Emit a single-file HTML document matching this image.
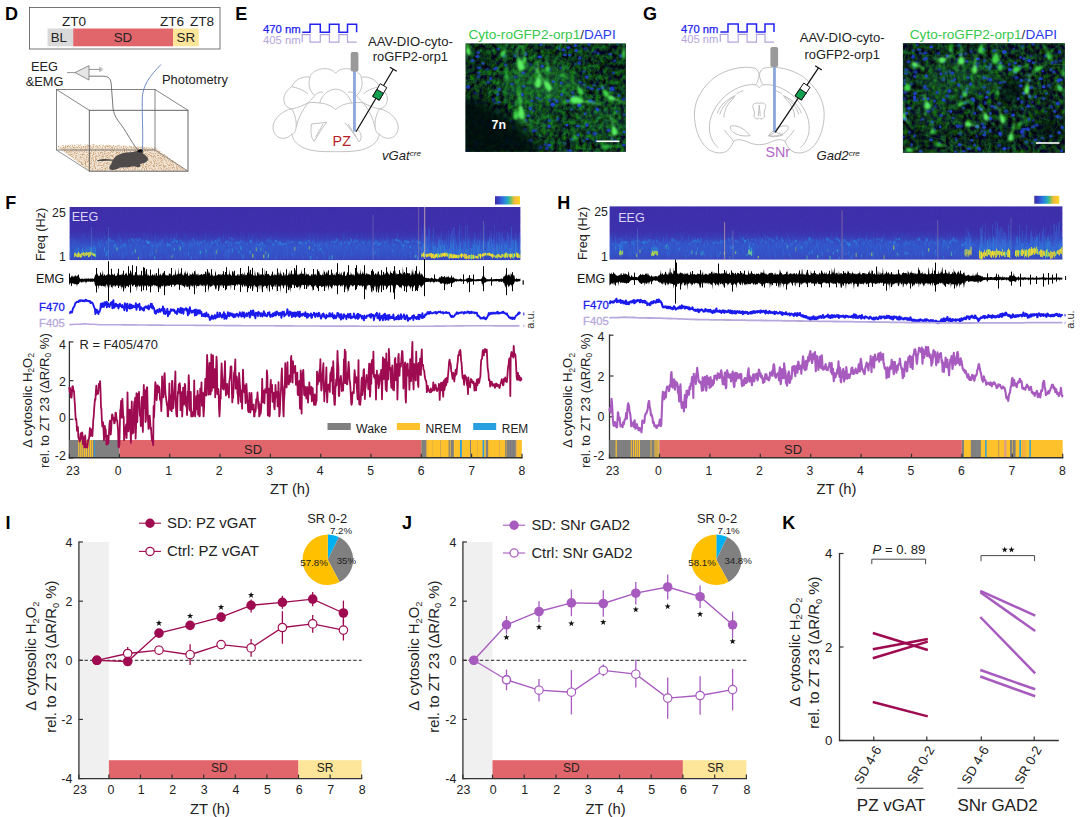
<!DOCTYPE html>
<html><head><meta charset="utf-8"><title>Figure</title>
<style>
html,body{margin:0;padding:0;background:#fff;}
body{width:1080px;height:817px;overflow:hidden;font-family:"Liberation Sans",sans-serif;}
svg{display:block;font-family:"Liberation Sans",sans-serif;}
</style></head><body>
<svg width="1080" height="817" viewBox="0 0 1080 817">
<defs>
<filter id="bedN" x="0" y="0" width="100%" height="100%" color-interpolation-filters="sRGB"><feTurbulence type="fractalNoise" baseFrequency="0.9" numOctaves="2" seed="4"/><feColorMatrix type="matrix" values="0 0 0 0 0.78  0 0 0 0 0.62  0 0 0 0 0.45  0 0 0 3.2 -1.35"/><feComposite in2="SourceGraphic" operator="in"/></filter>
<clipPath id="clipE"><rect x="465.6" y="43.5" width="160.2" height="108.3"/></clipPath>
<filter id="gnE" x="0" y="0" width="100%" height="100%" color-interpolation-filters="sRGB"><feTurbulence type="fractalNoise" baseFrequency="0.24 0.2" numOctaves="3" seed="11"/><feColorMatrix type="matrix" values="0.10 0 0 0 0.0  0.9 0 0 0 -0.24  0 0.30 0 0 -0.04  0 0 0 0 1"/></filter>
<filter id="b1E" x="-30%" y="-30%" width="160%" height="160%"><feGaussianBlur stdDeviation="0.9"/></filter>
<filter id="b2E" x="-30%" y="-30%" width="160%" height="160%"><feGaussianBlur stdDeviation="0.75"/></filter>
<filter id="b3E" x="-30%" y="-30%" width="160%" height="160%"><feGaussianBlur stdDeviation="6"/></filter>
<clipPath id="clipG"><rect x="902.9" y="43.3" width="161.9" height="109.5"/></clipPath>
<filter id="gnG" x="0" y="0" width="100%" height="100%" color-interpolation-filters="sRGB"><feTurbulence type="fractalNoise" baseFrequency="0.24 0.2" numOctaves="3" seed="23"/><feColorMatrix type="matrix" values="0.10 0 0 0 0.0  0.8 0 0 0 -0.23  0 0.30 0 0 -0.04  0 0 0 0 1"/></filter>
<filter id="b1G" x="-30%" y="-30%" width="160%" height="160%"><feGaussianBlur stdDeviation="0.9"/></filter>
<filter id="b2G" x="-30%" y="-30%" width="160%" height="160%"><feGaussianBlur stdDeviation="0.75"/></filter>
<filter id="b3G" x="-30%" y="-30%" width="160%" height="160%"><feGaussianBlur stdDeviation="6"/></filter>
<clipPath id="scF"><rect x="69.4" y="207" width="451.2" height="53.2"/></clipPath>
<linearGradient id="sgF" x1="0" y1="0" x2="0" y2="1"><stop offset="0" stop-color="#3e2ea8"/><stop offset="0.45" stop-color="#3d30ac"/><stop offset="0.56" stop-color="#3b38b2"/><stop offset="0.66" stop-color="#364cc2"/><stop offset="0.74" stop-color="#3358cc"/><stop offset="0.88" stop-color="#3454c8"/><stop offset="0.96" stop-color="#384cc0"/><stop offset="1" stop-color="#3b42b8"/></linearGradient>
<filter id="snF" x="0" y="0" width="100%" height="100%" color-interpolation-filters="sRGB"><feTurbulence type="fractalNoise" baseFrequency="0.6 0.10" numOctaves="2" seed="3"/><feColorMatrix type="matrix" values="0 0 0 0 0.18  0 0 0 0 0.44  0 0 0 0 0.85  2.0 0 0 0 -1.02"/></filter>
<filter id="sn2F" x="0" y="0" width="100%" height="100%" color-interpolation-filters="sRGB"><feTurbulence type="fractalNoise" baseFrequency="0.8 0.3" numOctaves="1" seed="8"/><feColorMatrix type="matrix" values="0 0 0 0 0.27  0 0 0 0 0.24  0 0 0 0 0.74  1.6 0 0 0 -0.62"/></filter>
<linearGradient id="smF" x1="0" y1="0" x2="0" y2="1"><stop offset="0" stop-color="#fff" stop-opacity="0"/><stop offset="0.46" stop-color="#fff" stop-opacity="0"/><stop offset="0.64" stop-color="#fff" stop-opacity="1"/><stop offset="1" stop-color="#fff" stop-opacity="0.8"/></linearGradient><mask id="mkF" maskUnits="userSpaceOnUse" x="69.4" y="207" width="451.2" height="53.2"><rect x="69.4" y="207" width="451.2" height="53.2" fill="url(#smF)"/></mask>
<filter id="sbF" x="-10%" y="-40%" width="120%" height="180%"><feGaussianBlur stdDeviation="0.55 0.7"/></filter>
<linearGradient id="cbF" x1="0" y1="0" x2="1" y2="0"><stop offset="0" stop-color="#3b2ea4"/><stop offset="0.15" stop-color="#3a42c6"/><stop offset="0.35" stop-color="#2a7ce0"/><stop offset="0.5" stop-color="#22a6c2"/><stop offset="0.62" stop-color="#5cc070"/><stop offset="0.72" stop-color="#c6c040"/><stop offset="0.8" stop-color="#f8ba3c"/><stop offset="1" stop-color="#f9d821"/></linearGradient>
<clipPath id="scH"><rect x="609.4" y="206.2" width="453.2" height="53.5"/></clipPath>
<linearGradient id="sgH" x1="0" y1="0" x2="0" y2="1"><stop offset="0" stop-color="#3e2ea8"/><stop offset="0.45" stop-color="#3d30ac"/><stop offset="0.56" stop-color="#3b38b2"/><stop offset="0.66" stop-color="#364cc2"/><stop offset="0.74" stop-color="#3358cc"/><stop offset="0.88" stop-color="#3454c8"/><stop offset="0.96" stop-color="#384cc0"/><stop offset="1" stop-color="#3b42b8"/></linearGradient>
<filter id="snH" x="0" y="0" width="100%" height="100%" color-interpolation-filters="sRGB"><feTurbulence type="fractalNoise" baseFrequency="0.6 0.10" numOctaves="2" seed="9"/><feColorMatrix type="matrix" values="0 0 0 0 0.18  0 0 0 0 0.44  0 0 0 0 0.85  2.0 0 0 0 -1.02"/></filter>
<filter id="sn2H" x="0" y="0" width="100%" height="100%" color-interpolation-filters="sRGB"><feTurbulence type="fractalNoise" baseFrequency="0.8 0.3" numOctaves="1" seed="14"/><feColorMatrix type="matrix" values="0 0 0 0 0.27  0 0 0 0 0.24  0 0 0 0 0.74  1.6 0 0 0 -0.62"/></filter>
<linearGradient id="smH" x1="0" y1="0" x2="0" y2="1"><stop offset="0" stop-color="#fff" stop-opacity="0"/><stop offset="0.46" stop-color="#fff" stop-opacity="0"/><stop offset="0.64" stop-color="#fff" stop-opacity="1"/><stop offset="1" stop-color="#fff" stop-opacity="0.8"/></linearGradient><mask id="mkH" maskUnits="userSpaceOnUse" x="609.4" y="206.2" width="453.2" height="53.5"><rect x="609.4" y="206.2" width="453.2" height="53.5" fill="url(#smH)"/></mask>
<filter id="sbH" x="-10%" y="-40%" width="120%" height="180%"><feGaussianBlur stdDeviation="0.55 0.7"/></filter>
<linearGradient id="cbH" x1="0" y1="0" x2="1" y2="0"><stop offset="0" stop-color="#3b2ea4"/><stop offset="0.15" stop-color="#3a42c6"/><stop offset="0.35" stop-color="#2a7ce0"/><stop offset="0.5" stop-color="#22a6c2"/><stop offset="0.62" stop-color="#5cc070"/><stop offset="0.72" stop-color="#c6c040"/><stop offset="0.8" stop-color="#f8ba3c"/><stop offset="1" stop-color="#f9d821"/></linearGradient>
</defs>
<rect x="0" y="0" width="1080" height="817" fill="#fff"/>
<g id="panelD">
<text x="5" y="20" font-size="18" fill="#000" font-weight="bold">D</text>
<rect x="29.5" y="7.5" width="190.5" height="41.5" fill="none" stroke="#555" stroke-width="0.8"/>
<rect x="47.5" y="28.5" width="25.7" height="17.8" fill="#d9d9d9"/>
<rect x="73.2" y="28.5" width="99.8" height="17.8" fill="#e1666b"/>
<rect x="173" y="28.5" width="25.8" height="17.8" fill="#fde59a"/>
<text x="62" y="25.6" font-size="13.6" fill="#222">ZT0</text>
<text x="160" y="25.6" font-size="13.6" fill="#222">ZT6</text>
<text x="190" y="25.6" font-size="13.6" fill="#222">ZT8</text>
<text x="58.8" y="42.3" font-size="13.3" fill="#222" text-anchor="middle">BL</text>
<text x="123" y="42.3" font-size="13.3" fill="#222" text-anchor="middle">SD</text>
<text x="185.8" y="42.3" font-size="13.3" fill="#222" text-anchor="middle">SR</text>
<text x="44.5" y="71" font-size="12.8" fill="#222" text-anchor="middle">EEG</text>
<text x="44.5" y="85.6" font-size="12.8" fill="#222" text-anchor="middle">&amp;EMG</text>
<text x="162" y="84" font-size="12.9" fill="#222">Photometry</text>
<line x1="67" y1="72.6" x2="75" y2="72.6" stroke="#777" stroke-width="0.8"/>
<path d="M75 72.6 L89 65.6 L89 80 Z" fill="#e6e6e6" stroke="#777" stroke-width="0.8"/>
<line x1="89" y1="69.4" x2="100" y2="69.4" stroke="#777" stroke-width="0.8"/>
<line x1="100" y1="66.8" x2="100" y2="72" stroke="#777" stroke-width="0.8"/>
<line x1="101.3" y1="67.8" x2="101.3" y2="71" stroke="#888" stroke-width="0.6"/>
<line x1="102.4" y1="68.6" x2="102.4" y2="70.2" stroke="#999" stroke-width="0.6"/>
<path d="M57 147 C80 144 120 146 155 148 L188 171 L89.5 171 Z" fill="#f3e6d6" stroke="none" stroke-width="0"/>
<path d="M57 146 C80 143 120 145 155 147.5 L188 171 L89.5 171 Z" fill="#c9a077" stroke="none" stroke-width="0" filter="url(#bedN)"/>
<rect x="56.5" y="89.5" width="98.5" height="60.5" fill="none" stroke="#666" stroke-width="0.8"/>
<rect x="89.3" y="110.3" width="98.7" height="60.9" fill="none" stroke="#555" stroke-width="0.9"/>
<line x1="56.5" y1="89.5" x2="89.3" y2="110.3" stroke="#666" stroke-width="0.8"/>
<line x1="155" y1="89.5" x2="188" y2="110.3" stroke="#666" stroke-width="0.8"/>
<line x1="56.5" y1="150" x2="89.3" y2="171.2" stroke="#777" stroke-width="0.8"/>
<line x1="155" y1="150" x2="188" y2="171.2" stroke="#777" stroke-width="0.8"/>
<path d="M89 76.2 L103 76.2 C109 76.2 111 79 111.3 85 L113 108 C114 118 120 122 126 132 C131 140 134 146 138.5 150.5" fill="none" stroke="#555" stroke-width="0.8"/>
<path d="M161 64.5 C150 76 143.5 84 142.3 97 C141.8 115 143.5 135 142.3 151" fill="none" stroke="#5f7fc0" stroke-width="0.9"/>
<path d="M97 160.5 C103 158.5 108 159 113 159.8 C116 155 122 152.5 130 152.3 C134 152.2 136.5 151 138.5 150.2 C141 149.5 143.5 151 143 153.4 C146 155 148.5 158 148 160 C147 162.5 143 163.5 140 164 C141.5 166 140 167.6 137.5 167 L133 166.3 C129 167.5 124 167.3 120 167.6 C117.5 169.5 113 170.4 110 169.6 C108.5 168 109.5 165.5 111.5 164 C111.5 162.5 112 161.5 112.8 160.8 C108 160.6 102 161 97 161.2 Z" fill="#4f4b4b" stroke="none" stroke-width="0"/>
<path d="M137.2 151.3 C138.5 149 141.5 148.6 142.8 150.6 C142.6 152.6 139.5 153.3 137.2 151.3 Z" fill="#111" stroke="none" stroke-width="0"/>
</g>
<g id="panelE">
<text x="235.3" y="20.3" font-size="18" fill="#000" font-weight="bold">E</text>
<text x="263" y="33.2" font-size="11.3" fill="#2222f2" stroke="#2222f2" stroke-width="0.25">470 nm</text>
<text x="263" y="43.6" font-size="11.3" fill="#b4a4dc">405 nm</text>
<path d="M302.2 32.2 L302.2 32.2 L310 32.2 L310 24.2 L320.3 24.2 L320.3 32.2 L329.4 32.2 L329.4 24.2 L338.9 24.2 L338.9 32.2 L347.5 32.2 L347.5 24.2 L356.6 24.2 L356.6 32.2" fill="none" stroke="#2222f2" stroke-width="1.5"/>
<path d="M302.2 42.2 L302.2 34.6 L310 34.6 L310 42.2 L320.3 42.2 L320.3 34.6 L329.4 34.6 L329.4 42.2 L338.9 42.2 L338.9 34.6 L347.5 34.6 L347.5 42.2 L356.6 42.2" fill="none" stroke="#b4a4dc" stroke-width="1.2"/>
<g transform="translate(262 55) scale(0.13889)" fill="none" stroke="#bebebe" stroke-width="6.8" stroke-linejoin="round">
<path d="M530 132 C510 104 470 94 430 100 C390 106 352 128 345 160 C295 150 232 178 215 228 C172 255 148 300 160 338 C166 366 188 384 214 388 C150 400 88 452 80 510 C74 562 108 600 150 600 C184 600 200 584 214 570 C224 610 240 630 262 646 C330 698 430 696 530 696 M530 132 C550 104 590 94 630 100 C670 106 708 128 715 160 C765 150 828 178 845 228 C888 255 912 300 900 338 C894 366 872 384 846 388 C910 400 972 452 980 510 C986 562 952 600 910 600 C876 600 860 584 846 570 C836 610 820 630 798 646 C730 698 630 696 530 696"/>
<path d="M345 160 C330 215 345 265 380 292 C360 320 340 335 330 345 M214 388 C260 380 300 360 330 345 C360 340 390 342 415 346 M415 346 C430 290 480 246 530 246 M415 346 C455 348 495 362 530 392 M380 292 C395 270 420 262 440 268 M214 388 C235 420 250 470 246 520 C240 560 226 572 214 570 M330 345 C290 400 262 450 246 520 M215 228 C250 236 300 250 330 280 M715 160 C730 215 715 265 680 292 C700 320 720 335 730 345 M846 388 C800 380 760 360 730 345 C700 340 670 342 645 346 M645 346 C630 290 580 246 530 246 M645 346 C605 348 565 362 530 392 M680 292 C665 270 640 262 620 268 M846 388 C825 420 810 470 814 520 C820 560 834 572 846 570 M730 345 C770 400 798 450 814 520 M845 228 C810 236 760 250 730 280"/>
<path d="M356 497 L466 485 C430 530 400 580 376 622 C350 600 350 540 356 497 Z M440 497 C420 530 400 565 386 592"/>
<path d="M595 487 C630 520 660 570 700 626 C722 600 716 560 690 540 M620 497 C640 530 660 560 680 590"/>
</g>
<rect x="353" y="70" width="2.9" height="61.5" fill="#8ea9dc"/>
<rect x="350.7" y="52" width="7.7" height="19.6" rx="1.8" fill="#9a9a9a"/>
<line x1="356" y1="131.8" x2="393.3" y2="69.3" stroke="#111" stroke-width="1.25"/>
<line x1="389.9" y1="67.3" x2="396.7" y2="71.3" stroke="#111" stroke-width="1.25"/>
<polygon points="372.7,96.4 379.3,100.2 386.8,87.6 380.3,83.7" fill="#fff" stroke="#111" stroke-width="1"/>
<polygon points="372.7,96.4 379.3,100.2 383.4,93.3 376.9,89.4" fill="#12a150" stroke="#111" stroke-width="1"/>
<text x="410.4" y="45.6" font-size="13.1" fill="#222" text-anchor="middle">AAV-DIO-cyto-</text>
<text x="410.4" y="61.1" font-size="12.9" fill="#222" text-anchor="middle">roGFP2-orp1</text>
<text x="332.6" y="146.2" font-size="14.3" fill="#b5202a">PZ</text>
<text x="382" y="160" font-size="13.1" fill="#222" font-style="italic">vGat<tspan font-size="8.1" dy="-4.2">cre</tspan></text>
</g>
<g id="panelG">
<text x="643" y="20.4" font-size="18" fill="#000" font-weight="bold">G</text>
<text x="681" y="32.6" font-size="11.2" fill="#2222f2" stroke="#2222f2" stroke-width="0.25">470 nm</text>
<text x="681" y="43" font-size="11.2" fill="#b4a4dc">405 nm</text>
<path d="M720.3 32 L720.3 32 L728 32 L728 24.1 L738.2 24.1 L738.2 32 L747.1 32 L747.1 24.1 L756.5 24.1 L756.5 32 L765 32 L765 24.1 L774 24.1 L774 32" fill="none" stroke="#2222f2" stroke-width="1.5"/>
<path d="M720.3 42.1 L720.3 34.4 L728 34.4 L728 42.1 L738.2 42.1 L738.2 34.4 L747.1 34.4 L747.1 42.1 L756.5 42.1 L756.5 34.4 L765 34.4 L765 42.1 L774 42.1" fill="none" stroke="#b4a4dc" stroke-width="1.2"/>
<g transform="translate(685 55) scale(0.13889)" fill="none" stroke="#bcbcbc" stroke-width="6.8" stroke-linejoin="round">
<path d="M535 142 C528 112 515 98 498 94 C420 76 300 100 215 160 C130 225 70 320 68 420 C66 520 100 620 160 672 C200 706 262 716 300 692 C322 676 338 650 350 622 C380 600 420 612 450 626 C480 640 510 646 535 646 M535 142 C542 112 555 98 572 94 C650 76 770 100 855 160 C940 225 1000 320 1002 420 C1004 520 970 620 910 672 C870 706 808 716 770 692 C748 676 732 650 720 622 C690 600 650 612 620 626 C590 640 560 646 535 646"/>
<path d="M535 142 C528 180 520 205 505 215 M535 236 C525 222 515 216 505 215 C440 205 350 240 285 300 C215 365 170 450 176 540 C180 590 205 640 240 668 M420 258 C400 262 385 270 372 282 M362 292 C300 318 250 365 232 420 M352 300 C300 335 265 380 250 428 M362 292 C355 300 350 305 345 318 C305 350 282 400 280 450 M350 622 C330 590 300 570 285 540 M330 512 C370 500 430 530 468 580 C420 590 360 575 335 545 C325 532 324 520 330 512 M535 348 C505 340 482 352 490 380 C498 402 505 420 496 440 C505 462 525 466 535 452 M535 360 L528 440 M535 142 C542 180 550 205 565 215 M535 236 C545 222 555 216 565 215 C630 205 720 240 785 300 C855 365 900 450 894 540 C890 590 865 640 830 668 M650 258 C670 262 685 270 698 282 M708 292 C770 318 820 365 838 420 M718 300 C770 335 805 380 820 428 M708 292 C715 300 720 305 725 318 C765 350 788 400 790 450 M720 622 C740 590 770 570 785 540 M740 512 C700 500 640 530 602 580 C650 590 710 575 735 545 C745 532 746 520 740 512 M535 348 C565 340 588 352 580 380 C572 402 565 420 574 440 C565 462 545 466 535 452 M535 360 L542 440"/>
<path d="M600 582 L652 555 L706 575 C670 590 630 592 600 582 Z"/>
</g>
<rect x="773" y="66" width="2.9" height="66" fill="#8ea9dc"/>
<rect x="770.4" y="47" width="7.7" height="20" rx="1.8" fill="#9a9a9a"/>
<line x1="775.2" y1="132.4" x2="818.5" y2="67.9" stroke="#111" stroke-width="1.25"/>
<line x1="815.2" y1="65.7" x2="821.8" y2="70.1" stroke="#111" stroke-width="1.25"/>
<polygon points="795.1,95.9 801.4,100.1 810.1,87.3 803.7,83.1" fill="#fff" stroke="#111" stroke-width="1"/>
<polygon points="795.1,95.9 801.4,100.1 806.2,93.1 799.9,88.8" fill="#12a150" stroke="#111" stroke-width="1"/>
<text x="842.2" y="42.2" font-size="13.1" fill="#222" text-anchor="middle">AAV-DIO-cyto-</text>
<text x="842.2" y="58.6" font-size="12.9" fill="#222" text-anchor="middle">roGFP2-orp1</text>
<text x="765.5" y="157.2" font-size="14.3" fill="#b266c8">SNr</text>
<text x="816.6" y="160.2" font-size="13.1" fill="#222" font-style="italic">Gad2<tspan font-size="8.1" dy="-4.2">cre</tspan></text>
</g>
<g clip-path="url(#clipE)">
<rect x="465.6" y="43.5" width="160.2" height="108.3" fill="#0a2a12"/>
<rect x="465.6" y="43.5" width="160.2" height="108.3" fill="#0a2a12" filter="url(#gnE)"/>
<ellipse cx="540" cy="85" rx="40" ry="22" fill="#2fb84a" opacity="0.3" filter="url(#b3E)"/>
<ellipse cx="600" cy="120" rx="30" ry="20" fill="#2fb84a" opacity="0.18" filter="url(#b3E)"/>
<ellipse cx="535" cy="125" rx="22" ry="14" fill="#2fb84a" opacity="0.2" filter="url(#b3E)"/>
<ellipse cx="475" cy="60" rx="14" ry="12" fill="#03100c" opacity="0.35" filter="url(#b3E)"/>
<ellipse cx="615" cy="60" rx="14" ry="10" fill="#03100c" opacity="0.3" filter="url(#b3E)"/>
<g stroke="#2fae3c" stroke-width="0.7" opacity="0.4" fill="none" filter="url(#b2E)">
<path d="M538.1 104.1 q0.1 0.7 -13.1 3.2"/>
<path d="M495.2 98.9 q-3.2 -1.6 -7.4 17.2"/>
<path d="M480.1 131.2 q3.9 3.7 -3.8 5.5"/>
<path d="M570.4 110.2 q0.2 -3.5 5.5 3"/>
<path d="M496.1 69.7 q-0.5 2.7 13.4 1.3"/>
<path d="M548.8 112.8 q-0.3 -1.8 0 16.6"/>
<path d="M625.4 151.3 q-1.5 -2.2 -15.2 8.3"/>
<path d="M511.9 51.1 q2.8 -0.9 -9.2 8.3"/>
<path d="M619.1 135.3 q3.3 -0.2 9.4 0"/>
<path d="M622.7 86.5 q2.2 -1.8 15.7 3.7"/>
<path d="M479.6 79.5 q-3.1 -2 -18 2"/>
<path d="M481.8 50 q0.5 -0.4 -7.1 5.3"/>
<path d="M496.1 122.8 q-3.1 -0.6 14.9 6.5"/>
<path d="M499.7 72.7 q-1.6 3.1 -18.8 1.7"/>
<path d="M499.4 86.2 q-3.2 3.9 -14.6 7.2"/>
<path d="M499.8 71.5 q-1.6 -3.4 -8.5 7.4"/>
<path d="M480 106.6 q-1 -0.4 11.3 10.8"/>
<path d="M619.3 95.9 q-2.5 -2.8 -4.6 19.3"/>
<path d="M611.1 132.1 q1.9 3.5 6.4 6.4"/>
<path d="M497.1 146.4 q-0.6 -3.2 -14.6 5.7"/>
<path d="M471.8 147.8 q-1.9 2.6 12.7 11.8"/>
<path d="M561.2 75.3 q-3.4 -2.2 14.9 9.2"/>
<path d="M555.2 135.8 q3.3 -2.4 -3.7 9.8"/>
<path d="M468.3 72.7 q-2.6 -1 1.2 6.9"/>
<path d="M557.3 57.7 q3.8 1.3 8.5 18.4"/>
<path d="M576.3 106.8 q-3.9 3.3 5.9 2.8"/>
<path d="M577.9 147.8 q-0.1 1.8 16.1 1.1"/>
<path d="M516.7 151.7 q1.9 3.2 14.3 3.5"/>
<path d="M583.7 119.7 q-1.2 1.5 -16.4 12.5"/>
<path d="M609.9 137.8 q2.9 0.6 4.8 18"/>
<path d="M565.7 84.9 q-3.4 1.1 -4 15.2"/>
<path d="M624.7 138.8 q1.9 0.6 -8 9.2"/>
<path d="M536.2 134.3 q-3.8 0.8 17.4 4.7"/>
<path d="M542.6 68.4 q0.9 3.4 -8.1 11.3"/>
<path d="M506.6 44.7 q-2.4 -2.6 9.9 13.7"/>
<path d="M610.7 115 q-1.4 1.3 3.7 19.9"/>
<path d="M497.4 90.2 q3 -0.9 -16.9 11.8"/>
<path d="M559 77.8 q2.7 2.8 12.7 5.8"/>
<path d="M579.5 146.4 q-0.4 -1.8 5.6 6.7"/>
<path d="M499.9 88.3 q-1.5 2.7 -5.3 12.8"/>
<path d="M622.9 92.5 q3 -3.7 6.3 1.5"/>
<path d="M579.1 105.3 q-3.8 -2.9 10.5 15.4"/>
<path d="M538.5 46.2 q-2.9 -3.6 -8.4 5"/>
<path d="M566.4 91.9 q2.5 3.7 -6.5 15.1"/>
<path d="M575.3 65.1 q-3.9 -0.2 0.7 8.8"/>
<path d="M580 62.9 q1.6 0.2 7.6 8.7"/>
<path d="M564 125.4 q3.2 -3.3 6.1 17.6"/>
<path d="M615 121.7 q1 3.3 12.2 5.3"/>
<path d="M526 105.1 q3.6 -0.3 -17.4 6.9"/>
<path d="M569.9 65.7 q1.1 1.7 -12.3 14.6"/>
<path d="M499.8 141 q0.3 2.3 -21.6 1.3"/>
<path d="M516.9 142.1 q-3.3 -0.5 -10.4 5.1"/>
<path d="M553.8 126.7 q2.5 -3.5 0.3 6.4"/>
<path d="M593.7 62.2 q-2.9 -2.8 9.2 16.2"/>
<path d="M548.3 121.9 q3.6 -0.1 -14.9 8.2"/>
<path d="M617.7 52.8 q-1.7 1.8 11.1 9.2"/>
<path d="M567.9 100.1 q-1.5 -1 -13.2 7.1"/>
<path d="M601 141 q3.7 0.2 15.6 11.9"/>
<path d="M557.4 65.3 q0.8 -3.8 -1.6 14"/>
<path d="M620.9 99.4 q0.5 -0.1 5.8 17.9"/>
</g>
<g fill="#2243dc" filter="url(#b2E)">
<ellipse cx="576.3" cy="50.6" rx="1.8" ry="1.5" opacity="0.9"/>
<ellipse cx="613.5" cy="72.7" rx="1.8" ry="1.3" opacity="0.6"/>
<ellipse cx="596.3" cy="141" rx="1.8" ry="1.5" opacity="0.5"/>
<ellipse cx="564.6" cy="143.7" rx="1.4" ry="1.8" opacity="0.4"/>
<ellipse cx="496.7" cy="68.1" rx="2" ry="1.5" opacity="0.6"/>
<ellipse cx="564.9" cy="54.9" rx="2" ry="1.3" opacity="0.7"/>
<ellipse cx="505.7" cy="64.9" rx="1.8" ry="1.5" opacity="0.6"/>
<ellipse cx="531.8" cy="100.8" rx="1.5" ry="1.4" opacity="0.7"/>
<ellipse cx="567.9" cy="100.9" rx="2.2" ry="1.7" opacity="0.8"/>
<ellipse cx="502.9" cy="123.7" rx="2.1" ry="1.9" opacity="0.6"/>
<ellipse cx="516.1" cy="143.4" rx="1.5" ry="2" opacity="0.8"/>
<ellipse cx="487.1" cy="69.4" rx="2" ry="1.4" opacity="0.4"/>
<ellipse cx="598.9" cy="89.2" rx="2.1" ry="1.3" opacity="0.6"/>
<ellipse cx="575.4" cy="45.4" rx="1.5" ry="1.7" opacity="0.9"/>
<ellipse cx="620.7" cy="56" rx="1.8" ry="1.8" opacity="0.7"/>
<ellipse cx="575.4" cy="64" rx="1.4" ry="1.3" opacity="0.4"/>
<ellipse cx="554" cy="99.3" rx="1.9" ry="1.3" opacity="0.5"/>
<ellipse cx="498.3" cy="134.5" rx="2.3" ry="1.9" opacity="0.4"/>
<ellipse cx="475.5" cy="146.5" rx="1.8" ry="1.8" opacity="0.6"/>
<ellipse cx="540.4" cy="99.3" rx="1.7" ry="1.7" opacity="0.4"/>
<ellipse cx="577.9" cy="134.9" rx="1.5" ry="1.6" opacity="0.8"/>
<ellipse cx="530.5" cy="64.6" rx="1.5" ry="1.6" opacity="0.4"/>
<ellipse cx="608.7" cy="130.3" rx="2" ry="1.9" opacity="0.7"/>
<ellipse cx="530.4" cy="108.4" rx="1.8" ry="2" opacity="0.8"/>
<ellipse cx="507" cy="142.2" rx="2" ry="1.8" opacity="0.8"/>
<ellipse cx="530.6" cy="140.6" rx="2.2" ry="1.8" opacity="0.8"/>
<ellipse cx="588.2" cy="87.4" rx="2" ry="1.3" opacity="0.6"/>
<ellipse cx="540.7" cy="44.6" rx="1.7" ry="1.7" opacity="0.7"/>
<ellipse cx="502.8" cy="145.8" rx="2" ry="1.5" opacity="0.7"/>
<ellipse cx="556.8" cy="101.2" rx="1.7" ry="2" opacity="0.7"/>
<ellipse cx="577.9" cy="126" rx="2.3" ry="1.2" opacity="0.7"/>
<ellipse cx="584" cy="71.3" rx="1.7" ry="1.2" opacity="0.5"/>
<ellipse cx="525.8" cy="54.2" rx="1.6" ry="1.9" opacity="0.7"/>
<ellipse cx="547" cy="148.2" rx="1.9" ry="2" opacity="0.7"/>
<ellipse cx="595.3" cy="51.8" rx="1.9" ry="1.8" opacity="0.4"/>
<ellipse cx="614.6" cy="60.8" rx="1.8" ry="1.3" opacity="0.6"/>
<ellipse cx="563.5" cy="49.8" rx="2.2" ry="1.5" opacity="0.7"/>
<ellipse cx="561.4" cy="83.1" rx="1.6" ry="1.7" opacity="0.7"/>
<ellipse cx="511" cy="121.1" rx="1.6" ry="1.2" opacity="0.5"/>
<ellipse cx="472.5" cy="60.5" rx="2.1" ry="1.5" opacity="0.8"/>
<ellipse cx="585.5" cy="48.9" rx="2.3" ry="2" opacity="0.4"/>
<ellipse cx="610.7" cy="90" rx="1.8" ry="2" opacity="0.5"/>
<ellipse cx="549.4" cy="145" rx="2" ry="1.6" opacity="0.9"/>
<ellipse cx="596.4" cy="108.9" rx="1.4" ry="1.7" opacity="0.6"/>
<ellipse cx="498.2" cy="49.1" rx="1.8" ry="1.3" opacity="0.6"/>
<ellipse cx="572.6" cy="92.8" rx="1.6" ry="1.7" opacity="0.6"/>
<ellipse cx="590.2" cy="101" rx="2.3" ry="2" opacity="0.8"/>
<ellipse cx="503.8" cy="55.8" rx="2.2" ry="1.8" opacity="0.7"/>
<ellipse cx="523.1" cy="72.9" rx="2" ry="1.7" opacity="0.7"/>
<ellipse cx="567" cy="125.1" rx="1.5" ry="1.4" opacity="0.9"/>
<ellipse cx="612.3" cy="138.7" rx="1.3" ry="1.2" opacity="0.5"/>
<ellipse cx="533.7" cy="111" rx="1.4" ry="1.6" opacity="0.4"/>
<ellipse cx="479.4" cy="116.7" rx="1.9" ry="1.7" opacity="0.6"/>
<ellipse cx="542.3" cy="66.3" rx="1.6" ry="1.8" opacity="0.8"/>
<ellipse cx="477.5" cy="56.5" rx="2.1" ry="1.7" opacity="0.8"/>
<ellipse cx="499.7" cy="89.5" rx="1.6" ry="1.8" opacity="0.6"/>
<ellipse cx="570.3" cy="150.6" rx="1.6" ry="1.6" opacity="0.8"/>
<ellipse cx="613.1" cy="89.8" rx="1.7" ry="1.3" opacity="0.8"/>
<ellipse cx="478.2" cy="52.5" rx="1.9" ry="1.6" opacity="0.7"/>
<ellipse cx="513.5" cy="127.5" rx="1.4" ry="1.4" opacity="0.7"/>
<ellipse cx="478.7" cy="76.4" rx="2" ry="1.8" opacity="0.5"/>
<ellipse cx="488.5" cy="82.2" rx="2" ry="1.5" opacity="0.5"/>
<ellipse cx="579.2" cy="105.2" rx="2.2" ry="2" opacity="0.9"/>
<ellipse cx="535.8" cy="130.5" rx="1.6" ry="1.5" opacity="0.6"/>
<ellipse cx="615.3" cy="140.4" rx="1.5" ry="1.5" opacity="0.6"/>
<ellipse cx="523.8" cy="86.3" rx="1.7" ry="1.4" opacity="0.7"/>
<ellipse cx="593.3" cy="102" rx="2.1" ry="1.7" opacity="0.5"/>
<ellipse cx="587.2" cy="138.9" rx="1.6" ry="1.2" opacity="0.7"/>
<ellipse cx="552.8" cy="105" rx="2.3" ry="1.7" opacity="0.8"/>
<ellipse cx="475.9" cy="102.7" rx="2.1" ry="1.3" opacity="0.4"/>
<ellipse cx="583.7" cy="140.9" rx="1.4" ry="1.7" opacity="0.5"/>
<ellipse cx="585.1" cy="113.8" rx="1.5" ry="1.4" opacity="0.8"/>
<ellipse cx="549.2" cy="126.3" rx="1.7" ry="1.5" opacity="0.9"/>
<ellipse cx="573.3" cy="97" rx="1.8" ry="1.8" opacity="0.8"/>
<ellipse cx="612.2" cy="88" rx="2.1" ry="1.7" opacity="0.8"/>
<ellipse cx="594.7" cy="133.8" rx="2.2" ry="2" opacity="0.7"/>
<ellipse cx="549.5" cy="120.4" rx="2.1" ry="1.5" opacity="0.6"/>
<ellipse cx="489" cy="123.8" rx="2.3" ry="1.5" opacity="0.5"/>
<ellipse cx="498.3" cy="89.5" rx="1.6" ry="2" opacity="0.4"/>
<ellipse cx="515" cy="55.9" rx="1.9" ry="1.8" opacity="0.5"/>
<ellipse cx="475.6" cy="93.2" rx="1.9" ry="1.9" opacity="0.4"/>
<ellipse cx="483" cy="63.5" rx="1.5" ry="1.4" opacity="0.8"/>
<ellipse cx="560.9" cy="67.8" rx="1.5" ry="1.4" opacity="0.5"/>
<ellipse cx="587" cy="77.3" rx="1.8" ry="1.9" opacity="0.6"/>
<ellipse cx="507.3" cy="139.6" rx="2.2" ry="1.5" opacity="0.7"/>
<ellipse cx="618.9" cy="95.8" rx="1.5" ry="1.2" opacity="0.9"/>
<ellipse cx="594" cy="85.2" rx="1.8" ry="1.6" opacity="0.5"/>
<ellipse cx="624.2" cy="114.7" rx="1.5" ry="1.2" opacity="0.6"/>
<ellipse cx="525.1" cy="129.8" rx="2" ry="1.7" opacity="0.5"/>
<ellipse cx="490.7" cy="78.4" rx="1.6" ry="1.9" opacity="0.7"/>
<ellipse cx="567.6" cy="151.1" rx="1.6" ry="1.6" opacity="0.5"/>
<ellipse cx="589" cy="43.6" rx="2.1" ry="1.9" opacity="0.8"/>
<ellipse cx="478.8" cy="72.7" rx="2" ry="1.3" opacity="0.6"/>
<ellipse cx="540.7" cy="147" rx="1.9" ry="1.9" opacity="0.6"/>
<ellipse cx="592" cy="88.7" rx="2.2" ry="1.3" opacity="0.8"/>
<ellipse cx="499" cy="102.3" rx="1.8" ry="1.3" opacity="0.8"/>
<ellipse cx="515.5" cy="77.2" rx="1.4" ry="1.4" opacity="0.6"/>
<ellipse cx="580.2" cy="82.5" rx="2" ry="1.3" opacity="0.6"/>
<ellipse cx="539.6" cy="148.2" rx="2.1" ry="1.7" opacity="0.4"/>
<ellipse cx="526" cy="120.4" rx="1.5" ry="1.7" opacity="0.6"/>
<ellipse cx="467.3" cy="150.9" rx="2.1" ry="1.4" opacity="0.7"/>
<ellipse cx="512.1" cy="84.2" rx="1.8" ry="1.4" opacity="0.6"/>
<ellipse cx="528.4" cy="115.7" rx="1.6" ry="1.4" opacity="0.8"/>
<ellipse cx="518.4" cy="145.8" rx="1.9" ry="1.8" opacity="0.6"/>
<ellipse cx="598.1" cy="53.5" rx="1.4" ry="1.3" opacity="0.7"/>
<ellipse cx="579.1" cy="63" rx="1.7" ry="1.9" opacity="0.7"/>
<ellipse cx="480" cy="68" rx="1.5" ry="1.3" opacity="0.6"/>
<ellipse cx="477.2" cy="143.2" rx="1.7" ry="1.6" opacity="0.7"/>
<ellipse cx="588.5" cy="132.4" rx="1.7" ry="1.5" opacity="0.6"/>
<ellipse cx="468.1" cy="86.9" rx="2" ry="2" opacity="0.8"/>
<ellipse cx="571.4" cy="109.4" rx="1.3" ry="1.5" opacity="0.6"/>
<ellipse cx="569.8" cy="55" rx="1.7" ry="1.6" opacity="0.8"/>
<ellipse cx="597.8" cy="109.7" rx="1.5" ry="1.8" opacity="0.9"/>
<ellipse cx="553.4" cy="81.7" rx="1.8" ry="1.3" opacity="0.8"/>
<ellipse cx="623.7" cy="99.4" rx="2" ry="1.9" opacity="0.5"/>
<ellipse cx="617" cy="111.4" rx="1.5" ry="1.3" opacity="0.5"/>
<ellipse cx="558" cy="119" rx="1.6" ry="1.9" opacity="0.6"/>
<ellipse cx="539.8" cy="56.9" rx="2.3" ry="1.3" opacity="0.9"/>
<ellipse cx="552.7" cy="104.2" rx="1.9" ry="1.4" opacity="0.9"/>
<ellipse cx="624.5" cy="132" rx="1.9" ry="1.3" opacity="0.8"/>
<ellipse cx="511.8" cy="140.6" rx="1.5" ry="1.7" opacity="0.8"/>
<ellipse cx="495.3" cy="102.8" rx="1.4" ry="1.2" opacity="0.5"/>
<ellipse cx="623.7" cy="145.2" rx="2" ry="1.4" opacity="0.7"/>
<ellipse cx="583.8" cy="84.8" rx="1.9" ry="1.8" opacity="0.4"/>
<ellipse cx="497.6" cy="94.2" rx="1.4" ry="1.5" opacity="0.7"/>
<ellipse cx="493.4" cy="99.8" rx="1.6" ry="1.7" opacity="0.6"/>
<ellipse cx="568.4" cy="47.6" rx="2" ry="1.3" opacity="0.9"/>
<ellipse cx="561.7" cy="94.4" rx="1.7" ry="1.7" opacity="0.7"/>
<ellipse cx="587" cy="124.9" rx="1.8" ry="2" opacity="0.8"/>
<ellipse cx="602.6" cy="87.8" rx="1.7" ry="1.7" opacity="0.9"/>
<ellipse cx="549.9" cy="100.4" rx="1.7" ry="1.9" opacity="0.6"/>
<ellipse cx="474.4" cy="122.1" rx="2.2" ry="1.8" opacity="0.7"/>
<ellipse cx="586.1" cy="76.5" rx="1.9" ry="1.3" opacity="0.5"/>
<ellipse cx="537.2" cy="97.9" rx="1.7" ry="1.2" opacity="0.7"/>
<ellipse cx="549.9" cy="69.4" rx="1.6" ry="1.5" opacity="0.5"/>
<ellipse cx="476.6" cy="142.2" rx="2.3" ry="1.7" opacity="0.8"/>
<ellipse cx="533.1" cy="130.7" rx="1.5" ry="1.8" opacity="0.7"/>
<ellipse cx="610.3" cy="54.2" rx="2.1" ry="1.3" opacity="0.7"/>
<ellipse cx="617.9" cy="43.6" rx="1.5" ry="1.4" opacity="0.6"/>
<ellipse cx="475.6" cy="140.4" rx="2.1" ry="1.5" opacity="0.6"/>
<ellipse cx="559.4" cy="48.5" rx="1.3" ry="1.9" opacity="0.6"/>
<ellipse cx="545.4" cy="144.6" rx="2.3" ry="1.6" opacity="0.5"/>
<ellipse cx="512.9" cy="143.4" rx="2.2" ry="1.4" opacity="0.8"/>
<ellipse cx="522.3" cy="94.7" rx="1.5" ry="1.9" opacity="0.9"/>
<ellipse cx="498" cy="112" rx="1.5" ry="1.9" opacity="0.4"/>
<ellipse cx="482.6" cy="122.1" rx="1.6" ry="1.9" opacity="0.8"/>
<ellipse cx="579.8" cy="58.1" rx="2" ry="2" opacity="0.6"/>
<ellipse cx="478.3" cy="67.7" rx="1.6" ry="1.8" opacity="0.5"/>
<ellipse cx="494.6" cy="69" rx="2" ry="1.8" opacity="0.6"/>
<ellipse cx="571.7" cy="139.3" rx="1.9" ry="1.4" opacity="0.6"/>
</g>
<path d="M455 92 C490 100 520 118 548 160 L455 160 Z" fill="#020a0c" opacity="0.9" filter="url(#b3E)"/>
<g filter="url(#b1E)">
<g transform="translate(468.4 51.2) rotate(-15)" fill="#5af060" stroke="#5af060">
<path d="M0 -5 C1.1 -4 2.3 -1.2 2.2 1.4 C2.1 3.2 0.9 4 0 4.2 C-0.9 4 -2.1 3.2 -2.2 1.4 C-2.3 -1.2 -1.1 -4 0 -5 Z" stroke="none"/>
<path d="M0 -4.4 q0.5 -5.8 -1.3 -11.6" fill="none" stroke-width="1.4" opacity="0.8"/>
<path d="M-1.3 2.8 q-1.5 2.2 -2.8 4.4" fill="none" stroke-width="1.1" opacity="0.7"/>
</g>
<g transform="translate(503.3 53.1) rotate(30)" fill="#3fd648" stroke="#3fd648">
<path d="M0 -4.2 C1.3 -3.4 2.7 -1 2.6 1.2 C2.5 2.7 1 3.4 0 3.6 C-1 3.4 -2.5 2.7 -2.6 1.2 C-2.7 -1 -1.3 -3.4 0 -4.2 Z" stroke="none"/>
<path d="M0 -3.7 q0.1 -4 -2.7 -8" fill="none" stroke-width="1.2" opacity="0.8"/>
<path d="M1.6 2.4 q1.5 2.3 2.7 4.6" fill="none" stroke-width="1" opacity="0.7"/>
</g>
<g transform="translate(520.4 65) rotate(-15)" fill="#5af060" stroke="#5af060">
<path d="M0 -7 C1.8 -5.6 3.8 -1.7 3.6 2 C3.4 4.5 1.4 5.6 0 5.9 C-1.4 5.6 -3.4 4.5 -3.6 2 C-3.8 -1.7 -1.8 -5.6 0 -7 Z" stroke="none"/>
<path d="M0 -6.2 q-1 -6.7 2.9 -13.4" fill="none" stroke-width="1.4" opacity="0.8"/>
<path d="M-2.2 3.9 q-1.5 3.4 -1.7 6.8" fill="none" stroke-width="1.1" opacity="0.7"/>
</g>
<g transform="translate(524.4 59.5) rotate(0)" fill="#3fd648" stroke="#3fd648">
<path d="M0 -4.5 C1 -3.6 2.1 -1.1 2 1.3 C1.9 2.9 0.8 3.6 0 3.8 C-0.8 3.6 -1.9 2.9 -2 1.3 C-2.1 -1.1 -1 -3.6 0 -4.5 Z" stroke="none"/>
<path d="M0 -4 q1.5 -5.1 -2.8 -10.3" fill="none" stroke-width="1.3" opacity="0.8"/>
<path d="M1.2 2.5 q1.5 3.4 1 6.8" fill="none" stroke-width="1" opacity="0.7"/>
</g>
<g transform="translate(538.2 82.5) rotate(5)" fill="#5af060" stroke="#5af060">
<path d="M0 -6.8 C1.5 -5.4 3.2 -1.6 3 1.9 C2.8 4.3 1.2 5.4 0 5.7 C-1.2 5.4 -2.8 4.3 -3 1.9 C-3.2 -1.6 -1.5 -5.4 0 -6.8 Z" stroke="none"/>
<path d="M0 -5.9 q-1.3 -7.7 -2.6 -15.4" fill="none" stroke-width="1.4" opacity="0.8"/>
</g>
<g transform="translate(547.7 85.8) rotate(-35)" fill="#5af060" stroke="#5af060">
<path d="M0 -7 C1.5 -5.6 3.2 -1.7 3 2 C2.8 4.5 1.2 5.6 0 5.9 C-1.2 5.6 -2.8 4.5 -3 2 C-3.2 -1.7 -1.5 -5.6 0 -7 Z" stroke="none"/>
<path d="M0 -6.2 q-0.5 -8 -0.1 -16.1" fill="none" stroke-width="1.4" opacity="0.8"/>
<path d="M-1.8 3.9 q-1.5 3.8 -3.4 7.6" fill="none" stroke-width="1.1" opacity="0.7"/>
</g>
<g transform="translate(547.4 68.7) rotate(0)" fill="#3fd648" stroke="#3fd648">
<path d="M0 -3.2 C1.1 -2.6 2.3 -0.8 2.2 0.9 C2.1 2.1 0.9 2.6 0 2.7 C-0.9 2.6 -2.1 2.1 -2.2 0.9 C-2.3 -0.8 -1.1 -2.6 0 -3.2 Z" stroke="none"/>
<path d="M0 -2.9 q-1.2 -3.5 -0.4 -7" fill="none" stroke-width="1.2" opacity="0.8"/>
<path d="M1.3 1.8 q1.5 2.2 4.1 4.3" fill="none" stroke-width="1" opacity="0.7"/>
</g>
<g transform="translate(576.7 100.3) rotate(100)" fill="#5af060" stroke="#5af060">
<path d="M0 -8 C1.8 -6.4 3.8 -1.9 3.6 2.2 C3.4 5.1 1.4 6.4 0 6.7 C-1.4 6.4 -3.4 5.1 -3.6 2.2 C-3.8 -1.9 -1.8 -6.4 0 -8 Z" stroke="none"/>
<path d="M0 -7 q-0.8 -8.7 -0.1 -17.3" fill="none" stroke-width="1.4" opacity="0.8"/>
<path d="M2.2 4.5 q1.5 5.4 2 10.9" fill="none" stroke-width="1.1" opacity="0.7"/>
</g>
<g transform="translate(580.1 90.7) rotate(-30)" fill="#3fd648" stroke="#3fd648">
<path d="M0 -5.2 C1.3 -4.2 2.7 -1.3 2.6 1.5 C2.5 3.4 1 4.2 0 4.4 C-1 4.2 -2.5 3.4 -2.6 1.5 C-2.7 -1.3 -1.3 -4.2 0 -5.2 Z" stroke="none"/>
<path d="M0 -4.6 q1.4 -4 -2.7 -7.9" fill="none" stroke-width="1.2" opacity="0.8"/>
<path d="M1.6 2.9 q1.5 4.3 1.6 8.6" fill="none" stroke-width="1" opacity="0.7"/>
</g>
<g transform="translate(605.8 93.5) rotate(-30)" fill="#3fd648" stroke="#3fd648">
<path d="M0 -4.5 C1.3 -3.6 2.7 -1.1 2.6 1.3 C2.5 2.9 1 3.6 0 3.8 C-1 3.6 -2.5 2.9 -2.6 1.3 C-2.7 -1.1 -1.3 -3.6 0 -4.5 Z" stroke="none"/>
<path d="M0 -4 q0 -2.9 -0.4 -5.8" fill="none" stroke-width="1.3" opacity="0.8"/>
<path d="M-1.6 2.5 q-1.5 2.4 -1.3 4.7" fill="none" stroke-width="1" opacity="0.7"/>
</g>
<g transform="translate(611.6 98.1) rotate(110)" fill="#5af060" stroke="#5af060">
<path d="M0 -4.5 C1.3 -3.6 2.7 -1.1 2.6 1.3 C2.5 2.9 1 3.6 0 3.8 C-1 3.6 -2.5 2.9 -2.6 1.3 C-2.7 -1.1 -1.3 -3.6 0 -4.5 Z" stroke="none"/>
<path d="M0 -4 q0.2 -5.2 0.3 -10.3" fill="none" stroke-width="1.4" opacity="0.8"/>
</g>
<g transform="translate(521.3 112.8) rotate(-5)" fill="#5af060" stroke="#5af060">
<path d="M0 -8.2 C1.6 -6.6 3.4 -2 3.2 2.3 C3 5.3 1.3 6.6 0 6.9 C-1.3 6.6 -3 5.3 -3.2 2.3 C-3.4 -2 -1.6 -6.6 0 -8.2 Z" stroke="none"/>
<path d="M0 -7.3 q-1.1 -6.4 -1.1 -12.8" fill="none" stroke-width="1.4" opacity="0.8"/>
<path d="M1.9 4.6 q1.5 4.5 4.1 9.1" fill="none" stroke-width="1.1" opacity="0.7"/>
</g>
<g transform="translate(515.8 115.5) rotate(0)" fill="#3fd648" stroke="#3fd648">
<path d="M0 -5 C1.3 -4 2.7 -1.2 2.6 1.4 C2.5 3.2 1 4 0 4.2 C-1 4 -2.5 3.2 -2.6 1.4 C-2.7 -1.2 -1.3 -4 0 -5 Z" stroke="none"/>
<path d="M0 -4.4 q0.5 -4.6 0.1 -9.2" fill="none" stroke-width="1.3" opacity="0.8"/>
<path d="M1.6 2.8 q1.5 2.6 3.8 5.2" fill="none" stroke-width="1" opacity="0.7"/>
</g>
<g transform="translate(614.4 131.1) rotate(-10)" fill="#5af060" stroke="#5af060">
<path d="M0 -5.5 C1.4 -4.4 2.9 -1.3 2.8 1.5 C2.7 3.5 1.1 4.4 0 4.6 C-1.1 4.4 -2.7 3.5 -2.8 1.5 C-2.9 -1.3 -1.4 -4.4 0 -5.5 Z" stroke="none"/>
<path d="M0 -4.8 q0.9 -6.1 -2.6 -12.2" fill="none" stroke-width="1.4" opacity="0.8"/>
<path d="M-1.7 3.1 q-1.5 3.2 -3.8 6.3" fill="none" stroke-width="1.1" opacity="0.7"/>
</g>
<g transform="translate(506.9 76.9) rotate(0)" fill="#2fb53a" stroke="#2fb53a">
<path d="M0 -3.2 C1.2 -2.6 2.5 -0.8 2.4 0.9 C2.3 2.1 1 2.6 0 2.7 C-1 2.6 -2.3 2.1 -2.4 0.9 C-2.5 -0.8 -1.2 -2.6 0 -3.2 Z" stroke="none"/>
<path d="M0 -2.9 q-1.1 -3.8 1.5 -7.6" fill="none" stroke-width="1.1" opacity="0.8"/>
<path d="M1.4 1.8 q1.5 1.5 3.1 3" fill="none" stroke-width="0.9" opacity="0.7"/>
</g>
<g transform="translate(605.2 146.7) rotate(90)" fill="#2fb53a" stroke="#2fb53a">
<path d="M0 -5 C1.2 -4 2.5 -1.2 2.4 1.4 C2.3 3.2 1 4 0 4.2 C-1 4 -2.3 3.2 -2.4 1.4 C-2.5 -1.2 -1.2 -4 0 -5 Z" stroke="none"/>
<path d="M0 -4.4 q-1.5 -6 -0.5 -11.9" fill="none" stroke-width="1.1" opacity="0.8"/>
<path d="M1.4 2.8 q1.5 2.2 2.9 4.4" fill="none" stroke-width="1" opacity="0.7"/>
</g>
<g transform="translate(623.6 53.1) rotate(0)" fill="#3fd648" stroke="#3fd648">
<path d="M0 -6.2 C0.8 -5 1.7 -1.5 1.6 1.8 C1.5 4 0.6 5 0 5.2 C-0.6 5 -1.5 4 -1.6 1.8 C-1.7 -1.5 -0.8 -5 0 -6.2 Z" stroke="none"/>
<path d="M0 -5.5 q1.4 -7.3 1.1 -14.5" fill="none" stroke-width="1.2" opacity="0.8"/>
</g>
<g transform="translate(574.9 137.6) rotate(0)" fill="#2fb53a" stroke="#2fb53a">
<path d="M0 -3 C1.2 -2.4 2.5 -0.7 2.4 0.8 C2.3 1.9 1 2.4 0 2.5 C-1 2.4 -2.3 1.9 -2.4 0.8 C-2.5 -0.7 -1.2 -2.4 0 -3 Z" stroke="none"/>
<path d="M0 -2.6 q0.3 -3.6 -1.2 -7.1" fill="none" stroke-width="1.1" opacity="0.8"/>
<path d="M1.4 1.7 q1.5 2.4 2.8 4.9" fill="none" stroke-width="0.9" opacity="0.7"/>
</g>
<g transform="translate(520.7 100.8) rotate(0)" fill="#2fb53a" stroke="#2fb53a">
<path d="M0 -4.2 C1.2 -3.4 2.5 -1 2.4 1.2 C2.3 2.7 1 3.4 0 3.6 C-1 3.4 -2.3 2.7 -2.4 1.2 C-2.5 -1 -1.2 -3.4 0 -4.2 Z" stroke="none"/>
<path d="M0 -3.7 q-0.4 -4.9 -1 -9.9" fill="none" stroke-width="1.1" opacity="0.8"/>
</g>
<g transform="translate(563 75.1) rotate(0)" fill="#2fb53a" stroke="#2fb53a">
<path d="M0 -2.5 C1 -2 2.1 -0.6 2 0.7 C1.9 1.6 0.8 2 0 2.1 C-0.8 2 -1.9 1.6 -2 0.7 C-2.1 -0.6 -1 -2 0 -2.5 Z" stroke="none"/>
<path d="M0 -2.2 q-1.4 -2.5 -0.6 -4.9" fill="none" stroke-width="1.1" opacity="0.8"/>
<path d="M1.2 1.4 q1.5 1.1 3.3 2.1" fill="none" stroke-width="0.9" opacity="0.7"/>
</g>
</g>
</g>
<text x="491.5" y="129.4" font-size="12.4" fill="#fff" font-weight="bold">7n</text>
<line x1="596.4" y1="141.3" x2="619.4" y2="141.3" stroke="#fff" stroke-width="1.6"/>
<text x="468.4" y="39.4" font-size="13.6"><tspan fill="#35c84a">Cyto-roGFP2-orp1</tspan><tspan fill="#333">/</tspan><tspan fill="#2a3cf0">DAPI</tspan></text>
<g clip-path="url(#clipG)">
<rect x="902.9" y="43.3" width="161.9" height="109.5" fill="#0a2a12"/>
<rect x="902.9" y="43.3" width="161.9" height="109.5" fill="#0a2a12" filter="url(#gnG)"/>
<ellipse cx="960" cy="80" rx="40" ry="18" fill="#2fb84a" opacity="0.22" filter="url(#b3G)"/>
<ellipse cx="935" cy="110" rx="20" ry="18" fill="#2fb84a" opacity="0.14" filter="url(#b3G)"/>
<ellipse cx="1013" cy="92" rx="11" ry="11" fill="#03100c" opacity="0.75" filter="url(#b3G)"/>
<ellipse cx="1050" cy="130" rx="16" ry="14" fill="#03100c" opacity="0.5" filter="url(#b3G)"/>
<ellipse cx="1000" cy="140" rx="18" ry="10" fill="#03100c" opacity="0.35" filter="url(#b3G)"/>
<ellipse cx="920" cy="140" rx="14" ry="10" fill="#03100c" opacity="0.3" filter="url(#b3G)"/>
<g stroke="#2fae3c" stroke-width="0.7" opacity="0.4" fill="none" filter="url(#b2G)">
<path d="M1052.6 147.2 q0.7 -0.6 -6.9 2.4"/>
<path d="M988.7 57.6 q-2.2 -0.4 10.8 7.4"/>
<path d="M906.9 52.7 q0.1 1.9 -7.8 10.1"/>
<path d="M961 49.6 q1.3 1 -12 9.7"/>
<path d="M1060.1 83 q0.6 1.3 -8.7 8.2"/>
<path d="M953.8 52.7 q0.7 -0.4 1.4 17.4"/>
<path d="M1006.9 63.2 q2.5 -2.4 9.5 5.9"/>
<path d="M921.4 54.1 q0.6 2.6 10.3 1.3"/>
<path d="M956.5 83.8 q2.2 0.4 6.7 8.6"/>
<path d="M944.7 55 q2.6 -2.1 -13.5 10.9"/>
<path d="M991.2 143.9 q-2.7 3.8 -6.1 20.2"/>
<path d="M912 88.9 q1.5 3.8 18.9 1.4"/>
<path d="M1033.2 147.2 q2 -1.2 -2.6 21.7"/>
<path d="M1060.7 84.6 q-0.3 -2.4 5.9 4.1"/>
<path d="M1054 147.4 q0.2 -2.6 6 4.8"/>
<path d="M990.9 132.3 q3.2 -0.4 8.9 9.1"/>
<path d="M958.4 141 q1.5 -0.7 -16.9 11.2"/>
<path d="M1015.1 134.2 q-1.6 -0.7 -4.2 8.9"/>
<path d="M1027.8 104.3 q-3.1 1 -3 19"/>
<path d="M956.7 104.5 q3.6 -3.4 -8.7 4.9"/>
<path d="M993.9 102.6 q-0.2 -0.4 11.1 10.1"/>
<path d="M1019.2 43.7 q-2.9 2.9 7 17.2"/>
<path d="M935.9 117.9 q-0.6 -3.3 11.3 6.8"/>
<path d="M1016.2 95.9 q0.4 0.2 -8.2 12.1"/>
<path d="M951.1 141.7 q2.9 0 19.3 5.4"/>
<path d="M1028.7 117 q-1.4 -1.2 -3.5 10.1"/>
<path d="M951.8 148.4 q-0.6 2.5 5.8 10.7"/>
<path d="M980.2 103.9 q-3.3 -2.3 7.3 7.5"/>
<path d="M945.6 136.6 q-0.3 -3 -0.1 7.8"/>
<path d="M994.5 91.7 q2.8 -2 -9.2 4.4"/>
<path d="M1062 112.7 q-1.8 -1.1 18.7 2.5"/>
<path d="M926.6 135 q-0.8 1.4 17.1 5"/>
<path d="M950.3 51.9 q-2.6 3.8 -15.9 4.3"/>
<path d="M1050.5 63.3 q-2.9 1.9 15.7 0.9"/>
<path d="M978.8 120.9 q2.6 0.8 -4 17.9"/>
<path d="M998.6 79.1 q2.9 -2.4 6.8 3.1"/>
<path d="M972 78 q2.9 -0.5 -5.3 13.5"/>
<path d="M961.5 114.6 q-1.5 3.1 -14.5 15"/>
<path d="M1061.8 150.9 q2.2 2.6 11.1 4.8"/>
<path d="M909.3 86.6 q0.3 -2.3 -11.7 13.8"/>
<path d="M968.8 49.7 q2.6 0.7 7 10.7"/>
<path d="M970 70.2 q-0.4 -2.6 9.2 14"/>
<path d="M1035.9 106.3 q1 -0.6 -14.5 1.5"/>
<path d="M1001.4 143.9 q-0.6 -3.5 -16.5 1"/>
<path d="M1038.9 86.2 q-3.7 -0.9 2.5 6.4"/>
<path d="M1060.7 124.4 q-1.8 -2.7 -10.2 13.2"/>
<path d="M1000.4 50.3 q0.3 -3 -3.9 13.7"/>
<path d="M913.8 95.1 q-1.5 1 14.6 7.2"/>
<path d="M1024.4 109.7 q-1.2 3.8 -0.9 9.1"/>
<path d="M946.4 74.4 q2.3 -1.6 0.3 14.7"/>
<path d="M1058.8 45.7 q3.2 -2.8 -12 9.3"/>
<path d="M1014.5 147 q3.4 3.8 -3.9 6.7"/>
<path d="M920.8 133.9 q2.4 1.8 7.1 1.8"/>
<path d="M1057.9 112.5 q0.6 3.9 -0.4 10.3"/>
<path d="M1007.6 139.2 q1.9 -3.4 14.5 10.3"/>
<path d="M1035.7 62.6 q1.3 -2.9 5.4 4.4"/>
<path d="M1060.9 43.3 q0.6 0.6 -15 10.2"/>
<path d="M1032.1 113 q-1.2 0.7 17 7.9"/>
<path d="M985.9 142.3 q-3.3 -1.4 5.2 18.9"/>
<path d="M1011.5 110.3 q2.4 2.4 -8.1 4.7"/>
</g>
<g fill="#2243dc" filter="url(#b2G)">
<ellipse cx="926" cy="58.6" rx="1.9" ry="2" opacity="0.7"/>
<ellipse cx="972.2" cy="98.8" rx="2.1" ry="1.6" opacity="0.7"/>
<ellipse cx="999" cy="145.4" rx="2.1" ry="1.9" opacity="0.5"/>
<ellipse cx="1000.1" cy="133.4" rx="2" ry="2" opacity="0.9"/>
<ellipse cx="923.6" cy="98.9" rx="1.7" ry="1.4" opacity="0.7"/>
<ellipse cx="1062.1" cy="127.4" rx="1.4" ry="1.4" opacity="0.6"/>
<ellipse cx="1046.2" cy="93.6" rx="1.5" ry="1.6" opacity="0.5"/>
<ellipse cx="909.1" cy="108.2" rx="2.3" ry="1.8" opacity="0.8"/>
<ellipse cx="927.6" cy="104.8" rx="1.9" ry="1.8" opacity="0.6"/>
<ellipse cx="911.5" cy="144.9" rx="1.6" ry="1.8" opacity="0.6"/>
<ellipse cx="1029.1" cy="80.3" rx="1.4" ry="1.5" opacity="0.6"/>
<ellipse cx="1031.2" cy="87.5" rx="2" ry="1.5" opacity="0.8"/>
<ellipse cx="931.1" cy="139.7" rx="2.2" ry="1.2" opacity="0.8"/>
<ellipse cx="1028.9" cy="119.2" rx="1.4" ry="1.8" opacity="0.8"/>
<ellipse cx="1004.3" cy="148.8" rx="2.2" ry="1.7" opacity="0.9"/>
<ellipse cx="926.2" cy="76" rx="1.8" ry="1.6" opacity="0.9"/>
<ellipse cx="1005.9" cy="111.3" rx="1.9" ry="2" opacity="0.6"/>
<ellipse cx="1022.6" cy="109" rx="1.7" ry="1.5" opacity="0.5"/>
<ellipse cx="904.7" cy="80.1" rx="1.6" ry="1.3" opacity="0.6"/>
<ellipse cx="959.7" cy="144.7" rx="2.1" ry="1.7" opacity="0.8"/>
<ellipse cx="947.4" cy="56" rx="1.9" ry="1.4" opacity="0.9"/>
<ellipse cx="971.7" cy="140.3" rx="1.5" ry="1.3" opacity="0.7"/>
<ellipse cx="1015.1" cy="71.3" rx="2.2" ry="2" opacity="0.7"/>
<ellipse cx="1061.8" cy="151" rx="1.4" ry="1.8" opacity="0.8"/>
<ellipse cx="1021.4" cy="80.5" rx="1.8" ry="1.7" opacity="0.8"/>
<ellipse cx="911.2" cy="84.4" rx="1.6" ry="1.8" opacity="0.5"/>
<ellipse cx="912.9" cy="55.9" rx="1.4" ry="1.5" opacity="0.8"/>
<ellipse cx="960.4" cy="54.4" rx="2" ry="1.5" opacity="0.7"/>
<ellipse cx="1023.9" cy="93.2" rx="2" ry="1.7" opacity="0.8"/>
<ellipse cx="1026.3" cy="142" rx="2" ry="1.4" opacity="0.7"/>
<ellipse cx="1027.9" cy="129.2" rx="2" ry="1.9" opacity="0.8"/>
<ellipse cx="990.5" cy="113.4" rx="1.3" ry="1.6" opacity="0.8"/>
<ellipse cx="1050.8" cy="136.2" rx="1.7" ry="1.4" opacity="0.8"/>
<ellipse cx="1009.3" cy="64.3" rx="1.3" ry="1.9" opacity="0.7"/>
<ellipse cx="920.6" cy="151.7" rx="1.9" ry="1.8" opacity="0.8"/>
<ellipse cx="944.3" cy="100.5" rx="1.5" ry="1.7" opacity="0.6"/>
<ellipse cx="1030.8" cy="56" rx="1.5" ry="1.5" opacity="0.4"/>
<ellipse cx="968.7" cy="148.7" rx="2.2" ry="1.3" opacity="0.8"/>
<ellipse cx="939.3" cy="69.5" rx="1.9" ry="1.4" opacity="0.5"/>
<ellipse cx="916.8" cy="62.7" rx="1.5" ry="1.9" opacity="0.4"/>
<ellipse cx="990.4" cy="66.5" rx="2" ry="1.2" opacity="0.6"/>
<ellipse cx="1022.3" cy="46.1" rx="1.7" ry="1.5" opacity="0.6"/>
<ellipse cx="1004.7" cy="52.1" rx="2.2" ry="1.4" opacity="0.8"/>
<ellipse cx="924.4" cy="53.6" rx="1.5" ry="1.3" opacity="0.5"/>
<ellipse cx="925.5" cy="52.8" rx="2.2" ry="1.6" opacity="0.6"/>
<ellipse cx="985.2" cy="132.1" rx="1.3" ry="1.2" opacity="0.7"/>
<ellipse cx="904" cy="98.7" rx="1.9" ry="1.9" opacity="0.4"/>
<ellipse cx="968" cy="77.6" rx="1.9" ry="1.2" opacity="0.8"/>
<ellipse cx="1057.8" cy="103.4" rx="2" ry="1.9" opacity="0.8"/>
<ellipse cx="1035.6" cy="96.7" rx="1.4" ry="1.8" opacity="0.8"/>
<ellipse cx="1016.4" cy="77.8" rx="2.3" ry="1.7" opacity="0.6"/>
<ellipse cx="1030.2" cy="67.8" rx="1.5" ry="1.9" opacity="0.4"/>
<ellipse cx="1043.7" cy="86.7" rx="1.9" ry="1.8" opacity="0.9"/>
<ellipse cx="938.5" cy="53.5" rx="1.8" ry="1.4" opacity="0.6"/>
<ellipse cx="920.7" cy="53.2" rx="1.9" ry="1.2" opacity="0.5"/>
<ellipse cx="965.7" cy="53.7" rx="2.1" ry="1.9" opacity="0.4"/>
<ellipse cx="1033.5" cy="62.6" rx="2" ry="1.2" opacity="0.8"/>
<ellipse cx="1053.9" cy="71.7" rx="1.5" ry="1.5" opacity="0.8"/>
<ellipse cx="1029.2" cy="60.5" rx="2.2" ry="1.8" opacity="0.9"/>
<ellipse cx="1060.4" cy="60.6" rx="2" ry="1.2" opacity="0.5"/>
<ellipse cx="989.8" cy="68.8" rx="1.5" ry="1.5" opacity="0.6"/>
<ellipse cx="1051.5" cy="106.9" rx="1.9" ry="1.8" opacity="0.5"/>
<ellipse cx="1033" cy="126.8" rx="2.1" ry="1.6" opacity="0.7"/>
<ellipse cx="915" cy="93.5" rx="1.9" ry="2" opacity="0.8"/>
<ellipse cx="957.8" cy="126.1" rx="2.2" ry="2" opacity="0.7"/>
<ellipse cx="956.3" cy="139" rx="1.3" ry="1.7" opacity="0.6"/>
<ellipse cx="1045.8" cy="111.3" rx="1.5" ry="1.3" opacity="0.4"/>
<ellipse cx="1024.7" cy="129.1" rx="1.7" ry="1.4" opacity="0.7"/>
<ellipse cx="934.5" cy="101" rx="1.6" ry="1.5" opacity="0.7"/>
<ellipse cx="943.2" cy="79.6" rx="1.9" ry="2" opacity="0.5"/>
<ellipse cx="952.5" cy="73.2" rx="1.6" ry="1.6" opacity="0.8"/>
<ellipse cx="932.2" cy="122" rx="1.7" ry="1.7" opacity="0.7"/>
<ellipse cx="1000.5" cy="63" rx="1.9" ry="1.5" opacity="0.8"/>
<ellipse cx="999.4" cy="88" rx="2.3" ry="1.3" opacity="0.4"/>
<ellipse cx="922.8" cy="118.8" rx="1.4" ry="1.8" opacity="0.4"/>
<ellipse cx="951" cy="111.4" rx="1.3" ry="1.5" opacity="0.9"/>
<ellipse cx="1020.7" cy="85.9" rx="2.2" ry="1.7" opacity="0.8"/>
<ellipse cx="958.6" cy="85.1" rx="2" ry="1.8" opacity="0.7"/>
<ellipse cx="927.2" cy="89.4" rx="1.6" ry="1.4" opacity="0.5"/>
<ellipse cx="1024" cy="58.8" rx="1.7" ry="1.2" opacity="0.8"/>
<ellipse cx="1004.1" cy="51.9" rx="2.3" ry="2" opacity="0.8"/>
<ellipse cx="1033.4" cy="120.3" rx="1.3" ry="1.4" opacity="0.5"/>
<ellipse cx="906.4" cy="113.2" rx="1.9" ry="1.5" opacity="0.8"/>
<ellipse cx="940.8" cy="74" rx="1.4" ry="1.4" opacity="0.8"/>
<ellipse cx="982.2" cy="124" rx="2.2" ry="1.7" opacity="0.6"/>
<ellipse cx="1059.5" cy="52.1" rx="1.7" ry="1.9" opacity="0.7"/>
<ellipse cx="960.2" cy="133.9" rx="2.1" ry="1.8" opacity="0.5"/>
<ellipse cx="1013" cy="115.1" rx="2.1" ry="1.6" opacity="0.9"/>
<ellipse cx="1019.5" cy="66.2" rx="1.9" ry="1.4" opacity="0.7"/>
<ellipse cx="955.6" cy="152.6" rx="1.6" ry="1.8" opacity="0.8"/>
<ellipse cx="963.4" cy="107.8" rx="1.5" ry="1.5" opacity="0.6"/>
<ellipse cx="1018.1" cy="98.9" rx="1.5" ry="1.7" opacity="0.7"/>
<ellipse cx="987.9" cy="92.1" rx="2.2" ry="1.7" opacity="0.7"/>
<ellipse cx="984.1" cy="87.3" rx="1.7" ry="1.7" opacity="0.6"/>
<ellipse cx="914.2" cy="67.5" rx="1.4" ry="1.2" opacity="0.6"/>
<ellipse cx="964.1" cy="93.3" rx="1.5" ry="1.4" opacity="0.6"/>
<ellipse cx="949.9" cy="71.9" rx="1.8" ry="1.8" opacity="0.4"/>
<ellipse cx="905.1" cy="92.3" rx="2.2" ry="1.7" opacity="0.6"/>
<ellipse cx="1060.4" cy="117.6" rx="2.1" ry="1.9" opacity="0.4"/>
<ellipse cx="934.5" cy="129.9" rx="1.7" ry="1.9" opacity="0.4"/>
<ellipse cx="1054.8" cy="111.3" rx="1.7" ry="1.9" opacity="0.7"/>
<ellipse cx="977.3" cy="63.5" rx="2.1" ry="1.3" opacity="0.6"/>
<ellipse cx="917.2" cy="45" rx="1.6" ry="1.2" opacity="0.6"/>
<ellipse cx="959.1" cy="45.3" rx="1.8" ry="1.4" opacity="0.5"/>
<ellipse cx="990.5" cy="79.7" rx="1.4" ry="1.9" opacity="0.9"/>
<ellipse cx="941.3" cy="115.5" rx="1.9" ry="1.4" opacity="0.7"/>
<ellipse cx="945.9" cy="73.4" rx="1.8" ry="1.2" opacity="0.5"/>
<ellipse cx="1062.2" cy="127.6" rx="1.6" ry="2" opacity="0.6"/>
<ellipse cx="1040.7" cy="78.6" rx="2.2" ry="1.6" opacity="0.8"/>
<ellipse cx="925.1" cy="86.5" rx="1.6" ry="1.8" opacity="0.8"/>
<ellipse cx="924.9" cy="88.2" rx="1.5" ry="1.3" opacity="0.5"/>
<ellipse cx="914.8" cy="76.3" rx="1.7" ry="1.9" opacity="0.7"/>
<ellipse cx="1026.1" cy="79.5" rx="1.6" ry="1.5" opacity="0.5"/>
<ellipse cx="906.1" cy="73.5" rx="2.2" ry="1.2" opacity="0.7"/>
<ellipse cx="940.4" cy="126.8" rx="1.3" ry="1.6" opacity="0.8"/>
<ellipse cx="977.8" cy="59" rx="2.2" ry="1.2" opacity="0.9"/>
<ellipse cx="1035.4" cy="140.1" rx="2.2" ry="1.5" opacity="0.7"/>
<ellipse cx="979" cy="107.4" rx="1.7" ry="1.9" opacity="0.6"/>
<ellipse cx="993.8" cy="50.8" rx="1.4" ry="1.9" opacity="0.6"/>
<ellipse cx="963.5" cy="151.2" rx="2" ry="1.3" opacity="0.7"/>
<ellipse cx="981.1" cy="109.5" rx="1.6" ry="1.4" opacity="0.9"/>
<ellipse cx="999.4" cy="103.6" rx="2" ry="1.8" opacity="0.5"/>
<ellipse cx="1029.7" cy="96.2" rx="1.5" ry="1.5" opacity="0.9"/>
<ellipse cx="1039.7" cy="142.2" rx="1.8" ry="1.7" opacity="0.6"/>
<ellipse cx="1021.9" cy="102" rx="1.7" ry="2" opacity="0.7"/>
<ellipse cx="909.4" cy="132.5" rx="1.4" ry="1.4" opacity="0.6"/>
<ellipse cx="937.2" cy="92.5" rx="1.7" ry="1.6" opacity="0.7"/>
<ellipse cx="1013.9" cy="48.8" rx="1.5" ry="1.3" opacity="0.6"/>
<ellipse cx="976.9" cy="136.6" rx="1.3" ry="1.8" opacity="0.5"/>
<ellipse cx="1022.8" cy="136.2" rx="2.3" ry="1.7" opacity="0.4"/>
<ellipse cx="949.4" cy="91" rx="2" ry="2" opacity="0.8"/>
<ellipse cx="913.1" cy="57.4" rx="2" ry="1.4" opacity="0.7"/>
<ellipse cx="985.3" cy="103" rx="1.6" ry="1.9" opacity="0.5"/>
<ellipse cx="961.3" cy="61" rx="1.6" ry="1.3" opacity="0.7"/>
<ellipse cx="906.2" cy="69.9" rx="2.1" ry="1.9" opacity="0.6"/>
<ellipse cx="1021.8" cy="132" rx="2" ry="1.7" opacity="0.8"/>
<ellipse cx="954.6" cy="79.5" rx="1.6" ry="1.4" opacity="0.7"/>
<ellipse cx="990.2" cy="64.2" rx="1.4" ry="1.2" opacity="0.5"/>
<ellipse cx="928.2" cy="111.3" rx="2.1" ry="1.6" opacity="0.7"/>
<ellipse cx="971.1" cy="51.5" rx="2" ry="1.8" opacity="0.5"/>
<ellipse cx="953.2" cy="118" rx="2" ry="1.3" opacity="0.6"/>
<ellipse cx="965.3" cy="103.1" rx="2.1" ry="1.3" opacity="0.6"/>
<ellipse cx="1052.3" cy="62.7" rx="1.5" ry="1.8" opacity="0.7"/>
<ellipse cx="980" cy="93.5" rx="1.4" ry="1.7" opacity="0.5"/>
<ellipse cx="974.4" cy="145" rx="1.8" ry="1.5" opacity="0.6"/>
<ellipse cx="949" cy="111" rx="2" ry="1.3" opacity="0.4"/>
<ellipse cx="966.8" cy="61.4" rx="1.9" ry="1.3" opacity="0.7"/>
<ellipse cx="979.7" cy="149.9" rx="1.6" ry="1.4" opacity="0.6"/>
<ellipse cx="1009.6" cy="69.6" rx="1.5" ry="1.8" opacity="0.7"/>
<ellipse cx="914.5" cy="136" rx="1.4" ry="1.4" opacity="0.7"/>
<ellipse cx="976.8" cy="127.1" rx="1.4" ry="1.7" opacity="0.5"/>
<ellipse cx="921.7" cy="119.8" rx="2.1" ry="1.3" opacity="0.4"/>
<ellipse cx="935.4" cy="106.2" rx="1.3" ry="2" opacity="0.4"/>
<ellipse cx="1023.1" cy="131.4" rx="1.7" ry="1.9" opacity="0.5"/>
<ellipse cx="1028.4" cy="106.2" rx="2.2" ry="1.8" opacity="0.8"/>
<ellipse cx="1042.8" cy="71.1" rx="1.3" ry="1.3" opacity="0.8"/>
<ellipse cx="986.7" cy="97.3" rx="1.8" ry="1.2" opacity="0.9"/>
<ellipse cx="995" cy="107.4" rx="1.8" ry="1.9" opacity="0.6"/>
<ellipse cx="990.2" cy="130.7" rx="1.4" ry="1.9" opacity="0.7"/>
<ellipse cx="956.7" cy="59.6" rx="1.8" ry="1.4" opacity="0.4"/>
<ellipse cx="1036.4" cy="125.2" rx="2.2" ry="1.8" opacity="0.6"/>
<ellipse cx="1050.9" cy="69.6" rx="1.6" ry="1.6" opacity="0.7"/>
<ellipse cx="919" cy="49.6" rx="2.2" ry="1.2" opacity="0.8"/>
<ellipse cx="978.8" cy="148.4" rx="2.2" ry="1.6" opacity="0.7"/>
<ellipse cx="1015.7" cy="71.9" rx="1.3" ry="2" opacity="0.7"/>
<ellipse cx="1032.4" cy="102.2" rx="1.4" ry="1.3" opacity="0.5"/>
<ellipse cx="1059.2" cy="132.6" rx="1.6" ry="1.6" opacity="0.9"/>
<ellipse cx="984.7" cy="78" rx="1.8" ry="1.3" opacity="0.7"/>
<ellipse cx="914.5" cy="100.3" rx="1.4" ry="1.2" opacity="0.8"/>
<ellipse cx="984.7" cy="60.8" rx="1.7" ry="1.9" opacity="0.6"/>
<ellipse cx="947.1" cy="95.9" rx="2.2" ry="1.7" opacity="0.6"/>
<ellipse cx="1004.5" cy="81.9" rx="2.2" ry="1.4" opacity="0.5"/>
<ellipse cx="981.8" cy="131" rx="2.1" ry="1.7" opacity="0.4"/>
<ellipse cx="1032.3" cy="143.1" rx="1.4" ry="1.4" opacity="0.5"/>
<ellipse cx="924" cy="59.2" rx="1.8" ry="1.8" opacity="0.6"/>
<ellipse cx="990.4" cy="118.5" rx="2.1" ry="2" opacity="0.8"/>
<ellipse cx="983.3" cy="49.5" rx="1.6" ry="1.4" opacity="0.9"/>
<ellipse cx="1020.7" cy="57.3" rx="1.6" ry="1.5" opacity="0.7"/>
<ellipse cx="1060.6" cy="79.8" rx="2" ry="1.5" opacity="0.9"/>
<ellipse cx="984" cy="127.3" rx="1.9" ry="1.8" opacity="0.8"/>
<ellipse cx="966.1" cy="92.2" rx="1.9" ry="1.8" opacity="0.7"/>
<ellipse cx="961.1" cy="96.8" rx="1.8" ry="1.5" opacity="0.6"/>
<ellipse cx="913.4" cy="50.6" rx="1.5" ry="1.3" opacity="0.6"/>
<ellipse cx="1059.8" cy="87.2" rx="2.2" ry="1.8" opacity="0.9"/>
<ellipse cx="1008.4" cy="148.1" rx="2.1" ry="1.3" opacity="0.4"/>
<ellipse cx="1058.5" cy="80.6" rx="2" ry="2" opacity="0.9"/>
<ellipse cx="987.9" cy="79.3" rx="1.9" ry="1.8" opacity="0.4"/>
<ellipse cx="1033" cy="43.7" rx="1.7" ry="1.9" opacity="0.8"/>
<ellipse cx="1042.4" cy="138" rx="1.8" ry="1.5" opacity="0.6"/>
<ellipse cx="986.6" cy="67.1" rx="1.7" ry="1.6" opacity="0.4"/>
<ellipse cx="995.5" cy="50.4" rx="1.9" ry="1.2" opacity="0.5"/>
<ellipse cx="977.1" cy="126.5" rx="2.3" ry="1.8" opacity="0.8"/>
<ellipse cx="973.4" cy="100" rx="1.8" ry="2" opacity="0.8"/>
<ellipse cx="905" cy="118.9" rx="2" ry="1.9" opacity="0.9"/>
<ellipse cx="967.1" cy="88.7" rx="1.5" ry="1.4" opacity="0.8"/>
<ellipse cx="1023" cy="134.2" rx="1.6" ry="1.8" opacity="0.4"/>
<ellipse cx="983.6" cy="77.5" rx="1.6" ry="2" opacity="0.4"/>
<ellipse cx="1057.5" cy="116.5" rx="2.3" ry="1.5" opacity="0.8"/>
<ellipse cx="992.2" cy="106.4" rx="1.9" ry="1.4" opacity="0.7"/>
<ellipse cx="931.3" cy="46.9" rx="2" ry="1.2" opacity="0.9"/>
<ellipse cx="939.6" cy="143.1" rx="1.6" ry="1.8" opacity="0.6"/>
<ellipse cx="1015.4" cy="63.1" rx="1.5" ry="1.4" opacity="0.9"/>
<ellipse cx="1048.9" cy="85.6" rx="2.3" ry="1.9" opacity="0.5"/>
<ellipse cx="1003.1" cy="66.5" rx="1.6" ry="1.4" opacity="0.5"/>
<ellipse cx="997.9" cy="67.1" rx="1.6" ry="1.3" opacity="0.5"/>
<ellipse cx="1028.3" cy="74.7" rx="2.3" ry="1.3" opacity="0.4"/>
<ellipse cx="943.2" cy="99.7" rx="1.6" ry="1.5" opacity="0.8"/>
<ellipse cx="1010.2" cy="69.7" rx="2.2" ry="1.5" opacity="0.7"/>
<ellipse cx="961.2" cy="126.2" rx="1.9" ry="1.6" opacity="0.5"/>
<ellipse cx="915.4" cy="71.9" rx="2.2" ry="1.9" opacity="0.6"/>
<ellipse cx="914.7" cy="65.1" rx="2.2" ry="1.3" opacity="0.6"/>
<ellipse cx="914.6" cy="97.6" rx="1.6" ry="2" opacity="0.9"/>
<ellipse cx="984.3" cy="134.8" rx="2" ry="1.6" opacity="0.8"/>
<ellipse cx="908.5" cy="61.7" rx="2.1" ry="1.6" opacity="0.7"/>
<ellipse cx="1000.8" cy="135.4" rx="1.6" ry="1.3" opacity="0.5"/>
<ellipse cx="1043.4" cy="98.5" rx="2.1" ry="1.8" opacity="0.6"/>
<ellipse cx="1022.2" cy="129.5" rx="1.8" ry="1.6" opacity="0.6"/>
<ellipse cx="976.6" cy="66.4" rx="1.9" ry="1.9" opacity="0.5"/>
<ellipse cx="970.5" cy="84.2" rx="1.6" ry="1.9" opacity="0.8"/>
<ellipse cx="916.9" cy="99.9" rx="1.6" ry="1.5" opacity="0.5"/>
<ellipse cx="1000.4" cy="82.7" rx="2" ry="1.3" opacity="0.7"/>
<ellipse cx="974.7" cy="113.3" rx="1.4" ry="1.8" opacity="0.7"/>
<ellipse cx="943.6" cy="61.6" rx="2.1" ry="1.2" opacity="0.7"/>
<ellipse cx="952.6" cy="80.9" rx="2.3" ry="1.3" opacity="0.5"/>
<ellipse cx="904.7" cy="83.3" rx="1.4" ry="1.2" opacity="0.7"/>
<ellipse cx="1055.8" cy="61.7" rx="1.9" ry="2" opacity="0.5"/>
<ellipse cx="928" cy="98.6" rx="1.4" ry="1.7" opacity="0.8"/>
<ellipse cx="1045.4" cy="55.8" rx="1.9" ry="1.6" opacity="0.6"/>
<ellipse cx="932.7" cy="109.6" rx="1.5" ry="1.7" opacity="0.4"/>
<ellipse cx="903.1" cy="136.9" rx="1.6" ry="1.5" opacity="0.7"/>
</g>
<g filter="url(#b1G)">
<g transform="translate(914.8 64.6) rotate(110)" fill="#5af060" stroke="#5af060">
<path d="M0 -3.8 C1.3 -3 2.7 -0.9 2.6 1 C2.5 2.4 1 3 0 3.2 C-1 3 -2.5 2.4 -2.6 1 C-2.7 -0.9 -1.3 -3 0 -3.8 Z" stroke="none"/>
<path d="M0 -3.3 q-1.4 -3.4 1.9 -6.8" fill="none" stroke-width="1.4" opacity="0.8"/>
</g>
<g transform="translate(942.3 60) rotate(70)" fill="#5af060" stroke="#5af060">
<path d="M0 -4.2 C1.5 -3.4 3.2 -1 3 1.2 C2.8 2.7 1.2 3.4 0 3.6 C-1.2 3.4 -2.8 2.7 -3 1.2 C-3.2 -1 -1.5 -3.4 0 -4.2 Z" stroke="none"/>
<path d="M0 -3.7 q-0.6 -3.4 -1.3 -6.9" fill="none" stroke-width="1.4" opacity="0.8"/>
<path d="M-1.8 2.4 q-1.5 2.8 -2 5.6" fill="none" stroke-width="1.1" opacity="0.7"/>
</g>
<g transform="translate(961.2 60.8) rotate(0)" fill="#5af060" stroke="#5af060">
<path d="M0 -4.8 C1.7 -3.8 3.6 -1.1 3.4 1.3 C3.2 3 1.4 3.8 0 4 C-1.4 3.8 -3.2 3 -3.4 1.3 C-3.6 -1.1 -1.7 -3.8 0 -4.8 Z" stroke="none"/>
<path d="M0 -4.2 q0.1 -4.4 0.8 -8.8" fill="none" stroke-width="1.4" opacity="0.8"/>
<path d="M-2 2.7 q-1.5 4.1 -2.7 8.3" fill="none" stroke-width="1.1" opacity="0.7"/>
</g>
<g transform="translate(974.8 69.2) rotate(0)" fill="#5af060" stroke="#5af060">
<path d="M0 -5 C1.3 -4 2.7 -1.2 2.6 1.4 C2.5 3.2 1 4 0 4.2 C-1 4 -2.5 3.2 -2.6 1.4 C-2.7 -1.2 -1.3 -4 0 -5 Z" stroke="none"/>
<path d="M0 -4.4 q-0.4 -5.3 2 -10.6" fill="none" stroke-width="1.4" opacity="0.8"/>
</g>
<g transform="translate(980.9 49.4) rotate(10)" fill="#3fd648" stroke="#3fd648">
<path d="M0 -5.2 C1.4 -4.2 2.9 -1.3 2.8 1.5 C2.7 3.4 1.1 4.2 0 4.4 C-1.1 4.2 -2.7 3.4 -2.8 1.5 C-2.9 -1.3 -1.4 -4.2 0 -5.2 Z" stroke="none"/>
<path d="M0 -4.6 q0.5 -3.4 -0.3 -6.8" fill="none" stroke-width="1.2" opacity="0.8"/>
<path d="M1.7 2.9 q1.5 2.2 3.3 4.5" fill="none" stroke-width="1" opacity="0.7"/>
</g>
<g transform="translate(995.6 58.6) rotate(10)" fill="#3fd648" stroke="#3fd648">
<path d="M0 -6.2 C1.7 -5 3.6 -1.5 3.4 1.8 C3.2 4 1.4 5 0 5.2 C-1.4 5 -3.2 4 -3.4 1.8 C-3.6 -1.5 -1.7 -5 0 -6.2 Z" stroke="none"/>
<path d="M0 -5.5 q0.4 -5.3 -1.9 -10.5" fill="none" stroke-width="1.3" opacity="0.8"/>
<path d="M-2 3.5 q-1.5 5.2 -4.7 10.3" fill="none" stroke-width="1" opacity="0.7"/>
</g>
<g transform="translate(1000.2 67.4) rotate(0)" fill="#3fd648" stroke="#3fd648">
<path d="M0 -3.8 C1.2 -3 2.5 -0.9 2.4 1 C2.3 2.4 1 3 0 3.2 C-1 3 -2.3 2.4 -2.4 1 C-2.5 -0.9 -1.2 -3 0 -3.8 Z" stroke="none"/>
<path d="M0 -3.3 q-0.2 -2.5 -0.6 -5" fill="none" stroke-width="1.2" opacity="0.8"/>
<path d="M1.4 2.1 q1.5 2.7 2.5 5.4" fill="none" stroke-width="1" opacity="0.7"/>
</g>
<g transform="translate(1016.3 69.6) rotate(70)" fill="#3fd648" stroke="#3fd648">
<path d="M0 -4.5 C1.5 -3.6 3.2 -1.1 3 1.3 C2.8 2.9 1.2 3.6 0 3.8 C-1.2 3.6 -2.8 2.9 -3 1.3 C-3.2 -1.1 -1.5 -3.6 0 -4.5 Z" stroke="none"/>
<path d="M0 -4 q0.3 -5.4 -1.5 -10.7" fill="none" stroke-width="1.3" opacity="0.8"/>
<path d="M1.8 2.5 q1.5 2.1 3.3 4.2" fill="none" stroke-width="1" opacity="0.7"/>
</g>
<g transform="translate(1037.8 68.7) rotate(70)" fill="#3fd648" stroke="#3fd648">
<path d="M0 -4.5 C1.3 -3.6 2.7 -1.1 2.6 1.3 C2.5 2.9 1 3.6 0 3.8 C-1 3.6 -2.5 2.9 -2.6 1.3 C-2.7 -1.1 -1.3 -3.6 0 -4.5 Z" stroke="none"/>
<path d="M0 -4 q-0.2 -3.2 -2.3 -6.5" fill="none" stroke-width="1.2" opacity="0.8"/>
<path d="M1.6 2.5 q1.5 3.7 2.9 7.5" fill="none" stroke-width="1" opacity="0.7"/>
</g>
<g transform="translate(1048.8 56.4) rotate(-20)" fill="#3fd648" stroke="#3fd648">
<path d="M0 -4.2 C1.2 -3.4 2.5 -1 2.4 1.2 C2.3 2.7 1 3.4 0 3.6 C-1 3.4 -2.3 2.7 -2.4 1.2 C-2.5 -1 -1.2 -3.4 0 -4.2 Z" stroke="none"/>
<path d="M0 -3.7 q-0.9 -4.2 -0.8 -8.3" fill="none" stroke-width="1.2" opacity="0.8"/>
</g>
<g transform="translate(1026.8 89.8) rotate(10)" fill="#5af060" stroke="#5af060">
<path d="M0 -5.5 C1.3 -4.4 2.7 -1.3 2.6 1.5 C2.5 3.5 1 4.4 0 4.6 C-1 4.4 -2.5 3.5 -2.6 1.5 C-2.7 -1.3 -1.3 -4.4 0 -5.5 Z" stroke="none"/>
<path d="M0 -4.8 q0.2 -6 0.8 -11.9" fill="none" stroke-width="1.4" opacity="0.8"/>
<path d="M1.6 3.1 q1.5 2.8 4.6 5.6" fill="none" stroke-width="1.1" opacity="0.7"/>
</g>
<g transform="translate(1059.8 88.3) rotate(-30)" fill="#3fd648" stroke="#3fd648">
<path d="M0 -3.8 C1.3 -3 2.7 -0.9 2.6 1 C2.5 2.4 1 3 0 3.2 C-1 3 -2.5 2.4 -2.6 1 C-2.7 -0.9 -1.3 -3 0 -3.8 Z" stroke="none"/>
<path d="M0 -3.3 q0.2 -2.6 0.2 -5.1" fill="none" stroke-width="1.3" opacity="0.8"/>
<path d="M1.6 2.1 q1.5 2.3 2 4.6" fill="none" stroke-width="1" opacity="0.7"/>
</g>
<g transform="translate(907.4 87.6) rotate(0)" fill="#3fd648" stroke="#3fd648">
<path d="M0 -4.2 C1.7 -3.4 3.6 -1 3.4 1.2 C3.2 2.7 1.4 3.4 0 3.6 C-1.4 3.4 -3.2 2.7 -3.4 1.2 C-3.6 -1 -1.7 -3.4 0 -4.2 Z" stroke="none"/>
<path d="M0 -3.7 q-0.8 -3.4 -1.2 -6.9" fill="none" stroke-width="1.3" opacity="0.8"/>
</g>
<g transform="translate(927.3 105.4) rotate(-20)" fill="#5af060" stroke="#5af060">
<path d="M0 -4.5 C1.5 -3.6 3.2 -1.1 3 1.3 C2.8 2.9 1.2 3.6 0 3.8 C-1.2 3.6 -2.8 2.9 -3 1.3 C-3.2 -1.1 -1.5 -3.6 0 -4.5 Z" stroke="none"/>
<path d="M0 -4 q1.2 -4 -0.1 -8.1" fill="none" stroke-width="1.4" opacity="0.8"/>
<path d="M-1.8 2.5 q-1.5 3.1 -4.3 6.3" fill="none" stroke-width="1.1" opacity="0.7"/>
</g>
<g transform="translate(964.9 94.4) rotate(0)" fill="#3fd648" stroke="#3fd648">
<path d="M0 -3.2 C1.2 -2.6 2.5 -0.8 2.4 0.9 C2.3 2.1 1 2.6 0 2.7 C-1 2.6 -2.3 2.1 -2.4 0.9 C-2.5 -0.8 -1.2 -2.6 0 -3.2 Z" stroke="none"/>
<path d="M0 -2.9 q0.3 -2.1 2.7 -4.2" fill="none" stroke-width="1.2" opacity="0.8"/>
<path d="M-1.4 1.8 q-1.5 1.3 -3 2.6" fill="none" stroke-width="1" opacity="0.7"/>
</g>
<g transform="translate(960.7 104.1) rotate(70)" fill="#3fd648" stroke="#3fd648">
<path d="M0 -3.8 C0.9 -3 1.9 -0.9 1.8 1 C1.7 2.4 0.7 3 0 3.2 C-0.7 3 -1.7 2.4 -1.8 1 C-1.9 -0.9 -0.9 -3 0 -3.8 Z" stroke="none"/>
<path d="M0 -3.3 q-0.2 -3.1 -0.9 -6.3" fill="none" stroke-width="1.2" opacity="0.8"/>
</g>
<g transform="translate(968.4 124.3) rotate(100)" fill="#5af060" stroke="#5af060">
<path d="M0 -4.2 C1.3 -3.4 2.7 -1 2.6 1.2 C2.5 2.7 1 3.4 0 3.6 C-1 3.4 -2.5 2.7 -2.6 1.2 C-2.7 -1 -1.3 -3.4 0 -4.2 Z" stroke="none"/>
<path d="M0 -3.7 q0.6 -3.8 0.5 -7.6" fill="none" stroke-width="1.4" opacity="0.8"/>
</g>
<g transform="translate(985.8 116.9) rotate(-20)" fill="#5af060" stroke="#5af060">
<path d="M0 -4.8 C1.3 -3.8 2.7 -1.1 2.6 1.3 C2.5 3 1 3.8 0 4 C-1 3.8 -2.5 3 -2.6 1.3 C-2.7 -1.1 -1.3 -3.8 0 -4.8 Z" stroke="none"/>
<path d="M0 -4.2 q-1.2 -3.9 -2.6 -7.8" fill="none" stroke-width="1.4" opacity="0.8"/>
</g>
<g transform="translate(1002.4 119.1) rotate(-15)" fill="#5af060" stroke="#5af060">
<path d="M0 -5.8 C1.3 -4.6 2.7 -1.4 2.6 1.6 C2.5 3.7 1 4.6 0 4.8 C-1 4.6 -2.5 3.7 -2.6 1.6 C-2.7 -1.4 -1.3 -4.6 0 -5.8 Z" stroke="none"/>
<path d="M0 -5.1 q-0.1 -4.4 -2.8 -8.7" fill="none" stroke-width="1.4" opacity="0.8"/>
</g>
<g transform="translate(1010.8 137.1) rotate(10)" fill="#5af060" stroke="#5af060">
<path d="M0 -5 C1.3 -4 2.7 -1.2 2.6 1.4 C2.5 3.2 1 4 0 4.2 C-1 4 -2.5 3.2 -2.6 1.4 C-2.7 -1.2 -1.3 -4 0 -5 Z" stroke="none"/>
<path d="M0 -4.4 q1.2 -5.2 1.3 -10.5" fill="none" stroke-width="1.4" opacity="0.8"/>
</g>
<g transform="translate(903.8 115.5) rotate(0)" fill="#5af060" stroke="#5af060">
<path d="M0 -4.2 C0.8 -3.4 1.7 -1 1.6 1.2 C1.5 2.7 0.6 3.4 0 3.6 C-0.6 3.4 -1.5 2.7 -1.6 1.2 C-1.7 -1 -0.8 -3.4 0 -4.2 Z" stroke="none"/>
<path d="M0 -3.7 q0.8 -4.8 -1.6 -9.6" fill="none" stroke-width="1.4" opacity="0.8"/>
<path d="M1 2.4 q1.5 2.4 3.9 4.8" fill="none" stroke-width="1.1" opacity="0.7"/>
</g>
<g transform="translate(932.6 131.4) rotate(0)" fill="#3fd648" stroke="#3fd648">
<path d="M0 -3 C1.2 -2.4 2.5 -0.7 2.4 0.8 C2.3 1.9 1 2.4 0 2.5 C-1 2.4 -2.3 1.9 -2.4 0.8 C-2.5 -0.7 -1.2 -2.4 0 -3 Z" stroke="none"/>
<path d="M0 -2.6 q1 -3.1 -0.6 -6.2" fill="none" stroke-width="1.2" opacity="0.8"/>
<path d="M-1.4 1.7 q-1.5 1.8 -4.3 3.6" fill="none" stroke-width="1" opacity="0.7"/>
</g>
<g transform="translate(938.7 144.8) rotate(90)" fill="#2fb53a" stroke="#2fb53a">
<path d="M0 -3.8 C1.2 -3 2.5 -0.9 2.4 1 C2.3 2.4 1 3 0 3.2 C-1 3 -2.3 2.4 -2.4 1 C-2.5 -0.9 -1.2 -3 0 -3.8 Z" stroke="none"/>
<path d="M0 -3.3 q0.1 -3.1 2.9 -6.2" fill="none" stroke-width="1.1" opacity="0.8"/>
</g>
<g transform="translate(909.3 150) rotate(90)" fill="#3fd648" stroke="#3fd648">
<path d="M0 -3.5 C1.2 -2.8 2.5 -0.8 2.4 1 C2.3 2.2 1 2.8 0 2.9 C-1 2.8 -2.3 2.2 -2.4 1 C-2.5 -0.8 -1.2 -2.8 0 -3.5 Z" stroke="none"/>
<path d="M0 -3.1 q-0.1 -2.7 -2.5 -5.4" fill="none" stroke-width="1.2" opacity="0.8"/>
<path d="M-1.4 2 q-1.5 2.8 -4.5 5.5" fill="none" stroke-width="1" opacity="0.7"/>
</g>
<g transform="translate(1063.5 73.6) rotate(0)" fill="#3fd648" stroke="#3fd648">
<path d="M0 -3.8 C0.7 -3 1.5 -0.9 1.4 1 C1.3 2.4 0.6 3 0 3.2 C-0.6 3 -1.3 2.4 -1.4 1 C-1.5 -0.9 -0.7 -3 0 -3.8 Z" stroke="none"/>
<path d="M0 -3.3 q-1.3 -3.1 0.7 -6.3" fill="none" stroke-width="1.3" opacity="0.8"/>
<path d="M0.8 2.1 q1.5 2.5 3.6 5.1" fill="none" stroke-width="1" opacity="0.7"/>
</g>
<g transform="translate(1020.3 123.7) rotate(60)" fill="#2fb53a" stroke="#2fb53a">
<path d="M0 -3.2 C1 -2.6 2.1 -0.8 2 0.9 C1.9 2.1 0.8 2.6 0 2.7 C-0.8 2.6 -1.9 2.1 -2 0.9 C-2.1 -0.8 -1 -2.6 0 -3.2 Z" stroke="none"/>
<path d="M0 -2.9 q1.1 -3.5 -2.6 -6.9" fill="none" stroke-width="1.1" opacity="0.8"/>
<path d="M1.2 1.8 q1.5 2.4 3.3 4.9" fill="none" stroke-width="0.9" opacity="0.7"/>
</g>
<g transform="translate(997.4 92.5) rotate(0)" fill="#2fb53a" stroke="#2fb53a">
<path d="M0 -3.8 C1 -3 2.1 -0.9 2 1 C1.9 2.4 0.8 3 0 3.2 C-0.8 3 -1.9 2.4 -2 1 C-2.1 -0.9 -1 -3 0 -3.8 Z" stroke="none"/>
<path d="M0 -3.3 q-1.3 -3.6 -2.2 -7.2" fill="none" stroke-width="1.1" opacity="0.8"/>
</g>
<g transform="translate(950.6 49.4) rotate(0)" fill="#2fb53a" stroke="#2fb53a">
<path d="M0 -3.8 C1 -3 2.1 -0.9 2 1 C1.9 2.4 0.8 3 0 3.2 C-0.8 3 -1.9 2.4 -2 1 C-2.1 -0.9 -1 -3 0 -3.8 Z" stroke="none"/>
<path d="M0 -3.3 q1.4 -2.8 -0.7 -5.5" fill="none" stroke-width="1.1" opacity="0.8"/>
<path d="M1.2 2.1 q1.5 1.7 1 3.4" fill="none" stroke-width="0.9" opacity="0.7"/>
</g>
</g>
</g>
<line x1="1036" y1="143" x2="1059.5" y2="143" stroke="#fff" stroke-width="1.6"/>
<text x="909.8" y="39.4" font-size="13.6"><tspan fill="#35c84a">Cyto-roGFP2-orp1</tspan><tspan fill="#333">/</tspan><tspan fill="#2a3cf0">DAPI</tspan></text>
<g id="panelF">
<text x="5.3" y="209.2" font-size="18" fill="#000" font-weight="bold">F</text>
<g clip-path="url(#scF)">
<rect x="69.4" y="207" width="451.2" height="53.2" fill="url(#sgF)"/>
<rect x="69.4" y="207" width="451.2" height="53.2" fill="#3b2ea4" filter="url(#sn2F)" opacity="0.45"/>
<g mask="url(#mkF)">
<rect x="69.4" y="207" width="451.2" height="53.2" fill="#2a8fe0" filter="url(#snF)"/>
</g>
<g filter="url(#sbF)">
<rect x="101" y="239.2" width="1.3" height="2.9" fill="#2f74d8" opacity="0.6"/>
<rect x="102.3" y="243.2" width="1.7" height="2" fill="#3068d4" opacity="0.6"/>
<rect x="104" y="247" width="1.1" height="4.3" fill="#2f9ad8" opacity="0.6"/>
<rect x="105.6" y="241.4" width="2" height="2.2" fill="#2f74d8" opacity="0.7"/>
<rect x="105.6" y="251.9" width="1.3" height="4.3" fill="#2f9ad8" opacity="0.6"/>
<rect x="107.6" y="238.3" width="2.5" height="3.2" fill="#3068d4" opacity="0.8"/>
<rect x="107.6" y="250.6" width="1.3" height="1.9" fill="#2f9ad8" opacity="0.4"/>
<rect x="110.1" y="240" width="2.5" height="2.6" fill="#3068d4" opacity="0.6"/>
<rect x="112.6" y="240.1" width="1.6" height="2.3" fill="#2f74d8" opacity="0.7"/>
<rect x="114.2" y="243.8" width="2" height="3.4" fill="#2a90e0" opacity="0.4"/>
<rect x="116.3" y="247.3" width="1.3" height="3.1" fill="#58d0a0" opacity="0.7"/>
<rect x="119.3" y="237.1" width="1.2" height="3.1" fill="#2f74d8" opacity="0.3"/>
<rect x="120.4" y="238.7" width="1" height="3.6" fill="#2a90e0" opacity="0.4"/>
<rect x="120.4" y="246.5" width="0.7" height="2.1" fill="#35b8c8" opacity="0.4"/>
<rect x="121.4" y="244.3" width="1.2" height="2.8" fill="#2f74d8" opacity="0.6"/>
<rect x="122.7" y="243.6" width="1.5" height="2.4" fill="#2a90e0" opacity="0.5"/>
<rect x="124.1" y="243.4" width="2.1" height="3.5" fill="#2a90e0" opacity="0.4"/>
<rect x="128.3" y="238.9" width="1.3" height="3.6" fill="#2c80dc" opacity="0.3"/>
<rect x="129.6" y="243.7" width="2" height="2.9" fill="#3068d4" opacity="0.5"/>
<rect x="131.6" y="238.1" width="1.9" height="3.5" fill="#2f74d8" opacity="0.8"/>
<rect x="131.6" y="250.8" width="1.3" height="3.4" fill="#2f9ad8" opacity="0.4"/>
<rect x="133.6" y="240.9" width="1.2" height="3.3" fill="#2c80dc" opacity="0.5"/>
<rect x="134.8" y="238.5" width="2.2" height="2.2" fill="#2f74d8" opacity="0.6"/>
<rect x="134.8" y="249.3" width="1.3" height="3.6" fill="#58d0a0" opacity="0.6"/>
<rect x="137" y="240" width="1.1" height="2.3" fill="#2f74d8" opacity="0.5"/>
<rect x="138.1" y="238.9" width="1.2" height="2.5" fill="#2f74d8" opacity="0.7"/>
<rect x="138.1" y="256.8" width="0.8" height="2.7" fill="#a8d850" opacity="0.7"/>
<rect x="139.2" y="237.6" width="1.2" height="3.2" fill="#2f74d8" opacity="0.7"/>
<rect x="140.5" y="241.6" width="1.1" height="2.3" fill="#3068d4" opacity="0.4"/>
<rect x="141.6" y="240" width="1" height="2" fill="#3068d4" opacity="0.8"/>
<rect x="142.5" y="245.4" width="2.6" height="2" fill="#3068d4" opacity="0.7"/>
<rect x="145.1" y="239.9" width="1.8" height="2.3" fill="#2f74d8" opacity="0.7"/>
<rect x="146.9" y="240.8" width="2.6" height="3.2" fill="#2a90e0" opacity="0.8"/>
<rect x="149.4" y="242.1" width="2.4" height="1.6" fill="#2f74d8" opacity="0.4"/>
<rect x="149.4" y="253.2" width="1.3" height="3.2" fill="#2f9ad8" opacity="0.4"/>
<rect x="151.9" y="244.5" width="2.5" height="2.7" fill="#2f74d8" opacity="0.5"/>
<rect x="151.9" y="251.4" width="1.3" height="4" fill="#2f86dc" opacity="0.4"/>
<rect x="154.3" y="256.2" width="1" height="3.1" fill="#35b8c8" opacity="0.7"/>
<rect x="155.7" y="244.8" width="1" height="2.1" fill="#2a90e0" opacity="0.6"/>
<rect x="155.7" y="249" width="0.7" height="4" fill="#a8d850" opacity="0.4"/>
<rect x="156.7" y="245.3" width="1.1" height="3.3" fill="#2f74d8" opacity="0.6"/>
<rect x="157.8" y="243.3" width="1.2" height="2.4" fill="#3068d4" opacity="0.6"/>
<rect x="159" y="242.6" width="1.2" height="3" fill="#3068d4" opacity="0.7"/>
<rect x="160.2" y="242.6" width="1" height="2.9" fill="#2a90e0" opacity="0.5"/>
<rect x="161.2" y="239.4" width="2" height="3" fill="#3068d4" opacity="0.8"/>
<rect x="163.1" y="242.9" width="0.9" height="2.1" fill="#2a90e0" opacity="0.3"/>
<rect x="167.2" y="243.4" width="1.3" height="2.9" fill="#2a90e0" opacity="0.7"/>
<rect x="168.6" y="243.9" width="2.1" height="1.8" fill="#2a90e0" opacity="0.7"/>
<rect x="170.7" y="238.6" width="1.3" height="2.9" fill="#3068d4" opacity="0.4"/>
<rect x="170.7" y="255.8" width="0.9" height="2.1" fill="#a8d850" opacity="0.4"/>
<rect x="172" y="240.9" width="1.7" height="2.2" fill="#2c80dc" opacity="0.7"/>
<rect x="172" y="254.4" width="1.2" height="3.2" fill="#58d0a0" opacity="0.4"/>
<rect x="173.7" y="238.5" width="1.8" height="3.3" fill="#2f74d8" opacity="0.7"/>
<rect x="173.7" y="248.2" width="1.3" height="2.5" fill="#35b8c8" opacity="0.6"/>
<rect x="175.6" y="240.2" width="2.5" height="2.8" fill="#2c80dc" opacity="0.6"/>
<rect x="178.1" y="243.9" width="1.5" height="3.5" fill="#3068d4" opacity="0.6"/>
<rect x="179.6" y="239.6" width="2" height="2.6" fill="#3068d4" opacity="0.7"/>
<rect x="179.6" y="246.6" width="1.3" height="3.8" fill="#58d0a0" opacity="0.6"/>
<rect x="181.7" y="242" width="1.7" height="2" fill="#2a90e0" opacity="0.6"/>
<rect x="183.3" y="242.2" width="2.3" height="3.2" fill="#3068d4" opacity="0.6"/>
<rect x="188.2" y="252.6" width="0.9" height="2.4" fill="#2f9ad8" opacity="0.7"/>
<rect x="190.7" y="242.8" width="1.9" height="2.7" fill="#3068d4" opacity="0.8"/>
<rect x="190.7" y="256.1" width="1.3" height="3.9" fill="#2f86dc" opacity="0.5"/>
<rect x="192.6" y="237.9" width="1.3" height="3" fill="#2f74d8" opacity="0.8"/>
<rect x="193.9" y="240.8" width="1.3" height="3" fill="#2f74d8" opacity="0.7"/>
<rect x="193.9" y="255.8" width="0.9" height="2.6" fill="#2f9ad8" opacity="0.4"/>
<rect x="195.2" y="242.5" width="2.3" height="2.1" fill="#2c80dc" opacity="0.3"/>
<rect x="197.5" y="242.8" width="2.1" height="2.4" fill="#2f74d8" opacity="0.4"/>
<rect x="199.7" y="241.3" width="2.5" height="2.7" fill="#2f74d8" opacity="0.7"/>
<rect x="199.7" y="250.8" width="1.3" height="3" fill="#35b8c8" opacity="0.7"/>
<rect x="203.2" y="240.1" width="2.2" height="2.9" fill="#2c80dc" opacity="0.4"/>
<rect x="205.5" y="243.7" width="1.5" height="2.7" fill="#3068d4" opacity="0.6"/>
<rect x="205.5" y="248.8" width="1" height="3.8" fill="#58d0a0" opacity="0.4"/>
<rect x="206.9" y="242.6" width="2" height="2.9" fill="#2f74d8" opacity="0.4"/>
<rect x="208.9" y="244.5" width="2.5" height="2.9" fill="#3068d4" opacity="0.6"/>
<rect x="211.4" y="241.2" width="1.7" height="3" fill="#2a90e0" opacity="0.6"/>
<rect x="213.1" y="241.8" width="1.5" height="2.4" fill="#2f74d8" opacity="0.3"/>
<rect x="214.6" y="240.2" width="1.3" height="2.4" fill="#2a90e0" opacity="0.7"/>
<rect x="214.6" y="250.8" width="0.9" height="4.5" fill="#2f86dc" opacity="0.5"/>
<rect x="215.9" y="242.1" width="1.1" height="3.2" fill="#2f74d8" opacity="0.4"/>
<rect x="215.9" y="250.2" width="0.7" height="3.8" fill="#a8d850" opacity="0.7"/>
<rect x="217" y="243.1" width="1.1" height="2.7" fill="#2f74d8" opacity="0.6"/>
<rect x="217" y="248.3" width="0.8" height="3.9" fill="#2f86dc" opacity="0.7"/>
<rect x="218.1" y="238.2" width="1.7" height="3.2" fill="#2c80dc" opacity="0.6"/>
<rect x="223.1" y="244.1" width="1.9" height="2.9" fill="#3068d4" opacity="0.4"/>
<rect x="225.1" y="241.4" width="1.2" height="2" fill="#2a90e0" opacity="0.8"/>
<rect x="226.3" y="240.5" width="1.1" height="2.5" fill="#2f74d8" opacity="0.6"/>
<rect x="226.3" y="250.2" width="0.8" height="2.4" fill="#2f86dc" opacity="0.5"/>
<rect x="227.4" y="240.4" width="0.9" height="2.3" fill="#2c80dc" opacity="0.6"/>
<rect x="227.4" y="255.3" width="0.7" height="3.4" fill="#2f86dc" opacity="0.6"/>
<rect x="228.3" y="242.2" width="2.2" height="3.3" fill="#3068d4" opacity="0.6"/>
<rect x="228.3" y="249" width="1.3" height="3.9" fill="#2f9ad8" opacity="0.4"/>
<rect x="230.5" y="237" width="1.2" height="2.6" fill="#2f74d8" opacity="0.6"/>
<rect x="231.7" y="238.1" width="2" height="2.4" fill="#2f74d8" opacity="0.5"/>
<rect x="231.7" y="248.3" width="1.3" height="4.1" fill="#2f9ad8" opacity="0.6"/>
<rect x="233.7" y="242.3" width="1.9" height="1.6" fill="#2f74d8" opacity="0.4"/>
<rect x="235.6" y="241.2" width="2.4" height="2.8" fill="#2a90e0" opacity="0.4"/>
<rect x="235.6" y="247.5" width="1.3" height="2.3" fill="#2f9ad8" opacity="0.4"/>
<rect x="238" y="241.6" width="2.3" height="2.2" fill="#2f74d8" opacity="0.7"/>
<rect x="238" y="250.5" width="1.3" height="2.9" fill="#2f86dc" opacity="0.7"/>
<rect x="240.3" y="240.3" width="2.4" height="2.3" fill="#2f74d8" opacity="0.5"/>
<rect x="240.3" y="246.1" width="1.3" height="3.8" fill="#2f9ad8" opacity="0.7"/>
<rect x="242.7" y="241.4" width="2.5" height="3.5" fill="#3068d4" opacity="0.4"/>
<rect x="242.7" y="254.8" width="1.3" height="3.5" fill="#2f9ad8" opacity="0.5"/>
<rect x="245.2" y="243.7" width="1" height="1.8" fill="#2f74d8" opacity="0.3"/>
<rect x="246.2" y="242.4" width="1.7" height="2.6" fill="#2c80dc" opacity="0.4"/>
<rect x="249.6" y="239.8" width="2.5" height="3.5" fill="#2f74d8" opacity="0.8"/>
<rect x="249.6" y="250.5" width="1.3" height="3.2" fill="#35b8c8" opacity="0.5"/>
<rect x="252.1" y="253.8" width="1.3" height="3.8" fill="#a8d850" opacity="0.7"/>
<rect x="254.2" y="243.2" width="1.5" height="3.2" fill="#3068d4" opacity="0.4"/>
<rect x="255.7" y="242.4" width="1.7" height="2.8" fill="#3068d4" opacity="0.8"/>
<rect x="255.7" y="247.4" width="1.2" height="3.8" fill="#a8d850" opacity="0.5"/>
<rect x="257.4" y="244.1" width="2.2" height="1.8" fill="#2f74d8" opacity="0.6"/>
<rect x="259.6" y="242.7" width="1" height="3.3" fill="#2c80dc" opacity="0.8"/>
<rect x="259.6" y="247.6" width="0.7" height="3.9" fill="#2f86dc" opacity="0.5"/>
<rect x="260.6" y="241.4" width="1.4" height="3.2" fill="#2f74d8" opacity="0.4"/>
<rect x="260.6" y="247.4" width="1" height="3.5" fill="#35b8c8" opacity="0.7"/>
<rect x="262" y="242" width="1.1" height="2.6" fill="#2a90e0" opacity="0.7"/>
<rect x="263.1" y="244.9" width="2.2" height="2" fill="#2f74d8" opacity="0.6"/>
<rect x="263.1" y="254.7" width="1.3" height="3.4" fill="#a8d850" opacity="0.7"/>
<rect x="265.4" y="251.4" width="0.9" height="2.4" fill="#a8d850" opacity="0.6"/>
<rect x="266.6" y="239.8" width="1.1" height="2.4" fill="#3068d4" opacity="0.7"/>
<rect x="266.6" y="256.5" width="0.8" height="3" fill="#2f9ad8" opacity="0.4"/>
<rect x="267.7" y="238.3" width="1.8" height="3.1" fill="#2f74d8" opacity="0.5"/>
<rect x="267.7" y="253.7" width="1.3" height="4.3" fill="#58d0a0" opacity="0.6"/>
<rect x="269.5" y="240.2" width="1.6" height="2.3" fill="#2f74d8" opacity="0.5"/>
<rect x="271.1" y="240.6" width="1" height="1.9" fill="#2f74d8" opacity="0.7"/>
<rect x="272.2" y="243.3" width="2.6" height="2.4" fill="#2f74d8" opacity="0.8"/>
<rect x="274.8" y="240.2" width="1.7" height="2.4" fill="#2a90e0" opacity="0.8"/>
<rect x="274.8" y="256.7" width="1.2" height="2.3" fill="#2f86dc" opacity="0.4"/>
<rect x="276.5" y="243.3" width="1.2" height="2" fill="#2f74d8" opacity="0.4"/>
<rect x="277.6" y="241.6" width="1.5" height="3.1" fill="#2c80dc" opacity="0.4"/>
<rect x="279.1" y="241.4" width="2.4" height="3.2" fill="#2c80dc" opacity="0.8"/>
<rect x="281.6" y="243.5" width="2.4" height="1.9" fill="#2c80dc" opacity="0.8"/>
<rect x="283.9" y="243" width="2.6" height="1.7" fill="#2c80dc" opacity="0.7"/>
<rect x="286.5" y="240.4" width="1.4" height="3.2" fill="#2f74d8" opacity="0.3"/>
<rect x="288" y="240.7" width="1.2" height="3.6" fill="#3068d4" opacity="0.5"/>
<rect x="289.1" y="241.1" width="1.5" height="2.6" fill="#2f74d8" opacity="0.3"/>
<rect x="290.6" y="240.5" width="1.5" height="2.2" fill="#2f74d8" opacity="0.6"/>
<rect x="292.1" y="241.3" width="2.1" height="1.7" fill="#2f74d8" opacity="0.6"/>
<rect x="294.2" y="247" width="1.3" height="3.8" fill="#a8d850" opacity="0.5"/>
<rect x="296.7" y="241.8" width="2.2" height="1.7" fill="#3068d4" opacity="0.6"/>
<rect x="298.9" y="241.2" width="2.4" height="2.9" fill="#2a90e0" opacity="0.6"/>
<rect x="301.3" y="241.7" width="2" height="3.3" fill="#2f74d8" opacity="0.5"/>
<rect x="304.9" y="241.7" width="2.5" height="2.2" fill="#2a90e0" opacity="0.3"/>
<rect x="307.5" y="240" width="1.3" height="2.2" fill="#2a90e0" opacity="0.6"/>
<rect x="308.8" y="239.9" width="1.4" height="3.4" fill="#2f74d8" opacity="0.5"/>
<rect x="308.8" y="246.3" width="1" height="3.1" fill="#a8d850" opacity="0.7"/>
<rect x="310.1" y="242.2" width="2" height="2.4" fill="#3068d4" opacity="0.5"/>
<rect x="310.1" y="255.9" width="1.3" height="4.3" fill="#2f9ad8" opacity="0.6"/>
<rect x="312.1" y="240.6" width="1.8" height="2.4" fill="#3068d4" opacity="0.8"/>
<rect x="312.1" y="248.8" width="1.3" height="2.3" fill="#2f86dc" opacity="0.6"/>
<rect x="314" y="243.2" width="1.1" height="3.4" fill="#2c80dc" opacity="0.8"/>
<rect x="316.7" y="243.9" width="1.4" height="1.9" fill="#3068d4" opacity="0.8"/>
<rect x="316.7" y="256.4" width="1" height="2.3" fill="#2f9ad8" opacity="0.6"/>
<rect x="318.1" y="244.4" width="2" height="2" fill="#2f74d8" opacity="0.6"/>
<rect x="318.1" y="247.5" width="1.3" height="3.2" fill="#2f86dc" opacity="0.6"/>
<rect x="320.1" y="242.2" width="1.6" height="2.4" fill="#2f74d8" opacity="0.4"/>
<rect x="320.1" y="248" width="1.1" height="2.1" fill="#2f9ad8" opacity="0.7"/>
<rect x="321.6" y="250.5" width="1.3" height="2.2" fill="#2f9ad8" opacity="0.4"/>
<rect x="325.1" y="242.5" width="2.1" height="3.1" fill="#3068d4" opacity="0.6"/>
<rect x="327.2" y="241.3" width="1.8" height="2.7" fill="#3068d4" opacity="0.4"/>
<rect x="329" y="256.2" width="1.3" height="4.1" fill="#2f86dc" opacity="0.5"/>
<rect x="331.5" y="240.5" width="2.3" height="2.8" fill="#2f74d8" opacity="0.4"/>
<rect x="331.5" y="255.2" width="1.3" height="3.9" fill="#35b8c8" opacity="0.6"/>
<rect x="333.8" y="241.1" width="1.8" height="1.8" fill="#2a90e0" opacity="0.6"/>
<rect x="335.6" y="238.6" width="1.9" height="2.9" fill="#2a90e0" opacity="0.5"/>
<rect x="340.1" y="241.3" width="2.3" height="3.6" fill="#2c80dc" opacity="0.4"/>
<rect x="343.7" y="241.1" width="1.3" height="2.3" fill="#2f74d8" opacity="0.8"/>
<rect x="345" y="242.5" width="1.7" height="1.7" fill="#3068d4" opacity="0.6"/>
<rect x="346.6" y="240.6" width="1.4" height="1.7" fill="#2a90e0" opacity="0.4"/>
<rect x="348" y="241.6" width="2.4" height="3.3" fill="#2a90e0" opacity="0.5"/>
<rect x="350.4" y="238.8" width="1.8" height="3.4" fill="#2a90e0" opacity="0.5"/>
<rect x="352.2" y="243.5" width="0.9" height="1.6" fill="#2f74d8" opacity="0.4"/>
<rect x="353.1" y="241" width="1.2" height="2.5" fill="#2c80dc" opacity="0.7"/>
<rect x="354.3" y="239.3" width="2.5" height="3" fill="#2f74d8" opacity="0.6"/>
<rect x="356.8" y="240.6" width="1.3" height="1.8" fill="#2f74d8" opacity="0.6"/>
<rect x="356.8" y="246.4" width="0.9" height="2.7" fill="#2f86dc" opacity="0.5"/>
<rect x="358.1" y="243.7" width="2.6" height="1.9" fill="#2f74d8" opacity="0.6"/>
<rect x="360.6" y="239.8" width="2" height="3.6" fill="#2f74d8" opacity="0.3"/>
<rect x="362.6" y="241.1" width="2.2" height="3.3" fill="#2c80dc" opacity="0.5"/>
<rect x="367.2" y="242.1" width="1.6" height="2.4" fill="#2f74d8" opacity="0.3"/>
<rect x="368.8" y="240.5" width="2.4" height="2.1" fill="#2f74d8" opacity="0.4"/>
<rect x="373.5" y="242.3" width="1.5" height="2.7" fill="#2c80dc" opacity="0.7"/>
<rect x="373.5" y="251.6" width="1" height="3.5" fill="#2f9ad8" opacity="0.5"/>
<rect x="375" y="240.5" width="2.4" height="3" fill="#2a90e0" opacity="0.4"/>
<rect x="375" y="250.9" width="1.3" height="2.6" fill="#2f86dc" opacity="0.5"/>
<rect x="377.4" y="242.3" width="2.4" height="3.5" fill="#2a90e0" opacity="0.5"/>
<rect x="377.4" y="248.6" width="1.3" height="1.9" fill="#2f9ad8" opacity="0.4"/>
<rect x="379.7" y="242.1" width="2.4" height="3.1" fill="#2f74d8" opacity="0.5"/>
<rect x="382.1" y="241" width="1.2" height="2.3" fill="#2f74d8" opacity="0.4"/>
<rect x="383.3" y="244" width="1.2" height="2.6" fill="#2f74d8" opacity="0.4"/>
<rect x="384.5" y="241.1" width="1.9" height="2.7" fill="#2a90e0" opacity="0.4"/>
<rect x="386.5" y="239.2" width="1.5" height="2.7" fill="#3068d4" opacity="0.5"/>
<rect x="392.1" y="239.4" width="1.2" height="2.8" fill="#2f74d8" opacity="0.5"/>
<rect x="392.1" y="249" width="0.8" height="3.5" fill="#2f86dc" opacity="0.7"/>
<rect x="393.3" y="243.6" width="1.7" height="2.8" fill="#2f74d8" opacity="0.6"/>
<rect x="395" y="238.9" width="2.6" height="2.2" fill="#2c80dc" opacity="0.8"/>
<rect x="397.5" y="240.2" width="2.2" height="1.6" fill="#2a90e0" opacity="0.7"/>
<rect x="399.7" y="241" width="1.7" height="2.7" fill="#3068d4" opacity="0.7"/>
<rect x="402.6" y="243.5" width="1.8" height="3.4" fill="#2a90e0" opacity="0.6"/>
<rect x="402.6" y="246.5" width="1.3" height="3.1" fill="#2f86dc" opacity="0.4"/>
<rect x="404.4" y="240.3" width="2" height="2.4" fill="#2a90e0" opacity="0.6"/>
<rect x="406.5" y="241" width="1" height="2.2" fill="#2c80dc" opacity="0.4"/>
<rect x="407.5" y="241" width="1.7" height="2" fill="#2a90e0" opacity="0.7"/>
<rect x="409.2" y="246.1" width="2" height="2.1" fill="#2c80dc" opacity="0.7"/>
<rect x="411.2" y="241.1" width="1.1" height="2.5" fill="#2f74d8" opacity="0.5"/>
<rect x="412.3" y="240" width="1.2" height="2.1" fill="#2a90e0" opacity="0.4"/>
<rect x="413.5" y="238.4" width="1.6" height="3.6" fill="#3068d4" opacity="0.4"/>
<rect x="415.1" y="240.6" width="1.9" height="1.7" fill="#2f74d8" opacity="0.5"/>
<rect x="415.1" y="255.2" width="1.3" height="2.2" fill="#58d0a0" opacity="0.7"/>
<rect x="417" y="240.6" width="2.3" height="2.7" fill="#2c80dc" opacity="0.4"/>
<rect x="417" y="256.5" width="1.3" height="3.8" fill="#2f9ad8" opacity="0.5"/>
<rect x="419.4" y="241.6" width="1.4" height="2.3" fill="#2a90e0" opacity="0.7"/>
<rect x="419.4" y="247.4" width="1" height="2" fill="#58d0a0" opacity="0.4"/>
<rect x="74" y="248.6" width="1.1" height="5.7" fill="#30a0d8" opacity="0.3"/>
<rect x="74" y="253" width="1.1" height="4.2" fill="#d8dc38" opacity="0.8"/>
<rect x="75" y="251.1" width="1.1" height="3.2" fill="#2f8ae0" opacity="0.5"/>
<rect x="75" y="252.9" width="1.1" height="3.2" fill="#d8dc38" opacity="0.8"/>
<rect x="76" y="247" width="1.1" height="7.3" fill="#2f80dc" opacity="0.4"/>
<rect x="76" y="254.1" width="1.1" height="2.9" fill="#d8dc38" opacity="0.8"/>
<rect x="77" y="248.9" width="1.1" height="5.4" fill="#2f74d8" opacity="0.4"/>
<rect x="77" y="253.3" width="1.1" height="3.9" fill="#d8dc38" opacity="0.8"/>
<rect x="78" y="247.9" width="1.1" height="6.4" fill="#2f8ae0" opacity="0.5"/>
<rect x="78" y="252.2" width="1.1" height="5" fill="#d8dc38" opacity="1"/>
<rect x="79" y="247.5" width="1.1" height="6.8" fill="#2f74d8" opacity="0.3"/>
<rect x="79" y="253.3" width="1.1" height="3.5" fill="#d8dc38" opacity="0.8"/>
<rect x="80" y="250.4" width="1.1" height="3.9" fill="#2f80dc" opacity="0.4"/>
<rect x="80" y="254.1" width="1.1" height="3.7" fill="#d8dc38" opacity="0.9"/>
<rect x="81" y="250.9" width="1.1" height="3.4" fill="#2f80dc" opacity="0.5"/>
<rect x="81" y="252.8" width="1.1" height="4.4" fill="#d8dc38" opacity="0.8"/>
<rect x="82" y="248.3" width="1.1" height="6" fill="#30a0d8" opacity="0.6"/>
<rect x="82" y="253" width="1.1" height="2.3" fill="#d8dc38" opacity="0.8"/>
<rect x="83" y="249.5" width="1.1" height="4.8" fill="#2f80dc" opacity="0.4"/>
<rect x="83" y="252.1" width="1.1" height="3.8" fill="#d8dc38" opacity="0.9"/>
<rect x="84" y="249.9" width="1.1" height="4.4" fill="#2f80dc" opacity="0.5"/>
<rect x="84" y="252.9" width="1.1" height="3.7" fill="#a8d850" opacity="0.9"/>
<rect x="85" y="247.3" width="1.1" height="7" fill="#2f74d8" opacity="0.4"/>
<rect x="85" y="252.4" width="1.1" height="3.2" fill="#d8dc38" opacity="0.8"/>
<rect x="86" y="246.6" width="1.1" height="7.7" fill="#30a0d8" opacity="0.4"/>
<rect x="86" y="252.1" width="1.1" height="3.9" fill="#d8dc38" opacity="0.8"/>
<rect x="87" y="248.5" width="1.1" height="5.8" fill="#2f8ae0" opacity="0.3"/>
<rect x="87" y="252.6" width="1.1" height="2.5" fill="#d8dc38" opacity="0.9"/>
<rect x="88" y="247" width="1.1" height="7.3" fill="#2f74d8" opacity="0.5"/>
<rect x="88" y="252.2" width="1.1" height="5" fill="#d8dc38" opacity="0.9"/>
<rect x="89" y="247.4" width="1.1" height="6.9" fill="#30a0d8" opacity="0.3"/>
<rect x="89" y="252.2" width="1.1" height="4.7" fill="#d8dc38" opacity="0.8"/>
<rect x="90" y="246.9" width="1.1" height="7.4" fill="#30a0d8" opacity="0.4"/>
<rect x="90" y="251.7" width="1.1" height="4.2" fill="#d8dc38" opacity="0.8"/>
<rect x="91" y="247.7" width="1.1" height="6.6" fill="#30a0d8" opacity="0.5"/>
<rect x="91" y="252.3" width="1.1" height="2.5" fill="#a8d850" opacity="0.9"/>
<rect x="92" y="248.7" width="1.1" height="5.6" fill="#2f80dc" opacity="0.4"/>
<rect x="92" y="252.8" width="1.1" height="2.4" fill="#d8dc38" opacity="0.8"/>
<rect x="93" y="245.5" width="1.1" height="8.8" fill="#2f74d8" opacity="0.6"/>
<rect x="93" y="253.4" width="1.1" height="2.6" fill="#a8d850" opacity="1"/>
<rect x="94" y="245.6" width="1.1" height="8.7" fill="#2f8ae0" opacity="0.4"/>
<rect x="94" y="253.8" width="1.1" height="2.6" fill="#d8dc38" opacity="1"/>
<rect x="95" y="247.5" width="1.1" height="6.8" fill="#30a0d8" opacity="0.4"/>
<rect x="95" y="253.8" width="1.1" height="3.4" fill="#58c8a0" opacity="0.8"/>
<rect x="421" y="247" width="1.1" height="7.6" fill="#2f80dc" opacity="0.5"/>
<rect x="421" y="227.9" width="1.1" height="25.7" fill="#3a66d8" opacity="0.2"/>
<rect x="421" y="253.3" width="1.1" height="4.1" fill="#a8d850" opacity="0.8"/>
<rect x="422" y="243.6" width="1.1" height="11" fill="#2f8ae0" opacity="0.4"/>
<rect x="422" y="234.1" width="1.1" height="19.5" fill="#3a66d8" opacity="0.3"/>
<rect x="422" y="253.8" width="1.1" height="2.5" fill="#f6e02a" opacity="0.9"/>
<rect x="423" y="244.2" width="1.1" height="10.4" fill="#30a0d8" opacity="0.3"/>
<rect x="423" y="224.5" width="1.1" height="29.1" fill="#3a66d8" opacity="0.3"/>
<rect x="423" y="252.3" width="1.1" height="5" fill="#f6e02a" opacity="0.9"/>
<rect x="424" y="245.8" width="1.1" height="8.8" fill="#2f8ae0" opacity="0.5"/>
<rect x="424" y="254.3" width="1.1" height="2.7" fill="#a8d850" opacity="0.9"/>
<rect x="425" y="246.8" width="1.1" height="7.8" fill="#2f80dc" opacity="0.3"/>
<rect x="425" y="227.1" width="1.1" height="26.5" fill="#3a66d8" opacity="0.4"/>
<rect x="425" y="254" width="1.1" height="2.1" fill="#58c8a0" opacity="0.9"/>
<rect x="426" y="238.6" width="1.1" height="16" fill="#2f80dc" opacity="0.4"/>
<rect x="426" y="236.9" width="1.1" height="16.7" fill="#3a66d8" opacity="0.5"/>
<rect x="426" y="253.8" width="1.1" height="3.5" fill="#f6e02a" opacity="0.9"/>
<rect x="427" y="246.3" width="1.1" height="8.3" fill="#2f8ae0" opacity="0.5"/>
<rect x="427" y="253.9" width="1.1" height="3" fill="#f6e02a" opacity="0.9"/>
<rect x="428" y="247.8" width="1.1" height="6.8" fill="#2f74d8" opacity="0.5"/>
<rect x="428" y="227.8" width="1.1" height="25.8" fill="#3a66d8" opacity="0.5"/>
<rect x="428" y="253.6" width="1.1" height="2.9" fill="#f6e02a" opacity="0.8"/>
<rect x="429" y="250.4" width="1.1" height="4.2" fill="#2f74d8" opacity="0.6"/>
<rect x="429" y="229.3" width="1.1" height="24.3" fill="#3a66d8" opacity="0.4"/>
<rect x="429" y="253.4" width="1.1" height="3" fill="#f6e02a" opacity="0.8"/>
<rect x="430" y="242.8" width="1.1" height="11.8" fill="#2f74d8" opacity="0.3"/>
<rect x="430" y="253" width="1.1" height="4.1" fill="#f6e02a" opacity="0.8"/>
<rect x="431" y="250" width="1.1" height="4.6" fill="#30a0d8" opacity="0.3"/>
<rect x="431" y="253.1" width="1.1" height="5.1" fill="#f6e02a" opacity="0.9"/>
<rect x="432" y="241.4" width="1.1" height="13.2" fill="#2f74d8" opacity="0.6"/>
<rect x="432" y="253.8" width="1.1" height="4.1" fill="#f6e02a" opacity="0.9"/>
<rect x="433" y="246.4" width="1.1" height="8.2" fill="#30a0d8" opacity="0.5"/>
<rect x="433" y="227.9" width="1.1" height="25.7" fill="#3a66d8" opacity="0.4"/>
<rect x="433" y="253.7" width="1.1" height="4.8" fill="#f6e02a" opacity="0.8"/>
<rect x="434" y="245.3" width="1.1" height="9.3" fill="#30a0d8" opacity="0.3"/>
<rect x="434" y="254.8" width="1.1" height="3.7" fill="#f6e02a" opacity="0.8"/>
<rect x="435" y="246.1" width="1.1" height="8.5" fill="#2f80dc" opacity="0.6"/>
<rect x="435" y="253.9" width="1.1" height="3.9" fill="#f6e02a" opacity="1"/>
<rect x="436" y="249.4" width="1.1" height="5.2" fill="#2f8ae0" opacity="0.3"/>
<rect x="436" y="253.6" width="1.1" height="3.4" fill="#f6e02a" opacity="0.9"/>
<rect x="437" y="247.6" width="1.1" height="7" fill="#30a0d8" opacity="0.4"/>
<rect x="437" y="253.7" width="1.1" height="4.5" fill="#a8d850" opacity="1"/>
<rect x="438" y="242.3" width="1.1" height="12.3" fill="#30a0d8" opacity="0.5"/>
<rect x="438" y="237" width="1.1" height="16.6" fill="#3a66d8" opacity="0.5"/>
<rect x="438" y="253" width="1.1" height="4.3" fill="#58c8a0" opacity="1"/>
<rect x="439" y="239.4" width="1.1" height="15.2" fill="#2f80dc" opacity="0.4"/>
<rect x="439" y="254.6" width="1.1" height="2.8" fill="#f6e02a" opacity="1"/>
<rect x="440" y="245.3" width="1.1" height="9.3" fill="#30a0d8" opacity="0.5"/>
<rect x="440" y="253.1" width="1.1" height="4" fill="#a8d850" opacity="0.8"/>
<rect x="441" y="246.9" width="1.1" height="7.7" fill="#30a0d8" opacity="0.4"/>
<rect x="441" y="230.8" width="1.1" height="22.8" fill="#3a66d8" opacity="0.3"/>
<rect x="441" y="253.5" width="1.1" height="3.7" fill="#f6e02a" opacity="0.8"/>
<rect x="442" y="240.4" width="1.1" height="14.2" fill="#2f80dc" opacity="0.4"/>
<rect x="442" y="252.9" width="1.1" height="3.7" fill="#f6e02a" opacity="0.9"/>
<rect x="443" y="243.8" width="1.1" height="10.8" fill="#2f80dc" opacity="0.4"/>
<rect x="443" y="253.2" width="1.1" height="3.1" fill="#f6e02a" opacity="0.9"/>
<rect x="444" y="245" width="1.1" height="9.6" fill="#30a0d8" opacity="0.5"/>
<rect x="444" y="252.6" width="1.1" height="4.2" fill="#f6e02a" opacity="1"/>
<rect x="445" y="249.1" width="1.1" height="5.5" fill="#2f80dc" opacity="0.6"/>
<rect x="445" y="253" width="1.1" height="3.2" fill="#f6e02a" opacity="0.9"/>
<rect x="446" y="249.7" width="1.1" height="4.9" fill="#30a0d8" opacity="0.3"/>
<rect x="446" y="233.7" width="1.1" height="19.9" fill="#3a66d8" opacity="0.3"/>
<rect x="446" y="252.4" width="1.1" height="4.1" fill="#a8d850" opacity="0.9"/>
<rect x="447" y="246.3" width="1.1" height="8.3" fill="#2f80dc" opacity="0.5"/>
<rect x="447" y="253.5" width="1.1" height="3.1" fill="#f6e02a" opacity="0.9"/>
<rect x="448" y="250.6" width="1.1" height="4" fill="#2f80dc" opacity="0.4"/>
<rect x="448" y="230.5" width="1.1" height="23.1" fill="#3a66d8" opacity="0.3"/>
<rect x="448" y="253.3" width="1.1" height="5.1" fill="#58c8a0" opacity="0.9"/>
<rect x="449" y="248.6" width="1.1" height="6" fill="#30a0d8" opacity="0.5"/>
<rect x="449" y="254.2" width="1.1" height="4.5" fill="#f6e02a" opacity="0.8"/>
<rect x="450" y="241.5" width="1.1" height="13.1" fill="#2f8ae0" opacity="0.5"/>
<rect x="450" y="234.8" width="1.1" height="18.8" fill="#3a66d8" opacity="0.5"/>
<rect x="450" y="253.7" width="1.1" height="4.1" fill="#f6e02a" opacity="0.9"/>
<rect x="451" y="244.4" width="1.1" height="10.2" fill="#2f8ae0" opacity="0.6"/>
<rect x="451" y="230" width="1.1" height="23.6" fill="#3a66d8" opacity="0.4"/>
<rect x="451" y="253.8" width="1.1" height="4.3" fill="#f6e02a" opacity="0.9"/>
<rect x="452" y="242.8" width="1.1" height="11.8" fill="#2f80dc" opacity="0.4"/>
<rect x="452" y="230.2" width="1.1" height="23.4" fill="#3a66d8" opacity="0.3"/>
<rect x="452" y="254.3" width="1.1" height="4.1" fill="#a8d850" opacity="1"/>
<rect x="453" y="239.3" width="1.1" height="15.3" fill="#30a0d8" opacity="0.5"/>
<rect x="453" y="226.9" width="1.1" height="26.7" fill="#3a66d8" opacity="0.4"/>
<rect x="453" y="254.4" width="1.1" height="3.9" fill="#f6e02a" opacity="0.9"/>
<rect x="454" y="247.5" width="1.1" height="7.1" fill="#2f80dc" opacity="0.5"/>
<rect x="454" y="227.5" width="1.1" height="26.1" fill="#3a66d8" opacity="0.3"/>
<rect x="454" y="254.3" width="1.1" height="3.6" fill="#f6e02a" opacity="1"/>
<rect x="455" y="249.6" width="1.1" height="5" fill="#2f8ae0" opacity="0.3"/>
<rect x="455" y="254.7" width="1.1" height="3.5" fill="#f6e02a" opacity="0.9"/>
<rect x="456" y="246.8" width="1.1" height="7.8" fill="#2f8ae0" opacity="0.4"/>
<rect x="456" y="254.8" width="1.1" height="3.2" fill="#f6e02a" opacity="1"/>
<rect x="457" y="249.2" width="1.1" height="5.4" fill="#2f74d8" opacity="0.6"/>
<rect x="457" y="255.1" width="1.1" height="3" fill="#a8d850" opacity="1"/>
<rect x="458" y="246.7" width="1.1" height="7.9" fill="#30a0d8" opacity="0.3"/>
<rect x="458" y="230.4" width="1.1" height="23.2" fill="#3a66d8" opacity="0.2"/>
<rect x="458" y="254.6" width="1.1" height="4" fill="#f6e02a" opacity="0.8"/>
<rect x="459" y="249.6" width="1.1" height="5" fill="#30a0d8" opacity="0.6"/>
<rect x="459" y="225.2" width="1.1" height="28.4" fill="#3a66d8" opacity="0.4"/>
<rect x="459" y="255.1" width="1.1" height="2.6" fill="#a8d850" opacity="0.9"/>
<rect x="460" y="242.2" width="1.1" height="12.4" fill="#2f8ae0" opacity="0.5"/>
<rect x="460" y="254.2" width="1.1" height="2.5" fill="#f6e02a" opacity="0.9"/>
<rect x="461" y="248.9" width="1.1" height="5.7" fill="#2f80dc" opacity="0.5"/>
<rect x="461" y="225.4" width="1.1" height="28.2" fill="#3a66d8" opacity="0.2"/>
<rect x="461" y="253.3" width="1.1" height="4.8" fill="#f6e02a" opacity="1"/>
<rect x="462" y="248.5" width="1.1" height="6.1" fill="#2f74d8" opacity="0.4"/>
<rect x="462" y="253.7" width="1.1" height="2.7" fill="#f6e02a" opacity="0.8"/>
<rect x="463" y="246.8" width="1.1" height="7.8" fill="#2f80dc" opacity="0.4"/>
<rect x="463" y="239.2" width="1.1" height="14.4" fill="#3a66d8" opacity="0.2"/>
<rect x="463" y="254.5" width="1.1" height="2.7" fill="#f6e02a" opacity="0.8"/>
<rect x="464" y="241.7" width="1.1" height="12.9" fill="#2f80dc" opacity="0.3"/>
<rect x="464" y="253.4" width="1.1" height="5.1" fill="#f6e02a" opacity="0.8"/>
<rect x="465" y="241" width="1.1" height="13.6" fill="#30a0d8" opacity="0.3"/>
<rect x="465" y="226.3" width="1.1" height="27.3" fill="#3a66d8" opacity="0.4"/>
<rect x="465" y="254.1" width="1.1" height="4.8" fill="#f6e02a" opacity="0.8"/>
<rect x="466" y="248.5" width="1.1" height="6.1" fill="#2f8ae0" opacity="0.5"/>
<rect x="466" y="254.2" width="1.1" height="5.1" fill="#f6e02a" opacity="0.9"/>
<rect x="467" y="249.3" width="1.1" height="5.3" fill="#2f8ae0" opacity="0.5"/>
<rect x="467" y="224.5" width="1.1" height="29.1" fill="#3a66d8" opacity="0.3"/>
<rect x="467" y="256" width="1.1" height="2.1" fill="#f6e02a" opacity="0.8"/>
<rect x="468" y="238.7" width="1.1" height="15.9" fill="#2f74d8" opacity="0.5"/>
<rect x="468" y="254.9" width="1.1" height="4.3" fill="#f6e02a" opacity="0.8"/>
<rect x="469" y="248.2" width="1.1" height="6.4" fill="#2f74d8" opacity="0.4"/>
<rect x="469" y="254.9" width="1.1" height="3.7" fill="#f6e02a" opacity="0.8"/>
<rect x="470" y="248" width="1.1" height="6.6" fill="#2f74d8" opacity="0.4"/>
<rect x="470" y="254.8" width="1.1" height="4" fill="#58c8a0" opacity="0.9"/>
<rect x="471" y="248.3" width="1.1" height="6.3" fill="#30a0d8" opacity="0.4"/>
<rect x="471" y="254.3" width="1.1" height="5" fill="#a8d850" opacity="1"/>
<rect x="472" y="243.1" width="1.1" height="11.5" fill="#2f74d8" opacity="0.3"/>
<rect x="472" y="255.1" width="1.1" height="3.4" fill="#a8d850" opacity="0.9"/>
<rect x="473" y="244.4" width="1.1" height="10.2" fill="#2f8ae0" opacity="0.6"/>
<rect x="473" y="254.6" width="1.1" height="4.6" fill="#f6e02a" opacity="0.9"/>
<rect x="474" y="240" width="1.1" height="14.6" fill="#2f74d8" opacity="0.6"/>
<rect x="474" y="232.8" width="1.1" height="20.8" fill="#3a66d8" opacity="0.4"/>
<rect x="474" y="255.5" width="1.1" height="2.9" fill="#58c8a0" opacity="0.9"/>
<rect x="475" y="244.8" width="1.1" height="9.8" fill="#2f74d8" opacity="0.5"/>
<rect x="475" y="255.5" width="1.1" height="2.6" fill="#f6e02a" opacity="0.8"/>
<rect x="476" y="242.5" width="1.1" height="12.1" fill="#2f8ae0" opacity="0.3"/>
<rect x="476" y="256" width="1.1" height="2.5" fill="#f6e02a" opacity="0.9"/>
<rect x="477" y="246.1" width="1.1" height="8.5" fill="#30a0d8" opacity="0.5"/>
<rect x="477" y="239.5" width="1.1" height="14.1" fill="#3a66d8" opacity="0.5"/>
<rect x="477" y="255.4" width="1.1" height="3.3" fill="#f6e02a" opacity="0.8"/>
<rect x="478" y="246.1" width="1.1" height="8.5" fill="#2f8ae0" opacity="0.6"/>
<rect x="478" y="253.7" width="1.1" height="5" fill="#a8d850" opacity="0.8"/>
<rect x="479" y="240.5" width="1.1" height="14.1" fill="#2f8ae0" opacity="0.4"/>
<rect x="479" y="254" width="1.1" height="2.6" fill="#a8d850" opacity="1"/>
<rect x="480" y="249.6" width="1.1" height="5" fill="#2f8ae0" opacity="0.5"/>
<rect x="480" y="229.5" width="1.1" height="24.1" fill="#3a66d8" opacity="0.2"/>
<rect x="480" y="253.8" width="1.1" height="4.8" fill="#f6e02a" opacity="1"/>
<rect x="481" y="245.8" width="1.1" height="8.8" fill="#2f80dc" opacity="0.4"/>
<rect x="481" y="254.4" width="1.1" height="2.1" fill="#a8d850" opacity="0.8"/>
<rect x="482" y="241.1" width="1.1" height="13.5" fill="#2f74d8" opacity="0.4"/>
<rect x="482" y="253.7" width="1.1" height="3" fill="#f6e02a" opacity="1"/>
<rect x="483" y="240.6" width="1.1" height="14" fill="#2f8ae0" opacity="0.3"/>
<rect x="483" y="253.2" width="1.1" height="3.1" fill="#f6e02a" opacity="1"/>
<rect x="484" y="249.6" width="1.1" height="5" fill="#2f80dc" opacity="0.4"/>
<rect x="484" y="224.3" width="1.1" height="29.3" fill="#3a66d8" opacity="0.3"/>
<rect x="484" y="253" width="1.1" height="2.9" fill="#f6e02a" opacity="0.8"/>
<rect x="485" y="249.7" width="1.1" height="4.9" fill="#2f80dc" opacity="0.3"/>
<rect x="485" y="252.8" width="1.1" height="2.5" fill="#f6e02a" opacity="0.9"/>
<rect x="486" y="249.3" width="1.1" height="5.3" fill="#2f80dc" opacity="0.3"/>
<rect x="486" y="253.1" width="1.1" height="3" fill="#58c8a0" opacity="0.8"/>
<rect x="487" y="242" width="1.1" height="12.6" fill="#2f80dc" opacity="0.5"/>
<rect x="487" y="253.3" width="1.1" height="2" fill="#f6e02a" opacity="1"/>
<rect x="488" y="241.3" width="1.1" height="13.3" fill="#30a0d8" opacity="0.4"/>
<rect x="488" y="253.2" width="1.1" height="2.2" fill="#f6e02a" opacity="0.9"/>
<rect x="489" y="239.4" width="1.1" height="15.2" fill="#2f80dc" opacity="0.4"/>
<rect x="489" y="236.4" width="1.1" height="17.2" fill="#3a66d8" opacity="0.5"/>
<rect x="489" y="252.7" width="1.1" height="3.1" fill="#f6e02a" opacity="1"/>
<rect x="490" y="246.5" width="1.1" height="8.1" fill="#2f80dc" opacity="0.3"/>
<rect x="490" y="229.8" width="1.1" height="23.8" fill="#3a66d8" opacity="0.2"/>
<rect x="490" y="253.5" width="1.1" height="2.7" fill="#f6e02a" opacity="0.8"/>
<rect x="491" y="238.7" width="1.1" height="15.9" fill="#2f8ae0" opacity="0.4"/>
<rect x="491" y="231" width="1.1" height="22.6" fill="#3a66d8" opacity="0.3"/>
<rect x="491" y="253.9" width="1.1" height="2.9" fill="#f6e02a" opacity="1"/>
<rect x="492" y="243.7" width="1.1" height="10.9" fill="#2f8ae0" opacity="0.4"/>
<rect x="492" y="253.6" width="1.1" height="4.7" fill="#f6e02a" opacity="0.9"/>
<rect x="493" y="248.1" width="1.1" height="6.5" fill="#30a0d8" opacity="0.5"/>
<rect x="493" y="239.3" width="1.1" height="14.3" fill="#3a66d8" opacity="0.4"/>
<rect x="493" y="254.5" width="1.1" height="2.2" fill="#f6e02a" opacity="0.8"/>
<rect x="494" y="245.2" width="1.1" height="9.4" fill="#2f8ae0" opacity="0.4"/>
<rect x="494" y="224.1" width="1.1" height="29.5" fill="#3a66d8" opacity="0.3"/>
<rect x="494" y="255.2" width="1.1" height="1.9" fill="#a8d850" opacity="0.9"/>
<rect x="495" y="248.7" width="1.1" height="5.9" fill="#2f8ae0" opacity="0.3"/>
<rect x="495" y="255.5" width="1.1" height="2.5" fill="#a8d850" opacity="0.9"/>
<rect x="496" y="242.3" width="1.1" height="12.3" fill="#30a0d8" opacity="0.3"/>
<rect x="496" y="231.5" width="1.1" height="22.1" fill="#3a66d8" opacity="0.3"/>
<rect x="496" y="254.8" width="1.1" height="3" fill="#f6e02a" opacity="0.8"/>
<rect x="497" y="245.3" width="1.1" height="9.3" fill="#30a0d8" opacity="0.5"/>
<rect x="497" y="254.1" width="1.1" height="4.4" fill="#a8d850" opacity="0.9"/>
<rect x="498" y="246.5" width="1.1" height="8.1" fill="#2f74d8" opacity="0.4"/>
<rect x="498" y="232.6" width="1.1" height="21" fill="#3a66d8" opacity="0.3"/>
<rect x="498" y="254" width="1.1" height="3.1" fill="#f6e02a" opacity="0.9"/>
<rect x="499" y="244.3" width="1.1" height="10.3" fill="#2f8ae0" opacity="0.4"/>
<rect x="499" y="231.8" width="1.1" height="21.8" fill="#3a66d8" opacity="0.4"/>
<rect x="499" y="254.6" width="1.1" height="2.9" fill="#f6e02a" opacity="0.8"/>
<rect x="500" y="246.5" width="1.1" height="8.1" fill="#2f80dc" opacity="0.4"/>
<rect x="500" y="255.7" width="1.1" height="2.1" fill="#f6e02a" opacity="0.9"/>
<rect x="501" y="243.6" width="1.1" height="11" fill="#30a0d8" opacity="0.5"/>
<rect x="501" y="233.7" width="1.1" height="19.9" fill="#3a66d8" opacity="0.4"/>
<rect x="501" y="254.1" width="1.1" height="3.9" fill="#a8d850" opacity="0.9"/>
<rect x="502" y="246.8" width="1.1" height="7.8" fill="#2f74d8" opacity="0.3"/>
<rect x="502" y="231.3" width="1.1" height="22.3" fill="#3a66d8" opacity="0.3"/>
<rect x="502" y="253.9" width="1.1" height="3.1" fill="#f6e02a" opacity="0.8"/>
<rect x="503" y="249.5" width="1.1" height="5.1" fill="#2f8ae0" opacity="0.5"/>
<rect x="503" y="237.9" width="1.1" height="15.7" fill="#3a66d8" opacity="0.4"/>
<rect x="503" y="254.5" width="1.1" height="2.3" fill="#a8d850" opacity="0.8"/>
<rect x="504" y="241.9" width="1.1" height="12.7" fill="#2f80dc" opacity="0.4"/>
<rect x="504" y="253.7" width="1.1" height="4.1" fill="#a8d850" opacity="1"/>
<rect x="505" y="244" width="1.1" height="10.6" fill="#2f8ae0" opacity="0.4"/>
<rect x="505" y="252.9" width="1.1" height="4.8" fill="#f6e02a" opacity="0.9"/>
<rect x="506" y="240.9" width="1.1" height="13.7" fill="#2f80dc" opacity="0.4"/>
<rect x="506" y="252.4" width="1.1" height="5" fill="#a8d850" opacity="0.9"/>
<rect x="507" y="245.1" width="1.1" height="9.5" fill="#2f74d8" opacity="0.6"/>
<rect x="507" y="232.6" width="1.1" height="21" fill="#3a66d8" opacity="0.4"/>
<rect x="507" y="253.7" width="1.1" height="3.9" fill="#f6e02a" opacity="0.8"/>
<rect x="508" y="247.5" width="1.1" height="7.1" fill="#2f74d8" opacity="0.3"/>
<rect x="508" y="235.1" width="1.1" height="18.5" fill="#3a66d8" opacity="0.3"/>
<rect x="508" y="253.2" width="1.1" height="3.4" fill="#58c8a0" opacity="0.9"/>
<rect x="509" y="248.1" width="1.1" height="6.5" fill="#30a0d8" opacity="0.4"/>
<rect x="509" y="254.1" width="1.1" height="3.1" fill="#f6e02a" opacity="0.8"/>
<rect x="510" y="248.2" width="1.1" height="6.4" fill="#30a0d8" opacity="0.6"/>
<rect x="510" y="236.6" width="1.1" height="17" fill="#3a66d8" opacity="0.5"/>
<rect x="510" y="253.5" width="1.1" height="5.1" fill="#f6e02a" opacity="0.9"/>
<rect x="511" y="241.2" width="1.1" height="13.4" fill="#2f8ae0" opacity="0.5"/>
<rect x="511" y="226.4" width="1.1" height="27.2" fill="#3a66d8" opacity="0.5"/>
<rect x="511" y="253.9" width="1.1" height="3.3" fill="#f6e02a" opacity="0.9"/>
<rect x="512" y="239.9" width="1.1" height="14.7" fill="#2f74d8" opacity="0.6"/>
<rect x="512" y="253.1" width="1.1" height="4.9" fill="#a8d850" opacity="0.8"/>
<rect x="513" y="240.4" width="1.1" height="14.2" fill="#2f74d8" opacity="0.5"/>
<rect x="513" y="254.1" width="1.1" height="4.5" fill="#58c8a0" opacity="0.9"/>
<rect x="514" y="247.3" width="1.1" height="7.3" fill="#2f8ae0" opacity="0.3"/>
<rect x="514" y="238.1" width="1.1" height="15.5" fill="#3a66d8" opacity="0.3"/>
<rect x="514" y="253.5" width="1.1" height="3.6" fill="#f6e02a" opacity="1"/>
<rect x="515" y="239.4" width="1.1" height="15.2" fill="#30a0d8" opacity="0.5"/>
<rect x="515" y="253.8" width="1.1" height="1.9" fill="#58c8a0" opacity="0.8"/>
<rect x="516" y="241.7" width="1.1" height="12.9" fill="#2f8ae0" opacity="0.4"/>
<rect x="516" y="252.4" width="1.1" height="4.7" fill="#f6e02a" opacity="0.8"/>
<rect x="517" y="247.6" width="1.1" height="7" fill="#2f74d8" opacity="0.5"/>
<rect x="517" y="253.2" width="1.1" height="4.6" fill="#f6e02a" opacity="1"/>
<rect x="518" y="250.3" width="1.1" height="4.3" fill="#2f74d8" opacity="0.5"/>
<rect x="518" y="253.4" width="1.1" height="4.4" fill="#f6e02a" opacity="0.8"/>
<rect x="519" y="249.9" width="1.1" height="4.7" fill="#2f80dc" opacity="0.4"/>
<rect x="519" y="232.9" width="1.1" height="20.7" fill="#3a66d8" opacity="0.4"/>
<rect x="519" y="254.8" width="1.1" height="3.1" fill="#a8d850" opacity="1"/>
<rect x="520" y="249.7" width="1.1" height="4.9" fill="#30a0d8" opacity="0.4"/>
<rect x="520" y="254.7" width="1.1" height="3.2" fill="#f6e02a" opacity="0.8"/>
</g>
<rect x="424.3" y="207" width="0.9" height="53.2" fill="#e8c8b0" opacity="0.8"/>
<rect x="418.2" y="207" width="0.9" height="53.2" fill="#b8a0a8" opacity="0.45"/>
<rect x="372.6" y="215" width="0.9" height="45.2" fill="#a890b8" opacity="0.4"/>
<rect x="108" y="227" width="0.9" height="33.2" fill="#60a0d0" opacity="0.3"/>
<rect x="91" y="227" width="0.9" height="33.2" fill="#6aa8d8" opacity="0.3"/>
<rect x="483" y="221" width="0.9" height="39.2" fill="#a0b8b0" opacity="0.35"/>
</g>
<rect x="495" y="196.2" width="25" height="8.3" fill="url(#cbF)"/>
<text x="65.8" y="216.8" font-size="12.3" fill="#222" text-anchor="end">25</text>
<text x="65.8" y="261.4" font-size="12.3" fill="#222" text-anchor="end">1</text>
<text transform="translate(45.3 234.5) rotate(-90)" font-size="12.6" fill="#222" text-anchor="middle">Freq (Hz)</text>
<text x="71.7" y="220.6" font-size="12.6" fill="#dcd6f2">EEG</text>
<text x="64.2" y="283.4" font-size="12.4" fill="#111" text-anchor="end">EMG</text>
<polygon points="69.4,277.1 69.9,277 70.4,277.5 70.9,277.4 71.4,276.6 71.9,275.5 72.4,277.3 72.9,275 73.4,276.8 73.9,277 74.4,276.5 74.9,275.2 75.4,275.1 75.9,276.5 76.4,276.4 76.9,275.8 77.4,276.3 77.9,274.7 78.4,277.7 78.9,276.1 79.4,277.6 79.9,278.6 80.4,279 80.9,278.7 81.4,278.8 81.9,278.7 82.4,278.5 82.9,278.8 83.4,278.9 83.9,279 84.4,278.6 84.9,278.8 85.4,278.2 85.9,278.9 86.4,278.7 86.9,278.3 87.4,278.8 87.9,278.5 88.4,278.3 88.9,278.5 89.4,279.1 89.9,278.5 90.4,278.3 90.9,278.9 91.4,278.4 91.9,278.4 92.4,278.5 92.9,278.4 93.4,278.8 93.9,278.9 94.4,277.3 94.9,276.1 95.4,273.9 95.9,275.1 96.4,275.6 96.9,271.2 97.4,275 97.9,273.7 98.4,276.2 98.9,275.8 99.4,275.4 99.9,276 100.4,274.1 100.9,273.7 101.4,274.8 101.9,274.9 102.4,273.6 102.9,270.1 103.4,276.1 103.9,275.8 104.4,273.8 104.9,275.1 105.4,275.8 105.9,275.7 106.4,275 106.9,274.8 107.4,273.5 107.9,275.5 108.4,273.9 108.9,272.7 109.4,275 109.9,274 110.4,275 110.9,275.5 111.4,274 111.9,275.4 112.4,273.6 112.9,274.7 113.4,275.9 113.9,273.9 114.4,273.4 114.9,274.4 115.4,276 115.9,276 116.4,275.4 116.9,275.8 117.4,273.5 117.9,272.6 118.4,274.8 118.9,274.6 119.4,275.6 119.9,274.3 120.4,275.3 120.9,274.4 121.4,274.4 121.9,274.8 122.4,274.5 122.9,273 123.4,274.6 123.9,274.8 124.4,274.8 124.9,275.5 125.4,275.6 125.9,275.1 126.4,272.1 126.9,274.1 127.4,275.4 127.9,275.4 128.4,275.9 128.9,273.5 129.4,273.4 129.9,273.5 130.4,269.9 130.9,273.6 131.4,271.3 131.9,275.3 132.4,273.8 132.9,275.8 133.4,275.4 133.9,274.5 134.4,276 134.9,273.5 135.4,275.6 135.9,273.8 136.4,270 136.9,274 137.4,275.8 137.9,274 138.4,275.3 138.9,275.7 139.4,275.5 139.9,273.4 140.4,275.4 140.9,275 141.4,275.2 141.9,275.8 142.4,275.5 142.9,274.9 143.4,276.1 143.9,271.7 144.4,273.8 144.9,275.8 145.4,273.4 145.9,270.3 146.4,273.5 146.9,272.2 147.4,274.5 147.9,276.1 148.4,274.3 148.9,275.4 149.4,276.1 149.9,275.4 150.4,276 150.9,275.6 151.4,275.5 151.9,275.5 152.4,273.4 152.9,274.9 153.4,275 153.9,276 154.4,273.6 154.9,275.2 155.4,276.1 155.9,272.7 156.4,273.4 156.9,275.1 157.4,276 157.9,275.6 158.4,271.7 158.9,275.4 159.4,275.4 159.9,274.1 160.4,273.5 160.9,274.8 161.4,275.4 161.9,275.6 162.4,273.9 162.9,272.9 163.4,272.2 163.9,273.3 164.4,275.9 164.9,274.9 165.4,274.2 165.9,275.8 166.4,275.1 166.9,275.5 167.4,275.2 167.9,275.5 168.4,275.9 168.9,273.5 169.4,273.4 169.9,273.7 170.4,273.4 170.9,275.5 171.4,275.4 171.9,276.1 172.4,275.3 172.9,276 173.4,274.3 173.9,275 174.4,275.3 174.9,273.7 175.4,268.4 175.9,273.8 176.4,275.7 176.9,273.6 177.4,274.7 177.9,273.5 178.4,266.9 178.9,274.8 179.4,273.6 179.9,273.9 180.4,273.8 180.9,272.1 181.4,273.6 181.9,273.1 182.4,274.4 182.9,275 183.4,276.1 183.9,274 184.4,271.6 184.9,274.7 185.4,269.9 185.9,273.5 186.4,274.1 186.9,274.8 187.4,270.5 187.9,275.7 188.4,275.8 188.9,275.4 189.4,275.7 189.9,272.7 190.4,275.2 190.9,273.7 191.4,275.1 191.9,274.5 192.4,271.8 192.9,274.4 193.4,273.3 193.9,275 194.4,271.1 194.9,275.6 195.4,268.9 195.9,275.8 196.4,274 196.9,274.6 197.4,273.5 197.9,276.1 198.4,273.2 198.9,275.8 199.4,274.4 199.9,275.4 200.4,274.2 200.9,274.9 201.4,273.6 201.9,274.2 202.4,274.6 202.9,275.5 203.4,273.7 203.9,274.1 204.4,273.7 204.9,274.4 205.4,274.9 205.9,275 206.4,271.3 206.9,276.1 207.4,272.4 207.9,270 208.4,273.9 208.9,270.7 209.4,273.8 209.9,272.3 210.4,275.6 210.9,275.4 211.4,273.5 211.9,276.1 212.4,275.2 212.9,273.8 213.4,276.2 213.9,276.2 214.4,275.7 214.9,275.5 215.4,269.8 215.9,274.3 216.4,275.1 216.9,276.2 217.4,274.8 217.9,274.9 218.4,274.4 218.9,273.8 219.4,275 219.9,273.7 220.4,274.2 220.9,275.5 221.4,275.3 221.9,273.5 222.4,274 222.9,274.4 223.4,276.1 223.9,274.8 224.4,274.5 224.9,275 225.4,275.6 225.9,274.3 226.4,275 226.9,274 227.4,275.1 227.9,274.3 228.4,274.1 228.9,276.1 229.4,269 229.9,274.2 230.4,274.8 230.9,274.3 231.4,275.3 231.9,276.2 232.4,275.3 232.9,273.6 233.4,270.9 233.9,274.5 234.4,273.5 234.9,274 235.4,275.9 235.9,275.5 236.4,275.7 236.9,275.6 237.4,274.5 237.9,273.9 238.4,274.1 238.9,276.2 239.4,275.6 239.9,274.1 240.4,274 240.9,274.1 241.4,273.9 241.9,274.2 242.4,272.5 242.9,275.9 243.4,273.8 243.9,274.7 244.4,271.3 244.9,276.2 245.4,275.3 245.9,273.8 246.4,275.3 246.9,274.8 247.4,275.1 247.9,274 248.4,274.9 248.9,275.4 249.4,269.9 249.9,274.8 250.4,273.7 250.9,273.7 251.4,274.3 251.9,274.4 252.4,276.2 252.9,275.2 253.4,275.5 253.9,275.1 254.4,276.2 254.9,270 255.4,273.6 255.9,276 256.4,276.2 256.9,274.7 257.4,275.6 257.9,274.2 258.4,274.2 258.9,271.5 259.4,273.9 259.9,275.8 260.4,274.6 260.9,274 261.4,275.1 261.9,274 262.4,274.2 262.9,273.5 263.4,275 263.9,274.5 264.4,276.2 264.9,268.4 265.4,273.8 265.9,273.9 266.4,276 266.9,274.1 267.4,274.3 267.9,274.1 268.4,274 268.9,273.7 269.4,275.7 269.9,275.2 270.4,275.8 270.9,275.9 271.4,274.5 271.9,273.4 272.4,275.5 272.9,274 273.4,276.1 273.9,274.6 274.4,273.6 274.9,275.8 275.4,274.4 275.9,274.9 276.4,275.6 276.9,273.6 277.4,274.1 277.9,274 278.4,271.5 278.9,275.8 279.4,272.2 279.9,276.1 280.4,269.7 280.9,273.7 281.4,273.8 281.9,275.5 282.4,275.7 282.9,275.7 283.4,275.7 283.9,271.8 284.4,275.6 284.9,275.6 285.4,273.5 285.9,276 286.4,276.1 286.9,276.1 287.4,274.9 287.9,275.7 288.4,272.2 288.9,275.4 289.4,273.8 289.9,270.4 290.4,273.7 290.9,274.8 291.4,273.7 291.9,274.4 292.4,274.6 292.9,273.6 293.4,273.9 293.9,274.7 294.4,276.1 294.9,275.8 295.4,269.7 295.9,269.5 296.4,276 296.9,275.3 297.4,273.6 297.9,275.6 298.4,274.9 298.9,273.4 299.4,275.1 299.9,273.4 300.4,273.3 300.9,274.2 301.4,269.2 301.9,273.4 302.4,273.5 302.9,274.1 303.4,274.3 303.9,273.3 304.4,275.7 304.9,275.3 305.4,275.7 305.9,271.8 306.4,274.3 306.9,274 307.4,274.7 307.9,274.6 308.4,273.5 308.9,275.2 309.4,275.6 309.9,275.9 310.4,275.7 310.9,275.6 311.4,274.2 311.9,273.9 312.4,273.7 312.9,276 313.4,273.2 313.9,273.5 314.4,274.7 314.9,274.4 315.4,273.5 315.9,275.1 316.4,275.8 316.9,273.6 317.4,268.6 317.9,273.3 318.4,274.5 318.9,275 319.4,270.6 319.9,274.4 320.4,274.6 320.9,275 321.4,275.1 321.9,275.7 322.4,273.1 322.9,275.2 323.4,275.5 323.9,268.9 324.4,272.5 324.9,274.3 325.4,274.4 325.9,273 326.4,271 326.9,273.5 327.4,273.7 327.9,271.1 328.4,275 328.9,274.3 329.4,275.3 329.9,275.1 330.4,274.2 330.9,275.3 331.4,275.1 331.9,275.3 332.4,273.1 332.9,272.8 333.4,274.9 333.9,275.3 334.4,273.2 334.9,275.6 335.4,275.5 335.9,273.1 336.4,271.4 336.9,273.3 337.4,274.1 337.9,274.3 338.4,274 338.9,275.7 339.4,274 339.9,271.5 340.4,275.6 340.9,273.2 341.4,272 341.9,274.9 342.4,275.2 342.9,275.4 343.4,271.2 343.9,272.4 344.4,275.4 344.9,275.2 345.4,276 345.9,275.8 346.4,275.6 346.9,273.7 347.4,273.7 347.9,274.7 348.4,273.4 348.9,274.6 349.4,275.8 349.9,274.3 350.4,275.2 350.9,271.5 351.4,275.2 351.9,273.1 352.4,275.5 352.9,274.3 353.4,274.1 353.9,275.6 354.4,275.7 354.9,274.6 355.4,273.2 355.9,273.6 356.4,274.2 356.9,270.8 357.4,274 357.9,270.9 358.4,275 358.9,273.1 359.4,273.6 359.9,274.9 360.4,268.6 360.9,273.4 361.4,274.4 361.9,274.1 362.4,272.7 362.9,271 363.4,273.5 363.9,274.3 364.4,273.9 364.9,275 365.4,275.3 365.9,272.9 366.4,272.9 366.9,274 367.4,274.4 367.9,273.2 368.4,274.5 368.9,274.1 369.4,274.7 369.9,274.2 370.4,275.6 370.9,274.2 371.4,274.1 371.9,273.2 372.4,275.5 372.9,274.7 373.4,273.5 373.9,274.7 374.4,274.9 374.9,274 375.4,273.2 375.9,273.5 376.4,273.6 376.9,275.6 377.4,273.8 377.9,271.1 378.4,275.3 378.9,274.7 379.4,273.7 379.9,275.4 380.4,275.7 380.9,274.6 381.4,274.6 381.9,275.2 382.4,274.7 382.9,274.8 383.4,275.8 383.9,273.8 384.4,275 384.9,272.8 385.4,273.1 385.9,274.7 386.4,272.9 386.9,273.5 387.4,270.9 387.9,272.8 388.4,273.5 388.9,274.4 389.4,275.3 389.9,273.6 390.4,269.9 390.9,272.7 391.4,273.1 391.9,272.8 392.4,273.6 392.9,273.9 393.4,273.5 393.9,270 394.4,273.1 394.9,274.8 395.4,269.8 395.9,274.8 396.4,274.4 396.9,272.7 397.4,274.8 397.9,273.4 398.4,274.1 398.9,273.9 399.4,273.6 399.9,273.4 400.4,272.3 400.9,273.7 401.4,273.4 401.9,274.2 402.4,274.6 402.9,266.7 403.4,272.7 403.9,273.3 404.4,271.9 404.9,273 405.4,272.9 405.9,275 406.4,275.1 406.9,272.6 407.4,273 407.9,273.2 408.4,272.9 408.9,274.3 409.4,273 409.9,275.2 410.4,275.7 410.9,273.2 411.4,275.5 411.9,269.6 412.4,273.6 412.9,268.6 413.4,273 413.9,275.2 414.4,274.2 414.9,272.8 415.4,272.9 415.9,271.4 416.4,269.1 416.9,274 417.4,272.9 417.9,274.4 418.4,274.4 418.9,272.8 419.4,270.3 419.9,272.8 420.4,273.7 420.9,275.7 421.4,273.8 421.9,273.3 422.4,274.7 422.9,275.2 423.4,276.7 423.9,277 424.4,277.2 424.9,277.6 425.4,278 425.9,277.6 426.4,277.7 426.9,278.5 427.4,278.2 427.9,278 428.4,278 428.9,278.2 429.4,278.4 429.9,278.8 430.4,278.5 430.9,278.1 431.4,277.2 431.9,278.3 432.4,278.3 432.9,278.2 433.4,278.7 433.9,278.7 434.4,278.5 434.9,278.8 435.4,278.5 435.9,278.6 436.4,279.2 436.9,278.7 437.4,279.2 437.9,279.2 438.4,279.1 438.9,278 439.4,276.6 439.9,278.2 440.4,277.6 440.9,276.8 441.4,277.6 441.9,276.9 442.4,276.3 442.9,277.6 443.4,276.7 443.9,277.2 444.4,277 444.9,277.7 445.4,277.7 445.9,276.8 446.4,276.6 446.9,277.6 447.4,276.5 447.9,277.4 448.4,275.6 448.9,277.5 449.4,277.6 449.9,277.7 450.4,277.9 450.9,277 451.4,274.7 451.9,276.4 452.4,277.6 452.9,278.2 453.4,276.6 453.9,277.7 454.4,277.9 454.9,279 455.4,278.7 455.9,278.8 456.4,278.4 456.9,279.4 457.4,279.1 457.9,279.3 458.4,279.4 458.9,279.2 459.4,279.2 459.9,278.8 460.4,278.2 460.9,279 461.4,279.1 461.9,279.2 462.4,279.4 462.9,279.4 463.4,279.5 463.9,279.3 464.4,279.5 464.9,279.4 465.4,279.4 465.9,279.4 466.4,278.8 466.9,278.3 467.4,278.2 467.9,278.2 468.4,277.7 468.9,277.7 469.4,278.1 469.9,278 470.4,278 470.9,278.8 471.4,278.7 471.9,278.6 472.4,278.7 472.9,279.1 473.4,279.2 473.9,279.2 474.4,279.3 474.9,279.4 475.4,279.4 475.9,279.3 476.4,279.5 476.9,279 477.4,279.2 477.9,279 478.4,279.1 478.9,279 479.4,279.3 479.9,279.2 480.4,279.2 480.9,279 481.4,278.7 481.9,277.9 482.4,276.8 482.9,275.6 483.4,277.2 483.9,274.8 484.4,277.1 484.9,277.6 485.4,277.7 485.9,278.2 486.4,278.7 486.9,279.4 487.4,279.1 487.9,279.3 488.4,279.3 488.9,279.3 489.4,279.3 489.9,279 490.4,279.1 490.9,279.2 491.4,279.3 491.9,279.3 492.4,279.4 492.9,278.9 493.4,279 493.9,279.4 494.4,279.1 494.9,278.9 495.4,279 495.9,279.1 496.4,278.8 496.9,278.9 497.4,279.1 497.9,278.9 498.4,279.1 498.9,278.9 499.4,279 499.9,278.9 500.4,279.3 500.9,278.3 501.4,279 501.9,278 502.4,279 502.9,279.2 503.4,276 503.9,277.3 504.4,276 504.9,275.8 505.4,273.6 505.9,276 506.4,275.1 506.9,275.6 507.4,275.2 507.9,275.7 508.4,274.5 508.9,274.6 509.4,274.6 509.9,276.1 510.4,276.4 510.9,272.4 511.4,274.6 511.9,274.6 512.4,275.2 512.9,276.6 513.4,275.1 513.9,275.3 514.4,275.6 514.9,278.7 515.4,279.2 515.9,278.9 516.4,277.6 516.9,279 517.4,279.1 517.9,279.1 518.4,279 518.9,278.3 519.4,279.3 519.9,278.7 520.4,278.6 520.4,280.9 519.9,281.3 519.4,281.2 518.9,281.3 518.4,281.4 517.9,281.4 517.4,281.7 516.9,281.5 516.4,281.9 515.9,281.6 515.4,281.4 514.9,281.3 514.4,282.4 513.9,284 513.4,284.1 512.9,286 512.4,285 511.9,286.8 511.4,285 510.9,285 510.4,284.3 509.9,285.5 509.4,285.5 508.9,287.6 508.4,286.5 507.9,285.5 507.4,284.5 506.9,284.6 506.4,285 505.9,285.3 505.4,288.1 504.9,286.3 504.4,284.1 503.9,282.5 503.4,283.5 502.9,281.5 502.4,281.2 501.9,282.1 501.4,282.1 500.9,281.4 500.4,281.4 499.9,281.2 499.4,282.2 498.9,282.3 498.4,281.5 497.9,281.1 497.4,281.1 496.9,281.4 496.4,281.2 495.9,281.3 495.4,281.2 494.9,281.4 494.4,281.3 493.9,281.1 493.4,281.3 492.9,281.7 492.4,281.4 491.9,281.3 491.4,281.1 490.9,281.2 490.4,281.1 489.9,281.2 489.4,281.4 488.9,281 488.4,281.4 487.9,281.4 487.4,281.4 486.9,281.2 486.4,281.8 485.9,282.2 485.4,282.6 484.9,282.6 484.4,282.8 483.9,283.6 483.4,284.8 482.9,286.8 482.4,283.4 481.9,284.3 481.4,281.8 480.9,281.1 480.4,280.9 479.9,281.1 479.4,281 478.9,281.1 478.4,281.3 477.9,281.2 477.4,281.3 476.9,281.1 476.4,281.3 475.9,282 475.4,280.9 474.9,281.1 474.4,281.2 473.9,281.2 473.4,281.3 472.9,281.1 472.4,281.6 471.9,281.8 471.4,281.5 470.9,282.1 470.4,281.6 469.9,281.9 469.4,282.1 468.9,282.5 468.4,282 467.9,282 467.4,284.2 466.9,282 466.4,281.4 465.9,281.1 465.4,281.1 464.9,281 464.4,281.4 463.9,281.3 463.4,281.2 462.9,281 462.4,281.2 461.9,281.7 461.4,281.5 460.9,281.2 460.4,281.4 459.9,281.1 459.4,281.2 458.9,281 458.4,281.5 457.9,281.4 457.4,281 456.9,281.3 456.4,282 455.9,281.3 455.4,281.3 454.9,281.7 454.4,281.9 453.9,283.3 453.4,282 452.9,282.8 452.4,283.4 451.9,283.9 451.4,286.7 450.9,282.6 450.4,283.1 449.9,283.8 449.4,284 448.9,283.5 448.4,283.7 447.9,284.1 447.4,284.2 446.9,285.6 446.4,283.1 445.9,284 445.4,283.7 444.9,286.3 444.4,284.3 443.9,283.9 443.4,283.3 442.9,283.3 442.4,283.1 441.9,283.5 441.4,282.6 440.9,283.5 440.4,284.1 439.9,282.2 439.4,282.2 438.9,282.2 438.4,281.8 437.9,281.6 437.4,281.2 436.9,282.2 436.4,281.7 435.9,281.7 435.4,281.6 434.9,281.9 434.4,281.3 433.9,281.8 433.4,283.4 432.9,281.6 432.4,281.7 431.9,281.7 431.4,281.8 430.9,281.7 430.4,282.9 429.9,281.7 429.4,281.6 428.9,281.9 428.4,281.8 427.9,282.2 427.4,281.8 426.9,282.1 426.4,281.9 425.9,281.8 425.4,282.6 424.9,282.1 424.4,282.7 423.9,283.4 423.4,285 422.9,285 422.4,286 421.9,285.9 421.4,287.9 420.9,287.1 420.4,286.4 419.9,284.8 419.4,285.3 418.9,285.5 418.4,288.7 417.9,287.8 417.4,287 416.9,286.4 416.4,285.8 415.9,284.9 415.4,287 414.9,285.8 414.4,285 413.9,286.8 413.4,287.9 412.9,285 412.4,284.8 411.9,287.8 411.4,285.7 410.9,287 410.4,289.5 409.9,287.4 409.4,285.8 408.9,286.5 408.4,285.1 407.9,285.5 407.4,287.4 406.9,285.3 406.4,287 405.9,285.5 405.4,287.6 404.9,284.8 404.4,286.9 403.9,286.1 403.4,286.2 402.9,285.1 402.4,285.1 401.9,286.4 401.4,289.3 400.9,287 400.4,287.6 399.9,287.7 399.4,287 398.9,285.6 398.4,286.5 397.9,284.9 397.4,284.9 396.9,284.8 396.4,284.6 395.9,286.1 395.4,289.7 394.9,286.9 394.4,286.6 393.9,285.7 393.4,294 392.9,287.3 392.4,285.3 391.9,285.4 391.4,284.8 390.9,285.7 390.4,286.4 389.9,286.3 389.4,284.8 388.9,286 388.4,285.7 387.9,286.1 387.4,285.8 386.9,286.1 386.4,286.7 385.9,285.4 385.4,287 384.9,284.7 384.4,286.3 383.9,285.4 383.4,288.3 382.9,284.6 382.4,286 381.9,290.3 381.4,291 380.9,286 380.4,285.1 379.9,286.1 379.4,290.7 378.9,285 378.4,286.3 377.9,291.6 377.4,285.3 376.9,291.9 376.4,292.7 375.9,290.2 375.4,285 374.9,287.2 374.4,286.7 373.9,284.6 373.4,287.2 372.9,285 372.4,294.1 371.9,286.2 371.4,287.5 370.9,288.5 370.4,286.1 369.9,284.9 369.4,284.9 368.9,285.8 368.4,284.8 367.9,284.6 367.4,286.5 366.9,285.4 366.4,291.2 365.9,287.3 365.4,284.8 364.9,285.9 364.4,287 363.9,285.8 363.4,285.8 362.9,286.7 362.4,287.5 361.9,284.7 361.4,286 360.9,286.6 360.4,285.2 359.9,285.6 359.4,285.5 358.9,285 358.4,285 357.9,284.9 357.4,287.3 356.9,286.1 356.4,284.8 355.9,284.7 355.4,285 354.9,284.8 354.4,285.3 353.9,285.3 353.4,285.9 352.9,286.8 352.4,286.2 351.9,285.5 351.4,285.2 350.9,285.4 350.4,284.6 349.9,287.4 349.4,286.6 348.9,290.8 348.4,291.2 347.9,287.3 347.4,293.5 346.9,284.7 346.4,286.8 345.9,290.3 345.4,287 344.9,285.8 344.4,287 343.9,285.6 343.4,284.6 342.9,284.8 342.4,287 341.9,285.7 341.4,285.3 340.9,286.8 340.4,286.6 339.9,285.3 339.4,284.8 338.9,285 338.4,286.1 337.9,285.2 337.4,288.3 336.9,286.2 336.4,285.8 335.9,285 335.4,285.5 334.9,285.7 334.4,286.5 333.9,284.5 333.4,285.1 332.9,285.6 332.4,288.7 331.9,284.9 331.4,287 330.9,285.6 330.4,287.3 329.9,287.1 329.4,284.5 328.9,287.3 328.4,290.9 327.9,285.2 327.4,285.4 326.9,288.1 326.4,284.7 325.9,288.5 325.4,285.2 324.9,286.4 324.4,286.4 323.9,286.3 323.4,286.3 322.9,285.9 322.4,287 321.9,287 321.4,287.3 320.9,285.9 320.4,285.7 319.9,286.1 319.4,285.9 318.9,286.1 318.4,285.9 317.9,286.7 317.4,284.4 316.9,287.2 316.4,287.1 315.9,284.8 315.4,285.8 314.9,285.5 314.4,286.5 313.9,286.1 313.4,286 312.9,286.6 312.4,292.1 311.9,286.5 311.4,286.8 310.9,285.3 310.4,285 309.9,285.5 309.4,284.5 308.9,287.2 308.4,285 307.9,288.3 307.4,285.2 306.9,285.7 306.4,286 305.9,285 305.4,284.7 304.9,285.7 304.4,286.1 303.9,285.2 303.4,285 302.9,285.1 302.4,284.4 301.9,286.2 301.4,284.4 300.9,288.5 300.4,287 299.9,291 299.4,285.6 298.9,286.6 298.4,286.7 297.9,286.7 297.4,284.7 296.9,287.8 296.4,284.6 295.9,286.3 295.4,284.8 294.9,286.8 294.4,287.1 293.9,285.8 293.4,284.4 292.9,285.2 292.4,284.6 291.9,284.3 291.4,285.3 290.9,286.8 290.4,292.9 289.9,286.4 289.4,290.6 288.9,284.9 288.4,284.5 287.9,284.8 287.4,286.9 286.9,286.7 286.4,286.6 285.9,286.3 285.4,284.5 284.9,285.3 284.4,285.6 283.9,287.1 283.4,285.7 282.9,285 282.4,286.7 281.9,284.4 281.4,285.6 280.9,286 280.4,293 279.9,286.9 279.4,286.2 278.9,285.6 278.4,286.4 277.9,286.9 277.4,288.4 276.9,292.4 276.4,284.3 275.9,284.7 275.4,286.9 274.9,287 274.4,284.4 273.9,286.7 273.4,286.3 272.9,286.5 272.4,286.4 271.9,286.7 271.4,286.8 270.9,286 270.4,284.3 269.9,285.8 269.4,284.7 268.9,285.7 268.4,284.8 267.9,291.8 267.4,285.5 266.9,286.8 266.4,285.8 265.9,286.1 265.4,285.8 264.9,286.7 264.4,284.9 263.9,286.7 263.4,286.7 262.9,286.5 262.4,286.5 261.9,291.2 261.4,285.3 260.9,285.2 260.4,285.4 259.9,290.1 259.4,284.4 258.9,286.2 258.4,285.4 257.9,291.3 257.4,291.3 256.9,286.6 256.4,288 255.9,286 255.4,286.9 254.9,285.4 254.4,284.5 253.9,289.9 253.4,285 252.9,286.4 252.4,286.3 251.9,287.6 251.4,285.8 250.9,285.8 250.4,285.8 249.9,286 249.4,286.3 248.9,285 248.4,286.9 247.9,285.3 247.4,285.7 246.9,286.3 246.4,286.5 245.9,284.2 245.4,286.9 244.9,285.8 244.4,286.8 243.9,286 243.4,284.1 242.9,285.5 242.4,287.7 241.9,285.4 241.4,284.7 240.9,286 240.4,284.6 239.9,285.1 239.4,284.4 238.9,284.2 238.4,284.5 237.9,284.3 237.4,286 236.9,285 236.4,284.1 235.9,285.2 235.4,286.5 234.9,285.5 234.4,285.1 233.9,285.5 233.4,284.7 232.9,285.6 232.4,284.9 231.9,285.3 231.4,284.3 230.9,290.3 230.4,285.3 229.9,285.6 229.4,285.6 228.9,285.7 228.4,285.2 227.9,286.8 227.4,285.4 226.9,286.2 226.4,287.9 225.9,286.6 225.4,286.2 224.9,285.8 224.4,285.3 223.9,285.9 223.4,285.3 222.9,284.5 222.4,286.2 221.9,286.9 221.4,284.7 220.9,285.1 220.4,286.5 219.9,284.8 219.4,290.2 218.9,286 218.4,285.2 217.9,285.7 217.4,285.2 216.9,284.8 216.4,290 215.9,286.4 215.4,290.2 214.9,286.8 214.4,285.6 213.9,285.6 213.4,284.7 212.9,284.4 212.4,286.2 211.9,285.3 211.4,285.6 210.9,286.2 210.4,287.4 209.9,285 209.4,286.5 208.9,289 208.4,292.2 207.9,286.3 207.4,284.3 206.9,284.5 206.4,286 205.9,286.2 205.4,286.6 204.9,286.2 204.4,285.1 203.9,286.9 203.4,284.2 202.9,286 202.4,285.4 201.9,286.6 201.4,284.8 200.9,286.3 200.4,284.2 199.9,284.3 199.4,286.5 198.9,284.8 198.4,286.4 197.9,285.7 197.4,286.3 196.9,285.2 196.4,289.2 195.9,284.5 195.4,285.6 194.9,285.9 194.4,286.5 193.9,288.2 193.4,284.2 192.9,287 192.4,286.3 191.9,285.2 191.4,286.5 190.9,284.5 190.4,286.7 189.9,286.4 189.4,286.9 188.9,288 188.4,285.6 187.9,286.8 187.4,286.9 186.9,286.9 186.4,286.5 185.9,284.6 185.4,285.7 184.9,287.7 184.4,287.2 183.9,286.4 183.4,286 182.9,286.1 182.4,285.1 181.9,286.6 181.4,284.3 180.9,285.3 180.4,284.7 179.9,284.9 179.4,286 178.9,284.4 178.4,284.8 177.9,284.5 177.4,284.6 176.9,284.5 176.4,284.3 175.9,285.4 175.4,284.8 174.9,287.1 174.4,285.9 173.9,285 173.4,284.5 172.9,284.5 172.4,284.8 171.9,285.2 171.4,286 170.9,285.3 170.4,284.5 169.9,285.5 169.4,285.9 168.9,286.1 168.4,285.6 167.9,286.6 167.4,285.4 166.9,284.7 166.4,286.4 165.9,286.7 165.4,286.4 164.9,284.9 164.4,284.5 163.9,286.8 163.4,284.4 162.9,286.5 162.4,286 161.9,286.6 161.4,285.5 160.9,287 160.4,288.8 159.9,289.3 159.4,287 158.9,286.4 158.4,292.4 157.9,288.3 157.4,285.6 156.9,286.6 156.4,284.6 155.9,284.7 155.4,286.2 154.9,284.8 154.4,286.4 153.9,284.4 153.4,284.9 152.9,286.2 152.4,285.7 151.9,284.9 151.4,287.1 150.9,286.6 150.4,285.2 149.9,286.2 149.4,285.7 148.9,287 148.4,286.8 147.9,285.1 147.4,285.4 146.9,286.3 146.4,288.9 145.9,285.8 145.4,286.3 144.9,284.7 144.4,286.7 143.9,285.9 143.4,284.3 142.9,287 142.4,285 141.9,285.7 141.4,284.4 140.9,285.4 140.4,285.9 139.9,286.9 139.4,286.8 138.9,284.8 138.4,285.8 137.9,287 137.4,285.6 136.9,291.7 136.4,286.3 135.9,286 135.4,285.3 134.9,284.9 134.4,284.5 133.9,285.3 133.4,285.3 132.9,286.9 132.4,284.2 131.9,284.6 131.4,284.3 130.9,286.2 130.4,286.9 129.9,284.8 129.4,285.5 128.9,284.3 128.4,286.8 127.9,285.7 127.4,286.1 126.9,286.7 126.4,286 125.9,285.6 125.4,286.3 124.9,284.4 124.4,290.2 123.9,284.2 123.4,286 122.9,287.9 122.4,286.7 121.9,286.6 121.4,290.3 120.9,284.3 120.4,287 119.9,286.2 119.4,285.8 118.9,285.3 118.4,287 117.9,285.2 117.4,285.7 116.9,285.4 116.4,284.9 115.9,286.6 115.4,286.3 114.9,287.3 114.4,285.1 113.9,285.3 113.4,286.5 112.9,284.7 112.4,289.2 111.9,286.3 111.4,284.6 110.9,284.5 110.4,285.1 109.9,288.2 109.4,284.4 108.9,286.1 108.4,284.9 107.9,284.5 107.4,288 106.9,284.3 106.4,284.2 105.9,288.4 105.4,285.4 104.9,285.5 104.4,286.9 103.9,286.2 103.4,286 102.9,286.6 102.4,284.9 101.9,286.8 101.4,286.1 100.9,285.4 100.4,285.6 99.9,285.7 99.4,285.6 98.9,285.5 98.4,289.8 97.9,285.5 97.4,285.8 96.9,285.3 96.4,284.9 95.9,286.6 95.4,285.7 94.9,284.8 94.4,282.3 93.9,281.4 93.4,281.6 92.9,281.6 92.4,281.9 91.9,281.4 91.4,282 90.9,281.5 90.4,282.1 89.9,282.1 89.4,281.3 88.9,281.5 88.4,282 87.9,281.6 87.4,281.5 86.9,282 86.4,282.3 85.9,283.7 85.4,281.7 84.9,281.4 84.4,281.4 83.9,282.5 83.4,281.8 82.9,281.8 82.4,282 81.9,283.3 81.4,281.8 80.9,282.7 80.4,281.5 79.9,281.7 79.4,282.7 78.9,283.4 78.4,283.8 77.9,284.1 77.4,284.7 76.9,286.5 76.4,283.9 75.9,284.5 75.4,283.7 74.9,284.6 74.4,283.8 73.9,284.3 73.4,283.4 72.9,282.9 72.4,283.8 71.9,283 71.4,286.4 70.9,283.2 70.4,282.9 69.9,284.4 69.4,284.9" fill="#000"/>
<line x1="108.5" y1="261.2" x2="108.5" y2="301.2" stroke="#000" stroke-width="1"/>
<line x1="96.5" y1="273.2" x2="96.5" y2="292.2" stroke="#000" stroke-width="1"/>
<line x1="128.5" y1="266.2" x2="128.5" y2="287.2" stroke="#000" stroke-width="1"/>
<line x1="132.5" y1="265.2" x2="132.5" y2="286.2" stroke="#000" stroke-width="1"/>
<line x1="136.5" y1="266.2" x2="136.5" y2="285.2" stroke="#000" stroke-width="1"/>
<line x1="143.5" y1="267.2" x2="143.5" y2="290.2" stroke="#000" stroke-width="1"/>
<line x1="164.5" y1="271.2" x2="164.5" y2="295.2" stroke="#000" stroke-width="1"/>
<line x1="194.5" y1="271.2" x2="194.5" y2="294.2" stroke="#000" stroke-width="1"/>
<line x1="226.5" y1="267.2" x2="226.5" y2="289.2" stroke="#000" stroke-width="1"/>
<line x1="248.5" y1="266.2" x2="248.5" y2="288.2" stroke="#000" stroke-width="1"/>
<line x1="262.5" y1="268.2" x2="262.5" y2="292.2" stroke="#000" stroke-width="1"/>
<line x1="286.5" y1="269.2" x2="286.5" y2="293.2" stroke="#000" stroke-width="1"/>
<line x1="296.5" y1="265.2" x2="296.5" y2="287.2" stroke="#000" stroke-width="1"/>
<line x1="318.5" y1="271.2" x2="318.5" y2="291.2" stroke="#000" stroke-width="1"/>
<line x1="337.5" y1="263.2" x2="337.5" y2="294.2" stroke="#000" stroke-width="1"/>
<line x1="348.5" y1="265.2" x2="348.5" y2="288.2" stroke="#000" stroke-width="1"/>
<line x1="356.5" y1="265.2" x2="356.5" y2="289.2" stroke="#000" stroke-width="1"/>
<line x1="364.5" y1="265.2" x2="364.5" y2="299.2" stroke="#000" stroke-width="1"/>
<line x1="372.5" y1="269.2" x2="372.5" y2="288.2" stroke="#000" stroke-width="1"/>
<line x1="386.5" y1="267.2" x2="386.5" y2="289.2" stroke="#000" stroke-width="1"/>
<line x1="394.5" y1="266.2" x2="394.5" y2="299.2" stroke="#000" stroke-width="1"/>
<line x1="406.5" y1="267.2" x2="406.5" y2="292.2" stroke="#000" stroke-width="1"/>
<line x1="416.5" y1="266.2" x2="416.5" y2="290.2" stroke="#000" stroke-width="1"/>
<line x1="424.5" y1="259.2" x2="424.5" y2="296.2" stroke="#000" stroke-width="1"/>
<line x1="444.5" y1="276.2" x2="444.5" y2="290.2" stroke="#000" stroke-width="1"/>
<line x1="469.5" y1="275.2" x2="469.5" y2="292.2" stroke="#000" stroke-width="1"/>
<line x1="483.5" y1="266.2" x2="483.5" y2="291.2" stroke="#000" stroke-width="1"/>
<line x1="506.5" y1="268.2" x2="506.5" y2="295.2" stroke="#000" stroke-width="1"/>
<line x1="512.5" y1="272.2" x2="512.5" y2="291.2" stroke="#000" stroke-width="1"/>
<line x1="96.5" y1="268" x2="96.5" y2="292.3" stroke="#000" stroke-width="1"/>
<line x1="100.5" y1="272.6" x2="100.5" y2="282.8" stroke="#000" stroke-width="1"/>
<line x1="107.5" y1="277.2" x2="107.5" y2="283.1" stroke="#000" stroke-width="1"/>
<line x1="111.5" y1="268.8" x2="111.5" y2="287.2" stroke="#000" stroke-width="1"/>
<line x1="113.5" y1="275.1" x2="113.5" y2="285" stroke="#000" stroke-width="1"/>
<line x1="118.5" y1="268.7" x2="118.5" y2="288" stroke="#000" stroke-width="1"/>
<line x1="123.5" y1="270.7" x2="123.5" y2="291.4" stroke="#000" stroke-width="1"/>
<line x1="125.5" y1="273.7" x2="125.5" y2="288.3" stroke="#000" stroke-width="1"/>
<line x1="130.5" y1="270.6" x2="130.5" y2="292.6" stroke="#000" stroke-width="1"/>
<line x1="135.5" y1="272.2" x2="135.5" y2="286.9" stroke="#000" stroke-width="1"/>
<line x1="141.5" y1="270.9" x2="141.5" y2="291.5" stroke="#000" stroke-width="1"/>
<line x1="144.5" y1="267.8" x2="144.5" y2="282.2" stroke="#000" stroke-width="1"/>
<line x1="146.5" y1="269.2" x2="146.5" y2="290.3" stroke="#000" stroke-width="1"/>
<line x1="150.5" y1="269.6" x2="150.5" y2="292.3" stroke="#000" stroke-width="1"/>
<line x1="156.5" y1="273.2" x2="156.5" y2="286.1" stroke="#000" stroke-width="1"/>
<line x1="158.5" y1="268.5" x2="158.5" y2="292.1" stroke="#000" stroke-width="1"/>
<line x1="161.5" y1="275.8" x2="161.5" y2="283.6" stroke="#000" stroke-width="1"/>
<line x1="164.5" y1="271.1" x2="164.5" y2="289.9" stroke="#000" stroke-width="1"/>
<line x1="171.5" y1="268" x2="171.5" y2="286.8" stroke="#000" stroke-width="1"/>
<line x1="179.5" y1="276.7" x2="179.5" y2="289.8" stroke="#000" stroke-width="1"/>
<line x1="181.5" y1="268.3" x2="181.5" y2="284" stroke="#000" stroke-width="1"/>
<line x1="187.5" y1="273.3" x2="187.5" y2="285.1" stroke="#000" stroke-width="1"/>
<line x1="189.5" y1="276.5" x2="189.5" y2="289.5" stroke="#000" stroke-width="1"/>
<line x1="194.5" y1="277.3" x2="194.5" y2="290.9" stroke="#000" stroke-width="1"/>
<line x1="198.5" y1="276" x2="198.5" y2="286" stroke="#000" stroke-width="1"/>
<line x1="205.5" y1="271.6" x2="205.5" y2="292.2" stroke="#000" stroke-width="1"/>
<line x1="207.5" y1="269.1" x2="207.5" y2="283.2" stroke="#000" stroke-width="1"/>
<line x1="211.5" y1="269.2" x2="211.5" y2="286.3" stroke="#000" stroke-width="1"/>
<line x1="215.5" y1="272.6" x2="215.5" y2="288.7" stroke="#000" stroke-width="1"/>
<line x1="218.5" y1="274.7" x2="218.5" y2="291" stroke="#000" stroke-width="1"/>
<line x1="223.5" y1="271.2" x2="223.5" y2="288" stroke="#000" stroke-width="1"/>
<line x1="225.5" y1="272" x2="225.5" y2="290.2" stroke="#000" stroke-width="1"/>
<line x1="232.5" y1="271.3" x2="232.5" y2="283.2" stroke="#000" stroke-width="1"/>
<line x1="234.5" y1="270.7" x2="234.5" y2="289.9" stroke="#000" stroke-width="1"/>
<line x1="240.5" y1="268" x2="240.5" y2="291.9" stroke="#000" stroke-width="1"/>
<line x1="242.5" y1="277" x2="242.5" y2="286.6" stroke="#000" stroke-width="1"/>
<line x1="247.5" y1="272.7" x2="247.5" y2="292.2" stroke="#000" stroke-width="1"/>
<line x1="250.5" y1="269.8" x2="250.5" y2="288.6" stroke="#000" stroke-width="1"/>
<line x1="252.5" y1="267.8" x2="252.5" y2="291" stroke="#000" stroke-width="1"/>
<line x1="257.5" y1="272.4" x2="257.5" y2="292" stroke="#000" stroke-width="1"/>
<line x1="260.5" y1="276.2" x2="260.5" y2="283" stroke="#000" stroke-width="1"/>
<line x1="266.5" y1="270.9" x2="266.5" y2="288.3" stroke="#000" stroke-width="1"/>
<line x1="269.5" y1="276.6" x2="269.5" y2="291.5" stroke="#000" stroke-width="1"/>
<line x1="272.5" y1="271.6" x2="272.5" y2="289.5" stroke="#000" stroke-width="1"/>
<line x1="277.5" y1="268.4" x2="277.5" y2="291" stroke="#000" stroke-width="1"/>
<line x1="283.5" y1="272.6" x2="283.5" y2="288.3" stroke="#000" stroke-width="1"/>
<line x1="288.5" y1="277.7" x2="288.5" y2="290.1" stroke="#000" stroke-width="1"/>
<line x1="291.5" y1="270.5" x2="291.5" y2="288" stroke="#000" stroke-width="1"/>
<line x1="294.5" y1="268" x2="294.5" y2="288.1" stroke="#000" stroke-width="1"/>
<line x1="297.5" y1="275.1" x2="297.5" y2="287.5" stroke="#000" stroke-width="1"/>
<line x1="304.5" y1="268" x2="304.5" y2="288.9" stroke="#000" stroke-width="1"/>
<line x1="306.5" y1="277" x2="306.5" y2="289" stroke="#000" stroke-width="1"/>
<line x1="313.5" y1="269" x2="313.5" y2="290" stroke="#000" stroke-width="1"/>
<line x1="317.5" y1="269.4" x2="317.5" y2="288.3" stroke="#000" stroke-width="1"/>
<line x1="324.5" y1="271.8" x2="324.5" y2="291" stroke="#000" stroke-width="1"/>
<line x1="328.5" y1="270.3" x2="328.5" y2="285.2" stroke="#000" stroke-width="1"/>
<line x1="331.5" y1="269.7" x2="331.5" y2="288.4" stroke="#000" stroke-width="1"/>
<line x1="338.5" y1="274.1" x2="338.5" y2="284.2" stroke="#000" stroke-width="1"/>
<line x1="344.5" y1="271.6" x2="344.5" y2="292.2" stroke="#000" stroke-width="1"/>
<line x1="347.5" y1="272.5" x2="347.5" y2="288.4" stroke="#000" stroke-width="1"/>
<line x1="349.5" y1="275" x2="349.5" y2="284.4" stroke="#000" stroke-width="1"/>
<line x1="355.5" y1="268" x2="355.5" y2="290.1" stroke="#000" stroke-width="1"/>
<line x1="359.5" y1="275.5" x2="359.5" y2="285.6" stroke="#000" stroke-width="1"/>
<line x1="362.5" y1="277.1" x2="362.5" y2="284.7" stroke="#000" stroke-width="1"/>
<line x1="365.5" y1="276.4" x2="365.5" y2="289.4" stroke="#000" stroke-width="1"/>
<line x1="371.5" y1="270.8" x2="371.5" y2="291.8" stroke="#000" stroke-width="1"/>
<line x1="373.5" y1="271.4" x2="373.5" y2="290.5" stroke="#000" stroke-width="1"/>
<line x1="378.5" y1="271.5" x2="378.5" y2="292.5" stroke="#000" stroke-width="1"/>
<line x1="381.5" y1="270.1" x2="381.5" y2="292.1" stroke="#000" stroke-width="1"/>
<line x1="383.5" y1="271.9" x2="383.5" y2="290" stroke="#000" stroke-width="1"/>
<line x1="387.5" y1="274.6" x2="387.5" y2="287.5" stroke="#000" stroke-width="1"/>
<line x1="390.5" y1="276" x2="390.5" y2="292.3" stroke="#000" stroke-width="1"/>
<line x1="393.5" y1="271.3" x2="393.5" y2="292.5" stroke="#000" stroke-width="1"/>
<line x1="399.5" y1="270.1" x2="399.5" y2="286.6" stroke="#000" stroke-width="1"/>
<line x1="404.5" y1="272.1" x2="404.5" y2="291" stroke="#000" stroke-width="1"/>
<line x1="409.5" y1="273.3" x2="409.5" y2="283.3" stroke="#000" stroke-width="1"/>
<line x1="412.5" y1="275.1" x2="412.5" y2="291.2" stroke="#000" stroke-width="1"/>
<line x1="415.5" y1="270.9" x2="415.5" y2="291.1" stroke="#000" stroke-width="1"/>
<line x1="417.5" y1="274.8" x2="417.5" y2="291.1" stroke="#000" stroke-width="1"/>
<line x1="69.5" y1="273.5" x2="69.5" y2="283.5" stroke="#000" stroke-width="1"/>
<line x1="71.5" y1="276.6" x2="71.5" y2="285.9" stroke="#000" stroke-width="1"/>
<line x1="78.5" y1="274.6" x2="78.5" y2="284" stroke="#000" stroke-width="1"/>
<line x1="434.5" y1="274.5" x2="434.5" y2="282.3" stroke="#000" stroke-width="1"/>
<line x1="441.5" y1="276.1" x2="441.5" y2="283.7" stroke="#000" stroke-width="1"/>
<line x1="451.5" y1="276.9" x2="451.5" y2="287" stroke="#000" stroke-width="1"/>
<line x1="463.5" y1="274.4" x2="463.5" y2="283.9" stroke="#000" stroke-width="1"/>
<line x1="473.5" y1="274.5" x2="473.5" y2="284.7" stroke="#000" stroke-width="1"/>
<line x1="491.5" y1="277.4" x2="491.5" y2="285.7" stroke="#000" stroke-width="1"/>
<line x1="504.5" y1="278" x2="504.5" y2="282.5" stroke="#000" stroke-width="1"/>
<line x1="512.5" y1="277.6" x2="512.5" y2="283.1" stroke="#000" stroke-width="1"/>
<line x1="523.2" y1="280.2" x2="523.2" y2="284.8" stroke="#000" stroke-width="1.2"/>
<text x="39" y="311.2" font-size="11.3" fill="#1a1aee" stroke="#1a1aee" stroke-width="0.3">F470</text>
<text x="39" y="327.3" font-size="11.3" fill="#b6a8dc" stroke="#b6a8dc" stroke-width="0.3">F405</text>
<line x1="523.8" y1="312.5" x2="523.8" y2="315.5" stroke="#1f1fe8" stroke-width="1"/>
<line x1="523.8" y1="324.5" x2="523.8" y2="327" stroke="#b9aade" stroke-width="1"/>
<text transform="translate(533.6 319.5) rotate(-90)" font-size="11" fill="#333" text-anchor="middle">a.u.</text>
<polyline points="69.4,313.2 69.9,313.3 70.4,311.9 70.9,311.6 71.4,312 71.9,312.5 72.4,310.8 72.9,308.7 73.4,307.7 73.9,306.9 74.4,306.2 74.9,304.5 75.4,303.1 75.9,302.6 76.4,302.5 76.9,301.7 77.4,301.8 77.9,301.7 78.4,302.1 78.9,300.8 79.4,301.3 79.9,300.2 80.4,301.2 80.9,300.7 81.4,300.3 81.9,300.6 82.4,301 82.9,300.3 83.4,301 83.9,301.2 84.4,301.2 84.9,301.2 85.4,299.6 85.9,300.4 86.4,300 86.9,301 87.4,300.7 87.9,301 88.4,301.2 88.9,300.8 89.4,301.4 89.9,301.1 90.4,303 90.9,302.1 91.4,302.8 91.9,302.4 92.4,303 92.9,303.8 93.4,305.2 93.9,306.5 94.4,307.8 94.9,308.8 95.4,314 95.9,309.4 96.4,309.9 96.9,312.5 97.4,310.1 97.9,312.6 98.4,314 98.9,311.7 99.4,311.9 99.9,310.6 100.4,308.7 100.9,303.6 101.4,306.1 101.9,307.2 102.4,303.2 102.9,304.1 103.4,305.2 103.9,307 104.4,302.2 104.9,303.5 105.4,304.8 105.9,305.2 106.4,301.7 106.9,307.4 107.4,302.5 107.9,305.8 108.4,303.6 108.9,304.7 109.4,307.1 109.9,305.4 110.4,304.5 110.9,302.6 111.4,303.3 111.9,302 112.4,308.2 112.9,301.9 113.4,300.2 113.9,307.8 114.4,307.2 114.9,304.4 115.4,306.6 115.9,303.7 116.4,304.3 116.9,306.3 117.4,306.2 117.9,304.7 118.4,308.5 118.9,307 119.4,306 119.9,303.7 120.4,306.1 120.9,305.3 121.4,305.8 121.9,307.4 122.4,305 122.9,306.6 123.4,307.6 123.9,306.8 124.4,310.3 124.9,303.2 125.4,306.2 125.9,304.3 126.4,306.3 126.9,311 127.4,303.6 127.9,306.1 128.4,307.8 128.9,306.9 129.4,308.4 129.9,304.1 130.4,308.6 130.9,305.2 131.4,304.8 131.9,308 132.4,307.9 132.9,305.8 133.4,305.7 133.9,306.8 134.4,307.2 134.9,306.9 135.4,305.5 135.9,303.2 136.4,309.7 136.9,307.7 137.4,305.2 137.9,304.7 138.4,306.3 138.9,306.8 139.4,303.8 139.9,310.1 140.4,308.4 140.9,307.1 141.4,308.4 141.9,308.2 142.4,309.7 142.9,308.1 143.4,310.2 143.9,310.7 144.4,307.4 144.9,307.2 145.4,306.4 145.9,307.5 146.4,306.5 146.9,307.8 147.4,308.2 147.9,308.6 148.4,305.5 148.9,309.4 149.4,306.8 149.9,307.1 150.4,306.3 150.9,303.6 151.4,307.6 151.9,303.9 152.4,308.5 152.9,305.9 153.4,308 153.9,307.8 154.4,309.9 154.9,313.1 155.4,311 155.9,313.8 156.4,310.8 156.9,311.5 157.4,309.8 157.9,312 158.4,312.3 158.9,310.2 159.4,308.8 159.9,311 160.4,311.8 160.9,310.8 161.4,309.3 161.9,309.8 162.4,310.6 162.9,306.4 163.4,310.1 163.9,313.7 164.4,308.8 164.9,310.7 165.4,314.1 165.9,312.4 166.4,312.8 166.9,310.9 167.4,308.8 167.9,316.3 168.4,311.7 168.9,311.6 169.4,314.1 169.9,312.6 170.4,311.3 170.9,309.2 171.4,310.9 171.9,310.9 172.4,310 172.9,309.6 173.4,309.4 173.9,311 174.4,310.1 174.9,311.9 175.4,313 175.9,311.8 176.4,311.3 176.9,314 177.4,312.4 177.9,308.6 178.4,310 178.9,311.6 179.4,309.7 179.9,312.6 180.4,308.1 180.9,307.9 181.4,313 181.9,312.3 182.4,308.4 182.9,311.4 183.4,313.7 183.9,309.3 184.4,309.2 184.9,309.1 185.4,309.6 185.9,308.2 186.4,310.5 186.9,308.8 187.4,311.5 187.9,315.4 188.4,309.5 188.9,313 189.4,313.5 189.9,307.2 190.4,311.6 190.9,311.4 191.4,310.8 191.9,312.8 192.4,310.6 192.9,312.1 193.4,310.7 193.9,311.2 194.4,310 194.9,315.5 195.4,311.3 195.9,309.4 196.4,315 196.9,314.3 197.4,311.1 197.9,310.3 198.4,310.2 198.9,313.7 199.4,310.9 199.9,310.2 200.4,313.3 200.9,311.6 201.4,312.2 201.9,316.1 202.4,314.5 202.9,315.5 203.4,314.3 203.9,316.2 204.4,313.8 204.9,316.2 205.4,316.5 205.9,314 206.4,312.6 206.9,316 207.4,315 207.9,316.4 208.4,314.4 208.9,316.6 209.4,317.5 209.9,320.1 210.4,319.2 210.9,316.9 211.4,318.9 211.9,315.4 212.4,318.6 212.9,316.7 213.4,318.8 213.9,317 214.4,315.9 214.9,315 215.4,318.5 215.9,316.3 216.4,317.5 216.9,317 217.4,312.4 217.9,317.1 218.4,315.4 218.9,316.7 219.4,316.8 219.9,312.7 220.4,315.3 220.9,315.7 221.4,316.5 221.9,317.5 222.4,314.5 222.9,315.3 223.4,316.8 223.9,312.3 224.4,318.9 224.9,313.9 225.4,317.9 225.9,315.7 226.4,318.8 226.9,317.3 227.4,315.3 227.9,312.3 228.4,315.5 228.9,315.8 229.4,316.2 229.9,312.9 230.4,313.7 230.9,313.7 231.4,315.6 231.9,313.5 232.4,314.8 232.9,316.6 233.4,314.2 233.9,317.3 234.4,315.4 234.9,314.4 235.4,316.8 235.9,315.7 236.4,314.3 236.9,313.7 237.4,314.7 237.9,315.4 238.4,316.8 238.9,315.2 239.4,313.6 239.9,312.3 240.4,315.1 240.9,315.4 241.4,316.7 241.9,313.7 242.4,312.3 242.9,316.1 243.4,314.3 243.9,312.4 244.4,317.5 244.9,316.2 245.4,314.7 245.9,315 246.4,313.2 246.9,316.3 247.4,313.7 247.9,313.7 248.4,314 248.9,312.4 249.4,316.3 249.9,317.4 250.4,315.8 250.9,310.7 251.4,313.9 251.9,313.3 252.4,315.1 252.9,310.5 253.4,310.5 253.9,313.5 254.4,316.1 254.9,314 255.4,318.3 255.9,312.8 256.4,314.4 256.9,314 257.4,312.8 257.9,316.2 258.4,311.9 258.9,312.3 259.4,313.6 259.9,313.4 260.4,316.2 260.9,313.3 261.4,315.1 261.9,313.4 262.4,316.5 262.9,314.2 263.4,314.7 263.9,311.3 264.4,315.5 264.9,313.1 265.4,315.9 265.9,315.2 266.4,315.3 266.9,316.3 267.4,315 267.9,312.8 268.4,314.6 268.9,314.6 269.4,312.2 269.9,315.5 270.4,317 270.9,314.8 271.4,314.6 271.9,315.2 272.4,316.4 272.9,313.4 273.4,316.1 273.9,313.1 274.4,315.4 274.9,315.4 275.4,312.1 275.9,315.6 276.4,314.8 276.9,311.5 277.4,313.7 277.9,313.4 278.4,312.9 278.9,315.2 279.4,313.1 279.9,314.6 280.4,312.6 280.9,314 281.4,317.8 281.9,315.3 282.4,311.8 282.9,312.9 283.4,314.3 283.9,311.7 284.4,316.3 284.9,314.5 285.4,314.5 285.9,314.7 286.4,313.4 286.9,312.6 287.4,309.1 287.9,311.7 288.4,315 288.9,315.9 289.4,314.3 289.9,311.4 290.4,314.1 290.9,314.7 291.4,312.4 291.9,317.1 292.4,312.7 292.9,314.7 293.4,312.8 293.9,316.3 294.4,312.5 294.9,313.1 295.4,316.7 295.9,312.5 296.4,313.8 296.9,315.7 297.4,315.4 297.9,311.6 298.4,315.9 298.9,314.3 299.4,317 299.9,311.7 300.4,316.2 300.9,315.5 301.4,314.2 301.9,314.1 302.4,315.6 302.9,313.7 303.4,314.3 303.9,313.5 304.4,315.2 304.9,316.1 305.4,312.1 305.9,315 306.4,315.5 306.9,317.7 307.4,313.7 307.9,317.3 308.4,314.3 308.9,315.9 309.4,315.5 309.9,315.6 310.4,314.5 310.9,313.4 311.4,317.8 311.9,317.8 312.4,315 312.9,314.9 313.4,314.8 313.9,312.8 314.4,313.2 314.9,316 315.4,317 315.9,314.9 316.4,313.6 316.9,313.4 317.4,314.2 317.9,316.6 318.4,315.4 318.9,312.8 319.4,313.3 319.9,316 320.4,315.9 320.9,318.6 321.4,318 321.9,315.8 322.4,314.2 322.9,315.8 323.4,313.5 323.9,314.3 324.4,317.3 324.9,316.6 325.4,317.2 325.9,318.4 326.4,314.8 326.9,317 327.4,315.7 327.9,316.2 328.4,316.1 328.9,316.6 329.4,313.2 329.9,313.2 330.4,315.9 330.9,316.6 331.4,314.9 331.9,315.6 332.4,313.3 332.9,317.5 333.4,316.6 333.9,318.5 334.4,315.1 334.9,315.7 335.4,316 335.9,318.3 336.4,316.9 336.9,316.6 337.4,313 337.9,314.4 338.4,313.3 338.9,315.6 339.4,317.5 339.9,316.1 340.4,314.4 340.9,319.6 341.4,314.1 341.9,318.5 342.4,318.1 342.9,316.5 343.4,318.5 343.9,314.1 344.4,315.1 344.9,315.6 345.4,316.8 345.9,315.8 346.4,319.2 346.9,315.5 347.4,315.8 347.9,314 348.4,317.1 348.9,317.6 349.4,314.9 349.9,314 350.4,313.8 350.9,318.3 351.4,317.7 351.9,316.8 352.4,317.7 352.9,317.2 353.4,317.1 353.9,313.4 354.4,317.3 354.9,317.6 355.4,318.4 355.9,318.1 356.4,315.2 356.9,316.9 357.4,313.9 357.9,319 358.4,314 358.9,317.7 359.4,315.1 359.9,315 360.4,314.9 360.9,315.9 361.4,317.2 361.9,318.5 362.4,316 362.9,318.1 363.4,318.1 363.9,320.3 364.4,315.5 364.9,317.2 365.4,317.9 365.9,316.9 366.4,317.8 366.9,315.5 367.4,316 367.9,315.6 368.4,315.6 368.9,315.1 369.4,316.5 369.9,314.5 370.4,315.7 370.9,317.8 371.4,314 371.9,314.9 372.4,316.1 372.9,314.9 373.4,315 373.9,320.2 374.4,317.4 374.9,316 375.4,315.6 375.9,314.1 376.4,314.8 376.9,312.8 377.4,317.9 377.9,316 378.4,318.6 378.9,316.9 379.4,313.4 379.9,320.4 380.4,317.9 380.9,318.6 381.4,316 381.9,316 382.4,316.7 382.9,320.3 383.4,314.8 383.9,315.2 384.4,318 384.9,313.6 385.4,319.8 385.9,315.1 386.4,319.3 386.9,316.9 387.4,316.6 387.9,315.2 388.4,319.8 388.9,316.8 389.4,314.9 389.9,318.4 390.4,317 390.9,318.2 391.4,316.6 391.9,318 392.4,318.1 392.9,317.4 393.4,314.5 393.9,318.3 394.4,319.9 394.9,318.2 395.4,319.1 395.9,318.8 396.4,316.9 396.9,319.4 397.4,317.1 397.9,315.7 398.4,315.3 398.9,319.4 399.4,318.8 399.9,318.7 400.4,316.6 400.9,314.3 401.4,319 401.9,317.4 402.4,316.5 402.9,316.6 403.4,316.6 403.9,314.4 404.4,318.8 404.9,319 405.4,319.3 405.9,317.1 406.4,315.5 406.9,315.3 407.4,317.2 407.9,320.9 408.4,319.5 408.9,317.9 409.4,318.7 409.9,319.3 410.4,318 410.9,318.3 411.4,318.3 411.9,316.9 412.4,315.9 412.9,316.9 413.4,320 413.9,315.1 414.4,317.2 414.9,317.2 415.4,318 415.9,317 416.4,319.1 416.9,316.9 417.4,317.5 417.9,318.7 418.4,314.8 418.9,319.2 419.4,318.9 419.9,314.7 420.4,316.7 420.9,315.5 421.4,316.1 421.9,318 422.4,313.2 422.9,317.9 423.4,317.1 423.9,316.2 424.4,317.1 424.9,315.2 425.4,314.3 425.9,314.9 426.4,314.4 426.9,313.5 427.4,312.3 427.9,312 428.4,313.9 428.9,312.1 429.4,313.7 429.9,313.3 430.4,311.6 430.9,312.9 431.4,313.1 431.9,313.3 432.4,313.4 432.9,313.3 433.4,312.6 433.9,312.5 434.4,312.4 434.9,312.8 435.4,312 435.9,311.9 436.4,313.7 436.9,312.9 437.4,312.9 437.9,312.2 438.4,311.8 438.9,312.1 439.4,311.9 439.9,312 440.4,311.5 440.9,312.7 441.4,312.5 441.9,312.8 442.4,312.4 442.9,312 443.4,313.5 443.9,312.9 444.4,312.7 444.9,312.9 445.4,312.3 445.9,312.8 446.4,312 446.9,313 447.4,313 447.9,312.9 448.4,312.7 448.9,312.6 449.4,313.4 449.9,314.7 450.4,315.1 450.9,316.7 451.4,317 451.9,316 452.4,315.8 452.9,317 453.4,316.7 453.9,316.5 454.4,315.8 454.9,315.2 455.4,314.2 455.9,314.3 456.4,313 456.9,312.2 457.4,312.9 457.9,313.8 458.4,313.6 458.9,312.8 459.4,313.1 459.9,312.7 460.4,312.7 460.9,312.4 461.4,312.8 461.9,312.2 462.4,312.3 462.9,312.6 463.4,312.6 463.9,313.7 464.4,312.1 464.9,312 465.4,312.9 465.9,312.8 466.4,312.9 466.9,312.4 467.4,311.6 467.9,312.2 468.4,311.7 468.9,312.3 469.4,313.3 469.9,312.1 470.4,312.4 470.9,313 471.4,311.7 471.9,312.9 472.4,312.4 472.9,312.3 473.4,312.5 473.9,312.2 474.4,313.3 474.9,312.9 475.4,312.7 475.9,313.2 476.4,312.7 476.9,312.6 477.4,315.5 477.9,315.1 478.4,316.4 478.9,316.1 479.4,316.3 479.9,317.3 480.4,318.5 480.9,318.3 481.4,317.8 481.9,318.5 482.4,318 482.9,318.3 483.4,317.7 483.9,317.1 484.4,318.4 484.9,318.8 485.4,318 485.9,319.3 486.4,318 486.9,317.9 487.4,316.5 487.9,316 488.4,314.4 488.9,312.9 489.4,314.7 489.9,314.1 490.4,313.8 490.9,312.8 491.4,313.8 491.9,312.7 492.4,313.5 492.9,313.7 493.4,313.4 493.9,312.6 494.4,313.4 494.9,313.1 495.4,313.3 495.9,313.6 496.4,312.5 496.9,312.4 497.4,311.7 497.9,313.6 498.4,312.3 498.9,313.4 499.4,312.9 499.9,313.3 500.4,312.7 500.9,312.8 501.4,312.4 501.9,312.7 502.4,311.9 502.9,313 503.4,311.7 503.9,312.6 504.4,312.9 504.9,313.4 505.4,313.6 505.9,313.4 506.4,314.4 506.9,313.4 507.4,315 507.9,315.8 508.4,316 508.9,317.4 509.4,317.3 509.9,318.1 510.4,317.4 510.9,318.6 511.4,318.6 511.9,317.4 512.4,319 512.9,317.7 513.4,317.8 513.9,318.9 514.4,319 514.9,317.8 515.4,316.8 515.9,315.9 516.4,315.4 516.9,315.3 517.4,314.8 517.9,313.6 518.4,314.1 518.9,312.4 519.4,313.6 519.9,312.7 520.4,312.3" fill="none" stroke="#1a1aee" stroke-width="1.9" stroke-linejoin="round"/>
<polyline points="69.4,324.6 72.4,324.5 75.4,324.3 78.4,324.2 81.4,324.1 84.4,323.9 87.4,324 90.4,324.2 93.4,324.3 96.4,324.5 99.4,324.7 102.4,324.7 105.4,324.7 108.4,324.8 111.4,324.8 114.4,324.8 117.4,324.8 120.4,324.8 123.4,324.9 126.4,324.9 129.4,324.9 132.4,324.9 135.4,324.9 138.4,325 141.4,325 144.4,325 147.4,325 150.4,325.1 153.4,325.1 156.4,325.1 159.4,325.1 162.4,325.1 165.4,325.2 168.4,325.2 171.4,325.2 174.4,325.2 177.4,325.2 180.4,325.3 183.4,325.3 186.4,325.3 189.4,325.3 192.4,325.3 195.4,325.4 198.4,325.4 201.4,325.4 204.4,325.4 207.4,325.4 210.4,325.5 213.4,325.5 216.4,325.5 219.4,325.5 222.4,325.5 225.4,325.6 228.4,325.6 231.4,325.6 234.4,325.6 237.4,325.6 240.4,325.6 243.4,325.7 246.4,325.7 249.4,325.7 252.4,325.7 255.4,325.7 258.4,325.8 261.4,325.8 264.4,325.8 267.4,325.8 270.4,325.8 273.4,325.8 276.4,325.9 279.4,325.9 282.4,325.9 285.4,325.9 288.4,325.9 291.4,325.9 294.4,326 297.4,326 300.4,326 303.4,326 306.4,326 309.4,326 312.4,326 315.4,326 318.4,326 321.4,326.1 324.4,326.1 327.4,326.1 330.4,326.1 333.4,326.1 336.4,326.1 339.4,326.1 342.4,326.1 345.4,326.1 348.4,326.1 351.4,326.1 354.4,326.1 357.4,326.1 360.4,326.2 363.4,326.2 366.4,326.2 369.4,326.2 372.4,326.2 375.4,326.2 378.4,326.2 381.4,326.2 384.4,326.2 387.4,326.2 390.4,326.2 393.4,326.2 396.4,326.2 399.4,326.2 402.4,326.3 405.4,326.3 408.4,326.3 411.4,326.3 414.4,326.3 417.4,326.3 420.4,326.3 423.4,326.3 426.4,326.2 429.4,326.2 432.4,326.2 435.4,326.1 438.4,326.1 441.4,326.1 444.4,326.1 447.4,326 450.4,326 453.4,326 456.4,325.9 459.4,325.9 462.4,325.9 465.4,325.8 468.4,325.8 471.4,325.8 474.4,325.8 477.4,325.8 480.4,325.8 483.4,325.8 486.4,325.8 489.4,325.8 492.4,325.8 495.4,325.9 498.4,325.9 501.4,325.9 504.4,325.9 507.4,325.9 510.4,325.9 513.4,325.9 516.4,325.9 519.4,325.9" fill="none" stroke="#b6a8dc" stroke-width="1.6" stroke-linejoin="round"/>
<line x1="69.4" y1="341.2" x2="69.4" y2="458.5" stroke="#333" stroke-width="1.3"/>
<line x1="69.4" y1="341.9" x2="73.4" y2="341.9" stroke="#333" stroke-width="1.2"/>
<text x="65.8" y="349.4" font-size="12.4" fill="#222" text-anchor="end">4</text>
<line x1="69.4" y1="380.6" x2="73.4" y2="380.6" stroke="#333" stroke-width="1.2"/>
<text x="65.8" y="385.7" font-size="12.4" fill="#222" text-anchor="end">2</text>
<line x1="69.4" y1="419.3" x2="73.4" y2="419.3" stroke="#333" stroke-width="1.2"/>
<text x="65.8" y="422.4" font-size="12.4" fill="#222" text-anchor="end">0</text>
<line x1="69.4" y1="458" x2="73.4" y2="458" stroke="#333" stroke-width="1.2"/>
<text x="65.8" y="460" font-size="12.4" fill="#222" text-anchor="end">-2</text>
<text x="79.5" y="348.8" font-size="12.9" fill="#222">R = F405/470</text>
<text transform="translate(31.8 400.5) rotate(-90)" font-size="13.2" fill="#222" text-anchor="middle"><tspan word-spacing="0">Δ </tspan>cytosolic H<tspan font-size="8.184" dy="2.6">2</tspan><tspan dy="-2.6">O</tspan><tspan font-size="8.184" dy="2.6">2</tspan></text>
<text transform="translate(48.6 400.5) rotate(-90)" font-size="13.2" fill="#222" text-anchor="middle" word-spacing="0">rel. to ZT 23 (ΔR/R<tspan font-size="8.184" dy="2.6">0</tspan><tspan dy="-2.6"> %)</tspan></text>
<rect x="69.4" y="440" width="50" height="17.5" fill="#808080"/>
<rect x="78.2" y="440" width="1.2" height="17.5" fill="#fdc22b"/>
<rect x="80.2" y="440" width="1.3" height="17.5" fill="#fdc22b"/>
<rect x="82.2" y="440" width="1.1" height="17.5" fill="#fdc22b"/>
<rect x="84" y="440" width="1.4" height="17.5" fill="#fdc22b"/>
<rect x="86" y="440" width="1.2" height="17.5" fill="#fdc22b"/>
<rect x="88" y="440" width="1.3" height="17.5" fill="#fdc22b"/>
<rect x="90" y="440" width="1.3" height="17.5" fill="#fdc22b"/>
<rect x="91.9" y="440" width="1" height="17.5" fill="#fdc22b"/>
<rect x="94.2" y="440" width="0.8" height="17.5" fill="#2a9fe0"/>
<rect x="119.4" y="440" width="301.9" height="17.5" fill="#e1666b"/>
<rect x="421.3" y="440" width="100.6" height="17.5" fill="#fdc22b"/>
<rect x="421.3" y="440" width="5" height="17.5" fill="#808080"/>
<rect x="426.3" y="440" width="0.9" height="17.5" fill="#c9a25a"/>
<rect x="432" y="440" width="0.6" height="17.5" fill="#e0b050"/>
<rect x="440" y="440" width="0.8" height="17.5" fill="#c9a25a"/>
<rect x="448.6" y="440" width="5.2" height="17.5" fill="#808080"/>
<rect x="449.8" y="440" width="0.8" height="17.5" fill="#fdc22b"/>
<rect x="460" y="440" width="1.8" height="17.5" fill="#2a9fe0"/>
<rect x="470" y="440" width="1" height="17.5" fill="#808080"/>
<rect x="477" y="440" width="0.6" height="17.5" fill="#d8a850"/>
<rect x="482.6" y="440" width="1.6" height="17.5" fill="#2a9fe0"/>
<rect x="485.8" y="440" width="2.4" height="17.5" fill="#808080"/>
<rect x="499" y="440" width="0.6" height="17.5" fill="#d0a050"/>
<rect x="505" y="440" width="0.8" height="17.5" fill="#808080"/>
<rect x="506.4" y="440" width="9.4" height="17.5" fill="#808080"/>
<rect x="516.2" y="440" width="1" height="17.5" fill="#e0a868"/>
<text x="253" y="454.2" font-size="12.9" fill="#222" text-anchor="middle">SD</text>
<line x1="68.8" y1="457.8" x2="522.6" y2="457.8" stroke="#333" stroke-width="1.5"/>
<line x1="69.4" y1="458" x2="69.4" y2="453.7" stroke="#333" stroke-width="1.2"/>
<text x="72.9" y="474.6" font-size="12.2" fill="#222" text-anchor="middle">23</text>
<line x1="119.4" y1="458" x2="119.4" y2="453.7" stroke="#333" stroke-width="1.2"/>
<text x="118.2" y="474.6" font-size="12.2" fill="#222" text-anchor="middle">0</text>
<line x1="169.7" y1="458" x2="169.7" y2="453.7" stroke="#333" stroke-width="1.2"/>
<text x="168.7" y="474.6" font-size="12.2" fill="#222" text-anchor="middle">1</text>
<line x1="220" y1="458" x2="220" y2="453.7" stroke="#333" stroke-width="1.2"/>
<text x="219.2" y="474.6" font-size="12.2" fill="#222" text-anchor="middle">2</text>
<line x1="270.4" y1="458" x2="270.4" y2="453.7" stroke="#333" stroke-width="1.2"/>
<text x="269.6" y="474.6" font-size="12.2" fill="#222" text-anchor="middle">3</text>
<line x1="320.7" y1="458" x2="320.7" y2="453.7" stroke="#333" stroke-width="1.2"/>
<text x="320.1" y="474.6" font-size="12.2" fill="#222" text-anchor="middle">4</text>
<line x1="371" y1="458" x2="371" y2="453.7" stroke="#333" stroke-width="1.2"/>
<text x="370.6" y="474.6" font-size="12.2" fill="#222" text-anchor="middle">5</text>
<line x1="421.3" y1="458" x2="421.3" y2="453.7" stroke="#333" stroke-width="1.2"/>
<text x="421.1" y="474.6" font-size="12.2" fill="#222" text-anchor="middle">6</text>
<line x1="471.6" y1="458" x2="471.6" y2="453.7" stroke="#333" stroke-width="1.2"/>
<text x="471.6" y="474.6" font-size="12.2" fill="#222" text-anchor="middle">7</text>
<line x1="522" y1="458" x2="522" y2="453.7" stroke="#333" stroke-width="1.2"/>
<text x="522" y="474.6" font-size="12.2" fill="#222" text-anchor="middle">8</text>
<text x="290" y="493.8" font-size="14.8" fill="#222" text-anchor="middle">ZT (h)</text>
<rect x="327.5" y="423" width="23.3" height="7" fill="#808080"/>
<text x="356" y="432.6" font-size="12.3" fill="#222">Wake</text>
<rect x="396.8" y="423" width="23.2" height="7" fill="#fdc22b"/>
<text x="425.6" y="432.6" font-size="12.1" fill="#222">NREM</text>
<rect x="473.2" y="423" width="23" height="7" fill="#2a9fe0"/>
<text x="501.8" y="432.6" font-size="11.9" fill="#222">REM</text>
<polyline points="69.3,387.1 69.8,392.2 70.2,388.2 70.6,393.3 71,397.4 71.5,397.6 71.9,394 72.3,386.7 72.8,386.1 73.2,388.4 73.6,391.4 74,390.9 74.5,399.5 74.9,404.5 75.3,412.4 75.7,419.8 76.2,418.9 76.6,422.5 77,430.8 77.5,426.8 77.9,427 78.3,437 78.7,438.4 79.2,439.8 79.6,441.6 80,441.2 80.5,434.1 80.9,433.2 81.3,438.9 81.7,437.2 82.2,432.3 82.6,435.7 83,444.3 83.4,436.8 83.9,440 84.3,447.4 84.7,443.1 85.2,435.5 85.6,440.8 86,447.4 86.4,447.4 86.9,445.7 87.3,447.4 87.7,443.9 88.2,440.2 88.6,438.9 89,439 89.4,434.7 89.9,428 90.3,431 90.7,436 91.1,433.1 91.6,429.5 92,434 92.4,436 92.9,427.2 93.3,419.5 93.7,417.1 94.1,409.6 94.6,403.4 95,399.1 95.4,399.9 95.9,391.1 96.3,385.7 96.7,394.6 97.1,393.3 97.6,390.8 98,393.9 98.4,391.2 98.8,383.9 99.3,384.9 99.7,386.4 100.1,381.1 100.6,393 101,407.7 101.4,408.9 101.8,418.8 102.3,426.4 102.7,421.9 103.1,422.5 103.5,429.2 104,440.3 104.4,434.2 104.8,426 105.3,429.9 105.7,429.3 106.1,437.5 106.5,444.6 107,444.4 107.4,435.6 107.8,435.8 108.3,443.6 108.7,438 109.1,430.6 109.5,423.4 110,420.6 110.4,425.1 110.8,434.5 111.2,429.4 111.7,418.3 112.1,414.4 112.5,414.9 113,419.7 113.4,417.5 113.8,419.7 114.2,423.4 114.7,422.8 115.1,420.4 115.5,412.7 116,412.9 116.4,417.4 116.8,420.7 117.2,420.4 117.7,426 118.1,430.4 118.5,446.8 118.9,447.4 119.4,444.3 119.8,427.1 120.2,410.8 120.7,408.3 121.1,400.9 121.5,413.4 121.9,417.8 122.4,398.8 122.8,408 123.2,415.5 123.7,417 124.1,440.1 124.5,437.7 124.9,430.5 125.4,430.1 125.8,426.5 126.2,424.3 126.6,438 127.1,422.5 127.5,392.3 127.9,412.5 128.4,431.3 128.8,427.8 129.2,413.8 129.6,409.6 130.1,411.1 130.5,430.6 130.9,442.8 131.4,413.9 131.8,401.4 132.2,424.9 132.6,433.5 133.1,432 133.5,432.5 133.9,409.4 134.3,401.8 134.8,401.6 135.2,397.6 135.6,438.7 136.1,426.3 136.5,393.2 136.9,393.7 137.3,422 137.8,404.2 138.2,393.9 138.6,404.1 139,391.8 139.5,406.4 139.9,415.7 140.3,409.9 140.8,426 141.2,424.3 141.6,402.5 142,397 142.5,423.2 142.9,431.9 143.3,403.1 143.8,385 144.2,408 144.6,396.2 145,390.3 145.5,422.1 145.9,420.5 146.3,402.5 146.7,387.7 147.2,387.3 147.6,405.4 148,419.6 148.5,428.9 148.9,425.1 149.3,418.1 149.7,415.7 150.2,421.9 150.6,429 151,427.7 151.5,435.7 151.9,440.4 152.3,440.8 152.7,440.8 153.2,445.4 153.6,406.1 154,417.5 154.4,409 154.9,392 155.3,382.2 155.7,384.7 156.2,397.6 156.6,400.2 157,395.7 157.4,385.3 157.9,385.3 158.3,392.3 158.7,389.4 159.2,386.9 159.6,390.2 160,399.5 160.4,400.4 160.9,401.4 161.3,411 161.7,401.5 162.1,376.4 162.6,389.1 163,387.3 163.4,397.4 163.9,388.8 164.3,375.2 164.7,373.2 165.1,386.7 165.6,395.6 166,396.8 166.4,400.9 166.9,405.4 167.3,405 167.7,416.2 168.1,416.4 168.6,402 169,399.6 169.4,383.4 169.8,401.7 170.3,409.8 170.7,395.4 171.1,401.4 171.6,411.2 172,380.9 172.4,380.9 172.8,408.6 173.3,407.9 173.7,401.7 174.1,397.2 174.6,389.1 175,382.2 175.4,371.4 175.8,404.6 176.3,413.6 176.7,416.4 177.1,416.4 177.5,398.9 178,391.7 178.4,391.3 178.8,384.4 179.3,393 179.7,383.1 180.1,386.4 180.5,410.2 181,409.6 181.4,394.4 181.8,392.1 182.2,416.4 182.7,403.7 183.1,387.6 183.5,392.5 184,404.7 184.4,394.5 184.8,384 185.2,385.3 185.7,400.6 186.1,406.5 186.5,396.9 187,415.1 187.4,408 187.8,391.7 188.2,394.6 188.7,375.2 189.1,382.6 189.5,408.7 189.9,410.6 190.4,399.4 190.8,391.8 191.2,416.4 191.7,411.6 192.1,416.4 192.5,416.4 192.9,416.4 193.4,412.8 193.8,407.9 194.2,380.3 194.7,410 195.1,416.4 195.5,412.4 195.9,407.9 196.4,396.2 196.8,401 197.2,409.2 197.6,391 198.1,414.7 198.5,408 198.9,395.2 199.4,416.4 199.8,415.8 200.2,388.7 200.6,399.5 201.1,391.7 201.5,382.3 201.9,405.7 202.4,400.9 202.8,392.8 203.2,408.1 203.6,416.4 204.1,407.3 204.5,393.9 204.9,389.2 205.3,378.8 205.8,388.2 206.2,395.5 206.6,375 207.1,355 207.5,363.2 207.9,380.3 208.3,394.7 208.8,394.3 209.2,370.8 209.6,362.8 210.1,379.2 210.5,394.5 210.9,391.2 211.3,354.5 211.8,390.8 212.2,377.5 212.6,369 213,355.4 213.5,387.7 213.9,387.6 214.3,369.8 214.8,369.1 215.2,397.3 215.6,387.3 216,373.2 216.5,356.7 216.9,363 217.3,394.1 217.8,392.8 218.2,388.9 218.6,391.5 219,407.6 219.5,416.4 219.9,407.9 220.3,395.5 220.7,398.9 221.2,375.7 221.6,363.3 222,371.7 222.5,382.4 222.9,388.7 223.3,385.7 223.7,389.6 224.2,380.8 224.6,373.4 225,361.2 225.4,380.5 225.9,395.5 226.3,388.2 226.7,387.2 227.2,383.9 227.6,393.8 228,387.5 228.4,388.7 228.9,397.5 229.3,381.8 229.7,379.1 230.2,374.3 230.6,366.6 231,371.9 231.4,366.5 231.9,392 232.3,402.4 232.7,394.8 233.1,398 233.6,387.7 234,372.9 234.4,372.3 234.9,368.8 235.3,359.3 235.7,388.7 236.1,384.2 236.6,376.4 237,378.4 237.4,392.7 237.9,395.9 238.3,403.5 238.7,390.6 239.1,373 239.6,380.9 240,385.8 240.4,395.4 240.8,401.9 241.3,390.5 241.7,394.4 242.1,408.7 242.6,389.1 243,369.6 243.4,381.3 243.8,390.8 244.3,392.3 244.7,385.3 245.1,391.4 245.6,403.1 246,395.3 246.4,383.8 246.8,390.2 247.3,400.7 247.7,402.9 248.1,410.6 248.5,412.1 249,405.9 249.4,392.8 249.8,399.6 250.3,412.5 250.7,410.1 251.1,402.1 251.5,392.8 252,406.6 252.4,409.7 252.8,407.6 253.3,404.7 253.7,404.5 254.1,416.4 254.5,416.4 255,409.4 255.4,411.8 255.8,409.4 256.2,399.5 256.7,400.4 257.1,399.3 257.5,392.4 258,400.8 258.4,408.1 258.8,402 259.2,416.4 259.7,415.6 260.1,404.6 260.5,413.9 261,411 261.4,403.9 261.8,397.1 262.2,378.8 262.7,402.3 263.1,400.3 263.5,390.7 263.9,399.8 264.4,403.4 264.8,393.1 265.2,389.1 265.7,389.9 266.1,392.6 266.5,388.7 266.9,370.5 267.4,376.2 267.8,415.4 268.2,397.6 268.6,388.7 269.1,415 269.5,416.4 269.9,414.7 270.4,385.1 270.8,379.8 271.2,392 271.6,387.8 272.1,384.8 272.5,401.8 272.9,400.2 273.4,392.9 273.8,392.7 274.2,407.4 274.6,409.4 275.1,399.1 275.5,384.9 275.9,392.3 276.3,393.9 276.8,397.7 277.2,392 277.6,406.4 278.1,401.3 278.5,382.1 278.9,394.4 279.3,416.4 279.8,412.8 280.2,401.8 280.6,395 281.1,387.6 281.5,374.5 281.9,368.5 282.3,383.9 282.8,387.7 283.2,409.6 283.6,416.4 284,401.2 284.5,394.1 284.9,383.2 285.3,363.2 285.8,374.7 286.2,382.3 286.6,387.5 287,382.7 287.5,362.2 287.9,381.2 288.3,383.6 288.8,384.4 289.2,382.3 289.6,375.3 290,375.9 290.5,381.9 290.9,358.8 291.3,356 291.7,373.6 292.2,369.7 292.6,382.5 293,361.2 293.5,370.6 293.9,372.8 294.3,370.8 294.7,367.8 295.2,365.9 295.6,378 296,384.8 296.5,384.4 296.9,378 297.3,372.6 297.7,394.5 298.2,395.1 298.6,393 299,386.1 299.4,380.9 299.9,408.1 300.3,408.9 300.7,370.4 301.2,376.5 301.6,413.5 302,388.7 302.4,378.8 302.9,372.3 303.3,369.9 303.7,379.7 304.1,394.4 304.6,395.5 305,386.7 305.4,389.4 305.9,388.5 306.3,398.5 306.7,397.1 307.1,386.9 307.6,388.6 308,402.5 308.4,394.8 308.9,391.7 309.3,382.5 309.7,387.2 310.1,391 310.6,394.6 311,393.8 311.4,387 311.8,401.3 312.3,391.5 312.7,388.1 313.1,397.1 313.6,400.1 314,404.8 314.4,397.7 314.8,394.3 315.3,404.8 315.7,404.8 316.1,401.3 316.6,400.7 317,371.6 317.4,372.7 317.8,384.5 318.3,375.9 318.7,376.3 319.1,381.5 319.5,370.4 320,369.5 320.4,359.2 320.8,376.7 321.3,390.5 321.7,388.7 322.1,377.4 322.5,374.7 323,369.3 323.4,363.2 323.8,383.4 324.3,401.3 324.7,389.3 325.1,391.8 325.5,384.4 326,377.8 326.4,367.3 326.8,393.1 327.2,402.3 327.7,389.2 328.1,384.9 328.5,389.5 329,386.7 329.4,383.9 329.8,391.9 330.2,375.5 330.7,372.3 331.1,380.8 331.5,370.1 332,367.5 332.4,377.3 332.8,393.8 333.2,361.2 333.7,374.7 334.1,398.2 334.5,404.8 334.9,404.8 335.4,388.4 335.8,386.1 336.2,379.4 336.7,385.3 337.1,366.6 337.5,350.8 337.9,362.1 338.4,367.4 338.8,395.7 339.2,396 339.7,383.2 340.1,381.5 340.5,377.9 340.9,376 341.4,382.4 341.8,391 342.2,383.6 342.6,386.9 343.1,390.7 343.5,379.3 343.9,359.3 344.4,366.2 344.8,349.6 345.2,383.2 345.6,351.6 346.1,381.7 346.5,373 346.9,384.3 347.3,384.2 347.8,374.4 348.2,368.4 348.6,361.8 349.1,368.2 349.5,379.3 349.9,381.7 350.3,385.6 350.8,394.7 351.2,403 351.6,404.8 352.1,402.4 352.5,392.4 352.9,393.2 353.3,391.5 353.8,393.2 354.2,378.7 354.6,370.2 355,374.5 355.5,380.5 355.9,382.9 356.3,377.1 356.8,387.1 357.2,392.9 357.6,399.3 358,387.1 358.5,360.1 358.9,392.1 359.3,404.3 359.8,398.6 360.2,404.8 360.6,400.7 361,393.3 361.5,380.9 361.9,377.6 362.3,395.2 362.7,391.2 363.2,378.2 363.6,370.4 364,369.2 364.5,388.2 364.9,399 365.3,387.7 365.7,387.5 366.2,379.5 366.6,375 367,381.5 367.5,381.4 367.9,380.1 368.3,389.2 368.7,371.7 369.2,363.6 369.6,386.9 370,396.7 370.4,391 370.9,363.9 371.3,383.8 371.7,362.2 372.2,359.8 372.6,373.5 373,367.9 373.4,351.6 373.9,376.7 374.3,374.6 374.7,378.1 375.2,375.1 375.6,381.4 376,399.6 376.4,379.3 376.9,370.6 377.3,383.5 377.7,374.6 378.1,375.5 378.6,388.1 379,385.8 379.4,383.8 379.9,377.5 380.3,373.3 380.7,380 381.1,369.8 381.6,380.5 382,399.3 382.4,380.3 382.9,357.3 383.3,362.6 383.7,379 384.1,369.4 384.6,359.2 385,360.8 385.4,380.2 385.8,389.8 386.3,353.5 386.7,391.3 387.1,377.8 387.6,362.6 388,371.3 388.4,379.4 388.8,348.9 389.3,356.3 389.7,368.8 390.1,370 390.5,368 391,382.7 391.4,387.9 391.8,375 392.3,365.5 392.7,377.8 393.1,389.7 393.5,384.5 394,390.4 394.4,376.2 394.8,359.8 395.3,358 395.7,380 396.1,377.2 396.5,364.2 397,369.1 397.4,399.5 397.8,385.8 398.2,357.5 398.7,353.9 399.1,375 399.5,375.7 400,364.2 400.4,366.6 400.8,366.7 401.2,362 401.7,355.5 402.1,350.9 402.5,351.7 403,364.3 403.4,388.6 403.8,382.8 404.2,379.8 404.7,365.3 405.1,362.4 405.5,396.8 405.9,402.5 406.4,383.8 406.8,365.8 407.2,363.6 407.7,363.7 408.1,375.6 408.5,371.1 408.9,370.4 409.4,389.7 409.8,376.3 410.2,359.2 410.7,374.6 411.1,381.1 411.5,364.4 411.9,354 412.4,341.9 412.8,369.1 413.2,381.3 413.6,389.4 414.1,364 414.5,365.3 414.9,367 415.4,379 415.8,380.5 416.2,351.6 416.6,368.6 417.1,371.2 417.5,364.3 417.9,383.8 418.4,387 418.8,362.9 419.2,370.3 419.6,374.5 420.1,358.6 420.5,369.9 420.9,375.1 421.3,357.2 421.8,349.5 422.2,365.5 422.6,365.1 423.1,365 423.5,369.6 423.9,369.9 424.3,371.3 424.8,376.5 425.2,378.7 425.6,380 426.1,380.8 426.5,384 426.9,392.1 427.3,389.9 427.8,385.8 428.2,388.3 428.6,389.8 429,391 429.5,390.7 429.9,392.4 430.3,390.8 430.8,388.4 431.2,392 431.6,391.5 432,390 432.5,390.5 432.9,388.4 433.3,382.4 433.7,385.8 434.2,390.5 434.6,386.6 435,386.4 435.5,384.6 435.9,386.3 436.3,390 436.7,389 437.2,391.2 437.6,388.6 438,388.2 438.5,389.3 438.9,384 439.3,386.8 439.7,399.9 440.2,388.2 440.6,384 441,382.9 441.4,390.3 441.9,388.4 442.3,382.3 442.7,388.8 443.2,396.8 443.6,386.8 444,380.5 444.4,390 444.9,387.2 445.3,378.9 445.7,385.6 446.2,385.2 446.6,377.8 447,379.9 447.4,382.3 447.9,377 448.3,372.3 448.7,367.8 449.1,361.7 449.6,359.6 450,362 450.4,363 450.9,366.4 451.3,371.7 451.7,372.1 452.1,375.6 452.6,378.9 453,375.6 453.4,373 453.9,378.1 454.3,381.5 454.7,377.2 455.1,375.6 455.6,369.9 456,369.6 456.4,374.5 456.8,371.2 457.3,364.7 457.7,361.9 458.1,356.3 458.6,354.4 459,355.4 459.4,351.2 459.8,351.8 460.3,349.9 460.7,353.8 461.1,360.4 461.6,363.4 462,369.7 462.4,376.1 462.8,378.5 463.3,375.6 463.7,379.5 464.1,384.8 464.5,380.3 465,375.2 465.4,376.2 465.8,377 466.3,377.5 466.7,381.9 467.1,385.4 467.5,384 468,394.1 468.4,377.3 468.8,383.5 469.2,382.6 469.7,383.5 470.1,387.4 470.5,382.2 471,379 471.4,379.5 471.8,380 472.2,382.5 472.7,382.8 473.1,383.4 473.5,381.7 474,383.9 474.4,390.5 474.8,389.7 475.2,383.8 475.7,383.3 476.1,390.4 476.5,383.2 476.9,379.7 477.4,385.4 477.8,381.2 478.2,379 478.7,379.7 479.1,382.9 479.5,380.5 479.9,378.3 480.4,376.5 480.8,366.2 481.2,360.1 481.7,359 482.1,358.6 482.5,353.2 482.9,350.2 483.4,354.1 483.8,355.4 484.2,351.8 484.6,349.4 485.1,349 485.5,350.8 485.9,352.2 486.4,351.4 486.8,349.7 487.2,358.2 487.6,367.6 488.1,370.6 488.5,373.7 488.9,380.2 489.4,379.7 489.8,381.8 490.2,386.6 490.6,383 491.1,381.7 491.5,383 491.9,382 492.3,385.3 492.8,385.8 493.2,384.9 493.6,385.4 494.1,384 494.5,384.6 494.9,387.8 495.3,386.9 495.8,384 496.2,383.4 496.6,385.6 497.1,386.3 497.5,384.4 497.9,385.6 498.3,385.7 498.8,385.2 499.2,387.5 499.6,388.1 500,386 500.5,383.8 500.9,383 501.3,380.9 501.8,379.2 502.2,381.3 502.6,381.9 503,385.4 503.5,384.8 503.9,378.8 504.3,381.5 504.8,381.2 505.2,377.4 505.6,379.4 506,381.4 506.5,381.7 506.9,382 507.3,377.5 507.7,371.2 508.2,366.5 508.6,364.7 509,359.9 509.5,358.4 509.9,359.2 510.3,396.1 510.7,357.3 511.2,353 511.6,352 512,356.1 512.4,356.3 512.9,355.9 513.3,357.6 513.7,345.8 514.2,353.9 514.6,355.8 515,353.9 515.4,355 515.9,361.7 516.3,369.9 516.7,377.5 517.2,379.9 517.6,375.5 518,372.9 518.4,377.7 518.9,379.9 519.3,376 519.7,377.7 520.1,380.7 520.6,380.5 521,377.9 521.4,379.5 521.9,380.2" fill="none" stroke="#9e0b50" stroke-width="1.8" stroke-linejoin="round"/>
</g>
<g id="panelH">
<text x="557.3" y="209.2" font-size="18" fill="#000" font-weight="bold">H</text>
<g clip-path="url(#scH)">
<rect x="609.4" y="206.2" width="453.2" height="53.5" fill="url(#sgH)"/>
<rect x="609.4" y="206.2" width="453.2" height="53.5" fill="#3b2ea4" filter="url(#sn2H)" opacity="0.45"/>
<g mask="url(#mkH)">
<rect x="609.4" y="206.2" width="453.2" height="53.5" fill="#2a8fe0" filter="url(#snH)"/>
</g>
<g filter="url(#sbH)">
<rect x="612" y="243.4" width="1.7" height="1.6" fill="#2a90e0" opacity="0.5"/>
<rect x="615.2" y="242.9" width="2.1" height="3.5" fill="#3068d4" opacity="0.4"/>
<rect x="615.2" y="246.5" width="1.3" height="3.2" fill="#35b8c8" opacity="0.4"/>
<rect x="617.3" y="244" width="2.1" height="2" fill="#2f74d8" opacity="0.7"/>
<rect x="619.4" y="238" width="1" height="2" fill="#2c80dc" opacity="0.5"/>
<rect x="619.4" y="253.9" width="0.7" height="1.8" fill="#2f9ad8" opacity="0.4"/>
<rect x="620.4" y="242" width="1.5" height="3.4" fill="#2f74d8" opacity="0.8"/>
<rect x="620.4" y="254.3" width="1.1" height="2.3" fill="#a8d850" opacity="0.4"/>
<rect x="622" y="240.7" width="0.9" height="2.7" fill="#2f74d8" opacity="0.6"/>
<rect x="622.9" y="241.3" width="1.8" height="3.1" fill="#2a90e0" opacity="0.4"/>
<rect x="624.7" y="241.2" width="2.1" height="2.1" fill="#2a90e0" opacity="0.7"/>
<rect x="626.8" y="244.3" width="2.2" height="2.4" fill="#2f74d8" opacity="0.4"/>
<rect x="631.1" y="240.9" width="1.9" height="3.3" fill="#2f74d8" opacity="0.7"/>
<rect x="633" y="243.4" width="1.7" height="1.6" fill="#2a90e0" opacity="0.5"/>
<rect x="634.6" y="240.4" width="1.3" height="2.2" fill="#2f74d8" opacity="0.5"/>
<rect x="634.6" y="251.7" width="0.9" height="1.9" fill="#2f9ad8" opacity="0.7"/>
<rect x="635.9" y="239.9" width="2.3" height="3.1" fill="#3068d4" opacity="0.6"/>
<rect x="635.9" y="253.8" width="1.3" height="3.2" fill="#a8d850" opacity="0.6"/>
<rect x="638.2" y="238.9" width="1.1" height="3" fill="#2c80dc" opacity="0.3"/>
<rect x="639.3" y="241.3" width="2.3" height="1.9" fill="#2f74d8" opacity="0.3"/>
<rect x="639.3" y="249.5" width="1.3" height="3.5" fill="#a8d850" opacity="0.5"/>
<rect x="641.6" y="241.7" width="1.1" height="1.9" fill="#2f74d8" opacity="0.7"/>
<rect x="641.6" y="246.7" width="0.8" height="2.9" fill="#2f86dc" opacity="0.6"/>
<rect x="642.7" y="241.1" width="2.2" height="3" fill="#2a90e0" opacity="0.7"/>
<rect x="644.9" y="239.7" width="1.1" height="2.7" fill="#2f74d8" opacity="0.7"/>
<rect x="646" y="241.3" width="1.2" height="2.5" fill="#2a90e0" opacity="0.6"/>
<rect x="647.2" y="239.1" width="1.2" height="3.5" fill="#2a90e0" opacity="0.3"/>
<rect x="648.4" y="239" width="1.9" height="2.7" fill="#2f74d8" opacity="0.7"/>
<rect x="650.3" y="241.4" width="2.5" height="2" fill="#2f74d8" opacity="0.4"/>
<rect x="652.8" y="240" width="1.7" height="2.8" fill="#2c80dc" opacity="0.4"/>
<rect x="656" y="239.9" width="1.7" height="2.8" fill="#2f74d8" opacity="0.6"/>
<rect x="657.7" y="241.8" width="1.6" height="2" fill="#2f74d8" opacity="0.3"/>
<rect x="659.3" y="242.7" width="1.8" height="3" fill="#2f74d8" opacity="0.5"/>
<rect x="664.6" y="241.2" width="1.1" height="2" fill="#2f74d8" opacity="0.4"/>
<rect x="664.6" y="245.9" width="0.8" height="3.5" fill="#2f86dc" opacity="0.5"/>
<rect x="665.7" y="243.7" width="2.2" height="2.6" fill="#2c80dc" opacity="0.7"/>
<rect x="665.7" y="245" width="1.3" height="3.9" fill="#58d0a0" opacity="0.4"/>
<rect x="667.9" y="246" width="1.2" height="4" fill="#2f86dc" opacity="0.7"/>
<rect x="669.5" y="242.2" width="1.7" height="3" fill="#2f74d8" opacity="0.5"/>
<rect x="671.2" y="238.2" width="2.6" height="3.4" fill="#2f74d8" opacity="0.7"/>
<rect x="673.8" y="239.8" width="2.5" height="2.8" fill="#3068d4" opacity="0.6"/>
<rect x="676.3" y="242.2" width="2.4" height="1.8" fill="#2c80dc" opacity="0.5"/>
<rect x="678.7" y="241.4" width="1.9" height="2.3" fill="#2f74d8" opacity="0.5"/>
<rect x="678.7" y="247.8" width="1.3" height="2.8" fill="#2f86dc" opacity="0.7"/>
<rect x="683.6" y="242" width="1.6" height="3.1" fill="#2f74d8" opacity="0.3"/>
<rect x="685.1" y="254.6" width="1.2" height="3.2" fill="#2f86dc" opacity="0.5"/>
<rect x="686.8" y="247.1" width="0.6" height="4.5" fill="#2f9ad8" opacity="0.4"/>
<rect x="687.7" y="242.9" width="1.2" height="3.6" fill="#3068d4" opacity="0.5"/>
<rect x="688.9" y="242.6" width="2.4" height="2.3" fill="#2c80dc" opacity="0.4"/>
<rect x="691.3" y="241" width="1.9" height="1.9" fill="#2c80dc" opacity="0.6"/>
<rect x="691.3" y="250.2" width="1.3" height="4.1" fill="#58d0a0" opacity="0.5"/>
<rect x="693.1" y="239.5" width="2.6" height="2.2" fill="#2a90e0" opacity="0.5"/>
<rect x="695.7" y="240.4" width="1.3" height="2.8" fill="#2a90e0" opacity="0.4"/>
<rect x="695.7" y="251.7" width="0.9" height="3.3" fill="#58d0a0" opacity="0.7"/>
<rect x="697" y="238.5" width="1.7" height="3.1" fill="#2f74d8" opacity="0.8"/>
<rect x="697" y="247.3" width="1.2" height="3.7" fill="#2f9ad8" opacity="0.4"/>
<rect x="698.6" y="240.9" width="1.8" height="2.3" fill="#2c80dc" opacity="0.7"/>
<rect x="700.5" y="238.3" width="1.7" height="3.5" fill="#2a90e0" opacity="0.3"/>
<rect x="700.5" y="251.4" width="1.2" height="4.2" fill="#2f9ad8" opacity="0.7"/>
<rect x="702.2" y="250.7" width="1.3" height="4.3" fill="#35b8c8" opacity="0.5"/>
<rect x="704.4" y="253.2" width="0.9" height="3.4" fill="#2f86dc" opacity="0.6"/>
<rect x="705.7" y="240" width="1.5" height="1.8" fill="#2f74d8" opacity="0.5"/>
<rect x="707.1" y="242.5" width="1" height="1.9" fill="#2a90e0" opacity="0.7"/>
<rect x="712.5" y="241.6" width="2.3" height="2.4" fill="#2f74d8" opacity="0.7"/>
<rect x="714.9" y="240.5" width="1.9" height="2.6" fill="#2c80dc" opacity="0.4"/>
<rect x="716.8" y="242.2" width="2.5" height="1.7" fill="#2a90e0" opacity="0.5"/>
<rect x="719.3" y="253.7" width="0.8" height="2.5" fill="#2f9ad8" opacity="0.4"/>
<rect x="720.4" y="240.1" width="1.2" height="3.5" fill="#2c80dc" opacity="0.8"/>
<rect x="720.4" y="252" width="0.8" height="2.2" fill="#58d0a0" opacity="0.4"/>
<rect x="721.6" y="240.5" width="2.2" height="3.3" fill="#3068d4" opacity="0.5"/>
<rect x="723.8" y="240.4" width="2.1" height="3" fill="#3068d4" opacity="0.8"/>
<rect x="723.8" y="251.7" width="1.3" height="3.2" fill="#a8d850" opacity="0.5"/>
<rect x="725.9" y="238.6" width="2.1" height="2.6" fill="#3068d4" opacity="0.3"/>
<rect x="728" y="238.4" width="1.4" height="2.2" fill="#2a90e0" opacity="0.5"/>
<rect x="729.4" y="240.2" width="1" height="2.4" fill="#2c80dc" opacity="0.5"/>
<rect x="729.4" y="256.1" width="0.7" height="2.9" fill="#58d0a0" opacity="0.4"/>
<rect x="730.4" y="237.6" width="2" height="2.9" fill="#3068d4" opacity="0.5"/>
<rect x="730.4" y="246.5" width="1.3" height="2.5" fill="#2f86dc" opacity="0.7"/>
<rect x="732.4" y="245.9" width="1.3" height="2.6" fill="#2f86dc" opacity="0.6"/>
<rect x="734.9" y="239.7" width="1.9" height="2.6" fill="#2f74d8" opacity="0.8"/>
<rect x="734.9" y="251.4" width="1.3" height="2.6" fill="#a8d850" opacity="0.6"/>
<rect x="736.8" y="240.8" width="2.4" height="2.5" fill="#3068d4" opacity="0.7"/>
<rect x="741.8" y="237.3" width="2.4" height="3.2" fill="#2f74d8" opacity="0.5"/>
<rect x="744.1" y="239.9" width="2.1" height="2.6" fill="#2a90e0" opacity="0.8"/>
<rect x="746.3" y="239" width="2.6" height="1.8" fill="#2a90e0" opacity="0.3"/>
<rect x="746.3" y="253.7" width="1.3" height="2" fill="#35b8c8" opacity="0.6"/>
<rect x="748.8" y="242.1" width="2.2" height="1.6" fill="#2c80dc" opacity="0.6"/>
<rect x="751" y="238.6" width="1.8" height="1.9" fill="#2c80dc" opacity="0.6"/>
<rect x="751" y="250.1" width="1.2" height="4.2" fill="#2f9ad8" opacity="0.7"/>
<rect x="752.8" y="242.7" width="1.4" height="2.7" fill="#2c80dc" opacity="0.7"/>
<rect x="754.2" y="238.4" width="2.3" height="3.2" fill="#3068d4" opacity="0.6"/>
<rect x="756.5" y="241.9" width="1.2" height="1.8" fill="#2f74d8" opacity="0.3"/>
<rect x="757.7" y="239.4" width="2.4" height="1.7" fill="#2f74d8" opacity="0.4"/>
<rect x="757.7" y="256" width="1.3" height="2.1" fill="#a8d850" opacity="0.7"/>
<rect x="760" y="240.9" width="1.2" height="2.1" fill="#2f74d8" opacity="0.7"/>
<rect x="761.2" y="238.4" width="2.2" height="3" fill="#2c80dc" opacity="0.5"/>
<rect x="763.4" y="240.4" width="1" height="1.9" fill="#2f74d8" opacity="0.7"/>
<rect x="764.4" y="241" width="1.5" height="2.8" fill="#3068d4" opacity="0.6"/>
<rect x="766" y="240.8" width="1.1" height="3.2" fill="#2c80dc" opacity="0.6"/>
<rect x="767.1" y="236.2" width="1.1" height="2.9" fill="#3068d4" opacity="0.6"/>
<rect x="768.2" y="238.5" width="0.9" height="3" fill="#2c80dc" opacity="0.4"/>
<rect x="768.2" y="254.5" width="0.6" height="2.5" fill="#2f86dc" opacity="0.5"/>
<rect x="769.1" y="237.9" width="2.3" height="1.6" fill="#2f74d8" opacity="0.6"/>
<rect x="771.4" y="238.9" width="1.6" height="3" fill="#2c80dc" opacity="0.6"/>
<rect x="773" y="239.9" width="1.6" height="2.6" fill="#2c80dc" opacity="0.3"/>
<rect x="774.6" y="239.8" width="1.1" height="2.2" fill="#2f74d8" opacity="0.3"/>
<rect x="775.7" y="236.4" width="2.4" height="3.5" fill="#2c80dc" opacity="0.4"/>
<rect x="778.1" y="239.6" width="2" height="3.3" fill="#2f74d8" opacity="0.3"/>
<rect x="780.1" y="242.7" width="0.9" height="1.7" fill="#2f74d8" opacity="0.4"/>
<rect x="781" y="238" width="1.4" height="2.7" fill="#2f74d8" opacity="0.6"/>
<rect x="782.4" y="239.4" width="1.1" height="2.9" fill="#2a90e0" opacity="0.6"/>
<rect x="784.5" y="242.8" width="2.2" height="1.7" fill="#2c80dc" opacity="0.6"/>
<rect x="786.8" y="244.3" width="2.2" height="2.7" fill="#2f74d8" opacity="0.3"/>
<rect x="786.8" y="245.1" width="1.3" height="3.5" fill="#58d0a0" opacity="0.4"/>
<rect x="789" y="238.4" width="1.2" height="3.1" fill="#3068d4" opacity="0.6"/>
<rect x="789" y="253.5" width="0.9" height="3" fill="#2f9ad8" opacity="0.4"/>
<rect x="790.2" y="243.1" width="1.7" height="1.9" fill="#2f74d8" opacity="0.5"/>
<rect x="791.9" y="241.3" width="2.2" height="2.8" fill="#2f74d8" opacity="0.4"/>
<rect x="794" y="241.2" width="1" height="2.2" fill="#3068d4" opacity="0.4"/>
<rect x="795.1" y="239.8" width="1.6" height="2.4" fill="#2a90e0" opacity="0.7"/>
<rect x="795.1" y="247" width="1.1" height="4.2" fill="#a8d850" opacity="0.4"/>
<rect x="796.6" y="244" width="2.1" height="3.6" fill="#3068d4" opacity="0.6"/>
<rect x="798.8" y="242.4" width="1.9" height="2.3" fill="#3068d4" opacity="0.4"/>
<rect x="800.7" y="245.5" width="2.2" height="3.5" fill="#2f74d8" opacity="0.4"/>
<rect x="800.7" y="246" width="1.3" height="2.9" fill="#2f9ad8" opacity="0.6"/>
<rect x="802.9" y="241.6" width="2.5" height="2.1" fill="#3068d4" opacity="0.7"/>
<rect x="805.4" y="239.2" width="1" height="2.7" fill="#2f74d8" opacity="0.6"/>
<rect x="806.4" y="241" width="2.1" height="3.5" fill="#2f74d8" opacity="0.5"/>
<rect x="806.4" y="255.4" width="1.3" height="4.5" fill="#58d0a0" opacity="0.5"/>
<rect x="808.5" y="237.3" width="2" height="3.5" fill="#2c80dc" opacity="0.8"/>
<rect x="808.5" y="251.8" width="1.3" height="2.8" fill="#2f86dc" opacity="0.7"/>
<rect x="810.5" y="241" width="1" height="2.2" fill="#2a90e0" opacity="0.8"/>
<rect x="811.5" y="238.8" width="1.8" height="2" fill="#2f74d8" opacity="0.3"/>
<rect x="811.5" y="249.8" width="1.2" height="4.1" fill="#2f86dc" opacity="0.7"/>
<rect x="813.2" y="239.4" width="1.3" height="2.3" fill="#2f74d8" opacity="0.6"/>
<rect x="814.5" y="247.2" width="1.3" height="2.1" fill="#2f86dc" opacity="0.4"/>
<rect x="817" y="240.4" width="2.5" height="3.5" fill="#3068d4" opacity="0.4"/>
<rect x="817" y="255.2" width="1.3" height="2.8" fill="#58d0a0" opacity="0.7"/>
<rect x="821.7" y="243.4" width="1.3" height="2.2" fill="#2f74d8" opacity="0.3"/>
<rect x="821.7" y="252.4" width="0.9" height="3.5" fill="#2f86dc" opacity="0.7"/>
<rect x="823" y="238.5" width="1.1" height="3.1" fill="#3068d4" opacity="0.7"/>
<rect x="825.7" y="237.6" width="1.6" height="3.3" fill="#2c80dc" opacity="0.6"/>
<rect x="827.3" y="238.2" width="2.1" height="2.8" fill="#2f74d8" opacity="0.7"/>
<rect x="827.3" y="249.5" width="1.3" height="2.1" fill="#58d0a0" opacity="0.4"/>
<rect x="829.4" y="239.9" width="2.1" height="2.8" fill="#2f74d8" opacity="0.6"/>
<rect x="829.4" y="255.8" width="1.3" height="4.3" fill="#58d0a0" opacity="0.6"/>
<rect x="831.5" y="240.7" width="1.3" height="2.7" fill="#2f74d8" opacity="0.7"/>
<rect x="832.8" y="241.6" width="1.6" height="1.8" fill="#2f74d8" opacity="0.3"/>
<rect x="832.8" y="251.7" width="1.1" height="2.8" fill="#2f9ad8" opacity="0.6"/>
<rect x="834.4" y="236.9" width="2.4" height="3.1" fill="#2f74d8" opacity="0.3"/>
<rect x="836.8" y="238.3" width="1.9" height="2.1" fill="#2f74d8" opacity="0.8"/>
<rect x="836.8" y="249.4" width="1.3" height="2.3" fill="#35b8c8" opacity="0.7"/>
<rect x="838.7" y="239.6" width="1.3" height="2.4" fill="#2c80dc" opacity="0.8"/>
<rect x="838.7" y="256.7" width="0.9" height="2.7" fill="#2f9ad8" opacity="0.7"/>
<rect x="840" y="243.6" width="1.4" height="1.9" fill="#2f74d8" opacity="0.5"/>
<rect x="841.4" y="240.7" width="1.9" height="1.6" fill="#2a90e0" opacity="0.3"/>
<rect x="843.3" y="238.9" width="2.2" height="2.8" fill="#2f74d8" opacity="0.7"/>
<rect x="845.5" y="241.4" width="1.1" height="1.6" fill="#2a90e0" opacity="0.8"/>
<rect x="845.5" y="252.8" width="0.8" height="2.2" fill="#58d0a0" opacity="0.4"/>
<rect x="846.6" y="242.4" width="1.7" height="2.6" fill="#2a90e0" opacity="0.6"/>
<rect x="848.3" y="242.8" width="2.1" height="3.2" fill="#2a90e0" opacity="0.7"/>
<rect x="848.3" y="250.9" width="1.3" height="3.8" fill="#2f86dc" opacity="0.4"/>
<rect x="850.4" y="255.2" width="1.3" height="4.2" fill="#2f86dc" opacity="0.6"/>
<rect x="853.3" y="240.2" width="2.3" height="2.1" fill="#2a90e0" opacity="0.6"/>
<rect x="855.6" y="241.6" width="1.6" height="2.4" fill="#2a90e0" opacity="0.4"/>
<rect x="855.6" y="252.7" width="1.1" height="4.2" fill="#a8d850" opacity="0.6"/>
<rect x="857.2" y="239.3" width="1.2" height="1.7" fill="#2f74d8" opacity="0.8"/>
<rect x="858.4" y="238.8" width="2.3" height="1.6" fill="#2f74d8" opacity="0.5"/>
<rect x="860.8" y="237.7" width="2.1" height="2" fill="#3068d4" opacity="0.4"/>
<rect x="860.8" y="254.2" width="1.3" height="3.1" fill="#2f9ad8" opacity="0.5"/>
<rect x="862.8" y="242.1" width="2.3" height="2.3" fill="#3068d4" opacity="0.8"/>
<rect x="865.2" y="238.5" width="1.8" height="3" fill="#2c80dc" opacity="0.4"/>
<rect x="866.9" y="240.5" width="2.4" height="2.5" fill="#2f74d8" opacity="0.3"/>
<rect x="869.3" y="239.5" width="1.9" height="2.3" fill="#2c80dc" opacity="0.6"/>
<rect x="869.3" y="253.3" width="1.3" height="1.8" fill="#2f86dc" opacity="0.7"/>
<rect x="871.2" y="240.6" width="1.6" height="2.5" fill="#2f74d8" opacity="0.4"/>
<rect x="871.2" y="252.6" width="1.1" height="3.4" fill="#a8d850" opacity="0.7"/>
<rect x="872.8" y="237.8" width="1.9" height="3.6" fill="#2f74d8" opacity="0.3"/>
<rect x="876.6" y="237.7" width="2" height="2.4" fill="#2a90e0" opacity="0.3"/>
<rect x="878.6" y="238.4" width="2.1" height="1.7" fill="#3068d4" opacity="0.6"/>
<rect x="880.7" y="239.5" width="1.6" height="2.7" fill="#2a90e0" opacity="0.5"/>
<rect x="882.3" y="237.2" width="1.2" height="2.1" fill="#2a90e0" opacity="0.4"/>
<rect x="883.5" y="255.3" width="1.3" height="3.8" fill="#a8d850" opacity="0.5"/>
<rect x="887.6" y="240.4" width="2.2" height="2.7" fill="#2f74d8" opacity="0.4"/>
<rect x="889.9" y="241" width="1.2" height="2" fill="#2f74d8" opacity="0.8"/>
<rect x="893.1" y="240.9" width="2.5" height="3.6" fill="#2a90e0" opacity="0.6"/>
<rect x="893.1" y="245.4" width="1.3" height="4.3" fill="#a8d850" opacity="0.7"/>
<rect x="895.6" y="238.3" width="1.1" height="2.2" fill="#2a90e0" opacity="0.7"/>
<rect x="895.6" y="253.7" width="0.8" height="2.9" fill="#2f86dc" opacity="0.4"/>
<rect x="896.8" y="243.3" width="1.6" height="2.6" fill="#2c80dc" opacity="0.6"/>
<rect x="896.8" y="252.7" width="1.1" height="2.5" fill="#58d0a0" opacity="0.6"/>
<rect x="898.4" y="237.9" width="1.6" height="2.3" fill="#2a90e0" opacity="0.7"/>
<rect x="898.4" y="254.1" width="1.1" height="2.1" fill="#2f86dc" opacity="0.6"/>
<rect x="902.4" y="242.5" width="1.6" height="1.8" fill="#3068d4" opacity="0.5"/>
<rect x="904" y="242.9" width="1.9" height="2.8" fill="#2f74d8" opacity="0.5"/>
<rect x="904" y="251.7" width="1.3" height="3.2" fill="#2f86dc" opacity="0.4"/>
<rect x="905.8" y="240.5" width="1" height="3.2" fill="#2c80dc" opacity="0.8"/>
<rect x="905.8" y="252.2" width="0.7" height="2.2" fill="#35b8c8" opacity="0.7"/>
<rect x="906.8" y="243.9" width="0.9" height="1.7" fill="#3068d4" opacity="0.4"/>
<rect x="907.7" y="242.1" width="2.6" height="2.2" fill="#2f74d8" opacity="0.6"/>
<rect x="907.7" y="252" width="1.3" height="2.2" fill="#2f9ad8" opacity="0.4"/>
<rect x="910.3" y="240.3" width="1" height="2.1" fill="#2f74d8" opacity="0.7"/>
<rect x="911.3" y="240.8" width="2" height="1.7" fill="#2f74d8" opacity="0.4"/>
<rect x="915.7" y="253.3" width="0.7" height="2.1" fill="#2f86dc" opacity="0.4"/>
<rect x="916.7" y="238" width="2.3" height="3.1" fill="#2c80dc" opacity="0.4"/>
<rect x="919" y="238" width="1.1" height="2.8" fill="#2c80dc" opacity="0.8"/>
<rect x="920.1" y="241.1" width="2" height="2.2" fill="#3068d4" opacity="0.6"/>
<rect x="922.2" y="251.4" width="0.9" height="4.1" fill="#2f86dc" opacity="0.7"/>
<rect x="923.4" y="241.3" width="2.6" height="3" fill="#2f74d8" opacity="0.3"/>
<rect x="926" y="238.2" width="2" height="3.4" fill="#2c80dc" opacity="0.6"/>
<rect x="928" y="242.2" width="2.3" height="3.4" fill="#2f74d8" opacity="0.5"/>
<rect x="928" y="248.2" width="1.3" height="3.2" fill="#a8d850" opacity="0.7"/>
<rect x="930.3" y="240.4" width="1.6" height="2.3" fill="#2f74d8" opacity="0.7"/>
<rect x="931.9" y="237.9" width="1" height="2.5" fill="#2f74d8" opacity="0.3"/>
<rect x="932.9" y="241.5" width="1.4" height="2.9" fill="#2f74d8" opacity="0.4"/>
<rect x="934.2" y="241.3" width="1.1" height="2" fill="#2a90e0" opacity="0.4"/>
<rect x="935.3" y="241.8" width="1.1" height="3.2" fill="#2f74d8" opacity="0.8"/>
<rect x="935.3" y="249.7" width="0.8" height="3.3" fill="#35b8c8" opacity="0.4"/>
<rect x="936.4" y="238" width="1.3" height="3.5" fill="#2a90e0" opacity="0.3"/>
<rect x="939.5" y="237.7" width="1.8" height="2.9" fill="#3068d4" opacity="0.3"/>
<rect x="941.4" y="237.7" width="1.6" height="1.9" fill="#2f74d8" opacity="0.4"/>
<rect x="943" y="239.6" width="2.3" height="2.7" fill="#2a90e0" opacity="0.5"/>
<rect x="943" y="256.2" width="1.3" height="2.4" fill="#2f86dc" opacity="0.5"/>
<rect x="945.3" y="241.6" width="2.5" height="2.8" fill="#2f74d8" opacity="0.4"/>
<rect x="947.8" y="245.5" width="0.8" height="3.1" fill="#58d0a0" opacity="0.4"/>
<rect x="948.9" y="240.9" width="1.9" height="3.1" fill="#2c80dc" opacity="0.7"/>
<rect x="950.9" y="239.9" width="1.3" height="1.8" fill="#2c80dc" opacity="0.7"/>
<rect x="950.9" y="252" width="0.9" height="3.9" fill="#58d0a0" opacity="0.7"/>
<rect x="952.2" y="237.7" width="2.1" height="3.1" fill="#2a90e0" opacity="0.5"/>
<rect x="954.3" y="239.5" width="2.2" height="2.6" fill="#2f74d8" opacity="0.8"/>
<rect x="954.3" y="251" width="1.3" height="2.8" fill="#2f86dc" opacity="0.5"/>
<rect x="956.5" y="241.3" width="2.1" height="1.7" fill="#3068d4" opacity="0.7"/>
<rect x="961.2" y="244.1" width="2.4" height="2.2" fill="#2a90e0" opacity="0.7"/>
<rect x="963.6" y="241.9" width="2.4" height="2.9" fill="#2a90e0" opacity="0.4"/>
<rect x="964.5" y="246.4" width="1.1" height="6" fill="#2f8ae0" opacity="0.3"/>
<rect x="964.5" y="249.8" width="1.1" height="5.6" fill="#a8d850" opacity="0.9"/>
<rect x="965.5" y="236.9" width="1.1" height="15.5" fill="#2f80dc" opacity="0.6"/>
<rect x="965.5" y="228.2" width="1.1" height="23.2" fill="#3a66d8" opacity="0.3"/>
<rect x="965.5" y="249" width="1.1" height="7.5" fill="#f6e02a" opacity="0.8"/>
<rect x="966.5" y="238.3" width="1.1" height="14.1" fill="#2f74d8" opacity="0.5"/>
<rect x="966.5" y="249.5" width="1.1" height="4.4" fill="#f6e02a" opacity="0.8"/>
<rect x="967.5" y="244" width="1.1" height="8.4" fill="#2f8ae0" opacity="0.3"/>
<rect x="967.5" y="228.1" width="1.1" height="23.3" fill="#3a66d8" opacity="0.4"/>
<rect x="967.5" y="249.2" width="1.1" height="7.9" fill="#a8d850" opacity="0.8"/>
<rect x="968.5" y="245.5" width="1.1" height="6.9" fill="#30a0d8" opacity="0.3"/>
<rect x="968.5" y="232" width="1.1" height="19.4" fill="#3a66d8" opacity="0.5"/>
<rect x="968.5" y="250.4" width="1.1" height="5" fill="#f6e02a" opacity="1"/>
<rect x="969.5" y="238.3" width="1.1" height="14.1" fill="#30a0d8" opacity="0.6"/>
<rect x="969.5" y="249.7" width="1.1" height="4.2" fill="#f6e02a" opacity="0.9"/>
<rect x="970.5" y="243.4" width="1.1" height="9" fill="#2f74d8" opacity="0.6"/>
<rect x="970.5" y="234.6" width="1.1" height="16.8" fill="#3a66d8" opacity="0.4"/>
<rect x="970.5" y="246.8" width="1.1" height="8.5" fill="#f6e02a" opacity="0.8"/>
<rect x="979" y="247.5" width="1.1" height="4.7" fill="#30a0d8" opacity="0.6"/>
<rect x="979" y="250.5" width="1.1" height="7.9" fill="#f0de2c" opacity="0.9"/>
<rect x="980" y="243.6" width="1.1" height="8.6" fill="#30a0d8" opacity="0.5"/>
<rect x="980" y="227.4" width="1.1" height="23.8" fill="#3a66d8" opacity="0.5"/>
<rect x="980" y="251.4" width="1.1" height="7.6" fill="#a8d850" opacity="0.9"/>
<rect x="981" y="236.2" width="1.1" height="16" fill="#30a0d8" opacity="0.4"/>
<rect x="981" y="227.8" width="1.1" height="23.4" fill="#3a66d8" opacity="0.4"/>
<rect x="981" y="251.6" width="1.1" height="7.9" fill="#f0de2c" opacity="1"/>
<rect x="982" y="244.5" width="1.1" height="7.7" fill="#2f8ae0" opacity="0.5"/>
<rect x="982" y="224.5" width="1.1" height="26.7" fill="#3a66d8" opacity="0.4"/>
<rect x="982" y="253.2" width="1.1" height="5.5" fill="#f0de2c" opacity="0.8"/>
<rect x="983" y="243" width="1.1" height="9.2" fill="#2f74d8" opacity="0.5"/>
<rect x="983" y="252" width="1.1" height="4.6" fill="#f0de2c" opacity="0.9"/>
<rect x="984" y="246.3" width="1.1" height="5.9" fill="#30a0d8" opacity="0.3"/>
<rect x="984" y="232" width="1.1" height="19.2" fill="#3a66d8" opacity="0.3"/>
<rect x="984" y="249.8" width="1.1" height="8" fill="#f0de2c" opacity="0.8"/>
<rect x="985" y="237.3" width="1.1" height="14.9" fill="#2f8ae0" opacity="0.3"/>
<rect x="985" y="222.5" width="1.1" height="28.7" fill="#3a66d8" opacity="0.3"/>
<rect x="985" y="252.4" width="1.1" height="3.4" fill="#f0de2c" opacity="1"/>
<rect x="986" y="247.8" width="1.1" height="4.4" fill="#2f8ae0" opacity="0.6"/>
<rect x="986" y="249.9" width="1.1" height="6.4" fill="#f0de2c" opacity="0.8"/>
<rect x="987" y="239.8" width="1.1" height="12.4" fill="#30a0d8" opacity="0.5"/>
<rect x="987" y="249.3" width="1.1" height="7.1" fill="#a8d850" opacity="0.8"/>
<rect x="988" y="246.5" width="1.1" height="5.7" fill="#2f8ae0" opacity="0.6"/>
<rect x="988" y="227.7" width="1.1" height="23.5" fill="#3a66d8" opacity="0.3"/>
<rect x="988" y="249.2" width="1.1" height="5.6" fill="#f0de2c" opacity="0.9"/>
<rect x="989" y="238.4" width="1.1" height="13.8" fill="#2f8ae0" opacity="0.4"/>
<rect x="989" y="236.9" width="1.1" height="14.3" fill="#3a66d8" opacity="0.3"/>
<rect x="989" y="249.5" width="1.1" height="5.7" fill="#a8d850" opacity="1"/>
<rect x="990" y="243.2" width="1.1" height="9" fill="#2f8ae0" opacity="0.6"/>
<rect x="990" y="250.4" width="1.1" height="6.5" fill="#f0de2c" opacity="0.8"/>
<rect x="991" y="240.8" width="1.1" height="11.4" fill="#2f74d8" opacity="0.4"/>
<rect x="991" y="251.4" width="1.1" height="6.5" fill="#f0de2c" opacity="0.9"/>
<rect x="992" y="242" width="1.1" height="10.2" fill="#2f80dc" opacity="0.5"/>
<rect x="992" y="224.1" width="1.1" height="27.1" fill="#3a66d8" opacity="0.4"/>
<rect x="992" y="250.6" width="1.1" height="4.9" fill="#f0de2c" opacity="1"/>
<rect x="993" y="236.5" width="1.1" height="15.7" fill="#2f8ae0" opacity="0.6"/>
<rect x="993" y="251.2" width="1.1" height="6.2" fill="#f0de2c" opacity="0.9"/>
<rect x="994" y="238.9" width="1.1" height="13.3" fill="#2f80dc" opacity="0.4"/>
<rect x="994" y="251.1" width="1.1" height="4.2" fill="#f0de2c" opacity="0.9"/>
<rect x="995" y="245" width="1.1" height="7.2" fill="#30a0d8" opacity="0.3"/>
<rect x="995" y="221.2" width="1.1" height="30" fill="#3a66d8" opacity="0.3"/>
<rect x="995" y="250.9" width="1.1" height="7.1" fill="#f0de2c" opacity="0.8"/>
<rect x="996" y="239.4" width="1.1" height="12.8" fill="#30a0d8" opacity="0.6"/>
<rect x="996" y="227.9" width="1.1" height="23.3" fill="#3a66d8" opacity="0.5"/>
<rect x="996" y="248.7" width="1.1" height="8.5" fill="#f0de2c" opacity="0.8"/>
<rect x="997" y="247.5" width="1.1" height="4.7" fill="#2f80dc" opacity="0.4"/>
<rect x="997" y="222.5" width="1.1" height="28.7" fill="#3a66d8" opacity="0.5"/>
<rect x="997" y="250.5" width="1.1" height="4.8" fill="#a8d850" opacity="1"/>
<rect x="998" y="240" width="1.1" height="12.2" fill="#2f80dc" opacity="0.4"/>
<rect x="998" y="227.2" width="1.1" height="24" fill="#3a66d8" opacity="0.3"/>
<rect x="998" y="251" width="1.1" height="3.7" fill="#f0de2c" opacity="0.9"/>
<rect x="999" y="243.2" width="1.1" height="9" fill="#2f8ae0" opacity="0.4"/>
<rect x="999" y="230.8" width="1.1" height="20.4" fill="#3a66d8" opacity="0.5"/>
<rect x="999" y="250.6" width="1.1" height="6.9" fill="#f0de2c" opacity="0.8"/>
<rect x="1000" y="242.8" width="1.1" height="9.4" fill="#30a0d8" opacity="0.4"/>
<rect x="1000" y="227.1" width="1.1" height="24.1" fill="#3a66d8" opacity="0.4"/>
<rect x="1000" y="251.5" width="1.1" height="3.3" fill="#f0de2c" opacity="0.8"/>
<rect x="1001" y="244.7" width="1.1" height="7.5" fill="#2f8ae0" opacity="0.4"/>
<rect x="1001" y="226.4" width="1.1" height="24.8" fill="#3a66d8" opacity="0.2"/>
<rect x="1001" y="251.6" width="1.1" height="4.6" fill="#f0de2c" opacity="0.9"/>
<rect x="1002" y="239" width="1.1" height="13.2" fill="#2f8ae0" opacity="0.5"/>
<rect x="1002" y="228.8" width="1.1" height="22.4" fill="#3a66d8" opacity="0.4"/>
<rect x="1002" y="249" width="1.1" height="7.1" fill="#a8d850" opacity="0.8"/>
<rect x="1003" y="240.1" width="1.1" height="12.1" fill="#2f80dc" opacity="0.5"/>
<rect x="1003" y="233.1" width="1.1" height="18.1" fill="#3a66d8" opacity="0.3"/>
<rect x="1003" y="252.2" width="1.1" height="3.1" fill="#f0de2c" opacity="1"/>
<rect x="1004" y="239.7" width="1.1" height="12.5" fill="#30a0d8" opacity="0.4"/>
<rect x="1004" y="231.3" width="1.1" height="19.9" fill="#3a66d8" opacity="0.5"/>
<rect x="1004" y="251.3" width="1.1" height="5.7" fill="#f0de2c" opacity="0.8"/>
<rect x="1005" y="242.5" width="1.1" height="9.7" fill="#30a0d8" opacity="0.4"/>
<rect x="1005" y="235.4" width="1.1" height="15.8" fill="#3a66d8" opacity="0.5"/>
<rect x="1005" y="252.4" width="1.1" height="4.4" fill="#58c8a0" opacity="0.9"/>
<rect x="1006" y="244.3" width="1.1" height="7.9" fill="#2f8ae0" opacity="0.4"/>
<rect x="1006" y="235.8" width="1.1" height="15.4" fill="#3a66d8" opacity="0.3"/>
<rect x="1006" y="251.9" width="1.1" height="3.1" fill="#58c8a0" opacity="0.9"/>
<rect x="1007" y="241.4" width="1.1" height="10.8" fill="#2f80dc" opacity="0.3"/>
<rect x="1007" y="250.1" width="1.1" height="7.1" fill="#f0de2c" opacity="0.8"/>
<rect x="1008" y="246.6" width="1.1" height="5.6" fill="#2f74d8" opacity="0.6"/>
<rect x="1008" y="224.9" width="1.1" height="26.3" fill="#3a66d8" opacity="0.5"/>
<rect x="1008" y="248.6" width="1.1" height="8.4" fill="#f0de2c" opacity="0.9"/>
<rect x="1009" y="240.4" width="1.1" height="11.8" fill="#30a0d8" opacity="0.4"/>
<rect x="1009" y="250.2" width="1.1" height="7.6" fill="#f0de2c" opacity="1"/>
<rect x="1015" y="246.8" width="1.1" height="4.8" fill="#30a0d8" opacity="0.4"/>
<rect x="1015" y="250.7" width="1.1" height="5.4" fill="#e6da32" opacity="1"/>
<rect x="1016" y="236.1" width="1.1" height="15.5" fill="#2f74d8" opacity="0.5"/>
<rect x="1016" y="250" width="1.1" height="7.2" fill="#a8d850" opacity="0.9"/>
<rect x="1017" y="237.5" width="1.1" height="14.1" fill="#2f80dc" opacity="0.5"/>
<rect x="1017" y="249.9" width="1.1" height="5.9" fill="#e6da32" opacity="0.8"/>
<rect x="1018" y="245.5" width="1.1" height="6.1" fill="#2f8ae0" opacity="0.3"/>
<rect x="1018" y="250.4" width="1.1" height="6.3" fill="#e6da32" opacity="0.9"/>
<rect x="1019" y="235.7" width="1.1" height="15.9" fill="#2f8ae0" opacity="0.3"/>
<rect x="1019" y="224.3" width="1.1" height="26.3" fill="#3a66d8" opacity="0.4"/>
<rect x="1019" y="250.3" width="1.1" height="3.9" fill="#58c8a0" opacity="0.8"/>
<rect x="1020" y="238.9" width="1.1" height="12.7" fill="#2f80dc" opacity="0.3"/>
<rect x="1020" y="250.5" width="1.1" height="5.1" fill="#58c8a0" opacity="0.8"/>
<rect x="1021" y="243.5" width="1.1" height="8.1" fill="#2f8ae0" opacity="0.5"/>
<rect x="1021" y="249.9" width="1.1" height="5.9" fill="#e6da32" opacity="0.9"/>
<rect x="1022" y="243.4" width="1.1" height="8.2" fill="#2f80dc" opacity="0.5"/>
<rect x="1022" y="229.8" width="1.1" height="20.8" fill="#3a66d8" opacity="0.4"/>
<rect x="1022" y="248.9" width="1.1" height="7.2" fill="#e6da32" opacity="0.9"/>
<rect x="1023" y="242.8" width="1.1" height="8.8" fill="#2f8ae0" opacity="0.3"/>
<rect x="1023" y="250.5" width="1.1" height="3.7" fill="#e6da32" opacity="1"/>
<rect x="1024" y="236.5" width="1.1" height="15.1" fill="#2f74d8" opacity="0.3"/>
<rect x="1024" y="249.3" width="1.1" height="8.4" fill="#a8d850" opacity="0.8"/>
<rect x="1025" y="246.8" width="1.1" height="4.8" fill="#2f8ae0" opacity="0.6"/>
<rect x="1025" y="234.2" width="1.1" height="16.4" fill="#3a66d8" opacity="0.3"/>
<rect x="1025" y="250.5" width="1.1" height="5.5" fill="#e6da32" opacity="1"/>
<rect x="1026" y="246.8" width="1.1" height="4.8" fill="#2f8ae0" opacity="0.4"/>
<rect x="1026" y="225.6" width="1.1" height="25" fill="#3a66d8" opacity="0.4"/>
<rect x="1026" y="249.3" width="1.1" height="7.8" fill="#e6da32" opacity="0.9"/>
<rect x="1027" y="242.3" width="1.1" height="9.3" fill="#2f74d8" opacity="0.5"/>
<rect x="1027" y="249.9" width="1.1" height="5.4" fill="#58c8a0" opacity="1"/>
<rect x="1028" y="243.8" width="1.1" height="7.8" fill="#2f8ae0" opacity="0.3"/>
<rect x="1028" y="249.3" width="1.1" height="8.3" fill="#e6da32" opacity="0.9"/>
<rect x="1029" y="247.5" width="1.1" height="4.1" fill="#2f8ae0" opacity="0.5"/>
<rect x="1029" y="248.3" width="1.1" height="7.9" fill="#e6da32" opacity="0.9"/>
<rect x="1030" y="240.1" width="1.1" height="11.5" fill="#2f8ae0" opacity="0.3"/>
<rect x="1030" y="232.9" width="1.1" height="17.7" fill="#3a66d8" opacity="0.4"/>
<rect x="1030" y="249" width="1.1" height="6.8" fill="#e6da32" opacity="0.8"/>
<rect x="1031" y="236.6" width="1.1" height="15" fill="#2f74d8" opacity="0.4"/>
<rect x="1031" y="230.2" width="1.1" height="20.4" fill="#3a66d8" opacity="0.5"/>
<rect x="1031" y="247.1" width="1.1" height="8.2" fill="#e6da32" opacity="1"/>
<rect x="1032" y="236.1" width="1.1" height="15.5" fill="#2f80dc" opacity="0.3"/>
<rect x="1032" y="248.6" width="1.1" height="6.2" fill="#e6da32" opacity="1"/>
<rect x="1033" y="241.6" width="1.1" height="10" fill="#2f80dc" opacity="0.3"/>
<rect x="1033" y="248.6" width="1.1" height="4.7" fill="#e6da32" opacity="0.9"/>
<rect x="1034" y="237" width="1.1" height="14.6" fill="#2f80dc" opacity="0.4"/>
<rect x="1034" y="247.4" width="1.1" height="7.5" fill="#e6da32" opacity="0.9"/>
<rect x="1035" y="240.4" width="1.1" height="11.2" fill="#2f74d8" opacity="0.5"/>
<rect x="1035" y="228.2" width="1.1" height="22.4" fill="#3a66d8" opacity="0.2"/>
<rect x="1035" y="248.4" width="1.1" height="5" fill="#e6da32" opacity="0.9"/>
<rect x="1036" y="237.1" width="1.1" height="14.5" fill="#2f8ae0" opacity="0.5"/>
<rect x="1036" y="236.2" width="1.1" height="14.4" fill="#3a66d8" opacity="0.4"/>
<rect x="1036" y="246.5" width="1.1" height="7.1" fill="#a8d850" opacity="0.9"/>
<rect x="1037" y="236.9" width="1.1" height="14.7" fill="#2f74d8" opacity="0.6"/>
<rect x="1037" y="234" width="1.1" height="16.6" fill="#3a66d8" opacity="0.3"/>
<rect x="1037" y="249" width="1.1" height="5.3" fill="#e6da32" opacity="0.8"/>
<rect x="1038" y="246.7" width="1.1" height="4.9" fill="#30a0d8" opacity="0.4"/>
<rect x="1038" y="251.3" width="1.1" height="3.7" fill="#58c8a0" opacity="0.8"/>
<rect x="1039" y="241" width="1.1" height="10.6" fill="#2f80dc" opacity="0.5"/>
<rect x="1039" y="233.1" width="1.1" height="17.5" fill="#3a66d8" opacity="0.5"/>
<rect x="1039" y="251.2" width="1.1" height="3.4" fill="#e6da32" opacity="0.8"/>
<rect x="1040" y="243" width="1.1" height="8.6" fill="#2f80dc" opacity="0.5"/>
<rect x="1040" y="249.6" width="1.1" height="7.2" fill="#e6da32" opacity="0.9"/>
<rect x="1041" y="240.8" width="1.1" height="10.8" fill="#2f74d8" opacity="0.6"/>
<rect x="1041" y="249.7" width="1.1" height="7.1" fill="#e6da32" opacity="0.9"/>
<rect x="1042" y="243.4" width="1.1" height="8.2" fill="#30a0d8" opacity="0.5"/>
<rect x="1042" y="231.2" width="1.1" height="19.4" fill="#3a66d8" opacity="0.5"/>
<rect x="1042" y="250.3" width="1.1" height="7.1" fill="#e6da32" opacity="0.8"/>
<rect x="1043" y="247.3" width="1.1" height="4.3" fill="#30a0d8" opacity="0.4"/>
<rect x="1043" y="226.6" width="1.1" height="24" fill="#3a66d8" opacity="0.4"/>
<rect x="1043" y="250.6" width="1.1" height="5.1" fill="#e6da32" opacity="0.9"/>
<rect x="1044" y="236.1" width="1.1" height="15.5" fill="#2f80dc" opacity="0.3"/>
<rect x="1044" y="251.4" width="1.1" height="4.6" fill="#e6da32" opacity="0.9"/>
<rect x="1045" y="240.6" width="1.1" height="11" fill="#2f8ae0" opacity="0.4"/>
<rect x="1045" y="226.9" width="1.1" height="23.7" fill="#3a66d8" opacity="0.2"/>
<rect x="1045" y="250.5" width="1.1" height="7.7" fill="#58c8a0" opacity="0.8"/>
<rect x="1046" y="241.7" width="1.1" height="9.9" fill="#2f80dc" opacity="0.5"/>
<rect x="1046" y="249.8" width="1.1" height="6.5" fill="#e6da32" opacity="0.9"/>
<rect x="1047" y="237" width="1.1" height="14.6" fill="#30a0d8" opacity="0.4"/>
<rect x="1047" y="248.9" width="1.1" height="8.3" fill="#58c8a0" opacity="1"/>
<rect x="1048" y="239.3" width="1.1" height="12.3" fill="#2f8ae0" opacity="0.4"/>
<rect x="1048" y="232.8" width="1.1" height="17.8" fill="#3a66d8" opacity="0.3"/>
<rect x="1048" y="251.9" width="1.1" height="4.4" fill="#a8d850" opacity="0.9"/>
<rect x="1049" y="240.9" width="1.1" height="10.7" fill="#30a0d8" opacity="0.4"/>
<rect x="1049" y="252.7" width="1.1" height="4" fill="#e6da32" opacity="0.8"/>
<rect x="1050" y="235.7" width="1.1" height="15.9" fill="#2f80dc" opacity="0.3"/>
<rect x="1050" y="225.2" width="1.1" height="25.4" fill="#3a66d8" opacity="0.2"/>
<rect x="1050" y="250.6" width="1.1" height="8.3" fill="#e6da32" opacity="0.8"/>
<rect x="1051" y="245.8" width="1.1" height="5.8" fill="#2f8ae0" opacity="0.4"/>
<rect x="1051" y="233.9" width="1.1" height="16.7" fill="#3a66d8" opacity="0.3"/>
<rect x="1051" y="251.7" width="1.1" height="6.7" fill="#e6da32" opacity="0.8"/>
<rect x="1052" y="246.8" width="1.1" height="4.8" fill="#2f8ae0" opacity="0.5"/>
<rect x="1052" y="252" width="1.1" height="6.1" fill="#e6da32" opacity="0.9"/>
<rect x="1053" y="246.8" width="1.1" height="4.8" fill="#2f8ae0" opacity="0.4"/>
<rect x="1053" y="222.6" width="1.1" height="28" fill="#3a66d8" opacity="0.3"/>
<rect x="1053" y="251.3" width="1.1" height="4.5" fill="#e6da32" opacity="0.8"/>
<rect x="1054" y="240.2" width="1.1" height="11.4" fill="#2f80dc" opacity="0.4"/>
<rect x="1054" y="224.2" width="1.1" height="26.4" fill="#3a66d8" opacity="0.4"/>
<rect x="1054" y="250.8" width="1.1" height="6.9" fill="#e6da32" opacity="0.8"/>
<rect x="1055" y="246.8" width="1.1" height="4.8" fill="#2f8ae0" opacity="0.4"/>
<rect x="1055" y="231.3" width="1.1" height="19.3" fill="#3a66d8" opacity="0.5"/>
<rect x="1055" y="252.5" width="1.1" height="3.5" fill="#a8d850" opacity="0.9"/>
<rect x="1056" y="243.9" width="1.1" height="7.7" fill="#2f74d8" opacity="0.6"/>
<rect x="1056" y="225.7" width="1.1" height="24.9" fill="#3a66d8" opacity="0.5"/>
<rect x="1056" y="250.9" width="1.1" height="3.7" fill="#58c8a0" opacity="0.9"/>
<rect x="1057" y="240.5" width="1.1" height="11.1" fill="#2f80dc" opacity="0.4"/>
<rect x="1057" y="229.6" width="1.1" height="21" fill="#3a66d8" opacity="0.3"/>
<rect x="1057" y="250.4" width="1.1" height="3.6" fill="#e6da32" opacity="0.9"/>
<rect x="1058" y="245.1" width="1.1" height="6.5" fill="#30a0d8" opacity="0.4"/>
<rect x="1058" y="222.5" width="1.1" height="28.1" fill="#3a66d8" opacity="0.4"/>
<rect x="1058" y="250" width="1.1" height="4.7" fill="#e6da32" opacity="0.8"/>
<rect x="1059" y="242.4" width="1.1" height="9.2" fill="#30a0d8" opacity="0.3"/>
<rect x="1059" y="221.5" width="1.1" height="29.1" fill="#3a66d8" opacity="0.4"/>
<rect x="1059" y="249.3" width="1.1" height="6.1" fill="#e6da32" opacity="0.9"/>
<rect x="1060" y="243.7" width="1.1" height="7.9" fill="#2f8ae0" opacity="0.5"/>
<rect x="1060" y="248.9" width="1.1" height="4.5" fill="#e6da32" opacity="0.9"/>
<rect x="1061" y="240.7" width="1.1" height="10.9" fill="#2f80dc" opacity="0.5"/>
<rect x="1061" y="230.8" width="1.1" height="19.8" fill="#3a66d8" opacity="0.3"/>
<rect x="1061" y="247.3" width="1.1" height="6.6" fill="#e6da32" opacity="0.9"/>
<rect x="1062" y="237" width="1.1" height="14.6" fill="#2f74d8" opacity="0.5"/>
<rect x="1062" y="247.2" width="1.1" height="8.3" fill="#e6da32" opacity="0.8"/>
<rect x="619" y="244.9" width="1.1" height="7.6" fill="#2f8ae0" opacity="0.6"/>
<rect x="619" y="251.3" width="1.1" height="3.9" fill="#9cd060" opacity="0.8"/>
<rect x="620" y="245.2" width="1.1" height="7.3" fill="#2f80dc" opacity="0.5"/>
<rect x="620" y="250.1" width="1.1" height="4.7" fill="#a8d850" opacity="0.9"/>
<rect x="621" y="246.1" width="1.1" height="6.4" fill="#2f74d8" opacity="0.5"/>
<rect x="621" y="251.4" width="1.1" height="3.1" fill="#9cd060" opacity="0.8"/>
<rect x="622" y="245" width="1.1" height="7.5" fill="#2f8ae0" opacity="0.4"/>
<rect x="622" y="250.8" width="1.1" height="3.8" fill="#9cd060" opacity="0.9"/>
<rect x="651" y="247" width="1.1" height="5.5" fill="#2f8ae0" opacity="0.5"/>
<rect x="651" y="252.7" width="1.1" height="3.2" fill="#b4d84c" opacity="0.8"/>
<rect x="652" y="248.4" width="1.1" height="4.1" fill="#30a0d8" opacity="0.5"/>
<rect x="652" y="250.7" width="1.1" height="5" fill="#b4d84c" opacity="0.9"/>
<rect x="653" y="244.5" width="1.1" height="8" fill="#2f80dc" opacity="0.4"/>
<rect x="653" y="251.4" width="1.1" height="4.7" fill="#a8d850" opacity="0.9"/>
<rect x="654" y="247.3" width="1.1" height="5.2" fill="#30a0d8" opacity="0.6"/>
<rect x="654" y="251" width="1.1" height="4" fill="#b4d84c" opacity="0.8"/>
<rect x="655" y="245.6" width="1.1" height="6.9" fill="#30a0d8" opacity="0.3"/>
<rect x="655" y="250.6" width="1.1" height="3.3" fill="#b4d84c" opacity="0.8"/>
<rect x="656" y="247.3" width="1.1" height="5.2" fill="#30a0d8" opacity="0.5"/>
<rect x="656" y="251" width="1.1" height="4.1" fill="#b4d84c" opacity="0.8"/>
<rect x="657" y="247.6" width="1.1" height="4.9" fill="#2f80dc" opacity="0.5"/>
<rect x="657" y="251.1" width="1.1" height="4.5" fill="#b4d84c" opacity="0.8"/>
<rect x="748" y="244.7" width="1.1" height="8.3" fill="#2f80dc" opacity="0.3"/>
<rect x="748" y="249.8" width="1.1" height="4.7" fill="#70c890" opacity="0.8"/>
<rect x="749" y="244.9" width="1.1" height="8.1" fill="#30a0d8" opacity="0.6"/>
<rect x="749" y="249.8" width="1.1" height="4.7" fill="#70c890" opacity="0.9"/>
<rect x="750" y="247.9" width="1.1" height="5.1" fill="#30a0d8" opacity="0.4"/>
<rect x="750" y="251.9" width="1.1" height="2.7" fill="#70c890" opacity="1"/>
<rect x="751" y="247.3" width="1.1" height="5.7" fill="#30a0d8" opacity="0.6"/>
<rect x="751" y="251.1" width="1.1" height="4.8" fill="#70c890" opacity="0.8"/>
</g>
<rect x="724.2" y="222.2" width="0.9" height="37.5" fill="#d8b098" opacity="0.7"/>
<rect x="732.5" y="230.2" width="0.9" height="29.5" fill="#a0b0c0" opacity="0.4"/>
<rect x="841.6" y="210.2" width="0.9" height="49.5" fill="#c09898" opacity="0.55"/>
<rect x="937.3" y="220.2" width="0.9" height="39.5" fill="#b0a0a8" opacity="0.45"/>
<rect x="637" y="228.2" width="0.9" height="31.5" fill="#70a8d0" opacity="0.3"/>
<rect x="1010.5" y="218.2" width="0.9" height="41.5" fill="#80a8c8" opacity="0.35"/>
</g>
<rect x="1034.3" y="195.8" width="25" height="8" fill="url(#cbH)"/>
<text x="607.9" y="216.1" font-size="12.3" fill="#222" text-anchor="end">25</text>
<text x="607.9" y="260.8" font-size="12.3" fill="#222" text-anchor="end">1</text>
<text transform="translate(587.2 233.5) rotate(-90)" font-size="12.6" fill="#222" text-anchor="middle">Freq (Hz)</text>
<text x="618.2" y="222.4" font-size="12.6" fill="#dcd6f2">EEG</text>
<text x="605.2" y="282.6" font-size="12.4" fill="#111" text-anchor="end">EMG</text>
<polygon points="609.4,273.7 609.9,273 610.4,274 610.9,274.1 611.4,272.2 611.9,274.4 612.4,274.2 612.9,273.8 613.4,272.1 613.9,272.6 614.4,274.3 614.9,273.3 615.4,274.4 615.9,275.3 616.4,275.6 616.9,275.4 617.4,276 617.9,275.5 618.4,275.9 618.9,274.7 619.4,274.8 619.9,275.6 620.4,274.8 620.9,273.3 621.4,273 621.9,275.3 622.4,275.1 622.9,274.7 623.4,273.7 623.9,272.5 624.4,274.7 624.9,273.6 625.4,273.4 625.9,274.2 626.4,274.2 626.9,274.4 627.4,275.4 627.9,274.3 628.4,272 628.9,271.3 629.4,276.3 629.9,275.8 630.4,276.9 630.9,277.1 631.4,274.9 631.9,275.3 632.4,277.2 632.9,276.3 633.4,277.2 633.9,276.7 634.4,277.1 634.9,276.9 635.4,277.1 635.9,276.8 636.4,277 636.9,276.9 637.4,277.4 637.9,277.2 638.4,276.1 638.9,276.3 639.4,274.8 639.9,275.5 640.4,274 640.9,273.8 641.4,275.4 641.9,274.9 642.4,274.5 642.9,273.6 643.4,275.1 643.9,275 644.4,275.1 644.9,274.4 645.4,273.8 645.9,273.5 646.4,273.3 646.9,274.5 647.4,275 647.9,272.5 648.4,274.3 648.9,275.4 649.4,275.4 649.9,275.7 650.4,276.8 650.9,276.5 651.4,277.1 651.9,275.5 652.4,277.1 652.9,276.3 653.4,276.9 653.9,276.2 654.4,276.6 654.9,276.2 655.4,276.1 655.9,276.3 656.4,276.1 656.9,276.6 657.4,276.8 657.9,276.2 658.4,276.1 658.9,274.8 659.4,275.5 659.9,274.5 660.4,273.4 660.9,269.8 661.4,275.3 661.9,273.9 662.4,273.4 662.9,273.2 663.4,274.9 663.9,275.1 664.4,274.1 664.9,273.6 665.4,272.7 665.9,270.9 666.4,274.4 666.9,273.7 667.4,274.5 667.9,274.8 668.4,274.4 668.9,271.7 669.4,273.8 669.9,268.1 670.4,268.6 670.9,273.9 671.4,272.3 671.9,272.6 672.4,274.3 672.9,274 673.4,267 673.9,274 674.4,272.3 674.9,270 675.4,272.3 675.9,272.8 676.4,273.5 676.9,273.3 677.4,274 677.9,272.7 678.4,274.9 678.9,273 679.4,273.2 679.9,274.1 680.4,272.9 680.9,274 681.4,272.5 681.9,273.6 682.4,273.3 682.9,273.5 683.4,274.1 683.9,274.4 684.4,274.4 684.9,272.5 685.4,274.2 685.9,273.6 686.4,274.5 686.9,272.7 687.4,274 687.9,272.4 688.4,274.7 688.9,275 689.4,274.9 689.9,274.5 690.4,271.8 690.9,271.7 691.4,274.6 691.9,274.3 692.4,274.2 692.9,274.4 693.4,274.3 693.9,274.5 694.4,274.1 694.9,274 695.4,275 695.9,274.6 696.4,274.4 696.9,274.8 697.4,272.7 697.9,274.5 698.4,273.6 698.9,274.3 699.4,274.3 699.9,273.4 700.4,273.1 700.9,271.5 701.4,274.7 701.9,274.8 702.4,274 702.9,270.8 703.4,274.9 703.9,275 704.4,274.7 704.9,273.8 705.4,274.3 705.9,273.1 706.4,274.5 706.9,274.1 707.4,274.7 707.9,274.8 708.4,275 708.9,273.1 709.4,273.2 709.9,273.8 710.4,273.8 710.9,273 711.4,274 711.9,270.4 712.4,274.6 712.9,270.8 713.4,274.3 713.9,273.1 714.4,272 714.9,274.5 715.4,272.8 715.9,273.4 716.4,272.7 716.9,273.3 717.4,273.9 717.9,273.2 718.4,273.9 718.9,273.4 719.4,272.8 719.9,274 720.4,273.5 720.9,274.2 721.4,273.8 721.9,272.8 722.4,273.9 722.9,273.1 723.4,273.8 723.9,272.9 724.4,274 724.9,270.3 725.4,273.4 725.9,272.5 726.4,269.7 726.9,273.9 727.4,273.4 727.9,274 728.4,273.8 728.9,274.4 729.4,272.6 729.9,273 730.4,275 730.9,275 731.4,274.4 731.9,273.7 732.4,274 732.9,274 733.4,273 733.9,272.7 734.4,274.5 734.9,273.7 735.4,272.5 735.9,273.1 736.4,275 736.9,274.1 737.4,272.5 737.9,273 738.4,273.2 738.9,273.1 739.4,273.9 739.9,273.9 740.4,274.3 740.9,273.4 741.4,272.7 741.9,272.6 742.4,274.8 742.9,272.6 743.4,274.1 743.9,273.4 744.4,273.6 744.9,274.6 745.4,274.8 745.9,274 746.4,274.7 746.9,274.9 747.4,274.8 747.9,274.5 748.4,269.5 748.9,273.1 749.4,273.4 749.9,274.4 750.4,272.5 750.9,274.5 751.4,273.5 751.9,272.7 752.4,273.6 752.9,273.8 753.4,274.3 753.9,274 754.4,273.5 754.9,274.6 755.4,274.2 755.9,274.9 756.4,272.9 756.9,273.7 757.4,274 757.9,273.9 758.4,273.5 758.9,273.2 759.4,274.7 759.9,274.3 760.4,273.7 760.9,271.5 761.4,272.5 761.9,272.8 762.4,272.8 762.9,273.1 763.4,272.5 763.9,268.7 764.4,273.4 764.9,273.4 765.4,274.4 765.9,273.1 766.4,273.9 766.9,274.5 767.4,274.6 767.9,274.9 768.4,273.9 768.9,273.3 769.4,273.2 769.9,273 770.4,273.4 770.9,272.5 771.4,272.4 771.9,273.6 772.4,272.9 772.9,272.9 773.4,274.6 773.9,274.8 774.4,274.8 774.9,272.6 775.4,274.8 775.9,272.2 776.4,275 776.9,274.6 777.4,274 777.9,274.5 778.4,274.7 778.9,274 779.4,273.3 779.9,269.1 780.4,271 780.9,272.4 781.4,273.2 781.9,273.1 782.4,275 782.9,273.9 783.4,275.1 783.9,274 784.4,274.4 784.9,273.9 785.4,273.7 785.9,274 786.4,271 786.9,272.9 787.4,270.4 787.9,274.9 788.4,274.9 788.9,272.9 789.4,273.9 789.9,274.1 790.4,273.1 790.9,273.4 791.4,273.5 791.9,274.6 792.4,274.3 792.9,273.6 793.4,273.2 793.9,274.3 794.4,273 794.9,273.3 795.4,275.1 795.9,273.5 796.4,272.9 796.9,273.7 797.4,274.3 797.9,275.1 798.4,271.9 798.9,274.8 799.4,272.4 799.9,273.8 800.4,274.4 800.9,273.3 801.4,274.8 801.9,268.7 802.4,269.7 802.9,274.9 803.4,273.2 803.9,274.7 804.4,274.6 804.9,274.5 805.4,275 805.9,273.7 806.4,272.8 806.9,271 807.4,273.2 807.9,272.2 808.4,273.3 808.9,274.9 809.4,274.9 809.9,275.1 810.4,275 810.9,269.9 811.4,273.4 811.9,272.9 812.4,273.7 812.9,273.5 813.4,273.3 813.9,272.7 814.4,274.4 814.9,274 815.4,273 815.9,272.9 816.4,274.2 816.9,274.5 817.4,274.1 817.9,274.5 818.4,274.4 818.9,274.2 819.4,272.8 819.9,272.8 820.4,273.4 820.9,274.7 821.4,273.2 821.9,270.6 822.4,272.6 822.9,273.1 823.4,273.8 823.9,274.3 824.4,273.2 824.9,271.8 825.4,273.7 825.9,274 826.4,271.8 826.9,274.8 827.4,274 827.9,274.4 828.4,273.6 828.9,273.3 829.4,273 829.9,273.4 830.4,274.3 830.9,274.6 831.4,273.4 831.9,267.7 832.4,273.5 832.9,271.4 833.4,273.3 833.9,270 834.4,266.9 834.9,274.6 835.4,272.7 835.9,274.8 836.4,273.1 836.9,272.6 837.4,273.1 837.9,274.2 838.4,275 838.9,270.4 839.4,274.8 839.9,273.1 840.4,273.1 840.9,274.8 841.4,273.1 841.9,273.8 842.4,273.9 842.9,274.3 843.4,273.7 843.9,273.8 844.4,272.4 844.9,273.2 845.4,272.5 845.9,273 846.4,274.5 846.9,273.7 847.4,272.4 847.9,270.3 848.4,274.5 848.9,272.8 849.4,273 849.9,273.4 850.4,272.7 850.9,274.7 851.4,272.7 851.9,274.6 852.4,271.3 852.9,272.9 853.4,273.1 853.9,274.5 854.4,273.6 854.9,274.1 855.4,274.5 855.9,272.9 856.4,274.5 856.9,274.1 857.4,273.3 857.9,274.7 858.4,273 858.9,273.3 859.4,273.3 859.9,270.7 860.4,274 860.9,274.2 861.4,274.5 861.9,274.4 862.4,273.1 862.9,273 863.4,273 863.9,273.3 864.4,273.1 864.9,273.8 865.4,272.9 865.9,274.7 866.4,273.3 866.9,274.5 867.4,274.1 867.9,274 868.4,274.4 868.9,271.8 869.4,270.1 869.9,273.9 870.4,273.5 870.9,273 871.4,269.1 871.9,274.9 872.4,273.3 872.9,274.6 873.4,273.9 873.9,274 874.4,272.8 874.9,274 875.4,274.9 875.9,273.9 876.4,273.4 876.9,273.3 877.4,275 877.9,270.4 878.4,273.3 878.9,274.7 879.4,274.7 879.9,271.6 880.4,273 880.9,274.8 881.4,273.7 881.9,272.9 882.4,272.9 882.9,267.1 883.4,274.4 883.9,274.9 884.4,273.2 884.9,274.4 885.4,273 885.9,273.7 886.4,273.5 886.9,273.4 887.4,273.2 887.9,273.6 888.4,274.3 888.9,274.7 889.4,272.9 889.9,274.7 890.4,273 890.9,275 891.4,273.3 891.9,273.5 892.4,274.7 892.9,273.5 893.4,274 893.9,274.7 894.4,274.1 894.9,275.1 895.4,274.5 895.9,273.9 896.4,273.5 896.9,274.9 897.4,273.3 897.9,275 898.4,270.2 898.9,274.1 899.4,273 899.9,274.2 900.4,274.4 900.9,274.9 901.4,275.1 901.9,273.7 902.4,273 902.9,273 903.4,273 903.9,273.5 904.4,273.3 904.9,273.1 905.4,272.9 905.9,272.8 906.4,273.5 906.9,273.3 907.4,275 907.9,269.7 908.4,272.9 908.9,271.4 909.4,274.9 909.9,273 910.4,274.6 910.9,274 911.4,270.3 911.9,273.6 912.4,272.8 912.9,273.2 913.4,272.5 913.9,274.5 914.4,273.9 914.9,272.5 915.4,273.2 915.9,274.5 916.4,273.2 916.9,274.5 917.4,273.5 917.9,273.5 918.4,267.4 918.9,267.5 919.4,274.2 919.9,269.5 920.4,273.8 920.9,273.3 921.4,273.3 921.9,273 922.4,271.3 922.9,274.4 923.4,273.6 923.9,274.6 924.4,272.4 924.9,274.4 925.4,273 925.9,273.9 926.4,274.6 926.9,274.4 927.4,273.9 927.9,274.7 928.4,269 928.9,267 929.4,274.5 929.9,273.4 930.4,273.9 930.9,274.3 931.4,272.7 931.9,274.1 932.4,266.7 932.9,272.8 933.4,274.6 933.9,274 934.4,273 934.9,274.6 935.4,273.1 935.9,273.1 936.4,274.2 936.9,274 937.4,273.9 937.9,274 938.4,269.9 938.9,273.7 939.4,273.5 939.9,273.5 940.4,273.6 940.9,270.9 941.4,272.7 941.9,269.2 942.4,266.4 942.9,272.9 943.4,274.2 943.9,272.9 944.4,272.7 944.9,274 945.4,272.4 945.9,270.7 946.4,273.5 946.9,272.5 947.4,274.1 947.9,273.3 948.4,273.4 948.9,271.1 949.4,272.1 949.9,274.5 950.4,274.3 950.9,273.9 951.4,273.4 951.9,274.3 952.4,272 952.9,272.3 953.4,274.3 953.9,267.9 954.4,273.7 954.9,273.5 955.4,272.1 955.9,272.9 956.4,274.5 956.9,274.2 957.4,272.1 957.9,272.7 958.4,270.5 958.9,272.5 959.4,272.8 959.9,274.7 960.4,272.9 960.9,274.2 961.4,272.9 961.9,274.5 962.4,273.9 962.9,274.5 963.4,274.8 963.9,274.3 964.4,271.6 964.9,275.7 965.4,275.8 965.9,275.1 966.4,276 966.9,275.5 967.4,274.8 967.9,275.5 968.4,276 968.9,276 969.4,275.7 969.9,275 970.4,276.4 970.9,275.7 971.4,275.9 971.9,275.2 972.4,276.2 972.9,273.5 973.4,275.2 973.9,276.3 974.4,275.8 974.9,274.9 975.4,275.7 975.9,273.6 976.4,275.5 976.9,272.9 977.4,271.6 977.9,275.2 978.4,275.2 978.9,274.9 979.4,275 979.9,276 980.4,276.1 980.9,275.6 981.4,276 981.9,276.9 982.4,276.1 982.9,276.7 983.4,277.2 983.9,277.4 984.4,277 984.9,277.4 985.4,276.9 985.9,277.6 986.4,277.3 986.9,277.6 987.4,277.6 987.9,277.1 988.4,277 988.9,277.4 989.4,277.3 989.9,277.3 990.4,277.1 990.9,276.9 991.4,277.1 991.9,277.2 992.4,277.4 992.9,277.2 993.4,277.4 993.9,277.3 994.4,277 994.9,277.1 995.4,277.1 995.9,275.6 996.4,277 996.9,277.4 997.4,277 997.9,277 998.4,276.4 998.9,277.4 999.4,277.1 999.9,276.2 1000.4,277 1000.9,277.2 1001.4,277.1 1001.9,277.4 1002.4,277.3 1002.9,275.6 1003.4,277.5 1003.9,277.4 1004.4,276.7 1004.9,277.5 1005.4,277.5 1005.9,277.4 1006.4,277.3 1006.9,277.3 1007.4,277.5 1007.9,277.4 1008.4,277.4 1008.9,277.1 1009.4,276 1009.9,275 1010.4,275.1 1010.9,275.9 1011.4,276.2 1011.9,275.1 1012.4,276.2 1012.9,275.5 1013.4,275.2 1013.9,272.5 1014.4,276.1 1014.9,276.2 1015.4,276.4 1015.9,277 1016.4,277.2 1016.9,277.6 1017.4,277.3 1017.9,277.2 1018.4,277.2 1018.9,277.5 1019.4,277.7 1019.9,277.3 1020.4,277.3 1020.9,277.4 1021.4,277.4 1021.9,277.2 1022.4,277.4 1022.9,277.4 1023.4,277.4 1023.9,277.5 1024.4,277.3 1024.9,277.3 1025.4,277.3 1025.9,277.8 1026.4,277.6 1026.9,277.7 1027.4,277.8 1027.9,277.6 1028.4,277.6 1028.9,277.7 1029.4,277.8 1029.9,277.5 1030.4,277.4 1030.9,277.4 1031.4,277.8 1031.9,277.8 1032.4,277.3 1032.9,277.5 1033.4,277.7 1033.9,277.6 1034.4,277.9 1034.9,277.6 1035.4,277.6 1035.9,277.7 1036.4,277.7 1036.9,277.6 1037.4,277.8 1037.9,277.5 1038.4,277.8 1038.9,277.9 1039.4,277.6 1039.9,277.5 1040.4,277.5 1040.9,277.8 1041.4,277.5 1041.9,277.4 1042.4,276.6 1042.9,277.8 1043.4,277.7 1043.9,276.9 1044.4,277.6 1044.9,277.5 1045.4,277.8 1045.9,277.6 1046.4,277.5 1046.9,277.7 1047.4,277.6 1047.9,277.9 1048.4,277.8 1048.9,277.9 1049.4,277.4 1049.9,277.9 1050.4,277.4 1050.9,277.6 1051.4,277.6 1051.9,277.7 1052.4,277.5 1052.9,277.4 1053.4,277.8 1053.9,277.5 1054.4,277.4 1054.9,277.6 1055.4,277.5 1055.9,277.6 1056.4,277.9 1056.9,277.5 1057.4,277.4 1057.9,277.8 1058.4,277.1 1058.9,277.8 1059.4,277.6 1059.9,277.7 1060.4,277.7 1060.9,277.5 1061.4,277.7 1061.9,277.6 1062.4,277.7 1062.4,279.3 1061.9,279.6 1061.4,279.7 1060.9,279.3 1060.4,279.7 1059.9,279.4 1059.4,280.7 1058.9,279.5 1058.4,279.6 1057.9,279.8 1057.4,279.5 1056.9,279.4 1056.4,280 1055.9,279.6 1055.4,279.5 1054.9,279.8 1054.4,279.8 1053.9,279.7 1053.4,279.5 1052.9,279.5 1052.4,279.4 1051.9,280 1051.4,279.5 1050.9,279.7 1050.4,279.7 1049.9,279.7 1049.4,279.8 1048.9,279.7 1048.4,279.4 1047.9,279.6 1047.4,279.6 1046.9,279.5 1046.4,279.6 1045.9,280.3 1045.4,280.6 1044.9,279.5 1044.4,280.2 1043.9,279.6 1043.4,279.6 1042.9,279.6 1042.4,279.4 1041.9,279.4 1041.4,279.3 1040.9,279.5 1040.4,279.6 1039.9,279.6 1039.4,279.8 1038.9,279.4 1038.4,279.4 1037.9,280.1 1037.4,279.6 1036.9,279.5 1036.4,279.8 1035.9,279.7 1035.4,279.6 1034.9,279.8 1034.4,279.6 1033.9,279.9 1033.4,279.6 1032.9,279.7 1032.4,279.4 1031.9,279.4 1031.4,279.7 1030.9,279.4 1030.4,279.7 1029.9,279.5 1029.4,279.4 1028.9,280.7 1028.4,279.9 1027.9,279.6 1027.4,279.6 1026.9,279.4 1026.4,279.6 1025.9,279.5 1025.4,280.1 1024.9,279.4 1024.4,279.5 1023.9,279.6 1023.4,280.6 1022.9,280 1022.4,279.7 1021.9,279.7 1021.4,279.6 1020.9,279.9 1020.4,280.3 1019.9,279.6 1019.4,279.8 1018.9,279.9 1018.4,279.7 1017.9,279.9 1017.4,279.5 1016.9,279.9 1016.4,280.5 1015.9,282.4 1015.4,281.7 1014.9,280.9 1014.4,281.7 1013.9,280.9 1013.4,281 1012.9,281.4 1012.4,281.2 1011.9,280.9 1011.4,281.7 1010.9,281.2 1010.4,282.3 1009.9,281.4 1009.4,281.6 1008.9,280.7 1008.4,280.2 1007.9,279.8 1007.4,279.5 1006.9,281.1 1006.4,280 1005.9,280 1005.4,279.6 1004.9,279.6 1004.4,280.1 1003.9,279.9 1003.4,280.1 1002.9,280.2 1002.4,280.1 1001.9,280 1001.4,280.8 1000.9,279.8 1000.4,279.6 999.9,280.1 999.4,279.9 998.9,280.2 998.4,279.8 997.9,280 997.4,280 996.9,280 996.4,280.4 995.9,280.1 995.4,280.1 994.9,279.9 994.4,280.3 993.9,279.9 993.4,280.1 992.9,279.6 992.4,280.2 991.9,279.7 991.4,279.9 990.9,279.9 990.4,280 989.9,279.8 989.4,279.9 988.9,280.3 988.4,280.1 987.9,279.7 987.4,279.7 986.9,281.2 986.4,280 985.9,279.6 985.4,279.9 984.9,279.9 984.4,280 983.9,280.2 983.4,280 982.9,280.3 982.4,280.9 981.9,281.2 981.4,281.5 980.9,281.7 980.4,282.2 979.9,281.9 979.4,281 978.9,281 978.4,283 977.9,283.6 977.4,282 976.9,280.9 976.4,281.9 975.9,281.6 975.4,281.7 974.9,282.1 974.4,282 973.9,281.1 973.4,281.7 972.9,281.9 972.4,280.8 971.9,281.4 971.4,281.3 970.9,281.1 970.4,281.5 969.9,281.8 969.4,280.9 968.9,282.2 968.4,281.8 967.9,280.8 967.4,280.8 966.9,281.4 966.4,281.1 965.9,280.8 965.4,283.2 964.9,281.8 964.4,285.2 963.9,288.3 963.4,284.5 962.9,282.9 962.4,282.7 961.9,283 961.4,284.8 960.9,283.6 960.4,283.9 959.9,283.4 959.4,288.2 958.9,284.2 958.4,282.8 957.9,284.9 957.4,286.5 956.9,283.8 956.4,288.3 955.9,285.2 955.4,283.7 954.9,286.7 954.4,283.5 953.9,283.9 953.4,284.5 952.9,284.4 952.4,284.1 951.9,284.7 951.4,283.7 950.9,288.3 950.4,283 949.9,282.6 949.4,284.4 948.9,284.4 948.4,284.4 947.9,284.1 947.4,283.9 946.9,284.5 946.4,283.1 945.9,284.6 945.4,285.1 944.9,285.9 944.4,285.6 943.9,284.4 943.4,284.7 942.9,282.4 942.4,284.4 941.9,282.6 941.4,283 940.9,283.5 940.4,283.6 939.9,282.6 939.4,283 938.9,283.7 938.4,284.7 937.9,283.6 937.4,284.3 936.9,284.5 936.4,285 935.9,283.8 935.4,282.8 934.9,283.1 934.4,284.2 933.9,282.7 933.4,283.2 932.9,283.3 932.4,286.8 931.9,283.5 931.4,282.6 930.9,283.9 930.4,286.1 929.9,283.7 929.4,283.3 928.9,284.9 928.4,282.7 927.9,284.9 927.4,282.7 926.9,284.3 926.4,282.5 925.9,283.4 925.4,283.4 924.9,283.2 924.4,286.3 923.9,284.3 923.4,287 922.9,284.9 922.4,283.5 921.9,282.5 921.4,283.2 920.9,284.3 920.4,284.5 919.9,283.6 919.4,283.6 918.9,288 918.4,283.2 917.9,282.3 917.4,283.8 916.9,284.3 916.4,283.4 915.9,283.4 915.4,282.6 914.9,284.2 914.4,284.9 913.9,286.1 913.4,284.2 912.9,284.4 912.4,284.6 911.9,284.4 911.4,282.9 910.9,283.6 910.4,283.1 909.9,282.9 909.4,284.3 908.9,283.6 908.4,282.4 907.9,283.3 907.4,284.4 906.9,283.4 906.4,286.3 905.9,284.4 905.4,284 904.9,283.4 904.4,283.4 903.9,284.6 903.4,286.8 902.9,287.7 902.4,282.1 901.9,284.4 901.4,284.2 900.9,284.1 900.4,282.7 899.9,282.2 899.4,283.9 898.9,286.8 898.4,284.1 897.9,285.3 897.4,282.8 896.9,282.6 896.4,283.6 895.9,283.6 895.4,283 894.9,282.9 894.4,284.2 893.9,284.1 893.4,283.7 892.9,286.2 892.4,283.8 891.9,285.2 891.4,283.5 890.9,283.7 890.4,282.1 889.9,290.1 889.4,283.4 888.9,286 888.4,283.8 887.9,282.7 887.4,284.7 886.9,283.8 886.4,283.5 885.9,282.9 885.4,283.5 884.9,284.6 884.4,283.8 883.9,282.9 883.4,283.1 882.9,282.8 882.4,282.5 881.9,283.3 881.4,283.2 880.9,282.3 880.4,282.7 879.9,283.3 879.4,283.8 878.9,282.4 878.4,283 877.9,284.5 877.4,282.7 876.9,283.2 876.4,282.7 875.9,284.2 875.4,284.2 874.9,282.4 874.4,284 873.9,283.2 873.4,283.3 872.9,283.5 872.4,284.4 871.9,284 871.4,282.9 870.9,282.5 870.4,282.6 869.9,283.2 869.4,282.9 868.9,283.8 868.4,282.7 867.9,283.1 867.4,284.1 866.9,284.6 866.4,284.1 865.9,283.7 865.4,282.4 864.9,282.5 864.4,283 863.9,284.5 863.4,284.5 862.9,282.9 862.4,284 861.9,284 861.4,283.8 860.9,284.3 860.4,283.6 859.9,284.5 859.4,282.4 858.9,284.5 858.4,287.7 857.9,283.7 857.4,283.8 856.9,283.8 856.4,284.3 855.9,283.1 855.4,283.8 854.9,283.8 854.4,284.5 853.9,289.4 853.4,285.2 852.9,282.2 852.4,282.7 851.9,282.5 851.4,284.2 850.9,284.5 850.4,282.8 849.9,283.4 849.4,284.2 848.9,284.3 848.4,284.5 847.9,283.2 847.4,283.2 846.9,283.6 846.4,284.1 845.9,289.5 845.4,283.7 844.9,283 844.4,283.4 843.9,282.6 843.4,283 842.9,286.4 842.4,283.4 841.9,284.6 841.4,283.1 840.9,282.6 840.4,288.5 839.9,283.3 839.4,283.2 838.9,284.6 838.4,283.3 837.9,282.5 837.4,282.7 836.9,282.5 836.4,283 835.9,284.3 835.4,283.7 834.9,284 834.4,282.7 833.9,284.4 833.4,283.8 832.9,282.4 832.4,284.1 831.9,283.4 831.4,283 830.9,282.4 830.4,282.3 829.9,284 829.4,284.2 828.9,284.4 828.4,282.9 827.9,283.5 827.4,282.8 826.9,283.5 826.4,283.8 825.9,282.3 825.4,283.7 824.9,282.3 824.4,282.8 823.9,282.4 823.4,282.3 822.9,283.8 822.4,283.1 821.9,283.5 821.4,282.7 820.9,284.5 820.4,284.5 819.9,283.8 819.4,284.2 818.9,283.7 818.4,284 817.9,283.4 817.4,282.1 816.9,283.1 816.4,284.3 815.9,284.3 815.4,283.3 814.9,284.3 814.4,283.1 813.9,284 813.4,283.2 812.9,283.3 812.4,283.6 811.9,283.2 811.4,283.9 810.9,282.6 810.4,282.2 809.9,282.3 809.4,283.3 808.9,283.3 808.4,282 807.9,284.3 807.4,283.5 806.9,284.1 806.4,283.6 805.9,283.8 805.4,282.2 804.9,282.8 804.4,282.2 803.9,283.8 803.4,282.5 802.9,282.9 802.4,283.8 801.9,283.8 801.4,285.6 800.9,282.2 800.4,285.2 799.9,282.4 799.4,284.2 798.9,282.6 798.4,282.4 797.9,284.3 797.4,282.1 796.9,283.3 796.4,283.5 795.9,282 795.4,286.4 794.9,285.8 794.4,282.1 793.9,283 793.4,282.6 792.9,282.7 792.4,282.2 791.9,282.5 791.4,284.3 790.9,282.8 790.4,282.1 789.9,282.5 789.4,283.6 788.9,283 788.4,284.3 787.9,283.7 787.4,285.8 786.9,282.9 786.4,283.6 785.9,284 785.4,283.5 784.9,284.4 784.4,284.1 783.9,283.4 783.4,287.9 782.9,283.9 782.4,284.1 781.9,282.5 781.4,282.7 780.9,288.2 780.4,282.2 779.9,288.2 779.4,282.4 778.9,288.1 778.4,286.4 777.9,284.1 777.4,282.5 776.9,282.8 776.4,283.2 775.9,283.5 775.4,283 774.9,282.9 774.4,283.3 773.9,283.3 773.4,282.8 772.9,283.5 772.4,283.2 771.9,286.8 771.4,283.5 770.9,283.7 770.4,284.4 769.9,289.1 769.4,282.4 768.9,284 768.4,282.2 767.9,283.7 767.4,283 766.9,282.9 766.4,282.9 765.9,282.4 765.4,283.8 764.9,284.6 764.4,284.1 763.9,283.6 763.4,284.7 762.9,284 762.4,282.7 761.9,284.3 761.4,286.6 760.9,283 760.4,284.1 759.9,283.9 759.4,282.6 758.9,283.5 758.4,282.3 757.9,283.6 757.4,284.5 756.9,284 756.4,284.2 755.9,284.8 755.4,284.7 754.9,284.8 754.4,282.7 753.9,285.1 753.4,284.2 752.9,284.3 752.4,282.5 751.9,283.5 751.4,282.8 750.9,283.7 750.4,284.2 749.9,284.4 749.4,283.8 748.9,284 748.4,283.7 747.9,285.2 747.4,283 746.9,284.5 746.4,283.8 745.9,286.1 745.4,284.1 744.9,284 744.4,283.2 743.9,283.9 743.4,282.2 742.9,283.3 742.4,285.8 741.9,284.2 741.4,282.2 740.9,282.8 740.4,284.1 739.9,284.3 739.4,283.9 738.9,282.4 738.4,282.3 737.9,283 737.4,282.6 736.9,284.5 736.4,288.7 735.9,284.6 735.4,284.7 734.9,283.7 734.4,283 733.9,284.8 733.4,284.6 732.9,284.5 732.4,282.9 731.9,282.8 731.4,283.7 730.9,282.6 730.4,283.4 729.9,282.9 729.4,282.8 728.9,284.6 728.4,284.6 727.9,283.3 727.4,286 726.9,282.9 726.4,283.8 725.9,282.7 725.4,282.9 724.9,284.1 724.4,282.5 723.9,283.1 723.4,287.3 722.9,284.6 722.4,283.9 721.9,284.4 721.4,283 720.9,282.6 720.4,284.2 719.9,282.7 719.4,282.8 718.9,286.9 718.4,284.5 717.9,284.5 717.4,284.6 716.9,284.6 716.4,283.7 715.9,283 715.4,282.3 714.9,283.1 714.4,284.2 713.9,282.1 713.4,283 712.9,282.7 712.4,289.8 711.9,283.3 711.4,282.6 710.9,284.4 710.4,284.2 709.9,283.5 709.4,282.8 708.9,284.8 708.4,283.2 707.9,282.3 707.4,283.8 706.9,283.8 706.4,282.5 705.9,283.8 705.4,282.8 704.9,283.9 704.4,282.5 703.9,282.3 703.4,283.7 702.9,282.2 702.4,284.1 701.9,282.3 701.4,284.4 700.9,282.8 700.4,283.9 699.9,284.4 699.4,288.4 698.9,283.2 698.4,283.7 697.9,284.5 697.4,282.7 696.9,283.4 696.4,282.6 695.9,283.5 695.4,282.8 694.9,283.2 694.4,284.4 693.9,284.1 693.4,282.7 692.9,282.9 692.4,282.7 691.9,283.6 691.4,286.6 690.9,282.8 690.4,284.1 689.9,283.9 689.4,282.3 688.9,283.3 688.4,284.2 687.9,283.4 687.4,290.2 686.9,282.5 686.4,284.5 685.9,286.1 685.4,283.9 684.9,284.5 684.4,282.3 683.9,283.6 683.4,282.5 682.9,282.6 682.4,283.2 681.9,286.2 681.4,283.9 680.9,284.5 680.4,284.4 679.9,282.9 679.4,283.2 678.9,284 678.4,284.3 677.9,283 677.4,284.4 676.9,283.7 676.4,282.5 675.9,284.5 675.4,283.9 674.9,283.2 674.4,284.5 673.9,284.4 673.4,289 672.9,283.8 672.4,283.9 671.9,284.1 671.4,283.2 670.9,284.4 670.4,283.4 669.9,282.5 669.4,283.2 668.9,284.8 668.4,284.5 667.9,283.2 667.4,285.5 666.9,282.2 666.4,284 665.9,282.4 665.4,283.9 664.9,284.5 664.4,282.8 663.9,282.1 663.4,283.2 662.9,284.9 662.4,283.4 661.9,283.9 661.4,283.4 660.9,282.8 660.4,281.9 659.9,283.6 659.4,281.9 658.9,282.1 658.4,282.1 657.9,281 657.4,281 656.9,280.2 656.4,280.7 655.9,280.8 655.4,280.9 654.9,280.2 654.4,280.4 653.9,280.1 653.4,280.7 652.9,281 652.4,281.6 651.9,282.8 651.4,280.4 650.9,282.1 650.4,280.8 649.9,281.9 649.4,282.5 648.9,284.8 648.4,282.1 647.9,283.6 647.4,281.9 646.9,284 646.4,283.7 645.9,283.3 645.4,282.2 644.9,286.4 644.4,283.3 643.9,283.1 643.4,282.5 642.9,283.7 642.4,282.5 641.9,284.1 641.4,282.5 640.9,283.4 640.4,283.2 639.9,283.1 639.4,282.5 638.9,281.8 638.4,281 637.9,280 637.4,280.3 636.9,280.2 636.4,280.3 635.9,280 635.4,280 634.9,279.8 634.4,280.1 633.9,280.4 633.4,279.9 632.9,280 632.4,280 631.9,280.5 631.4,280.1 630.9,280.2 630.4,280.8 629.9,281.7 629.4,281.7 628.9,283.1 628.4,283 627.9,283.5 627.4,282.4 626.9,282.9 626.4,283.3 625.9,282.8 625.4,283.3 624.9,282.8 624.4,283.5 623.9,282.3 623.4,283.1 622.9,282.6 622.4,282.9 621.9,282.5 621.4,282.2 620.9,283.2 620.4,282.9 619.9,281.5 619.4,282 618.9,282 618.4,286.1 617.9,282.3 617.4,282.5 616.9,282.8 616.4,282.6 615.9,282.8 615.4,282.5 614.9,282.4 614.4,284.4 613.9,285.3 613.4,282.8 612.9,282.7 612.4,283.9 611.9,284.3 611.4,282.5 610.9,284.5 610.4,284.2 609.9,285.7 609.4,284.2" fill="#000"/>
<line x1="675.5" y1="259.6" x2="675.5" y2="303.6" stroke="#000" stroke-width="1"/>
<line x1="676.5" y1="262.6" x2="676.5" y2="286.6" stroke="#000" stroke-width="1"/>
<line x1="718.5" y1="263.6" x2="718.5" y2="284.6" stroke="#000" stroke-width="1"/>
<line x1="724.5" y1="271.6" x2="724.5" y2="287.6" stroke="#000" stroke-width="1"/>
<line x1="732.5" y1="272.6" x2="732.5" y2="291.6" stroke="#000" stroke-width="1"/>
<line x1="744.5" y1="270.6" x2="744.5" y2="284.6" stroke="#000" stroke-width="1"/>
<line x1="680.5" y1="272.6" x2="680.5" y2="289.6" stroke="#000" stroke-width="1"/>
<line x1="702.5" y1="273.6" x2="702.5" y2="287.6" stroke="#000" stroke-width="1"/>
<line x1="764.5" y1="274.6" x2="764.5" y2="287.6" stroke="#000" stroke-width="1"/>
<line x1="786.5" y1="273.6" x2="786.5" y2="289.6" stroke="#000" stroke-width="1"/>
<line x1="841.5" y1="273.6" x2="841.5" y2="287.6" stroke="#000" stroke-width="1"/>
<line x1="876.5" y1="266.6" x2="876.5" y2="283.6" stroke="#000" stroke-width="1"/>
<line x1="886.5" y1="271.6" x2="886.5" y2="290.6" stroke="#000" stroke-width="1"/>
<line x1="910.5" y1="272.6" x2="910.5" y2="288.6" stroke="#000" stroke-width="1"/>
<line x1="935.5" y1="262.6" x2="935.5" y2="291.6" stroke="#000" stroke-width="1"/>
<line x1="918.5" y1="269.6" x2="918.5" y2="283.6" stroke="#000" stroke-width="1"/>
<line x1="954.5" y1="271.6" x2="954.5" y2="288.6" stroke="#000" stroke-width="1"/>
<line x1="960.5" y1="270.6" x2="960.5" y2="284.6" stroke="#000" stroke-width="1"/>
<line x1="998.5" y1="274.6" x2="998.5" y2="288.6" stroke="#000" stroke-width="1"/>
<line x1="1011.5" y1="271.6" x2="1011.5" y2="285.6" stroke="#000" stroke-width="1"/>
<line x1="1020.5" y1="273.6" x2="1020.5" y2="286.6" stroke="#000" stroke-width="1"/>
<line x1="1030.5" y1="274.6" x2="1030.5" y2="284.6" stroke="#000" stroke-width="1"/>
<line x1="1043.5" y1="273.6" x2="1043.5" y2="286.6" stroke="#000" stroke-width="1"/>
<line x1="1052.5" y1="274.6" x2="1052.5" y2="283.6" stroke="#000" stroke-width="1"/>
<line x1="665.5" y1="272" x2="665.5" y2="285.3" stroke="#000" stroke-width="1"/>
<line x1="674.5" y1="271" x2="674.5" y2="284.8" stroke="#000" stroke-width="1"/>
<line x1="684.5" y1="275.7" x2="684.5" y2="285.4" stroke="#000" stroke-width="1"/>
<line x1="692.5" y1="271" x2="692.5" y2="284.7" stroke="#000" stroke-width="1"/>
<line x1="700.5" y1="270.2" x2="700.5" y2="287.5" stroke="#000" stroke-width="1"/>
<line x1="711.5" y1="272" x2="711.5" y2="284.7" stroke="#000" stroke-width="1"/>
<line x1="715.5" y1="273.4" x2="715.5" y2="285.3" stroke="#000" stroke-width="1"/>
<line x1="720.5" y1="274.3" x2="720.5" y2="284.2" stroke="#000" stroke-width="1"/>
<line x1="724.5" y1="270" x2="724.5" y2="285.9" stroke="#000" stroke-width="1"/>
<line x1="731.5" y1="270.5" x2="731.5" y2="284.8" stroke="#000" stroke-width="1"/>
<line x1="740.5" y1="271" x2="740.5" y2="284.9" stroke="#000" stroke-width="1"/>
<line x1="751.5" y1="271.3" x2="751.5" y2="282.6" stroke="#000" stroke-width="1"/>
<line x1="762.5" y1="273.6" x2="762.5" y2="286.3" stroke="#000" stroke-width="1"/>
<line x1="772.5" y1="275.7" x2="772.5" y2="285" stroke="#000" stroke-width="1"/>
<line x1="776.5" y1="276.1" x2="776.5" y2="285.9" stroke="#000" stroke-width="1"/>
<line x1="786.5" y1="272.3" x2="786.5" y2="284.6" stroke="#000" stroke-width="1"/>
<line x1="792.5" y1="276.5" x2="792.5" y2="285.5" stroke="#000" stroke-width="1"/>
<line x1="799.5" y1="270.4" x2="799.5" y2="287.2" stroke="#000" stroke-width="1"/>
<line x1="807.5" y1="269.9" x2="807.5" y2="287.1" stroke="#000" stroke-width="1"/>
<line x1="814.5" y1="270.8" x2="814.5" y2="285.9" stroke="#000" stroke-width="1"/>
<line x1="821.5" y1="270.7" x2="821.5" y2="287.4" stroke="#000" stroke-width="1"/>
<line x1="829.5" y1="270.8" x2="829.5" y2="287.4" stroke="#000" stroke-width="1"/>
<line x1="836.5" y1="273" x2="836.5" y2="287.3" stroke="#000" stroke-width="1"/>
<line x1="843.5" y1="271.1" x2="843.5" y2="285.6" stroke="#000" stroke-width="1"/>
<line x1="848.5" y1="271.5" x2="848.5" y2="283.8" stroke="#000" stroke-width="1"/>
<line x1="857.5" y1="275.3" x2="857.5" y2="286.6" stroke="#000" stroke-width="1"/>
<line x1="865.5" y1="275.3" x2="865.5" y2="281.1" stroke="#000" stroke-width="1"/>
<line x1="868.5" y1="272.6" x2="868.5" y2="287" stroke="#000" stroke-width="1"/>
<line x1="872.5" y1="270.8" x2="872.5" y2="286.8" stroke="#000" stroke-width="1"/>
<line x1="883.5" y1="274.8" x2="883.5" y2="285.9" stroke="#000" stroke-width="1"/>
<line x1="888.5" y1="272.5" x2="888.5" y2="282.5" stroke="#000" stroke-width="1"/>
<line x1="891.5" y1="272.1" x2="891.5" y2="287" stroke="#000" stroke-width="1"/>
<line x1="898.5" y1="269.7" x2="898.5" y2="285.9" stroke="#000" stroke-width="1"/>
<line x1="903.5" y1="272.5" x2="903.5" y2="282.2" stroke="#000" stroke-width="1"/>
<line x1="912.5" y1="275" x2="912.5" y2="286.3" stroke="#000" stroke-width="1"/>
<line x1="919.5" y1="270.3" x2="919.5" y2="282.5" stroke="#000" stroke-width="1"/>
<line x1="926.5" y1="276.3" x2="926.5" y2="282.4" stroke="#000" stroke-width="1"/>
<line x1="934.5" y1="270.5" x2="934.5" y2="285.4" stroke="#000" stroke-width="1"/>
<line x1="945.5" y1="269.8" x2="945.5" y2="286.8" stroke="#000" stroke-width="1"/>
<line x1="954.5" y1="274" x2="954.5" y2="281.9" stroke="#000" stroke-width="1"/>
<line x1="963.5" y1="272.8" x2="963.5" y2="281.8" stroke="#000" stroke-width="1"/>
<line x1="615.5" y1="276.2" x2="615.5" y2="285.5" stroke="#000" stroke-width="1"/>
<line x1="620.5" y1="276.6" x2="620.5" y2="281.2" stroke="#000" stroke-width="1"/>
<line x1="626.5" y1="274.8" x2="626.5" y2="283.6" stroke="#000" stroke-width="1"/>
<line x1="634.5" y1="272.6" x2="634.5" y2="284.9" stroke="#000" stroke-width="1"/>
<line x1="641.5" y1="275" x2="641.5" y2="284" stroke="#000" stroke-width="1"/>
<line x1="651.5" y1="275.6" x2="651.5" y2="284.2" stroke="#000" stroke-width="1"/>
<line x1="968.5" y1="274.8" x2="968.5" y2="281.7" stroke="#000" stroke-width="1"/>
<line x1="987.5" y1="273.4" x2="987.5" y2="281.5" stroke="#000" stroke-width="1"/>
<line x1="996.5" y1="273.7" x2="996.5" y2="280.9" stroke="#000" stroke-width="1"/>
<line x1="1011.5" y1="275.1" x2="1011.5" y2="282.5" stroke="#000" stroke-width="1"/>
<line x1="1018.5" y1="276.5" x2="1018.5" y2="280.6" stroke="#000" stroke-width="1"/>
<line x1="1036.5" y1="276.2" x2="1036.5" y2="284" stroke="#000" stroke-width="1"/>
<line x1="1048.5" y1="273" x2="1048.5" y2="284.6" stroke="#000" stroke-width="1"/>
<line x1="1056.5" y1="273.5" x2="1056.5" y2="281.6" stroke="#000" stroke-width="1"/>
<line x1="1065.6" y1="276" x2="1065.6" y2="280" stroke="#000" stroke-width="1"/>
<text x="583" y="308.8" font-size="11.3" fill="#1a1aee" stroke="#1a1aee" stroke-width="0.3">F470</text>
<text x="583" y="325.2" font-size="11.3" fill="#b6a8dc" stroke="#b6a8dc" stroke-width="0.3">F405</text>
<line x1="1065" y1="314" x2="1065" y2="316.5" stroke="#1f1fe8" stroke-width="1"/>
<line x1="1065" y1="321.5" x2="1065" y2="324" stroke="#b9aade" stroke-width="1"/>
<text transform="translate(1073.8 319.5) rotate(-90)" font-size="11" fill="#333" text-anchor="middle">a.u.</text>
<polyline points="609.4,303.9 609.9,302.9 610.4,301.4 610.9,302.4 611.4,301.8 611.9,301.8 612.4,301.6 612.9,302.6 613.4,302.1 613.9,302.3 614.4,301 614.9,300.8 615.4,300.3 615.9,300.9 616.4,298.8 616.9,302.2 617.4,301 617.9,300.9 618.4,301.6 618.9,300.7 619.4,301.3 619.9,301.8 620.4,300 620.9,302.8 621.4,301.6 621.9,302.1 622.4,300.9 622.9,301.3 623.4,303.3 623.9,301.6 624.4,301.9 624.9,302.7 625.4,303.6 625.9,300.7 626.4,304 626.9,303.1 627.4,303.8 627.9,302.4 628.4,303.3 628.9,304.1 629.4,302.5 629.9,301.9 630.4,301.8 630.9,301.5 631.4,302.3 631.9,301.6 632.4,301 632.9,302 633.4,300.4 633.9,300.1 634.4,303.2 634.9,300.6 635.4,302.4 635.9,301 636.4,300.8 636.9,301.3 637.4,300.2 637.9,300.1 638.4,300.6 638.9,300.4 639.4,301.3 639.9,302.2 640.4,299.8 640.9,300.2 641.4,301.7 641.9,301.7 642.4,302.3 642.9,301 643.4,302.2 643.9,301.9 644.4,300.8 644.9,302.6 645.4,301.2 645.9,303 646.4,302.4 646.9,302.8 647.4,304.9 647.9,304.6 648.4,303.9 648.9,304.1 649.4,303.4 649.9,305.2 650.4,304.5 650.9,303 651.4,302 651.9,303.1 652.4,302.6 652.9,303.2 653.4,301.3 653.9,301.2 654.4,302.1 654.9,301.9 655.4,302.5 655.9,302.7 656.4,301 656.9,299.8 657.4,301.8 657.9,301.1 658.4,301.9 658.9,299.5 659.4,301.6 659.9,301.7 660.4,301.2 660.9,302 661.4,302.6 661.9,303.9 662.4,305.9 662.9,307 663.4,307.3 663.9,306.8 664.4,306.7 664.9,307.2 665.4,307.2 665.9,306.5 666.4,307.5 666.9,308.1 667.4,307.1 667.9,306.7 668.4,308.2 668.9,307.3 669.4,306.9 669.9,308 670.4,307 670.9,308.5 671.4,307.8 671.9,308.3 672.4,309.1 672.9,309.1 673.4,308.1 673.9,306.4 674.4,307.8 674.9,307.3 675.4,308.9 675.9,309.5 676.4,308.7 676.9,308.5 677.4,308.3 677.9,308.3 678.4,307.4 678.9,308.3 679.4,307.2 679.9,306.4 680.4,307.3 680.9,308.4 681.4,306.8 681.9,305.5 682.4,307.8 682.9,306.8 683.4,307.2 683.9,306.5 684.4,307.4 684.9,308.4 685.4,306.8 685.9,308 686.4,307.8 686.9,307 687.4,308 687.9,308.4 688.4,307.4 688.9,309.2 689.4,307.5 689.9,309.4 690.4,309.1 690.9,309 691.4,308.3 691.9,308.4 692.4,307.4 692.9,309.3 693.4,309.3 693.9,310 694.4,310.5 694.9,310 695.4,309.7 695.9,310.9 696.4,310.3 696.9,310.4 697.4,309.5 697.9,311.3 698.4,309.9 698.9,312.1 699.4,309.8 699.9,310.2 700.4,310.6 700.9,310 701.4,309.4 701.9,309.7 702.4,310 702.9,310.5 703.4,311.5 703.9,311.3 704.4,311 704.9,311.4 705.4,309 705.9,310.3 706.4,310.4 706.9,310 707.4,311.3 707.9,310.4 708.4,310 708.9,311.6 709.4,310.4 709.9,310.8 710.4,309.8 710.9,311.7 711.4,311.1 711.9,312.2 712.4,312.9 712.9,311.6 713.4,310.8 713.9,310.5 714.4,312.5 714.9,311 715.4,311.7 715.9,311.4 716.4,308.6 716.9,311.4 717.4,311.4 717.9,311.5 718.4,311.2 718.9,311.6 719.4,310.6 719.9,311.9 720.4,311 720.9,311.6 721.4,312.8 721.9,311.7 722.4,310.7 722.9,311.9 723.4,310.5 723.9,311.8 724.4,312.8 724.9,310.9 725.4,311.6 725.9,311.1 726.4,311.9 726.9,312.1 727.4,312 727.9,311.7 728.4,310.4 728.9,311.2 729.4,311.6 729.9,312.7 730.4,310.5 730.9,312.9 731.4,311.5 731.9,310.8 732.4,313.3 732.9,312.5 733.4,311.5 733.9,312.5 734.4,312.8 734.9,311.2 735.4,313.4 735.9,311.7 736.4,313.1 736.9,312 737.4,311.2 737.9,312 738.4,312.1 738.9,312.7 739.4,311.3 739.9,311.8 740.4,312.9 740.9,312.3 741.4,312.1 741.9,312.9 742.4,311.5 742.9,314.1 743.4,311.9 743.9,312.8 744.4,312.3 744.9,313.2 745.4,312.1 745.9,311.8 746.4,312.6 746.9,312.8 747.4,312.2 747.9,313.9 748.4,312.9 748.9,313.3 749.4,313.2 749.9,313 750.4,312.1 750.9,313.5 751.4,311.9 751.9,312.2 752.4,313.2 752.9,312.8 753.4,311.2 753.9,311.8 754.4,311.3 754.9,312.9 755.4,311.7 755.9,312 756.4,311.4 756.9,311.5 757.4,312.4 757.9,311.1 758.4,311.9 758.9,311.5 759.4,311.5 759.9,310.8 760.4,312.8 760.9,310.6 761.4,310.9 761.9,311.6 762.4,312 762.9,311.4 763.4,310.8 763.9,311.7 764.4,311.3 764.9,311.6 765.4,313.4 765.9,310.6 766.4,312.2 766.9,312.6 767.4,312 767.9,312.1 768.4,313.2 768.9,312.3 769.4,311.1 769.9,312.2 770.4,312.8 770.9,312.3 771.4,312.2 771.9,312.8 772.4,312.3 772.9,312.8 773.4,313.3 773.9,312.3 774.4,311.6 774.9,313.9 775.4,313.2 775.9,312.3 776.4,311.9 776.9,313 777.4,313.2 777.9,313.5 778.4,313.4 778.9,312.8 779.4,312.9 779.9,312 780.4,312.7 780.9,312.9 781.4,314.2 781.9,312.3 782.4,314.9 782.9,314.1 783.4,313.1 783.9,313.1 784.4,313.7 784.9,313.9 785.4,314.2 785.9,312.3 786.4,313.4 786.9,314.1 787.4,314.5 787.9,314.1 788.4,313.8 788.9,314.1 789.4,313.5 789.9,315.3 790.4,314.7 790.9,314.3 791.4,313.6 791.9,314 792.4,314.4 792.9,314.2 793.4,315.4 793.9,315.8 794.4,315 794.9,313.4 795.4,314.8 795.9,313.9 796.4,314.4 796.9,315.9 797.4,313.1 797.9,313.4 798.4,314 798.9,315.1 799.4,314.2 799.9,313.1 800.4,315 800.9,315.4 801.4,316.1 801.9,315.4 802.4,316.3 802.9,315.2 803.4,316.5 803.9,317 804.4,316 804.9,316.1 805.4,317.5 805.9,316.2 806.4,316.3 806.9,317.2 807.4,317.9 807.9,318.4 808.4,317.5 808.9,318.5 809.4,317.7 809.9,317.7 810.4,320.4 810.9,317.9 811.4,317.3 811.9,318.6 812.4,317.7 812.9,318.8 813.4,316.3 813.9,317.3 814.4,318.9 814.9,318.2 815.4,317.3 815.9,319.1 816.4,318.6 816.9,317.5 817.4,318.6 817.9,318.1 818.4,316.6 818.9,316.9 819.4,317.6 819.9,316.6 820.4,316.1 820.9,316.9 821.4,317.8 821.9,317.3 822.4,316.3 822.9,315.1 823.4,317.6 823.9,316.7 824.4,317.5 824.9,316.7 825.4,316.3 825.9,316.8 826.4,316 826.9,316.1 827.4,315.8 827.9,314.7 828.4,317.2 828.9,317.1 829.4,315.8 829.9,315.9 830.4,317.9 830.9,316.6 831.4,315.9 831.9,315.2 832.4,317.5 832.9,317.2 833.4,315.6 833.9,316.7 834.4,315.5 834.9,316 835.4,317.1 835.9,316 836.4,315.7 836.9,315.1 837.4,316.7 837.9,316.1 838.4,315.3 838.9,317.8 839.4,315.7 839.9,315.9 840.4,316.6 840.9,316.1 841.4,316.3 841.9,316.6 842.4,315.9 842.9,315.6 843.4,316.1 843.9,317.1 844.4,316.3 844.9,317.5 845.4,316.4 845.9,315.6 846.4,316.5 846.9,316.2 847.4,316 847.9,316.2 848.4,317.1 848.9,317 849.4,316.6 849.9,316.6 850.4,316.9 850.9,317 851.4,316.8 851.9,316 852.4,317.5 852.9,317.5 853.4,317.7 853.9,314.4 854.4,317.2 854.9,316.9 855.4,314.7 855.9,317.8 856.4,315.4 856.9,316.6 857.4,317.1 857.9,317.9 858.4,316.9 858.9,316.6 859.4,315.8 859.9,317 860.4,317.7 860.9,316.2 861.4,318.5 861.9,315.2 862.4,316.9 862.9,317.1 863.4,317.5 863.9,317.8 864.4,318.4 864.9,317.1 865.4,316.4 865.9,316.8 866.4,317.4 866.9,317.1 867.4,317.5 867.9,317.7 868.4,317.9 868.9,318.6 869.4,318.3 869.9,316.9 870.4,317.4 870.9,317.6 871.4,317.7 871.9,318.7 872.4,318.9 872.9,318.5 873.4,319.4 873.9,317.6 874.4,318.4 874.9,319.3 875.4,318.3 875.9,317.6 876.4,317.4 876.9,318.7 877.4,318.4 877.9,319.1 878.4,319 878.9,317.5 879.4,316.8 879.9,316.4 880.4,316.7 880.9,318.5 881.4,316.9 881.9,316.6 882.4,317 882.9,317.4 883.4,316.6 883.9,316.6 884.4,316.7 884.9,318.3 885.4,317.3 885.9,317.7 886.4,317.8 886.9,315.8 887.4,317.7 887.9,316.5 888.4,317.1 888.9,316 889.4,318.1 889.9,317.6 890.4,316.8 890.9,318.5 891.4,316.9 891.9,318.7 892.4,317.5 892.9,319.5 893.4,316.7 893.9,318.1 894.4,316.8 894.9,316.7 895.4,317.3 895.9,317.6 896.4,316.9 896.9,318.2 897.4,319.1 897.9,318.5 898.4,317.3 898.9,319.5 899.4,316.7 899.9,319.3 900.4,317.9 900.9,317.4 901.4,318.2 901.9,318.3 902.4,319.2 902.9,319 903.4,318.3 903.9,319.3 904.4,318.5 904.9,318 905.4,317.9 905.9,318.1 906.4,319.2 906.9,318.8 907.4,319.8 907.9,318.2 908.4,319.4 908.9,319.7 909.4,319.6 909.9,319.9 910.4,317.4 910.9,318.7 911.4,319.2 911.9,320 912.4,321 912.9,321.8 913.4,319.6 913.9,320.1 914.4,321 914.9,320 915.4,321.3 915.9,320.3 916.4,320.4 916.9,320.9 917.4,321.8 917.9,320.6 918.4,319.9 918.9,321.5 919.4,320.9 919.9,319.9 920.4,319.3 920.9,320.4 921.4,320.1 921.9,320 922.4,320.7 922.9,321.1 923.4,321.6 923.9,320.7 924.4,319.8 924.9,319.6 925.4,319.5 925.9,321.1 926.4,319.3 926.9,320.2 927.4,319.7 927.9,320.4 928.4,320.4 928.9,320.5 929.4,322.1 929.9,321.5 930.4,320.6 930.9,320.1 931.4,321.4 931.9,320.8 932.4,320.9 932.9,320.2 933.4,321.4 933.9,321.4 934.4,321.6 934.9,321.3 935.4,321.4 935.9,320.6 936.4,322.4 936.9,321.9 937.4,323.1 937.9,321.7 938.4,321.8 938.9,323 939.4,321.6 939.9,322.2 940.4,321.5 940.9,321.2 941.4,319.4 941.9,321.1 942.4,320.7 942.9,319.3 943.4,321.1 943.9,318.3 944.4,319.4 944.9,321.2 945.4,320.1 945.9,318.9 946.4,320.1 946.9,320.2 947.4,317 947.9,319.6 948.4,319.6 948.9,320.8 949.4,319.7 949.9,318.6 950.4,319.3 950.9,321.3 951.4,319.7 951.9,321.2 952.4,320.5 952.9,319.2 953.4,320.4 953.9,320.1 954.4,320.3 954.9,320.1 955.4,319.3 955.9,320.8 956.4,320.1 956.9,319.8 957.4,320 957.9,319.7 958.4,320.1 958.9,320 959.4,319.1 959.9,321.5 960.4,320.2 960.9,319.6 961.4,318.3 961.9,320.4 962.4,319.4 962.9,319.6 963.4,318.6 963.9,319 964.4,317.7 964.9,317.9 965.4,318.8 965.9,319.1 966.4,317.4 966.9,316.3 967.4,317.6 967.9,317.5 968.4,316.5 968.9,316.5 969.4,319.1 969.9,317.2 970.4,316.6 970.9,317.4 971.4,315.9 971.9,315.7 972.4,316.4 972.9,317.6 973.4,317.6 973.9,317 974.4,318.2 974.9,315.6 975.4,315.8 975.9,317.8 976.4,317.8 976.9,317.9 977.4,319.1 977.9,319 978.4,321 978.9,318.9 979.4,319.8 979.9,318.7 980.4,318.2 980.9,317.4 981.4,318 981.9,317.9 982.4,317.2 982.9,316.5 983.4,316.4 983.9,316 984.4,318.1 984.9,316.6 985.4,316.2 985.9,317.5 986.4,317 986.9,317.2 987.4,317.5 987.9,316.6 988.4,315.1 988.9,317 989.4,316.7 989.9,316.4 990.4,315.8 990.9,317 991.4,316.6 991.9,317.8 992.4,315.4 992.9,315.5 993.4,316.8 993.9,316.8 994.4,316.1 994.9,317.3 995.4,316.4 995.9,317.3 996.4,316.2 996.9,316.5 997.4,316.7 997.9,315.5 998.4,317 998.9,315.7 999.4,316.9 999.9,315.4 1000.4,314.2 1000.9,315.8 1001.4,314.2 1001.9,316.9 1002.4,313.5 1002.9,313.9 1003.4,315.4 1003.9,314.9 1004.4,313.6 1004.9,315.2 1005.4,314.9 1005.9,312.7 1006.4,313.5 1006.9,314.4 1007.4,315.1 1007.9,314.9 1008.4,315.9 1008.9,315 1009.4,316.2 1009.9,315.5 1010.4,316.8 1010.9,317.5 1011.4,315.8 1011.9,317.4 1012.4,315.6 1012.9,314.5 1013.4,315.8 1013.9,316.3 1014.4,317 1014.9,316.9 1015.4,315.4 1015.9,315.6 1016.4,316.7 1016.9,316.2 1017.4,315.2 1017.9,315.1 1018.4,316.4 1018.9,315.8 1019.4,315.8 1019.9,315.1 1020.4,314.9 1020.9,315.2 1021.4,314.9 1021.9,316.3 1022.4,315.8 1022.9,315.6 1023.4,312.6 1023.9,314.5 1024.4,315.9 1024.9,315 1025.4,315.7 1025.9,313.7 1026.4,314.5 1026.9,315.8 1027.4,314.6 1027.9,317.7 1028.4,315.7 1028.9,316.3 1029.4,317.2 1029.9,315 1030.4,315.6 1030.9,314.4 1031.4,316.4 1031.9,314.5 1032.4,314.4 1032.9,315.3 1033.4,314.6 1033.9,315.5 1034.4,314.2 1034.9,314.5 1035.4,314.9 1035.9,314.8 1036.4,314.2 1036.9,314.3 1037.4,317.2 1037.9,314.7 1038.4,314.4 1038.9,313.5 1039.4,313.8 1039.9,315.4 1040.4,314.7 1040.9,316 1041.4,314.2 1041.9,314.5 1042.4,315 1042.9,315.6 1043.4,314.2 1043.9,315.8 1044.4,314.8 1044.9,315 1045.4,314.7 1045.9,315.8 1046.4,316.8 1046.9,315 1047.4,313.7 1047.9,313.9 1048.4,315.6 1048.9,315.7 1049.4,315.7 1049.9,315.9 1050.4,315.2 1050.9,316.3 1051.4,315.9 1051.9,314.9 1052.4,314.9 1052.9,316.1 1053.4,316.1 1053.9,315 1054.4,315.9 1054.9,315.2 1055.4,314.2 1055.9,314.9 1056.4,314.9 1056.9,313.8 1057.4,315.5 1057.9,315.5 1058.4,316.2 1058.9,315.9 1059.4,314.2 1059.9,315.1 1060.4,316.4 1060.9,315.4 1061.4,315.2 1061.9,315 1062.4,315.9" fill="none" stroke="#1a1aee" stroke-width="2.2" stroke-linejoin="round"/>
<polyline points="609.4,317.8 612.4,317.7 615.4,317.6 618.4,317.5 621.4,317.3 624.4,317.2 627.4,317.3 630.4,317.4 633.4,317.5 636.4,317.7 639.4,317.8 642.4,317.8 645.4,317.9 648.4,318 651.4,318 654.4,318.1 657.4,318.1 660.4,318.2 663.4,318.3 666.4,318.4 669.4,318.5 672.4,318.6 675.4,318.7 678.4,318.8 681.4,318.9 684.4,319.1 687.4,319.2 690.4,319.3 693.4,319.4 696.4,319.5 699.4,319.6 702.4,319.6 705.4,319.7 708.4,319.7 711.4,319.8 714.4,319.8 717.4,319.8 720.4,319.9 723.4,319.9 726.4,320 729.4,320 732.4,320.1 735.4,320.1 738.4,320.1 741.4,320.2 744.4,320.2 747.4,320.3 750.4,320.3 753.4,320.3 756.4,320.4 759.4,320.4 762.4,320.5 765.4,320.5 768.4,320.6 771.4,320.6 774.4,320.6 777.4,320.7 780.4,320.7 783.4,320.8 786.4,320.8 789.4,320.9 792.4,320.9 795.4,320.9 798.4,321 801.4,321 804.4,321.1 807.4,321.1 810.4,321.1 813.4,321.2 816.4,321.2 819.4,321.3 822.4,321.3 825.4,321.4 828.4,321.4 831.4,321.4 834.4,321.5 837.4,321.5 840.4,321.6 843.4,321.6 846.4,321.6 849.4,321.7 852.4,321.7 855.4,321.8 858.4,321.8 861.4,321.9 864.4,321.9 867.4,321.9 870.4,322 873.4,322 876.4,322.1 879.4,322.1 882.4,322.2 885.4,322.2 888.4,322.2 891.4,322.3 894.4,322.3 897.4,322.4 900.4,322.4 903.4,322.4 906.4,322.5 909.4,322.5 912.4,322.5 915.4,322.6 918.4,322.6 921.4,322.6 924.4,322.6 927.4,322.7 930.4,322.7 933.4,322.7 936.4,322.8 939.4,322.8 942.4,322.8 945.4,322.9 948.4,322.9 951.4,322.9 954.4,322.9 957.4,323 960.4,323 963.4,323 966.4,323 969.4,323 972.4,323 975.4,322.9 978.4,322.9 981.4,322.9 984.4,322.9 987.4,322.9 990.4,322.9 993.4,322.9 996.4,322.9 999.4,322.8 1002.4,322.8 1005.4,322.8 1008.4,322.8 1011.4,322.8 1014.4,322.8 1017.4,322.8 1020.4,322.8 1023.4,322.8 1026.4,322.7 1029.4,322.7 1032.4,322.7 1035.4,322.7 1038.4,322.7 1041.4,322.7 1044.4,322.7 1047.4,322.7 1050.4,322.6 1053.4,322.6 1056.4,322.6 1059.4,322.6 1062.4,322.6" fill="none" stroke="#b6a8dc" stroke-width="1.8" stroke-linejoin="round"/>
<line x1="609.5" y1="334.4" x2="609.5" y2="458.5" stroke="#333" stroke-width="1.3"/>
<line x1="609.5" y1="335.2" x2="613.5" y2="335.2" stroke="#333" stroke-width="1.2"/>
<text x="604.4" y="341.2" font-size="12.4" fill="#222" text-anchor="end">4</text>
<line x1="609.5" y1="376" x2="613.5" y2="376" stroke="#333" stroke-width="1.2"/>
<text x="604.4" y="380.8" font-size="12.4" fill="#222" text-anchor="end">2</text>
<line x1="609.5" y1="416.8" x2="613.5" y2="416.8" stroke="#333" stroke-width="1.2"/>
<text x="604.4" y="421.1" font-size="12.4" fill="#222" text-anchor="end">0</text>
<line x1="609.5" y1="457.6" x2="613.5" y2="457.6" stroke="#333" stroke-width="1.2"/>
<text x="604.4" y="460" font-size="12.4" fill="#222" text-anchor="end">-2</text>
<text transform="translate(572.4 400.5) rotate(-90)" font-size="13.2" fill="#222" text-anchor="middle"><tspan word-spacing="0">Δ </tspan>cytosolic H<tspan font-size="8.184" dy="2.6">2</tspan><tspan dy="-2.6">O</tspan><tspan font-size="8.184" dy="2.6">2</tspan></text>
<text transform="translate(589.6 400.5) rotate(-90)" font-size="13.2" fill="#222" text-anchor="middle" word-spacing="0">rel. to ZT 23 (ΔR/R<tspan font-size="8.184" dy="2.6">0</tspan><tspan dy="-2.6"> %)</tspan></text>
<rect x="609.5" y="440" width="50" height="17.5" fill="#808080"/>
<rect x="615.6" y="440" width="1.2" height="17.5" fill="#fdc22b"/>
<rect x="630.8" y="440" width="1" height="17.5" fill="#fdc22b"/>
<rect x="633" y="440" width="1.2" height="17.5" fill="#fdc22b"/>
<rect x="635" y="440" width="1.4" height="17.5" fill="#fdc22b"/>
<rect x="637.2" y="440" width="1.2" height="17.5" fill="#fdc22b"/>
<rect x="639" y="440" width="1" height="17.5" fill="#fdc22b"/>
<rect x="650.6" y="440" width="0.8" height="17.5" fill="#fdc22b"/>
<rect x="654.6" y="440" width="1" height="17.5" fill="#fdc22b"/>
<rect x="656.4" y="440" width="1.2" height="17.5" fill="#fdc22b"/>
<rect x="658.2" y="440" width="0.8" height="17.5" fill="#fdc22b"/>
<rect x="659.5" y="440" width="302.4" height="17.5" fill="#e1666b"/>
<rect x="961.9" y="440" width="100.8" height="17.5" fill="#fdc22b"/>
<rect x="961.9" y="440" width="2.1" height="17.5" fill="#808080"/>
<rect x="970.8" y="440" width="9.2" height="17.5" fill="#808080"/>
<rect x="980" y="440" width="1" height="17.5" fill="#8c8c70"/>
<rect x="985.2" y="440" width="1.4" height="17.5" fill="#2a9fe0"/>
<rect x="998.4" y="440" width="0.8" height="17.5" fill="#b09060"/>
<rect x="1004" y="440" width="2.5" height="17.5" fill="#e0a080"/>
<rect x="1010" y="440" width="5.6" height="17.5" fill="#808080"/>
<rect x="1012" y="440" width="0.6" height="17.5" fill="#fdc22b"/>
<rect x="1019.4" y="440" width="1.6" height="17.5" fill="#2a9fe0"/>
<rect x="1022" y="440" width="4" height="17.5" fill="#f6b040"/>
<rect x="1029.4" y="440" width="1.4" height="17.5" fill="#2a9fe0"/>
<text x="793" y="454.2" font-size="12.9" fill="#222" text-anchor="middle">SD</text>
<line x1="608.9" y1="457.8" x2="1063.3" y2="457.8" stroke="#333" stroke-width="1.5"/>
<line x1="609.5" y1="458" x2="609.5" y2="453.7" stroke="#333" stroke-width="1.2"/>
<text x="612.6" y="474.6" font-size="12.2" fill="#222" text-anchor="middle">23</text>
<line x1="659.5" y1="458" x2="659.5" y2="453.7" stroke="#333" stroke-width="1.2"/>
<text x="658.5" y="474.6" font-size="12.2" fill="#222" text-anchor="middle">0</text>
<line x1="709.9" y1="458" x2="709.9" y2="453.7" stroke="#333" stroke-width="1.2"/>
<text x="709" y="474.6" font-size="12.2" fill="#222" text-anchor="middle">1</text>
<line x1="760.3" y1="458" x2="760.3" y2="453.7" stroke="#333" stroke-width="1.2"/>
<text x="759.5" y="474.6" font-size="12.2" fill="#222" text-anchor="middle">2</text>
<line x1="810.7" y1="458" x2="810.7" y2="453.7" stroke="#333" stroke-width="1.2"/>
<text x="810" y="474.6" font-size="12.2" fill="#222" text-anchor="middle">3</text>
<line x1="861.1" y1="458" x2="861.1" y2="453.7" stroke="#333" stroke-width="1.2"/>
<text x="860.5" y="474.6" font-size="12.2" fill="#222" text-anchor="middle">4</text>
<line x1="911.5" y1="458" x2="911.5" y2="453.7" stroke="#333" stroke-width="1.2"/>
<text x="911" y="474.6" font-size="12.2" fill="#222" text-anchor="middle">5</text>
<line x1="961.9" y1="458" x2="961.9" y2="453.7" stroke="#333" stroke-width="1.2"/>
<text x="961.5" y="474.6" font-size="12.2" fill="#222" text-anchor="middle">6</text>
<line x1="1012.3" y1="458" x2="1012.3" y2="453.7" stroke="#333" stroke-width="1.2"/>
<text x="1012" y="474.6" font-size="12.2" fill="#222" text-anchor="middle">7</text>
<line x1="1062.7" y1="458" x2="1062.7" y2="453.7" stroke="#333" stroke-width="1.2"/>
<text x="1062.5" y="474.6" font-size="12.2" fill="#222" text-anchor="middle">8</text>
<text x="836.5" y="493.8" font-size="14.8" fill="#222" text-anchor="middle">ZT (h)</text>
<polyline points="609.4,411.1 609.8,408.4 610.2,408.9 610.6,412.5 611.1,405.5 611.5,398.9 611.9,402.1 612.4,410.6 612.8,418.8 613.2,422.6 613.6,425.7 614.1,425.9 614.5,423.8 614.9,422 615.3,422.8 615.8,425.9 616.2,426.3 616.6,427.5 617.1,427.1 617.5,420 617.9,412.3 618.3,413.2 618.8,418.9 619.2,419.9 619.6,417.6 620.1,422.2 620.5,426.4 620.9,425.7 621.3,425.5 621.8,425 622.2,425.6 622.6,427.3 623.1,422.4 623.5,423.3 623.9,424.2 624.3,421.7 624.8,419.2 625.2,419.3 625.6,418.7 626.1,413.1 626.5,415.9 626.9,418.6 627.3,410.2 627.8,404.9 628.2,403.2 628.6,404.6 629.1,407 629.5,411.3 629.9,412.5 630.3,414.6 630.8,419.4 631.2,426.3 631.6,425.3 632.1,423.7 632.5,424.9 632.9,422.6 633.3,425.3 633.8,426.9 634.2,421.9 634.6,420.2 635.1,426.6 635.5,428.7 635.9,426.1 636.3,425.1 636.8,424.1 637.2,425.9 637.6,428.4 638.1,427.4 638.5,430.2 638.9,430.4 639.3,428 639.8,429.9 640.2,430.5 640.6,428.2 641.1,428.7 641.5,432.3 641.9,428 642.3,420.5 642.8,420.8 643.2,422.6 643.6,421.7 644.1,422.8 644.5,421.2 644.9,416.2 645.3,415.2 645.8,413.3 646.2,413.5 646.6,412.9 647.1,410.7 647.5,410.3 647.9,406.8 648.3,403.9 648.8,401.1 649.2,401 649.6,406.8 650,407.8 650.5,410.7 650.9,415.4 651.3,413.8 651.8,415.5 652.2,417 652.6,418.5 653,422.9 653.5,423.2 653.9,422.2 654.3,425.9 654.8,426.3 655.2,425.3 655.6,425.5 656,427.1 656.5,428 656.9,427.9 657.3,425.3 657.8,425.5 658.2,425.9 658.6,425.2 659,425.3 659.5,420.9 659.9,419.6 660.3,425.5 660.8,426.1 661.2,425.3 661.6,417.2 662,407.7 662.5,395.9 662.9,391.8 663.3,395.5 663.8,397 664.2,399.3 664.6,397.1 665,392.2 665.5,396.7 665.9,397.5 666.3,391.2 666.8,387.7 667.2,386.6 667.6,387.5 668,388.2 668.5,386.7 668.9,391.2 669.3,390.1 669.8,385.1 670.2,386.7 670.6,383.6 671,374.3 671.5,372.1 671.9,378.8 672.3,387.1 672.8,387.7 673.2,385.9 673.6,384.7 674,379.4 674.5,380.7 674.9,389.8 675.3,385.8 675.8,381.7 676.2,382.3 676.6,385.9 677,382.9 677.5,384.5 677.9,392.6 678.3,386.5 678.8,395.8 679.2,401.5 679.6,398.8 680,391.2 680.5,384.3 680.9,394.1 681.3,403.7 681.8,408 682.2,403.5 682.6,402.2 683,403.3 683.5,404.2 683.9,411.4 684.3,402.9 684.8,395 685.2,402.2 685.6,404 686,407.5 686.5,390.9 686.9,397.7 687.3,394.1 687.7,390.5 688.2,391.9 688.6,392.3 689,394.8 689.5,386.8 689.9,387.4 690.3,389.3 690.7,383.6 691.2,385.6 691.6,381.8 692,377 692.5,381.7 692.9,380.2 693.3,397.9 693.7,373.7 694.2,378 694.6,378.8 695,376.6 695.5,382.1 695.9,383.9 696.3,373.3 696.7,374.1 697.2,367.8 697.6,371.6 698,374.7 698.5,380.5 698.9,382 699.3,380.6 699.7,382.5 700.2,383 700.6,382 701,382.7 701.5,385.9 701.9,390.8 702.3,382.6 702.7,377.3 703.2,390.3 703.6,387.4 704,380.4 704.5,382.5 704.9,376.7 705.3,380.2 705.7,384.8 706.2,390.6 706.6,388 707,375.9 707.5,381.6 707.9,384 708.3,377.7 708.7,378.4 709.2,384.4 709.6,387.9 710,383.5 710.5,377 710.9,380.1 711.3,386.6 711.7,385.4 712.2,380.2 712.6,382.2 713,384.9 713.5,383.3 713.9,383.1 714.3,375.7 714.7,375.7 715.2,375.6 715.6,375.5 716,378 716.5,377 716.9,379.8 717.3,378.1 717.7,373.2 718.2,377.2 718.6,377.2 719,374.4 719.5,378 719.9,378 720.3,374 720.7,372.2 721.2,370.2 721.6,371.8 722,376 722.4,381.7 722.9,384.3 723.3,377.6 723.7,379.6 724.2,384.5 724.6,375.2 725,372.5 725.4,381.8 725.9,388.3 726.3,387.4 726.7,373 727.2,370.2 727.6,375.5 728,373.1 728.4,376.5 728.9,377.4 729.3,375.6 729.7,377.6 730.2,374.4 730.6,375.9 731,381.4 731.4,380.7 731.9,374.3 732.3,373.6 732.7,371.6 733.2,374.2 733.6,383 734,387 734.4,386.7 734.9,377.9 735.3,372.7 735.7,376.4 736.2,380.6 736.6,373.1 737,373.3 737.4,377.8 737.9,374.5 738.3,378.1 738.7,376.5 739.2,374.3 739.6,376 740,376.6 740.4,378.4 740.9,373.9 741.3,374.3 741.7,384.3 742.2,386.1 742.6,381.8 743,381.8 743.4,380.2 743.9,385.1 744.3,380.3 744.7,378.1 745.2,379.9 745.6,378.2 746,383.3 746.4,382.4 746.9,382.2 747.3,379.9 747.7,374.7 748.2,370.6 748.6,368.4 749,377.9 749.4,381.6 749.9,376 750.3,378.2 750.7,378.7 751.2,378.2 751.6,382.7 752,385.3 752.4,378.4 752.9,375.8 753.3,374.3 753.7,375.4 754.2,381.5 754.6,379.6 755,377.2 755.4,374.4 755.9,376.2 756.3,376.6 756.7,373.6 757.1,378.8 757.6,380.4 758,378 758.4,374.1 758.9,369.5 759.3,370.4 759.7,375.8 760.1,375.5 760.6,373.2 761,377.3 761.4,375.3 761.9,375.7 762.3,378.9 762.7,379.6 763.1,382.9 763.6,378.4 764,378.9 764.4,382 764.9,378 765.3,374.3 765.7,375.1 766.1,374.2 766.6,374.6 767,379.2 767.4,379.1 767.9,378.1 768.3,377.6 768.7,380.4 769.1,380.3 769.6,378.4 770,372.5 770.4,373.1 770.9,375.5 771.3,375.1 771.7,373.5 772.1,371.1 772.6,375.8 773,371.8 773.4,365.3 773.9,364.2 774.3,366 774.7,370.7 775.1,376 775.6,377.8 776,377.5 776.4,374.4 776.9,374.1 777.3,375.1 777.7,373.2 778.1,374.4 778.6,377.2 779,380.3 779.4,370.2 779.9,367.3 780.3,380.6 780.7,384.2 781.1,381.2 781.6,371.5 782,369.1 782.4,377.9 782.9,373 783.3,376.1 783.7,378.1 784.1,363.3 784.6,366.9 785,372.7 785.4,370.7 785.9,382.9 786.3,383.7 786.7,376 787.1,385.7 787.6,380.8 788,373.6 788.4,375 788.9,371.5 789.3,374.2 789.7,383 790.1,382.2 790.6,376.9 791,379 791.4,378.9 791.9,374.9 792.3,367.1 792.7,366.5 793.1,370.4 793.6,367 794,366 794.4,369.9 794.8,373.2 795.3,376.1 795.7,370.7 796.1,366.7 796.6,365.5 797,367.3 797.4,372.7 797.8,368.5 798.3,361.5 798.7,362.9 799.1,369.2 799.6,366.6 800,368.6 800.4,366.1 800.8,365.5 801.3,373.8 801.7,369.2 802.1,365.6 802.6,361.1 803,356.3 803.4,358.8 803.8,367.5 804.3,368.8 804.7,364.6 805.1,370.3 805.6,361.4 806,360.9 806.4,369.5 806.8,366 807.3,364.6 807.7,360.8 808.1,357 808.6,361.3 809,360.9 809.4,354.4 809.8,354.4 810.3,351 810.7,353.4 811.1,359.9 811.6,360.1 812,363 812.4,362.1 812.8,355.3 813.3,353.5 813.7,357.4 814.1,359.1 814.6,355.1 815,352 815.4,362.6 815.8,371.2 816.3,362.2 816.7,355.8 817.1,357.1 817.6,356.8 818,362.8 818.4,370 818.8,365.2 819.3,365.4 819.7,366.8 820.1,356.6 820.6,362.9 821,368 821.4,357.4 821.8,355.3 822.3,362.1 822.7,369.5 823.1,368.3 823.6,369.6 824,369.4 824.4,366.7 824.8,368.4 825.3,364.9 825.7,364.2 826.1,369 826.6,369.8 827,368.8 827.4,369.2 827.8,370.2 828.3,366.7 828.7,366.7 829.1,366.2 829.5,362.9 830,363.4 830.4,364.3 830.8,371.9 831.3,365.7 831.7,363 832.1,374.3 832.5,372.6 833,368.7 833.4,375.9 833.8,381.1 834.3,376 834.7,373 835.1,375.5 835.5,377.5 836,374.3 836.4,374.6 836.8,373.4 837.3,369.4 837.7,372.4 838.1,367.8 838.5,361.3 839,371.6 839.4,376.8 839.8,367.5 840.3,369.9 840.7,381.6 841.1,382.3 841.5,377.7 842,377 842.4,373.9 842.8,369.8 843.3,368.9 843.7,377.2 844.1,381.5 844.5,372 845,371.6 845.4,378.6 845.8,377.9 846.3,367 846.7,370.5 847.1,378.8 847.5,375.2 848,376.6 848.4,375.7 848.8,374.4 849.3,378 849.7,377.2 850.1,374.4 850.5,374.8 851,372.2 851.4,368.8 851.8,367.8 852.3,367.5 852.7,372.9 853.1,373.8 853.5,370.4 854,373.9 854.4,372.7 854.8,370 855.3,370.9 855.7,368.6 856.1,371.7 856.5,373.3 857,372 857.4,373.1 857.8,372 858.3,368 858.7,364.3 859.1,365 859.5,370.6 860,371.4 860.4,362.2 860.8,358.8 861.3,362 861.7,365.2 862.1,369.4 862.5,368.7 863,370.7 863.4,372.1 863.8,371.7 864.2,374.1 864.7,374 865.1,369.9 865.5,366.5 866,366.5 866.4,363 866.8,362.7 867.2,366.6 867.7,366.4 868.1,368.1 868.5,370.5 869,364.3 869.4,363.1 869.8,364.3 870.2,363.2 870.7,356 871.1,361.6 871.5,372.2 872,361.8 872.4,361.8 872.8,366 873.2,356.9 873.7,362.4 874.1,367.6 874.5,359.3 875,354.6 875.4,358.6 875.8,360.2 876.2,359.1 876.7,359.6 877.1,359.6 877.5,358.8 878,355 878.4,353.5 878.8,356.7 879.2,361.7 879.7,359.1 880.1,353.3 880.5,352.5 881,358.1 881.4,359.7 881.8,357.9 882.2,354.6 882.7,355 883.1,354 883.5,362.9 884,363.5 884.4,367.1 884.8,368.8 885.2,367.5 885.7,369.3 886.1,369.8 886.5,378.2 887,376.9 887.4,367.4 887.8,370.4 888.2,372.9 888.7,377.1 889.1,376.2 889.5,368.7 890,366.5 890.4,367.5 890.8,369.3 891.2,365.4 891.7,359.7 892.1,367.9 892.5,367.5 893,362 893.4,371.6 893.8,374.1 894.2,368.8 894.7,361.8 895.1,364 895.5,367.2 896,368.3 896.4,372.6 896.8,366.1 897.2,366.8 897.7,369.9 898.1,365.4 898.5,364 899,364.7 899.4,364.6 899.8,358.5 900.2,361.3 900.7,365.5 901.1,366.7 901.5,369.1 901.9,368.2 902.4,374.4 902.8,378.1 903.2,369.3 903.7,372.1 904.1,376.1 904.5,368.8 904.9,364.1 905.4,361.6 905.8,362 906.2,365.5 906.7,371.1 907.1,371.4 907.5,367.5 907.9,361.6 908.4,357.5 908.8,361.7 909.2,359.9 909.7,355.9 910.1,361.4 910.5,367.3 910.9,364.3 911.4,356.9 911.8,359.1 912.2,365.3 912.7,369 913.1,357.2 913.5,354.3 913.9,354.5 914.4,349.5 914.8,352.6 915.2,349.4 915.7,351.7 916.1,355.7 916.5,361.4 916.9,363.9 917.4,359.6 917.8,354.4 918.2,354.4 918.7,350.4 919.1,347.7 919.5,350.4 919.9,349.1 920.4,350.6 920.8,351.8 921.2,348.9 921.7,347.6 922.1,354.9 922.5,363.8 922.9,356.5 923.4,349.3 923.8,354.9 924.2,357.7 924.7,353.7 925.1,354.1 925.5,354 925.9,346.9 926.4,347.3 926.8,349.8 927.2,356.2 927.7,351 928.1,347 928.5,350.2 928.9,352.9 929.4,356.8 929.8,357.5 930.2,356 930.7,354.6 931.1,361 931.5,365.6 931.9,363.3 932.4,363 932.8,359.5 933.2,351.7 933.7,350.2 934.1,355.7 934.5,351.6 934.9,351.7 935.4,357.6 935.8,358.5 936.2,365.3 936.6,358.6 937.1,356.8 937.5,352.3 937.9,362.4 938.4,362.4 938.8,358.7 939.2,356.8 939.6,354.1 940.1,355.8 940.5,355.7 940.9,353 941.4,358.8 941.8,363 942.2,360.4 942.6,371.5 943.1,362.6 943.5,366.7 943.9,372 944.4,365.7 944.8,363.1 945.2,363.4 945.6,357.6 946.1,360.3 946.5,367.1 946.9,363.1 947.4,359.5 947.8,366.9 948.2,366.3 948.6,369.8 949.1,375.3 949.5,367.5 949.9,362.7 950.4,359.3 950.8,359.5 951.2,358.4 951.6,356 952.1,364 952.5,368.9 952.9,366.3 953.4,357.1 953.8,352.8 954.2,355.9 954.6,356.9 955.1,363.9 955.5,364.8 955.9,360.4 956.4,363.2 956.8,358.8 957.2,352.7 957.6,351.9 958.1,354.1 958.5,363 958.9,363.1 959.4,363.7 959.8,365.3 960.2,359.6 960.6,358.2 961.1,360.6 961.5,360.9 961.9,363.5 962.4,366.6 962.8,368.7 963.2,369.5 963.6,370.5 964.1,369.6 964.5,370.2 964.9,372.6 965.4,371.3 965.8,370.9 966.2,372.5 966.6,374.1 967.1,376.5 967.5,377.7 967.9,376.3 968.4,374.3 968.8,377.7 969.2,379.5 969.6,377.1 970.1,380 970.5,379.2 970.9,377.5 971.3,380 971.8,377.4 972.2,374.7 972.6,375.1 973.1,375.7 973.5,377.9 973.9,379.2 974.3,380.8 974.8,379 975.2,375.5 975.6,376.3 976.1,375.5 976.5,375 976.9,372.7 977.3,369.8 977.8,369.2 978.2,366.9 978.6,364.5 979.1,364.2 979.5,367.7 979.9,368.5 980.3,371 980.8,372.9 981.2,374.1 981.6,377.2 982.1,379.8 982.5,379.5 982.9,381.8 983.3,380.3 983.8,376.4 984.2,377.4 984.6,380.2 985.1,380.5 985.5,380.3 985.9,383.2 986.3,384.8 986.8,383.5 987.2,382.6 987.6,382.8 988.1,383.6 988.5,382.9 988.9,383 989.3,383.5 989.8,384.9 990.2,384.9 990.6,382.3 991.1,383 991.5,385.5 991.9,386.3 992.3,384.5 992.8,384.5 993.2,382.7 993.6,382.3 994.1,383.9 994.5,382.5 994.9,383.1 995.3,384.2 995.8,385.2 996.2,386.3 996.6,388.1 997.1,387.5 997.5,387.3 997.9,386.7 998.3,384.4 998.8,384.4 999.2,385.2 999.6,385.5 1000.1,384.9 1000.5,386.6 1000.9,387.1 1001.3,387.7 1001.8,388.7 1002.2,387.5 1002.6,386.5 1003.1,386.8 1003.5,387 1003.9,388 1004.3,387.6 1004.8,388.7 1005.2,390.9 1005.6,392.3 1006.1,396.3 1006.5,398.3 1006.9,398.6 1007.3,397.1 1007.8,396.7 1008.2,400.9 1008.6,398.3 1009,394.5 1009.5,393.5 1009.9,392.8 1010.3,389.8 1010.8,386.8 1011.2,386.6 1011.6,382.7 1012,378.5 1012.5,377.8 1012.9,381.6 1013.3,385.7 1013.8,383.8 1014.2,380 1014.6,383.4 1015,385.2 1015.5,383.6 1015.9,384.2 1016.3,386.4 1016.8,387.1 1017.2,384.2 1017.6,382.7 1018,382 1018.5,381.3 1018.9,382.6 1019.3,380.8 1019.8,378.7 1020.2,379.5 1020.6,380.8 1021,382.3 1021.5,381.2 1021.9,383.8 1022.3,388.5 1022.8,388.3 1023.2,387.6 1023.6,387.7 1024,389.3 1024.5,389.2 1024.9,388.3 1025.3,389.7 1025.8,387.6 1026.2,386.4 1026.6,386.5 1027,384.6 1027.5,386.2 1027.9,387.2 1028.3,386.3 1028.8,388.5 1029.2,390.1 1029.6,389.2 1030,388.8 1030.5,388.1 1030.9,386.7 1031.3,388.6 1031.8,392.4 1032.2,392.9 1032.6,391.9 1033,393.9 1033.5,394.1 1033.9,392.8 1034.3,394.2 1034.8,395.9 1035.2,394 1035.6,392.9 1036,393.2 1036.5,391.8 1036.9,390.8 1037.3,393.4 1037.8,397.1 1038.2,397 1038.6,394.3 1039,393.5 1039.5,396.2 1039.9,396.7 1040.3,397.4 1040.8,394 1041.2,390.5 1041.6,390.1 1042,391.1 1042.5,389.3 1042.9,383.2 1043.3,382.5 1043.7,380.9 1044.2,381.3 1044.6,386.4 1045,387.9 1045.5,390.5 1045.9,395.2 1046.3,393.7 1046.7,393.1 1047.2,393.9 1047.6,393.2 1048,392.1 1048.5,391 1048.9,393.4 1049.3,392.6 1049.7,390.6 1050.2,390.6 1050.6,388.6 1051,387.6 1051.5,387 1051.9,385 1052.3,384.8 1052.7,384.6 1053.2,385.4 1053.6,388.6 1054,388.5 1054.5,387.4 1054.9,388.8 1055.3,392.2 1055.7,391.5 1056.2,389.2 1056.6,392.9 1057,393.8 1057.5,392.3 1057.9,393.4 1058.3,394.4 1058.7,396.1 1059.2,394.3 1059.6,392.8 1060,393.9 1060.5,391.1 1060.9,387.9 1061.3,390.4 1061.7,395.5 1062.2,396.3 1062.6,394.7" fill="none" stroke="#a75bbf" stroke-width="2.1" stroke-linejoin="round"/>
</g>
<g id="panelI">
<text x="5.6" y="528.9" font-size="18" fill="#000" font-weight="bold">I</text>
<rect x="78.9" y="542" width="30" height="236.6" fill="#f0f0f0"/>
<rect x="108.9" y="760.2" width="189.6" height="18.4" fill="#e1666b"/>
<rect x="298.5" y="760.2" width="63.2" height="18.4" fill="#fde59a"/>
<text x="219.4" y="772" font-size="12.0" fill="#222" text-anchor="middle">SD</text>
<text x="325" y="772" font-size="12.0" fill="#222" text-anchor="middle">SR</text>
<line x1="78.9" y1="660.3" x2="361.7" y2="660.3" stroke="#222" stroke-width="1" stroke-dasharray="3.4 2.2"/>
<line x1="78.9" y1="541.5" x2="78.9" y2="779.2" stroke="#333" stroke-width="1.3"/>
<line x1="78.3" y1="778.6" x2="362.3" y2="778.6" stroke="#333" stroke-width="1.4"/>
<line x1="78.9" y1="542" x2="82.9" y2="542" stroke="#333" stroke-width="1.2"/>
<text x="72.3" y="546.5" font-size="12.4" fill="#222" text-anchor="end">4</text>
<line x1="78.9" y1="601.2" x2="82.9" y2="601.2" stroke="#333" stroke-width="1.2"/>
<text x="72.3" y="605.7" font-size="12.4" fill="#222" text-anchor="end">2</text>
<line x1="78.9" y1="660.3" x2="82.9" y2="660.3" stroke="#333" stroke-width="1.2"/>
<text x="72.3" y="664.8" font-size="12.4" fill="#222" text-anchor="end">0</text>
<line x1="78.9" y1="719.4" x2="82.9" y2="719.4" stroke="#333" stroke-width="1.2"/>
<text x="72.3" y="723.9" font-size="12.4" fill="#222" text-anchor="end">-2</text>
<line x1="78.9" y1="778.6" x2="82.9" y2="778.6" stroke="#333" stroke-width="1.2"/>
<text x="72.3" y="783.1" font-size="12.4" fill="#222" text-anchor="end">-4</text>
<line x1="78.9" y1="778.6" x2="78.9" y2="774.6" stroke="#333" stroke-width="1.2"/>
<text x="79.9" y="793.8" font-size="12.4" fill="#222" text-anchor="middle">23</text>
<line x1="108.9" y1="778.6" x2="108.9" y2="774.6" stroke="#333" stroke-width="1.2"/>
<text x="110.9" y="793.8" font-size="12.4" fill="#222" text-anchor="middle">0</text>
<line x1="140.5" y1="778.6" x2="140.5" y2="774.6" stroke="#333" stroke-width="1.2"/>
<text x="141.1" y="793.8" font-size="12.4" fill="#222" text-anchor="middle">1</text>
<line x1="172.1" y1="778.6" x2="172.1" y2="774.6" stroke="#333" stroke-width="1.2"/>
<text x="172.7" y="793.8" font-size="12.4" fill="#222" text-anchor="middle">2</text>
<line x1="203.7" y1="778.6" x2="203.7" y2="774.6" stroke="#333" stroke-width="1.2"/>
<text x="204.3" y="793.8" font-size="12.4" fill="#222" text-anchor="middle">3</text>
<line x1="235.3" y1="778.6" x2="235.3" y2="774.6" stroke="#333" stroke-width="1.2"/>
<text x="235.9" y="793.8" font-size="12.4" fill="#222" text-anchor="middle">4</text>
<line x1="266.9" y1="778.6" x2="266.9" y2="774.6" stroke="#333" stroke-width="1.2"/>
<text x="267.5" y="793.8" font-size="12.4" fill="#222" text-anchor="middle">5</text>
<line x1="298.5" y1="778.6" x2="298.5" y2="774.6" stroke="#333" stroke-width="1.2"/>
<text x="299.1" y="793.8" font-size="12.4" fill="#222" text-anchor="middle">6</text>
<line x1="330.1" y1="778.6" x2="330.1" y2="774.6" stroke="#333" stroke-width="1.2"/>
<text x="330.7" y="793.8" font-size="12.4" fill="#222" text-anchor="middle">7</text>
<line x1="361.7" y1="778.6" x2="361.7" y2="774.6" stroke="#333" stroke-width="1.2"/>
<text x="362.3" y="793.8" font-size="12.4" fill="#222" text-anchor="middle">8</text>
<line x1="96.9" y1="660.3" x2="96.9" y2="660.3" stroke="#9e0b50" stroke-width="1.3"/>
<line x1="127.7" y1="647" x2="127.7" y2="660" stroke="#9e0b50" stroke-width="1.3"/>
<line x1="159" y1="645.8" x2="159" y2="654.7" stroke="#9e0b50" stroke-width="1.3"/>
<line x1="190.1" y1="644.3" x2="190.1" y2="665" stroke="#9e0b50" stroke-width="1.3"/>
<line x1="221.1" y1="641.1" x2="221.1" y2="648.2" stroke="#9e0b50" stroke-width="1.3"/>
<line x1="251.1" y1="639" x2="251.1" y2="656.8" stroke="#9e0b50" stroke-width="1.3"/>
<line x1="282.4" y1="611.2" x2="282.4" y2="643.7" stroke="#9e0b50" stroke-width="1.3"/>
<line x1="312.7" y1="615.1" x2="312.7" y2="632.8" stroke="#9e0b50" stroke-width="1.3"/>
<line x1="343.4" y1="619.8" x2="343.4" y2="640.5" stroke="#9e0b50" stroke-width="1.3"/>
<line x1="96.9" y1="660.3" x2="96.9" y2="660.3" stroke="#9e0b50" stroke-width="1.3"/>
<line x1="127.7" y1="658.5" x2="127.7" y2="664.4" stroke="#9e0b50" stroke-width="1.3"/>
<line x1="159" y1="629.5" x2="159" y2="636.6" stroke="#9e0b50" stroke-width="1.3"/>
<line x1="190.1" y1="621.9" x2="190.1" y2="629.5" stroke="#9e0b50" stroke-width="1.3"/>
<line x1="221.1" y1="613.6" x2="221.1" y2="621.3" stroke="#9e0b50" stroke-width="1.3"/>
<line x1="251.1" y1="599.4" x2="251.1" y2="612.4" stroke="#9e0b50" stroke-width="1.3"/>
<line x1="282.4" y1="595.8" x2="282.4" y2="608.8" stroke="#9e0b50" stroke-width="1.3"/>
<line x1="312.7" y1="592" x2="312.7" y2="606.2" stroke="#9e0b50" stroke-width="1.3"/>
<line x1="343.4" y1="600.6" x2="343.4" y2="623.6" stroke="#9e0b50" stroke-width="1.3"/>
<polyline points="96.9,660.3 127.7,653.5 159,650.2 190.1,654.7 221.1,644.6 251.1,647.9 282.4,627.5 312.7,623.9 343.4,630.1" fill="none" stroke="#9e0b50" stroke-width="1.35"/>
<polyline points="96.9,660.3 127.7,661.5 159,633.1 190.1,625.4 221.1,617.1 251.1,605.3 282.4,602.3 312.7,599.1 343.4,613" fill="none" stroke="#9e0b50" stroke-width="1.35"/>
<circle cx="96.9" cy="660.3" r="4.2" fill="#fff" stroke="#9e0b50" stroke-width="1.2"/>
<circle cx="127.7" cy="653.5" r="4.2" fill="#fff" stroke="#9e0b50" stroke-width="1.2"/>
<circle cx="159" cy="650.2" r="4.2" fill="#fff" stroke="#9e0b50" stroke-width="1.2"/>
<circle cx="190.1" cy="654.7" r="4.2" fill="#fff" stroke="#9e0b50" stroke-width="1.2"/>
<circle cx="221.1" cy="644.6" r="4.2" fill="#fff" stroke="#9e0b50" stroke-width="1.2"/>
<circle cx="251.1" cy="647.9" r="4.2" fill="#fff" stroke="#9e0b50" stroke-width="1.2"/>
<circle cx="282.4" cy="627.5" r="4.2" fill="#fff" stroke="#9e0b50" stroke-width="1.2"/>
<circle cx="312.7" cy="623.9" r="4.2" fill="#fff" stroke="#9e0b50" stroke-width="1.2"/>
<circle cx="343.4" cy="630.1" r="4.2" fill="#fff" stroke="#9e0b50" stroke-width="1.2"/>
<circle cx="96.9" cy="660.3" r="4.8" fill="#9e0b50"/>
<circle cx="127.7" cy="661.5" r="4.8" fill="#9e0b50"/>
<circle cx="159" cy="633.1" r="4.8" fill="#9e0b50"/>
<circle cx="190.1" cy="625.4" r="4.8" fill="#9e0b50"/>
<circle cx="221.1" cy="617.1" r="4.8" fill="#9e0b50"/>
<circle cx="251.1" cy="605.3" r="4.8" fill="#9e0b50"/>
<circle cx="282.4" cy="602.3" r="4.8" fill="#9e0b50"/>
<circle cx="312.7" cy="599.1" r="4.8" fill="#9e0b50"/>
<circle cx="343.4" cy="613" r="4.8" fill="#9e0b50"/>
<polygon points="159,619.9 159.8,622.1 162.1,622.2 160.2,623.6 160.9,625.9 159,624.5 157,625.9 157.7,623.6 155.8,622.2 158.2,622.1" fill="#111"/>
<polygon points="190.1,612.7 190.9,614.9 193.3,615 191.3,616.4 192.1,618.7 190.1,617.3 188.2,618.7 188.9,616.4 187,615 189.3,614.9" fill="#111"/>
<polygon points="221.1,603.9 221.8,606.1 224.2,606.2 222.3,607.6 223,609.9 221.1,608.5 219.1,609.9 219.8,607.6 217.9,606.2 220.3,606.1" fill="#111"/>
<polygon points="251.1,591.9 251.9,594.1 254.2,594.2 252.3,595.6 253,597.9 251.1,596.5 249.2,597.9 249.9,595.6 248,594.2 250.3,594.1" fill="#111"/>
<line x1="139" y1="523.2" x2="161" y2="523.2" stroke="#9e0b50" stroke-width="1.1"/>
<circle cx="150" cy="523.2" r="4.7" fill="#9e0b50"/>
<text x="167" y="527.6" font-size="14.95" fill="#222">SD: PZ vGAT</text>
<line x1="139" y1="551.4" x2="161" y2="551.4" stroke="#9e0b50" stroke-width="1.1"/>
<circle cx="150" cy="551.4" r="4.1" fill="#fff" stroke="#9e0b50" stroke-width="1.3"/>
<text x="167" y="556" font-size="14.95" fill="#222">Ctrl: PZ vGAT</text>
<path d="M327.8 559.8 L327.8 534.5 A25.3 25.3 0 0 1 338.9 537 Z" fill="#00b0f0"/>
<path d="M327.8 559.8 L338.9 537 A25.3 25.3 0 0 1 339.7 582.1 Z" fill="#808080"/>
<path d="M327.8 559.8 L339.7 582.1 A25.3 25.3 0 1 1 327.8 534.5 Z" fill="#ffc000"/>
<text x="327.2" y="522.8" font-size="12.9" fill="#222" text-anchor="middle">SR 0-2</text>
<text x="330" y="534.1" font-size="9.7" fill="#222">7.2%</text>
<text x="336.7" y="563.8" font-size="9.7" fill="#222">35%</text>
<text x="300.3" y="566.1" font-size="9.7" fill="#222">57.8%</text>
<text transform="translate(36 656.1) rotate(-90)" font-size="14.9" fill="#222" text-anchor="middle"><tspan word-spacing="2">Δ </tspan>cytosolic H<tspan font-size="9.238" dy="2.6">2</tspan><tspan dy="-2.6">O</tspan><tspan font-size="9.238" dy="2.6">2</tspan></text>
<text transform="translate(56 656.6) rotate(-90)" font-size="14.9" fill="#222" text-anchor="middle" word-spacing="0">rel. to ZT 23 (ΔR/R<tspan font-size="9.238" dy="2.6">0</tspan><tspan dy="-2.6"> %)</tspan></text>
<text x="210" y="813.6" font-size="14.8" fill="#222" text-anchor="middle">ZT (h)</text>
</g>
<g id="panelJ">
<text x="402" y="529.4" font-size="18" fill="#000" font-weight="bold">J</text>
<rect x="462.9" y="542" width="29.6" height="236.6" fill="#f0f0f0"/>
<rect x="492.5" y="760.2" width="190.4" height="18.4" fill="#e1666b"/>
<rect x="682.9" y="760.2" width="63.5" height="18.4" fill="#fde59a"/>
<text x="571.4" y="772" font-size="12.0" fill="#222" text-anchor="middle">SD</text>
<text x="715.5" y="772" font-size="12.0" fill="#222" text-anchor="middle">SR</text>
<line x1="462.9" y1="660.3" x2="746.4" y2="660.3" stroke="#222" stroke-width="1" stroke-dasharray="3.4 2.2"/>
<line x1="462.9" y1="541.5" x2="462.9" y2="779.2" stroke="#333" stroke-width="1.3"/>
<line x1="462.3" y1="778.6" x2="747" y2="778.6" stroke="#333" stroke-width="1.4"/>
<line x1="462.9" y1="542" x2="466.9" y2="542" stroke="#333" stroke-width="1.2"/>
<text x="456.3" y="546.5" font-size="12.4" fill="#222" text-anchor="end">4</text>
<line x1="462.9" y1="601.2" x2="466.9" y2="601.2" stroke="#333" stroke-width="1.2"/>
<text x="456.3" y="605.7" font-size="12.4" fill="#222" text-anchor="end">2</text>
<line x1="462.9" y1="660.3" x2="466.9" y2="660.3" stroke="#333" stroke-width="1.2"/>
<text x="456.3" y="664.8" font-size="12.4" fill="#222" text-anchor="end">0</text>
<line x1="462.9" y1="719.4" x2="466.9" y2="719.4" stroke="#333" stroke-width="1.2"/>
<text x="456.3" y="723.9" font-size="12.4" fill="#222" text-anchor="end">-2</text>
<line x1="462.9" y1="778.6" x2="466.9" y2="778.6" stroke="#333" stroke-width="1.2"/>
<text x="456.3" y="783.1" font-size="12.4" fill="#222" text-anchor="end">-4</text>
<line x1="462.9" y1="778.6" x2="462.9" y2="774.6" stroke="#333" stroke-width="1.2"/>
<text x="463.4" y="793.8" font-size="12.4" fill="#222" text-anchor="middle">23</text>
<line x1="492.5" y1="778.6" x2="492.5" y2="774.6" stroke="#333" stroke-width="1.2"/>
<text x="493.1" y="793.8" font-size="12.4" fill="#222" text-anchor="middle">0</text>
<line x1="524.2" y1="778.6" x2="524.2" y2="774.6" stroke="#333" stroke-width="1.2"/>
<text x="524.8" y="793.8" font-size="12.4" fill="#222" text-anchor="middle">1</text>
<line x1="556" y1="778.6" x2="556" y2="774.6" stroke="#333" stroke-width="1.2"/>
<text x="556.6" y="793.8" font-size="12.4" fill="#222" text-anchor="middle">2</text>
<line x1="587.7" y1="778.6" x2="587.7" y2="774.6" stroke="#333" stroke-width="1.2"/>
<text x="588.3" y="793.8" font-size="12.4" fill="#222" text-anchor="middle">3</text>
<line x1="619.5" y1="778.6" x2="619.5" y2="774.6" stroke="#333" stroke-width="1.2"/>
<text x="620.1" y="793.8" font-size="12.4" fill="#222" text-anchor="middle">4</text>
<line x1="651.2" y1="778.6" x2="651.2" y2="774.6" stroke="#333" stroke-width="1.2"/>
<text x="651.8" y="793.8" font-size="12.4" fill="#222" text-anchor="middle">5</text>
<line x1="682.9" y1="778.6" x2="682.9" y2="774.6" stroke="#333" stroke-width="1.2"/>
<text x="683.5" y="793.8" font-size="12.4" fill="#222" text-anchor="middle">6</text>
<line x1="714.7" y1="778.6" x2="714.7" y2="774.6" stroke="#333" stroke-width="1.2"/>
<text x="715.3" y="793.8" font-size="12.4" fill="#222" text-anchor="middle">7</text>
<line x1="746.4" y1="778.6" x2="746.4" y2="774.6" stroke="#333" stroke-width="1.2"/>
<text x="747" y="793.8" font-size="12.4" fill="#222" text-anchor="middle">8</text>
<line x1="506.5" y1="669.5" x2="506.5" y2="690.2" stroke="#a75bbf" stroke-width="1.3"/>
<line x1="539" y1="678.9" x2="539" y2="701.4" stroke="#a75bbf" stroke-width="1.3"/>
<line x1="571.4" y1="670.1" x2="571.4" y2="714.4" stroke="#a75bbf" stroke-width="1.3"/>
<line x1="603.3" y1="664.4" x2="603.3" y2="676.3" stroke="#a75bbf" stroke-width="1.3"/>
<line x1="635.8" y1="659.4" x2="635.8" y2="687.5" stroke="#a75bbf" stroke-width="1.3"/>
<line x1="667.7" y1="677.5" x2="667.7" y2="718.8" stroke="#a75bbf" stroke-width="1.3"/>
<line x1="700.1" y1="676.3" x2="700.1" y2="714.7" stroke="#a75bbf" stroke-width="1.3"/>
<line x1="732.6" y1="668.9" x2="732.6" y2="710.3" stroke="#a75bbf" stroke-width="1.3"/>
<line x1="473.8" y1="660.3" x2="473.8" y2="660.3" stroke="#a75bbf" stroke-width="1.3"/>
<line x1="506.5" y1="615.9" x2="506.5" y2="633.7" stroke="#a75bbf" stroke-width="1.3"/>
<line x1="539" y1="601.2" x2="539" y2="621.9" stroke="#a75bbf" stroke-width="1.3"/>
<line x1="571.4" y1="589.6" x2="571.4" y2="616.2" stroke="#a75bbf" stroke-width="1.3"/>
<line x1="603.3" y1="590.2" x2="603.3" y2="616.8" stroke="#a75bbf" stroke-width="1.3"/>
<line x1="635.8" y1="581.9" x2="635.8" y2="604.4" stroke="#a75bbf" stroke-width="1.3"/>
<line x1="667.7" y1="574.5" x2="667.7" y2="599.4" stroke="#a75bbf" stroke-width="1.3"/>
<line x1="700.1" y1="585.5" x2="700.1" y2="608" stroke="#a75bbf" stroke-width="1.3"/>
<line x1="732.6" y1="611.5" x2="732.6" y2="638.1" stroke="#a75bbf" stroke-width="1.3"/>
<polyline points="506.5,679.8 539,690.2 571.4,692.2 603.3,670.4 635.8,674.2 667.7,698.1 700.1,695.5 732.6,689.6" fill="none" stroke="#a75bbf" stroke-width="1.35"/>
<polyline points="473.8,660.3 506.5,624.8 539,611.5 571.4,602.9 603.3,603.5 635.8,593.2 667.7,587 700.1,596.7 732.6,624.8" fill="none" stroke="#a75bbf" stroke-width="1.35"/>
<circle cx="506.5" cy="679.8" r="4.2" fill="#fff" stroke="#a75bbf" stroke-width="1.2"/>
<circle cx="539" cy="690.2" r="4.2" fill="#fff" stroke="#a75bbf" stroke-width="1.2"/>
<circle cx="571.4" cy="692.2" r="4.2" fill="#fff" stroke="#a75bbf" stroke-width="1.2"/>
<circle cx="603.3" cy="670.4" r="4.2" fill="#fff" stroke="#a75bbf" stroke-width="1.2"/>
<circle cx="635.8" cy="674.2" r="4.2" fill="#fff" stroke="#a75bbf" stroke-width="1.2"/>
<circle cx="667.7" cy="698.1" r="4.2" fill="#fff" stroke="#a75bbf" stroke-width="1.2"/>
<circle cx="700.1" cy="695.5" r="4.2" fill="#fff" stroke="#a75bbf" stroke-width="1.2"/>
<circle cx="732.6" cy="689.6" r="4.2" fill="#fff" stroke="#a75bbf" stroke-width="1.2"/>
<circle cx="473.8" cy="660.3" r="4.8" fill="#a75bbf"/>
<circle cx="506.5" cy="624.8" r="4.8" fill="#a75bbf"/>
<circle cx="539" cy="611.5" r="4.8" fill="#a75bbf"/>
<circle cx="571.4" cy="602.9" r="4.8" fill="#a75bbf"/>
<circle cx="603.3" cy="603.5" r="4.8" fill="#a75bbf"/>
<circle cx="635.8" cy="593.2" r="4.8" fill="#a75bbf"/>
<circle cx="667.7" cy="587" r="4.8" fill="#a75bbf"/>
<circle cx="700.1" cy="596.7" r="4.8" fill="#a75bbf"/>
<circle cx="732.6" cy="624.8" r="4.8" fill="#a75bbf"/>
<polygon points="506.5,634.1 507.2,636.3 509.6,636.4 507.7,637.8 508.4,640.1 506.5,638.7 504.5,640.1 505.2,637.8 503.3,636.4 505.7,636.3" fill="#111"/>
<polygon points="539,623.9 539.8,626.1 542.1,626.2 540.2,627.6 540.9,629.9 539,628.5 537.1,629.9 537.8,627.6 535.9,626.2 538.2,626.1" fill="#111"/>
<polygon points="571.4,620.2 572.1,622.4 574.5,622.5 572.6,623.9 573.3,626.2 571.4,624.8 569.4,626.2 570.1,623.9 568.2,622.5 570.6,622.4" fill="#111"/>
<polygon points="603.3,618.9 604,621.1 606.4,621.2 604.5,622.6 605.2,624.9 603.3,623.5 601.3,624.9 602,622.6 600.1,621.2 602.5,621.1" fill="#111"/>
<polygon points="635.8,606.3 636.6,608.5 638.9,608.6 637,610 637.7,612.3 635.8,610.9 633.9,612.3 634.6,610 632.7,608.6 635,608.5" fill="#111"/>
<polygon points="667.7,603.2 668.5,605.4 670.8,605.5 668.9,606.9 669.6,609.2 667.7,607.8 665.8,609.2 666.5,606.9 664.6,605.5 666.9,605.4" fill="#111"/>
<polygon points="700.1,610.9 700.8,613.1 703.2,613.2 701.3,614.6 702,616.9 700.1,615.5 698.1,616.9 698.8,614.6 696.9,613.2 699.3,613.1" fill="#111"/>
<polygon points="732.6,638.1 733.4,640.3 735.8,640.4 733.8,641.8 734.6,644.1 732.6,642.7 730.7,644.1 731.4,641.8 729.5,640.4 731.8,640.3" fill="#111"/>
<polyline points="473.8,660.3 506.5,679.8" fill="none" stroke="#a75bbf" stroke-width="1.1"/>
<circle cx="473.8" cy="660.3" r="4.4" fill="#a75bbf"/>
<circle cx="506.5" cy="679.8" r="3.9" fill="#fff" stroke="#a75bbf" stroke-width="1.1"/>
<line x1="503" y1="525.2" x2="525.2" y2="525.2" stroke="#a75bbf" stroke-width="1.1"/>
<circle cx="514.1" cy="525.2" r="4.7" fill="#a75bbf"/>
<text x="531.4" y="529.6" font-size="14.8" fill="#222">SD: SNr GAD2</text>
<line x1="503" y1="553" x2="525.2" y2="553" stroke="#a75bbf" stroke-width="1.1"/>
<circle cx="514.1" cy="553" r="4.1" fill="#fff" stroke="#a75bbf" stroke-width="1.3"/>
<text x="531.4" y="557.6" font-size="14.8" fill="#222">Ctrl: SNr GAD2</text>
<path d="M716.3 559.8 L716.3 534.5 A25.3 25.3 0 0 1 727.2 537 Z" fill="#00b0f0"/>
<path d="M716.3 559.8 L727.2 537 A25.3 25.3 0 0 1 728.6 581.9 Z" fill="#808080"/>
<path d="M716.3 559.8 L728.6 581.9 A25.3 25.3 0 1 1 716.3 534.5 Z" fill="#ffc000"/>
<text x="717" y="522.8" font-size="12.9" fill="#222" text-anchor="middle">SR 0-2</text>
<text x="717.6" y="534.1" font-size="9.7" fill="#222">7.1%</text>
<text x="724.4" y="563.8" font-size="9.7" fill="#222">34.8%</text>
<text x="688.3" y="566.1" font-size="9.7" fill="#222">58.1%</text>
<text transform="translate(419 656.1) rotate(-90)" font-size="14.9" fill="#222" text-anchor="middle"><tspan word-spacing="2">Δ </tspan>cytosolic H<tspan font-size="9.238" dy="2.6">2</tspan><tspan dy="-2.6">O</tspan><tspan font-size="9.238" dy="2.6">2</tspan></text>
<text transform="translate(438.8 656.6) rotate(-90)" font-size="14.9" fill="#222" text-anchor="middle" word-spacing="0">rel. to ZT 23 (ΔR/R<tspan font-size="9.238" dy="2.6">0</tspan><tspan dy="-2.6"> %)</tspan></text>
<text x="605.6" y="813.6" font-size="14.8" fill="#222" text-anchor="middle">ZT (h)</text>
</g>
<g id="panelK">
<text x="782.3" y="529.2" font-size="18" fill="#000" font-weight="bold">K</text>
<line x1="839.5" y1="553" x2="839.5" y2="741.1" stroke="#333" stroke-width="1.3"/>
<line x1="838.9" y1="740.5" x2="1058.8" y2="740.5" stroke="#333" stroke-width="1.3"/>
<line x1="839.5" y1="553.5" x2="843.5" y2="553.5" stroke="#333" stroke-width="1.2"/>
<text x="832.3" y="558.2" font-size="13.3" fill="#222" text-anchor="end">4</text>
<line x1="839.5" y1="647" x2="843.5" y2="647" stroke="#333" stroke-width="1.2"/>
<text x="832.3" y="651.7" font-size="13.3" fill="#222" text-anchor="end">2</text>
<line x1="839.5" y1="740.5" x2="843.5" y2="740.5" stroke="#333" stroke-width="1.2"/>
<text x="832.3" y="745.2" font-size="13.3" fill="#222" text-anchor="end">0</text>
<line x1="873.8" y1="740.5" x2="873.8" y2="736.6" stroke="#333" stroke-width="1.2"/>
<text transform="translate(881.8 749.4) rotate(-60)" font-size="13.2" fill="#222" text-anchor="end">SD 4-6</text>
<line x1="926.8" y1="740.5" x2="926.8" y2="736.6" stroke="#333" stroke-width="1.2"/>
<text transform="translate(934.8 749.4) rotate(-60)" font-size="13.2" fill="#222" text-anchor="end">SR 0-2</text>
<line x1="981.3" y1="740.5" x2="981.3" y2="736.6" stroke="#333" stroke-width="1.2"/>
<text transform="translate(989.3 749.4) rotate(-60)" font-size="13.2" fill="#222" text-anchor="end">SD 4-6</text>
<line x1="1034.2" y1="740.5" x2="1034.2" y2="736.6" stroke="#333" stroke-width="1.2"/>
<text transform="translate(1042.2 749.4) rotate(-60)" font-size="13.2" fill="#222" text-anchor="end">SR 0-2</text>
<line x1="872.8" y1="633" x2="927.8" y2="650" stroke="#9e0b50" stroke-width="2.5" stroke-linecap="butt"/>
<line x1="872.8" y1="649.3" x2="927.8" y2="638.9" stroke="#9e0b50" stroke-width="2.5" stroke-linecap="butt"/>
<line x1="872.8" y1="658.3" x2="927.8" y2="641.6" stroke="#9e0b50" stroke-width="2.5" stroke-linecap="butt"/>
<line x1="872.8" y1="702" x2="927.8" y2="716.4" stroke="#9e0b50" stroke-width="2.5" stroke-linecap="butt"/>
<line x1="980.3" y1="590.8" x2="1035.2" y2="615.6" stroke="#a75bbf" stroke-width="2.5"/>
<line x1="980.3" y1="592.3" x2="1035.2" y2="631" stroke="#a75bbf" stroke-width="2.5"/>
<line x1="980.3" y1="617" x2="1035.2" y2="673.4" stroke="#a75bbf" stroke-width="2.5"/>
<line x1="980.3" y1="670" x2="1035.2" y2="689.3" stroke="#a75bbf" stroke-width="2.5"/>
<line x1="980.3" y1="676.5" x2="1035.2" y2="696.3" stroke="#a75bbf" stroke-width="2.5"/>
<path d="M871.8 564.2 L871.8 559.2 L925.6 559.2 L925.6 564.2" fill="none" stroke="#333" stroke-width="0.9"/>
<text x="872.6" y="554.4" font-size="13.1" fill="#222"><tspan font-style="italic">P</tspan> = 0. 89</text>
<path d="M981 561.2 L981 555.6 L1034.6 555.6 L1034.6 561.2" fill="none" stroke="#333" stroke-width="0.9"/>
<polygon points="1004.7,546.5 1005.5,548.7 1007.8,548.8 1005.9,550.2 1006.6,552.5 1004.7,551.1 1002.8,552.5 1003.5,550.2 1001.6,548.8 1003.9,548.7" fill="#111"/>
<polygon points="1011.5,546.5 1012.3,548.7 1014.6,548.8 1012.7,550.2 1013.4,552.5 1011.5,551.1 1009.6,552.5 1010.3,550.2 1008.4,548.8 1010.7,548.7" fill="#111"/>
<line x1="856.8" y1="788.2" x2="923.3" y2="788.2" stroke="#333" stroke-width="1.1"/>
<line x1="957.4" y1="788.2" x2="1024" y2="788.2" stroke="#333" stroke-width="1.1"/>
<text x="856.8" y="811.2" font-size="17.0" fill="#222">PZ vGAT</text>
<text x="957.4" y="811.2" font-size="17.0" fill="#222">SNr GAD2</text>
<text transform="translate(799.8 652.1) rotate(-90)" font-size="14.9" fill="#222" text-anchor="middle"><tspan word-spacing="2">Δ </tspan>cytosolic H<tspan font-size="9.238" dy="2.6">2</tspan><tspan dy="-2.6">O</tspan><tspan font-size="9.238" dy="2.6">2</tspan></text>
<text transform="translate(819.4 652.6) rotate(-90)" font-size="14.9" fill="#222" text-anchor="middle" word-spacing="0">rel. to ZT 23 (ΔR/R<tspan font-size="9.238" dy="2.6">0</tspan><tspan dy="-2.6"> %)</tspan></text>
</g>
</svg>
</body></html>
